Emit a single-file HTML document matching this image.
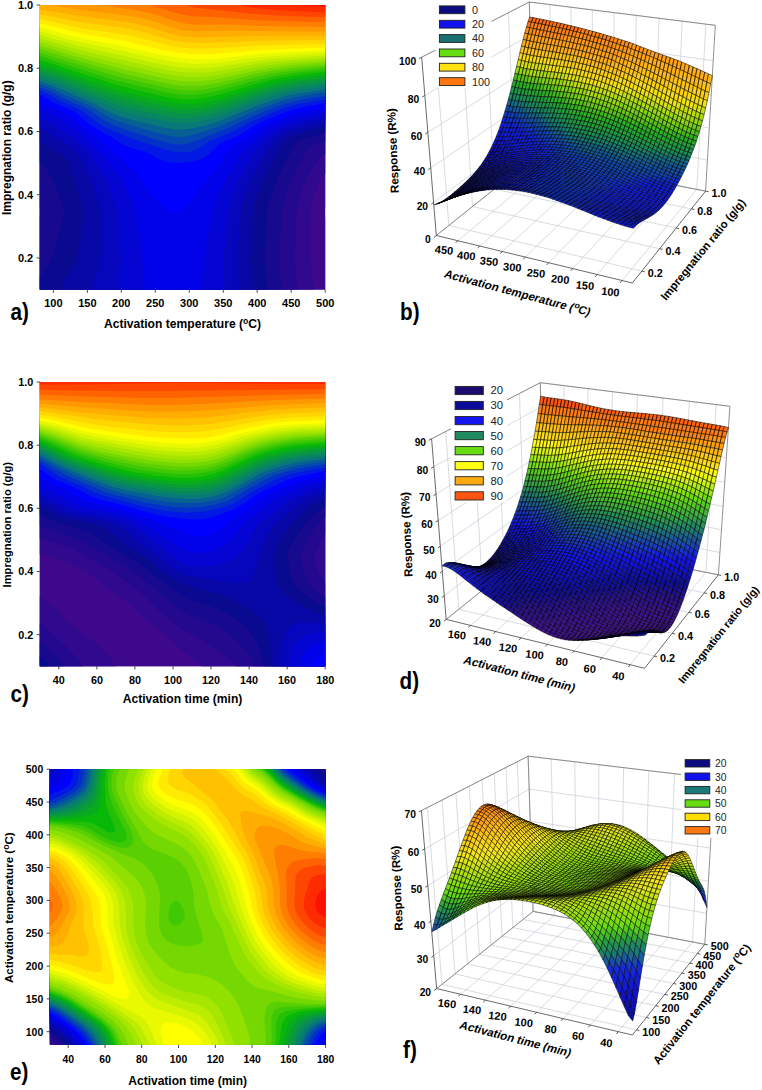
<!DOCTYPE html>
<html><head><meta charset="utf-8"><title>Figure</title>
<style>html,body{margin:0;padding:0;background:#fff}body{width:762px;height:1090px;overflow:hidden;font-family:"Liberation Sans",sans-serif}svg{display:block}</style>
</head><body>
<svg width="762" height="1090" viewBox="0 0 762 1090">
<rect width="762" height="1090" fill="#fff"/>
<g>
<rect x="39.8" y="5" width="285.4" height="284.6" fill="#4b088c"/>
<path fill="#3e088d" d="M39.8 289.6l285.4 0l0-70.6l-0.4-8.3l0.4-3.5l0-202.2l-285.4 0z"/>
<path fill="#31098e" d="M39.8 289.6l273.9 0l-3.1-31.1l0.3-50.2l2.3-9.6l5.3-14.3l3.7-7.2l3-3.3l0-168.9l-285.4 0z"/>
<path fill="#24098e" d="M39.8 289.6l257.8 0l-2.6-23.9l-0.3-7.2l2.1-45.4l0.7-7.2l4.9-16.7l4.6-12l4.2-7.2l5-7.2l4.2-5l2.4-2.3l2.4-1.6l0-148.9l-285.4 0z"/>
<path fill="#170a8f" d="M39.8 289.6l242.3 0l-2.7-23.9l-0.2-7.2l2.9-47.8l0.8-4.8l1.3-4.8l5.3-16.7l2.8-7.2l6.5-13l6.6-10.9l3.8-4.8l2.9-2.4l4.8-2.4l8.3-2.1l0-136.6l-285.4 0l0 202.1l1.1 3.6l-0.1 2.4l-1 3.5z"/>
<path fill="#0a0a90" d="M39.8 289.6l227.4 0l-2.8-28.7l2.4-47.8l0.5-4.8l1.2-4.8l7.4-21.5l2-4.8l11.3-22.9l4.4-8.2l1.7-2.4l2.7-2.4l4.9-2.4l8.1-2.4l14.2-3.2l0-128.3l-285.4 0l0 156.8l2.4 1.4l2 2l5.2 8.8l9.6 21l3.9 10.9l0.9 4.8l-0.4 4.8l-3 14.3l-3.8 14l-3.9 12.3l-2.2 4.8l-4.1 7.2l-4.2 6.3l-2.4 2.5z"/>
<path fill="#0808a6" d="M60.3 289.6l192.7 0l-2.3-28.7l2.4-50.2l0.8-4.8l1.4-4.8l8-21.5l15.3-28.7l4.3-7.2l1.8-2.4l2.1-1.8l4.9-3l7.1-2.7l15.3-4.4l11.1-2.6l0-121.8l-285.4 0l0 136.5l9.6 6.1l10.2 5.7l3.5 2.4l3.1 3.3l1.9 3.8l10 28.7l4.3 14.4l1 4.8l-0.3 7.2l-1.7 14.3l-2.3 14.4l-1.9 9.5l-1.6 4.8l-3.3 7.2l-11 19.1z"/>
<path fill="#0606bc" d="M90.9 289.6l148.2 0l-1.5-28.7l3.1-50.2l0.7-4.8l1.5-4.8l6-16.7l3.1-7.2l13.7-23.9l9.1-12l4.8-4.4l7.2-4.2l9.6-3.7l14.4-4.2l14.4-3.2l0-116.6l-285.4 0l0 122.3l4.8 2.4l12 9l14.4 9.5l4.8 3.9l3.4 3.6l2.9 4.8l9.9 21.5l6.2 19.1l2.4 9.6l0.3 21.5l-0.7 26.3l-1.4 7.2l-1.9 7.2z"/>
<path fill="#0404d3" d="M118.9 289.6l104.9 0l-0.2-31.1l4.9-50.2l2.1-7.2l8.4-21.5l10.6-19.1l2.8-4.8l3.6-4.8l14-14l7.2-5.2l9.6-4.7l9.6-3.3l14.4-4l14.4-2.9l0-111.8l-285.4 0l0 113l7.2 3.1l9.6 5.7l19.2 14l6.2 5.3l8.8 9.6l7.4 11.9l6.8 9.6l2.6 4.8l8.4 23.9l1.5 7.2l3.4 45.4l-0.5 12z"/>
<path fill="#0202e9" d="M145 289.6l56.6 0l2.6-31.1l2.3-14.3l7-35.9l2.6-7.2l10-21.5l15.2-26.3l4.4-4.8l9.9-7.4l9.6-8.1l5-3.6l4.6-2.7l10.6-4.5l13.4-4.5l12-3l14.4-2.7l0-107l-285.4 0l0 104.4l9.6 3.7l9.6 5.1l7.2 5l20.6 15.7l9.2 9.6l13.4 16.1l9.1 10.2l3.4 4.8l10.7 23.9l2.4 7.2l5.6 33.5z"/>
<path fill="#00f" d="M172.6 213.1l3.9-0.1l2.4-1l4.8-3.6l4.8-5l18.6-23.8l12.6-15.1l8.7-13.6l2-2.4l2.8-2.4l15.3-8.4l14.6-10.7l9.5-4.8l14.2-5.7l12-3.9l10.4-2.4l16-2.8l0-102.4l-285.4 0l0 96.4l7.8 4l11.7 4.8l6.9 3.5l4.8 3.4l12 9.9l13.8 9.5l2.9 2.4l9.7 9.9l18.7 16.4l5 4.8l6 7.2l11 15.8l7.2 8.2l9.6 9.2l2.4 1.6z"/>
<path fill="#0218e4" d="M162.3 160.5l7 1.7l4.8 0.5l7.2 0.1l9.6-1l9.6-2.4l4.8-2.2l4.8-3.5l6.7-7.6l3.1-2.4l4.8-2.4l14.2-5.9l4.8-2.6l12.7-8.2l4.8-2.4l18.4-7.9l11.3-4.1l12.7-3.1l21.6-4l0-98.1l-285.4 0l0 89.8l2.4 1.1l9.6 5.9l19.2 8.1l4.8 2.7l11.4 9.6l5.4 3.9l7.2 4.5l10.8 5.9l10.7 7.1l7.2 3.3l13.3 4l6.4 2.4l9.1 5.2z"/>
<path fill="#0330c9" d="M170.5 150.9l6 1.2l7.2 0.4l4.8-0.5l4.8-1.1l4.8-2.1l11.5-7.5l22.1-9l18.9-10.1l27.4-12l8.8-2.9l12-3.1l16.8-3.3l9.6-1.5l0-94.4l-285.4 0l0 85.6l6.6 2.9l12.6 7l16.8 7l5.3 2.7l16.3 12.3l4.8 2.9l7.2 3.7l26.3 10.9l28.8 9.3z"/>
<path fill="#0548ae" d="M171.3 143.7l5.2 0.8l4.8 0.1l4.8-0.6l4.8-1.3l34.2-13.3l25.6-12l16.4-7.2l10.1-3.9l9.6-2.9l12-3l12-2.3l14.4-2.1l0-91l-285.4 0l0 82.5l4 1.2l5.5 2.4l14.1 7.2l21.8 9.5l4.2 2.4l12.8 9.1l9.5 5l12 4.6l31.2 10.3l9.6 2.9z"/>
<path fill="#066093" d="M172.2 136.5l9.1 0.5l4.8-0.6l7.2-1.7l26.4-8.5l42.7-18.4l14.8-5.3l12-3.5l9.6-2.2l12-2.2l14.4-2l0-87.6l-285.4 0l0 79.6l4.8 1.3l7.1 2.8l16.9 8l19.2 8.3l7.2 3.7l12 7.5l9.5 4.4l12 4l31.2 9.1z"/>
<path fill="#087878" d="M175.5 129.4l5.8 0.2l7.2-0.6l7.2-1.2l9.6-2.1l14.4-4.6l40.7-16.6l19.2-6.6l9.6-2.6l9.6-2l26.4-3.9l0-84.4l-285.4 0l0 76.6l9.6 2.9l10.5 4.2l32.4 14.4l19.4 10l7.2 3l9.6 2.8l31.2 7.7l9.6 2z"/>
<path fill="#088562" d="M168.8 122.2l7.7 0.9l9.6 0.2l7.2-0.5l9.6-1.7l9.6-2.5l9.6-3.1l38-14.8l19.5-6.4l9.6-2.4l9.6-1.9l26.4-3.8l0-81.2l-285.4 0l0 73.3l7.2 2.1l14.4 5.3l34.7 15l18 8.1l7.2 2.7l12 3.2z"/>
<path fill="#08924b" d="M171.7 117.4l9.6 0.9l7.2 0l7.2-0.7l9.6-1.8l9.6-2.5l9.6-3.1l31.6-11.9l21.1-6.9l19.2-4.2l28.8-4.1l0-78.1l-285.4 0l0 69.7l4.8 1.4l19.2 6.9l45.6 18.8l11.9 4.5l14.4 3.7z"/>
<path fill="#089e35" d="M172.7 112.6l8.6 0.9l7.2 0l7.2-0.6l9.6-1.6l16.8-4.6l36.9-13.2l15.8-4.8l21.6-4.6l28.8-4l0-75.1l-285.4 0l0 66l4.8 1.3l19.2 6.8l35.9 14.4l19.2 6.8l16.8 4.6l26.4 5.8z"/>
<path fill="#08ab1e" d="M173 107.8l8.3 0.9l7.2 0.1l7.2-0.5l9.6-1.5l14.4-3.7l38.3-13l16.8-4.8l21.6-4.3l28.8-3.8l0-72.2l-285.4 0l0 62.2l24 8l36 13.7l16.7 5.7l19.2 5.1l26.4 6.1z"/>
<path fill="#08b808" d="M173.1 103.1l8.2 0.9l7.2 0.2l7.2-0.4l9.6-1.4l14.4-3.5l38.3-12.4l16.8-4.4l21.6-4.1l28.8-3.6l0-69.4l-285.4 0l0 58.5l25.8 8.5l36.6 13.1l14.3 4.6l12 3.2l31.2 7.5z"/>
<path fill="#23c006" d="M172.7 98.3l8.6 1l7.2 0.3l7.2-0.4l9.6-1.3l16.8-3.9l32.8-10.1l19.2-4.8l22.3-3.9l28.8-3.5l0-66.7l-285.4 0l0 54.8l74.3 24.5l19.2 5l28.8 6.8z"/>
<path fill="#3ec805" d="M171.8 93.5l9.5 1.3l7.2 0.3l7.2-0.3l9.6-1.2l14.4-3l31.7-9.1l21-5l24-4l28.8-3.2l0-64.3l-285.4 0l0 51.2l74.3 23.7l19.2 4.9z"/>
<path fill="#5ad003" d="M170.6 88.7l8.3 1.3l9.6 0.6l7.2-0.2l9.6-1l14.4-2.8l33.6-8.9l19.1-4.1l24-3.7l28.8-2.9l0-62l-285.4 0l0 47.7l74.3 22.8l19.2 4.8z"/>
<path fill="#75d802" d="M169.2 83.9l9.7 1.5l7.2 0.6l9.6 0l9.6-0.8l14.4-2.5l33.6-8.2l16.7-3.4l24-3.4l31.2-3l0-59.7l-285.4 0l0 44.1l33.6 10.4l40.7 11.6l19.2 4.8z"/>
<path fill="#90e000" d="M185.7 81.5l12.4 0.1l12-1.3l14.4-2.6l31.1-7l14.4-2.5l24-3.1l31.2-2.7l0-57.4l-285.4 0l0 40.6l36 10.8l47.9 12.8l43.2 9.8l9.6 1.6z"/>
<path fill="#a6e600" d="M182.2 76.7l13.5 0.6l12-0.8l12-1.8l33.6-6.8l16.7-2.7l24-2.6l31.2-2.4l0-55.2l-285.4 0l0 37.1l36 10.6l47.9 12.1l40.8 9.2z"/>
<path fill="#bcec00" d="M179.9 72l13.4 0.8l14.4-0.6l12-1.5l31.2-5.7l16.7-2.4l24-2.4l33.6-2.3l0-52.9l-285.4 0l0 33.5l28.8 8.5l14.4 3.7l70.9 16.5l15.4 3.1z"/>
<path fill="#d3f300" d="M178.2 67.2l15.1 1.2l14.4-0.4l12-1.3l31.2-5l16.7-2.1l26.4-2.2l31.2-1.8l0-50.6l-285.4 0l0 29.9l26.4 7.7l14.4 3.7l76.7 17.1z"/>
<path fill="#e9f900" d="M176.9 62.4l16.4 1.5l14.4-0.2l13.9-1.3l26.9-3.8l16.7-1.9l28.8-2l31.2-1.6l0-48.1l-285.4 0l0 26.3l4.8 1.1l20.5 6.1l13.1 3.3l35.9 7.3l45.6 10.2z"/>
<path fill="#ff0" d="M176.5 57.6l16.8 1.7l14.4 0l12-0.9l28.8-3.5l14.3-1.3l28.8-1.7l33.6-1.4l0-45.5l-285.4 0l0 22.5l7.2 1.6l21.6 6.2l9.6 2.4l40.7 7.6l36 8.3z"/>
<path fill="#ffea00" d="M179 52.8l14.3 1.4l14.4 0.1l12-0.7l43.1-3.8l62.4-2.4l0-42.4l-285.4 0l0 18.4l9.6 2.1l31.2 8l45.5 7.8l36 8.6z"/>
<path fill="#ffd600" d="M185.9 48l12.2 0.7l12-0.1l52.7-3.3l62.4-1.6l0-38.7l-285.4 0l0 13.8l43.2 9.6l45.5 6.9l12 2.7l26.4 7l9.6 1.9z"/>
<path fill="#ffc100" d="M175.7 40.9l12.8 1.7l14.4 0.5l57.5-2.3l64.8-1.1l0-34.7l-285.4 0l0 9.2l43.2 8.3l38.3 5.1l12 2.1l12 2.9l21.6 6.3z"/>
<path fill="#ffad00" d="M181.7 36.1l9.2 1l9.6 0.2l43.2-1.1l81.5-0.6l0-30.6l-285.4 0l0 4.3l40.8 6.8l38.3 4.8l14.4 2.2l14.4 3.4l22.8 7.2z"/>
<path fill="#ff9800" d="M193 31.3l36.3-0.5l95.9 0.6l0-26.4l-273 0l11.3 2.4l15.4 2.4l40 4.7l16.8 2.5l14.4 3.3l26.4 8.7l7.2 1.4z"/>
<path fill="#ff7d00" d="M297.1 26.5l28.1 0.4l0-21.9l-222.6 0l28.3 4.4l14.4 2.7l12 3.2l21.6 6.9l10 1.9l9.2 0.6l26.4-0.1l35.9 1.3z"/>
<path fill="#ff6200" d="M307.1 21.7l18.1 0.4l0-17.1l-175 0l6.8 2.4l21.9 6.3l7.2 1.6l7.2 1l31.2 1.5l38.3 2.6z"/>
<path fill="#ff4600" d="M313.7 17l11.5 0.3l0-12.3l-141.1 0l9.2 2.3l4.8 0.7l55.2 5.9l23.9 1.6z"/>
<path fill="#ff2b00" d="M318.8 12.2l6.4 0.2l0-7.4l-85.3 0l11.7 2.4l18.4 2.1l19.2 1.3z"/>
<path fill="#ff1000" d="M298.3 5l26.9 2.1l0-2.1z"/>
</g>
<line x1="53.4" y1="289.6" x2="53.4" y2="292.8" stroke="#222" stroke-width="0.8"/>
<text x="53.4" y="307.4" text-anchor="middle" font-size="11" font-family="Liberation Sans" font-weight="bold">100</text>
<line x1="87.4" y1="289.6" x2="87.4" y2="292.8" stroke="#222" stroke-width="0.8"/>
<text x="87.4" y="307.4" text-anchor="middle" font-size="11" font-family="Liberation Sans" font-weight="bold">150</text>
<line x1="121.3" y1="289.6" x2="121.3" y2="292.8" stroke="#222" stroke-width="0.8"/>
<text x="121.3" y="307.4" text-anchor="middle" font-size="11" font-family="Liberation Sans" font-weight="bold">200</text>
<line x1="155.3" y1="289.6" x2="155.3" y2="292.8" stroke="#222" stroke-width="0.8"/>
<text x="155.3" y="307.4" text-anchor="middle" font-size="11" font-family="Liberation Sans" font-weight="bold">250</text>
<line x1="189.3" y1="289.6" x2="189.3" y2="292.8" stroke="#222" stroke-width="0.8"/>
<text x="189.3" y="307.4" text-anchor="middle" font-size="11" font-family="Liberation Sans" font-weight="bold">300</text>
<line x1="223.3" y1="289.6" x2="223.3" y2="292.8" stroke="#222" stroke-width="0.8"/>
<text x="223.3" y="307.4" text-anchor="middle" font-size="11" font-family="Liberation Sans" font-weight="bold">350</text>
<line x1="257.2" y1="289.6" x2="257.2" y2="292.8" stroke="#222" stroke-width="0.8"/>
<text x="257.2" y="307.4" text-anchor="middle" font-size="11" font-family="Liberation Sans" font-weight="bold">400</text>
<line x1="291.2" y1="289.6" x2="291.2" y2="292.8" stroke="#222" stroke-width="0.8"/>
<text x="291.2" y="307.4" text-anchor="middle" font-size="11" font-family="Liberation Sans" font-weight="bold">450</text>
<line x1="325.2" y1="289.6" x2="325.2" y2="292.8" stroke="#222" stroke-width="0.8"/>
<text x="325.2" y="307.4" text-anchor="middle" font-size="11" font-family="Liberation Sans" font-weight="bold">500</text>
<line x1="36.6" y1="258.0" x2="39.8" y2="258.0" stroke="#222" stroke-width="0.8"/>
<text x="33.2" y="261.9" text-anchor="end" font-size="11" font-family="Liberation Sans" font-weight="bold">0.2</text>
<line x1="36.6" y1="194.7" x2="39.8" y2="194.7" stroke="#222" stroke-width="0.8"/>
<text x="33.2" y="198.6" text-anchor="end" font-size="11" font-family="Liberation Sans" font-weight="bold">0.4</text>
<line x1="36.6" y1="131.5" x2="39.8" y2="131.5" stroke="#222" stroke-width="0.8"/>
<text x="33.2" y="135.4" text-anchor="end" font-size="11" font-family="Liberation Sans" font-weight="bold">0.6</text>
<line x1="36.6" y1="68.2" x2="39.8" y2="68.2" stroke="#222" stroke-width="0.8"/>
<text x="33.2" y="72.1" text-anchor="end" font-size="11" font-family="Liberation Sans" font-weight="bold">0.8</text>
<line x1="36.6" y1="5.0" x2="39.8" y2="5.0" stroke="#222" stroke-width="0.8"/>
<text x="33.2" y="8.9" text-anchor="end" font-size="11" font-family="Liberation Sans" font-weight="bold">1.0</text>
<text x="182.5" y="328.0" text-anchor="middle" font-size="12.1" font-family="Liberation Sans" font-weight="bold">Activation temperature (<tspan dy="-4.3" font-size="8.6">o</tspan><tspan dy="4.3">C)</tspan></text>
<text transform="translate(11.3 147.7) rotate(-90)" text-anchor="middle" font-size="12" font-family="Liberation Sans" font-weight="bold">Impregnation ratio (g/g)</text>
<text transform="translate(10.5 319.7) scale(.88 1)" font-size="23.5" font-family="Liberation Sans" font-weight="bold">a)</text>
<g>
<rect x="39.8" y="382" width="285.4" height="284.2" fill="#4b088c"/>
<path fill="#3e088d" d="M39.8 666.2l285.4 0l0-284.2l-285.4 0z"/>
<path fill="#31098e" d="M39.8 666.2l75.9 0l-0.9-2.4l-3.3-4.8l-6.9-8l-6.4-6.3l-5.7-4.8l-14.3-9.5l-7.2-5.6l-4.4-4l-7.6-9.5l-2.4-2.4l-16.8-13zM199.4 663.8l1.6 2.4l124.2 0l0-284.2l-285.4 0l0 171.9l11.8 2.4l7.5 2.4l5.6 2.4l19.6 9.6l8.5 4.7l5.9 4.8l5.9 6l4.2 3.6l14.9 9.4l6.6 4.9l12.6 12.6l22.8 18.5l13.2 12.9l16.8 12.4z"/>
<path fill="#24098e" d="M39.8 666.2l42.8 0l-1-2.4l-1.7-2.4l-10.7-11.9l-24.6-22.7l-4.8-3.6zM235.5 666.2l89.7 0l0-83.7l-2.4-2.7l-3.7-6.7l-3.9-9.6l-1-4.8l0.1-2.4l1.3-4.7l7.2-13.7l2.4-3.2l0-152.7l-285.4 0l0 156.5l26.4 8l9.6 3.6l7.5 3.9l11.7 7.7l15.8 9l3.6 2.4l12.2 9.5l14.2 9.6l4.5 4.3l12 12.8l14.4 12.2l9.6 6.8l20.3 11.6l13.3 8.9l16.8 12.4l2.5 2.6z"/>
<path fill="#170a8f" d="M39.8 666.2l23.7 0l-1-2.4l-1.5-2.4l-6.5-7.1l-8.1-7.2l-4.2-3.1l-2.4-1.2zM252.8 663.8l0.6 2.4l71.8 0l0-68.8l-2.4-1.1l-5.5-4.1l-4.5-4.8l-3.6-4.8l-2.6-4.8l-2.6-7.1l-2.6-9.6l-0.6-4.8l0.1-2.3l1.7-4.8l12.7-21.5l5.1-6.3l2.4-2.2l2.4-1.6l0-135.6l-285.4 0l0 143.6l36 13.4l7.2 3l9.6 5.2l16.8 10.6l18.9 10.5l25.6 19.1l5.3 4.8l10.1 10.2l9.6 7.1l12 6.5l24.4 9.6l4.6 2.4l7 4.7l9.6 8.2l7.2 7.5l4.8 6.6l2.4 4.2z"/>
<path fill="#0a0a90" d="M39.8 666.2l9.2 0l-1.1-2.4l-1.9-2.4l-3.8-3.6l-2.4-1.4zM263.6 666.2l61.6 0l0-59.4l-2.4-0.8l-4.8-2.5l-10.1-6.6l-5.9-4.7l-6.8-7.2l-1.7-2.4l-2-4.8l-2.6-11.9l-1.3-9.6l0.5-4.7l2.1-4.8l4.2-7.2l7.8-11.9l3.9-4.8l7.1-7.2l7.2-6.3l4.8-3.1l0-124.3l-285.4 0l0 132.5l9.6 4.7l32.6 10.9l11 4.7l6.8 4.1l14.4 10.3l24.9 14.3l17.9 14.3l13.7 9.6l8.2 6.3l4.8 3l9.6 4.1l16.8 5.1l7.2 2.7l9.6 4.7l8.3 5.1l6.1 4.6l4.8 4.5l4.5 5.3l3.2 4.7l3.7 7.2l2.7 7.2l2.6 9.5z"/>
<path fill="#0808a6" d="M272 666.2l53.2 0l0-50.9l-4.8-1l-7.2-2.4l-9.6-4.7l-14.4-9.7l-7.2-6.7l-4.3-5.8l-1.7-4.8l-1.4-11.9l-0.3-9.6l0.7-7.1l2.8-7.2l5.2-9.6l6.9-9.5l12.3-11.9l8.4-7.2l7.5-4.8l7.1-2.9l0-116.5l-285.4 0l0 123.9l2.4 1.1l9.6 5.9l7.2 3.1l9.6 2.7l26.4 5.6l3.6 1l5.9 2.4l6.9 4.8l13.7 11.9l20.2 12.7l5.3 4l11.5 9.9l9.6 6.4l9.6 4.9l12 4.8l9.6 2.9l16.8 4.1l8.2 2.8l9.8 4.8l15.5 9.6l4.8 3.7l3.4 3.4l3.2 4.8l2 4.8l2.2 9.5z"/>
<path fill="#0606bc" d="M279.9 666.2l45.3 0l0-42.8l-19.2-1l-7.2 0.4l-4.8 1.3l-2.4 1.4l-2.4 2l-2.4 2.9l-2.4 4.1l-2.8 7.8l-1.1 7.2zM234.3 582.6l7 0.5l4.8-0.5l2.4-0.9l2.1-1.5l1.8-2.4l2-4.7l3.3-12l6.8-19.1l5.5-11.6l3.8-5.1l19.6-16.7l6.2-4.8l3.8-2.4l7.4-3.6l9.6-3.9l4.8-1.4l0-110.5l-285.4 0l0 118l4.8 1.8l14.4 8.1l7.2 2.9l9.6 2.5l28.8 5.2l8 2.4l5.6 2.4l3.8 2.4l16.1 14l16.8 12l14.1 12.2l5.1 3.4l7.2 3.6l7.2 2.4l9.6 2.2z"/>
<path fill="#0404d3" d="M288.4 666.2l36.8 0l0-34.4l-9.6 1.4l-7.3 2l-7.1 3.2l-4.8 3.9l-2.4 2.9l-2.4 4.7l-2.4 9.1zM189.7 565.9l6 0.9l4.8 0.2l4.8-0.2l7.2-0.9l12-3.2l9.6-4.3l4.8-3.3l4.8-5.1l4.8-7.8l7-14.5l1.9-2.4l2.5-2.4l12.9-9.5l11.6-9.6l3.6-2.4l8.4-4.2l12.5-5.3l9.1-3.3l7.2-1.9l0-104.7l-285.4 0l0 112.1l4.8 1.4l4.8 2l15.4 8.7l5.1 2.4l3.5 1.2l7.2 1.8l28.8 4.9l9.5 2.9l8.8 3.5l4.7 2.4l3.7 2.4l27.6 21.5l14.6 11.9l5.4 2.9z"/>
<path fill="#0202e9" d="M298.3 666.2l26.9 0l0-25.1l-4.8 1.3l-5.9 2.3l-4.2 2.4l-3 2.4l-3.7 4.3l-2.4 4l-1.6 3.6zM188.7 551.6l7 1.3l7.2-0.3l9.6-2.2l9.6-3.9l4.8-3l4.8-4l3.9-4.7l6.6-9.5l2.3-2.4l5.8-4.8l10.1-7.2l11.7-9.5l3.6-2.4l8.7-4.2l19.2-7.9l12-3.8l9.6-2l0-99.1l-285.4 0l0 104.5l16.8 6.8l16.8 9.5l7.2 3.1l9.6 2.4l16.8 2.8l9.5 2.1l9.6 3.2l15.9 6.5l9 4.8l27.9 19.1l4.8 2.7z"/>
<path fill="#00f" d="M311.3 666.2l13.9 0l0-13.9l-4.8 2.7l-4.6 4l-2.6 3.2zM188.3 534.8l5 1.2l7.2 0.5l7.2-1l4.8-1.6l7.2-4l17.5-14.2l13.7-8.3l10.4-8.4l3.4-2.4l4.3-2.4l29.8-12.4l9.6-2.8l16.8-3.2l0-93.8l-285.4 0l0 94.8l8.8 5.5l16.8 7.2l12.8 7.4l7.2 3.5l7.2 2.4l23.9 5.4l14.4 4.3l30 10.4l6 2.4l14.4 6.8z"/>
<path fill="#0218e4" d="M179.2 518.1l11.7 1.1l7.2 0.1l7.2-0.7l7.2-1.7l14.4-5l9.6-3.9l7.4-4.2l12.8-9.6l6.1-3.2l24.5-11.1l7.1-2.4l6.8-1.6l24-4.8l0-89.1l-285.4 0l0 86.5l2.4 1.6l6 5l6 3.8l19.5 8.2l14.1 7.7l7.2 3l7.2 2.2l23.9 6.1l28.8 8.2l12 2.3z"/>
<path fill="#0330c9" d="M165.4 511l15.9 1.4l14.4-0.2l14.4-1.8l12-2.7l7.2-2.5l4.8-2.2l4.8-2.8l12.3-8.3l23.6-12l5.6-2.4l7.3-2.4l9.6-2.3l13.5-2.9l14.4-2.3l0-85.6l-285.4 0l0 82l3.3 1.6l8.7 6.2l7.2 4.4l7.2 3.4l18.1 7.5l9.2 4.8l6.3 2.6l9.6 3l35.9 9.4l12 2.7z"/>
<path fill="#0548ae" d="M164.8 506.2l14.1 1.4l12 0.1l14.4-1.2l12-2.2l7.2-2.3l4.8-2l13.5-8.1l12.8-7.1l14.1-7.3l5.8-2.4l8.9-2.8l14.4-3.5l14.4-2.7l12-1.6l0-82.5l-285.4 0l0 78.6l2.4 1l16.8 10l7.2 3.7l38.4 16.6l9.5 2.9l31.2 7.6z"/>
<path fill="#066093" d="M163.1 501.4l13.4 1.5l14.4 0.4l12-0.8l12-2l7.2-2.3l4.8-2l33.9-18.7l11.6-5l12-3.7l13.4-3.2l14-2.4l13.4-1.6l0-79.6l-285.4 0l0 75.5l21.6 11.5l9.6 4.7l38.4 15.8l14.3 3.9l26.4 5.7z"/>
<path fill="#087878" d="M186.1 499l9.6-0.1l7.2-0.5l12-2.2l4.8-1.5l7.2-3l12-6.1l18.5-10.5l5.4-2.5l9.6-3.6l11-3.4l10.6-2.5l13.4-2.3l17.8-2.1l0-76.7l-285.4 0l0 72.6l2.4 1l16.8 9.1l14.4 6.6l21.6 9l19.1 6.9l12 3.1l31.2 5.8l14.4 2z"/>
<path fill="#088562" d="M172.4 494.2l11.3 0.9l12 0l9.6-0.9l7.2-1.4l7.2-2.2l7.2-2.9l9.6-4.8l18-10.1l8.3-3.8l9.6-3.5l9.6-2.9l12-2.6l14.4-2.2l16.8-1.8l0-74l-285.4 0l0 69.8l4.2 1.8l15 8.2l9.6 4.4l26.4 10.7l16.7 6.1l9.6 2.7l12 2.5l26.4 4.4z"/>
<path fill="#08924b" d="M161.9 489.5l14.6 1.7l12 0.5l12-0.5l9.6-1.6l7.2-2l7.2-2.7l9.6-4.7l19.2-10.4l9.5-4.2l9.6-3.5l9.6-2.6l12-2.4l14.4-2.1l16.8-1.7l0-71.3l-285.4 0l0 67.2l4.8 2.1l14.4 7.7l9.6 4.4l28.8 11.2l12 4.3l9.5 2.8l12 2.7z"/>
<path fill="#089e35" d="M168.6 487.1l12.7 1l9.6 0.2l9.6-0.7l9.6-1.6l7.2-2.1l7.2-2.8l28.8-14.8l7.1-3.1l9.6-3.5l12-3.2l12-2.3l14.4-1.9l16.8-1.6l0-68.7l-285.4 0l0 64.8l4.8 1.9l16.8 8.8l9.6 4.3l40.7 14.6l9.6 2.7l12 2.6l19.2 3.2z"/>
<path fill="#08ab1e" d="M178.5 484.7l10 0.2l7.2-0.3l7.2-0.8l7.2-1.5l12-3.9l31.2-15.5l9.5-3.9l7.2-2.3l12-3l13-2.4l13.4-1.7l16.8-1.5l0-66.1l-285.4 0l0 62.4l4.8 1.8l19.2 9.7l9.6 4.2l12 4.3l28.7 9.5l14.3 3.6l14.5 2.8l19.2 2.8z"/>
<path fill="#08b808" d="M162.4 479.9l14.1 1.3l12 0.3l9.6-0.7l9.6-1.6l7.2-1.9l7.2-2.6l31.2-15.1l7.1-2.8l7.2-2.3l12-3.1l13.3-2.5l15.5-1.9l16.8-1.3l0-63.7l-285.4 0l0 60.1l5.4 2l21 10.1l9.6 4.1l31.2 10.2l11.9 3.5l12 2.8l15 2.7z"/>
<path fill="#23c006" d="M172.8 477.5l8.5 0.4l9.6-0.1l9.6-0.9l7.2-1.3l7.2-1.9l7.2-2.6l28.8-13.6l9.5-3.7l8.7-2.5l12.9-3.1l12-2.1l14.4-1.6l16.8-1.2l0-61.3l-285.4 0l0 57.8l5.4 1.9l23.4 10.9l9.6 3.9l12 3.9l21.5 6.3l14.2 3.7l12.2 2.4l19.2 3.1z"/>
<path fill="#3ec805" d="M160.7 472.8l13.4 1.2l12 0.3l9.6-0.5l9.6-1.3l7.2-1.7l7.2-2.3l7.2-3l24-11l8.9-3.2l8.1-2.4l11.7-2.8l12-2.1l14.4-1.6l19.2-1.4l0-59l-285.4 0l0 55.6l7.2 2.5l28.8 12.7l14.4 4.8l23.9 6.4l14.4 3.5l14.4 2.7z"/>
<path fill="#5ad003" d="M175.2 470.4l8.5 0.2l9.6-0.3l7.2-0.7l7.2-1.2l12-3.4l28.8-12.5l9.5-3.4l9.6-2.8l12-2.7l12-2l14.4-1.5l19.2-1.3l0-56.8l-285.4 0l0 53.5l9.6 3.3l28.8 12l19.2 5.8l23.9 5.8l16.8 3.4l19.2 2.9z"/>
<path fill="#75d802" d="M161.8 465.6l12.3 1l12 0.3l9.6-0.4l9.6-1.2l7.2-1.6l7.2-2.2l28.8-11.9l9.5-3.2l12-3.3l12-2.4l12-1.7l14.4-1.4l16.8-0.9l0-54.7l-285.4 0l0 51.5l10.9 3.4l27.5 11l14.4 4.4l40.7 9.1l14.4 2.4z"/>
<path fill="#90e000" d="M182.6 463.2l15.5-0.6l7.2-0.9l7.2-1.5l9.6-3l28.8-11.3l11.9-3.6l12-2.7l9.6-1.7l12-1.5l28.8-1.8l0-52.6l-285.4 0l0 49.4l10.6 3.1l30.2 11.3l19.2 5.2l28.7 5.9l19.2 3.3l19.2 2.2z"/>
<path fill="#a6e600" d="M163.8 458.4l10.3 0.8l12 0.3l9.6-0.3l9.6-1.1l12-2.8l33.6-12.2l9.5-2.8l9.6-2.2l12-2.2l12-1.6l14.4-1.1l16.8-0.8l0-50.4l-285.4 0l0 47.3l12 3.4l26.4 9.5l14.4 4l43.1 8.5l14.4 2.2z"/>
<path fill="#bcec00" d="M153.7 453.6l13.2 1.3l14.4 0.8l12-0.1l9.6-0.9l7.2-1.2l7.2-1.8l33.6-11.4l19.1-4.8l12-2l12-1.5l14.4-1.1l16.8-0.6l0-48.3l-285.4 0l0 45.2l12 3.2l28.8 9.5l12 3.2l38.3 7.2z"/>
<path fill="#d3f300" d="M168.5 451.3l20 0.6l9.6-0.4l7.2-0.9l7.2-1.3l7.2-1.9l31.2-10.1l19.1-4.3l12-2l12-1.4l31.2-1.5l0-46.1l-285.4 0l0 43.1l12 2.9l28.8 8.9l14.4 3.5l45.5 7.8l14.4 1.8z"/>
<path fill="#e9f900" d="M157.5 446.5l14.2 1.1l12 0.4l9.6-0.2l9.6-0.7l14.4-2.7l28.8-8.8l9.5-2.4l14.4-2.9l12-1.9l12-1.3l31.2-1.3l0-43.8l-285.4 0l0 40.9l12 2.6l26.4 7.7l15.8 3.7l41.7 6.8z"/>
<path fill="#ff0" d="M150.3 441.7l16.6 1.4l14.4 0.7l12-0.1l9.6-0.7l12-1.9l28.8-8.3l16.7-3.8l12-2.2l21.6-2.4l31.2-1.2l0-41.2l-285.4 0l0 38.5l14.4 2.8l23.2 6.5l15.2 3.3l23.5 3.8z"/>
<path fill="#ffea00" d="M151.7 436.9l15.2 1.2l14.4 0.5l12 0.1l9.6-0.6l9.6-1.4l33.6-8.4l23.9-4.7l24-2.5l31.2-1l0-38.1l-285.4 0l0 35.8l16.8 3l26.4 6.5l9.6 1.8l38.8 5.4z"/>
<path fill="#ffd600" d="M179.7 432.2l16-0.2l14.4-1.4l12-2.1l33.5-6.9l21.6-3.1l21.6-1.6l26.4-0.7l0-34.2l-285.4 0l0 32.5l14.4 2.3l31.2 6.2l12 1.9l50.3 5.6l16.8 1.2z"/>
<path fill="#ffc100" d="M159.8 425l23.9 0.4l19.2-0.9l14.4-1.6l33.6-5.6l21.5-2.8l24-1.8l28.8-0.8l0-29.9l-285.4 0l0 29.1l55.2 7.9l45.5 4.6z"/>
<path fill="#ffad00" d="M147.3 417.8l24.4 0.8l26.4-0.7l16.8-1.4l36-4.5l21.5-2.2l21.6-1.4l31.2-0.8l0-25.6l-285.4 0l0 25.4l48 5.5z"/>
<path fill="#ff9800" d="M133.7 410.7l28.4 1.1l28.8-0.5l21.6-1.2l62.3-5.2l21.6-1l28.8-0.8l0-21.1l-285.4 0l0 21.7l43.2 3.6z"/>
<path fill="#ff7d00" d="M118.4 403.5l31.7 1.4l28.8-0.1l28.8-1.1l67.1-3.7l50.4-1.4l0-16.6l-285.4 0l0 17.4l38.4 2.3z"/>
<path fill="#ff6200" d="M83.4 396.3l59.5 1.6l21.6 0.1l40.8-0.9l67.1-2.2l52.8-1l0-11.9l-285.4 0l0 12.7z"/>
<path fill="#ff4600" d="M39.8 389.2l0 0.5l31.2 0.7l76.7 0.6l177.5-1.8l0-7.2l-285.4 0z"/>
<path fill="#ff2b00" d="M46.5 384.4l38.9 0.1l98.3-1.8l100.7 1.4l26.4 0l14.4-0.1l0-2l-285.4 0l0 2.3z"/>
</g>
<line x1="58.8" y1="666.2" x2="58.8" y2="669.4" stroke="#222" stroke-width="0.8"/>
<text x="58.8" y="684.0" text-anchor="middle" font-size="10.8" font-family="Liberation Sans" font-weight="bold">40</text>
<line x1="96.9" y1="666.2" x2="96.9" y2="669.4" stroke="#222" stroke-width="0.8"/>
<text x="96.9" y="684.0" text-anchor="middle" font-size="10.8" font-family="Liberation Sans" font-weight="bold">60</text>
<line x1="134.9" y1="666.2" x2="134.9" y2="669.4" stroke="#222" stroke-width="0.8"/>
<text x="134.9" y="684.0" text-anchor="middle" font-size="10.8" font-family="Liberation Sans" font-weight="bold">80</text>
<line x1="173.0" y1="666.2" x2="173.0" y2="669.4" stroke="#222" stroke-width="0.8"/>
<text x="173.0" y="684.0" text-anchor="middle" font-size="10.8" font-family="Liberation Sans" font-weight="bold">100</text>
<line x1="211.0" y1="666.2" x2="211.0" y2="669.4" stroke="#222" stroke-width="0.8"/>
<text x="211.0" y="684.0" text-anchor="middle" font-size="10.8" font-family="Liberation Sans" font-weight="bold">120</text>
<line x1="249.1" y1="666.2" x2="249.1" y2="669.4" stroke="#222" stroke-width="0.8"/>
<text x="249.1" y="684.0" text-anchor="middle" font-size="10.8" font-family="Liberation Sans" font-weight="bold">140</text>
<line x1="287.1" y1="666.2" x2="287.1" y2="669.4" stroke="#222" stroke-width="0.8"/>
<text x="287.1" y="684.0" text-anchor="middle" font-size="10.8" font-family="Liberation Sans" font-weight="bold">160</text>
<line x1="325.2" y1="666.2" x2="325.2" y2="669.4" stroke="#222" stroke-width="0.8"/>
<text x="325.2" y="684.0" text-anchor="middle" font-size="10.8" font-family="Liberation Sans" font-weight="bold">180</text>
<line x1="36.6" y1="634.6" x2="39.8" y2="634.6" stroke="#222" stroke-width="0.8"/>
<text x="33.2" y="638.5" text-anchor="end" font-size="10.8" font-family="Liberation Sans" font-weight="bold">0.2</text>
<line x1="36.6" y1="571.5" x2="39.8" y2="571.5" stroke="#222" stroke-width="0.8"/>
<text x="33.2" y="575.4" text-anchor="end" font-size="10.8" font-family="Liberation Sans" font-weight="bold">0.4</text>
<line x1="36.6" y1="508.3" x2="39.8" y2="508.3" stroke="#222" stroke-width="0.8"/>
<text x="33.2" y="512.2" text-anchor="end" font-size="10.8" font-family="Liberation Sans" font-weight="bold">0.6</text>
<line x1="36.6" y1="445.2" x2="39.8" y2="445.2" stroke="#222" stroke-width="0.8"/>
<text x="33.2" y="449.1" text-anchor="end" font-size="10.8" font-family="Liberation Sans" font-weight="bold">0.8</text>
<line x1="36.6" y1="382.0" x2="39.8" y2="382.0" stroke="#222" stroke-width="0.8"/>
<text x="33.2" y="385.9" text-anchor="end" font-size="10.8" font-family="Liberation Sans" font-weight="bold">1.0</text>
<text x="182.5" y="703.0" text-anchor="middle" font-size="12.1" font-family="Liberation Sans" font-weight="bold">Activation time (min)</text>
<text transform="translate(11.0 524.7) rotate(-90)" text-anchor="middle" font-size="11.2" font-family="Liberation Sans" font-weight="bold">Impregnation ratio (g/g)</text>
<text transform="translate(10.5 701.5) scale(.88 1)" font-size="23.5" font-family="Liberation Sans" font-weight="bold">c)</text>
<g>
<rect x="49.8" y="769.2" width="275.8" height="275.6" fill="#4b088c"/>
<path fill="#3e088d" d="M49.8 1044.8l275.8 0l0-275.6l-275.8 0z"/>
<path fill="#31098e" d="M50.1 1044.8l275.5 0l0-275.6l-275.8 0l0 275.4z"/>
<path fill="#24098e" d="M53.4 1042.5l2.6 2.3l269.6 0l0-275.6l-275.8 0l0 270.6z"/>
<path fill="#170a8f" d="M58.8 1042.5l2.3 2.3l264.5 0l0-275.6l-275.8 0l0 266.4l4.6 3.2z"/>
<path fill="#0a0a90" d="M63.7 1042.5l2 2.3l259.9 0l0-270l-3.4-3.3l-2.5-2.3l-269.9 0l0 262.5l7 4.6z"/>
<path fill="#0808a6" d="M68.1 1042.5l1.9 2.3l255.6 0l0-264l-4.6-3.6l-7.9-8l-263.3 0l0 258.8l4.8 2.9l6.3 4.6z"/>
<path fill="#0606bc" d="M72.2 1042.5l1.7 2.3l251.7 0l0-260.1l-3.1-1.6l-3.1-2.3l-11.7-11.6l-257.9 0l0 255.1l7 4.4l6 4.5l5.2 4.7z"/>
<path fill="#0404d3" d="M76 1042.5l1.7 2.3l247.9 0l0-257.3l-4.5-2.1l-3.4-2.3l-15.6-13.9l-246.3 0l-1.5 2.3l-2.2 2.3l-2.3 1.7l0 245.4l7 4.3l7.6 5.7l6.3 5.5z"/>
<path fill="#0202e9" d="M79.6 1042.5l1.5 2.3l244.5 0l0-255.1l-4.9-2l-7.2-4.6l-16.7-13.9l-235.7 0l-2 4.6l-2.3 3.2l-2.4 1.9l-4.6 2.3l0 236.5l9.3 5.9l9.2 7l7 6.6z"/>
<path fill="#00f" d="M84.4 1044.8l235.8 0l2.5-4.6l2.9-3.4l0-245.2l-4.6-1.6l-8.1-4.6l-20.9-16.2l-225.6 0l-1.4 6.9l-0.8 2.4l-1.4 2.3l-3.7 2.9l-9.3 3.5l0 227.6l4.6 2.6l6.2 4.2l12 9.3l7 7z"/>
<path fill="#0218e4" d="M86.1 1042.5l1.3 2.3l228.1 0l2.2-4.6l3-4.7l2.6-2.6l2.3-1.5l0-237.9l-4.6-1.6l-8.1-4.2l-6.8-4.6l-10.6-8.3l-8.1-5.6l-214.2 0l-1.1 9.3l-1.4 4l-2.1 2.9l-4.9 3.3l-13.9 6.1l0 217.4l9.3 5.5l14.5 10.9l7.4 6.9z"/>
<path fill="#0330c9" d="M89.1 1042.5l1.2 2.3l221.1 0l3.3-6.9l3.3-4.7l3-2.8l2.3-1.6l2.3-0.9l0-232.7l-7.6-2.8l-8.5-4.7l-6.9-4.6l-18.5-13.9l-204.4 0l-1.9 11.6l-2.3 4.6l-2.1 2.3l-2.8 2.3l-3.9 2.4l-12.3 6.2l-4.6 1.7l0 209.6l5 2.5l6.6 4.2l15.9 12l7.1 6.9z"/>
<path fill="#0548ae" d="M93.1 1044.8l214.6 0l3.2-6.9l3-4.7l2-2.3l2.6-2.3l2.5-1.6l4.6-1.7l0-228.4l-9.3-3.6l-10-5.6l-20.1-14.3l-4.6-4.2l-197.3 0l-1.3 9.3l-1.1 4.6l-2 3.7l-2.3 2.5l-3.7 3.1l-5.6 3.3l-11.6 5.9l-6.9 2.5l0 203.7l5 2.3l7.5 4.6l18.6 13.9l3.7 3.5l3 3.4l3.1 4.7z"/>
<path fill="#066093" d="M95.8 1044.8l208.4 0l1.9-4.6l2.5-4.7l3.1-4.3l2.3-2.5l4.6-3.3l3.3-1.4l3.7-1.1l0-224.4l-9.9-3.8l-12.5-7l-19.3-13.9l-4.5-4.6l-191.6 0l-2.2 13.9l-1 3.1l-2.6 3.8l-5.5 4.7l-8.1 4.6l-11.6 5.5l-7 1.8l0 199.2l4.7 1.9l8 4.7l13 9.2l8.9 7l6.2 6.9l3 4.7z"/>
<path fill="#087878" d="M97.5 1042.5l1.1 2.3l202.3 0l1.7-4.6l2.3-4.7l5.1-6.9l2.5-2.3l3.8-2.5l4.7-2l4.6-1.1l0-220.6l-4.6-1.5l-7-3.1l-13.7-7.8l-16.4-11.8l-2.4-2.1l-4.1-4.6l-186.6 0l-1.6 11l-1.2 5.2l-2.1 4.6l-3.7 4.2l-6.9 5l-11.6 5.7l-6.9 2.7l-7 1.3l0 194.9l7 3l5.7 3.3l10.2 6.9l12.4 9.3l6.8 6.9l3.2 4.7z"/>
<path fill="#088562" d="M100.3 1042.5l1 2.3l196.3 0l2.6-6.9l2.2-4.5l2.3-3.4l3.3-3.7l2.9-2.3l4-2.4l6.1-2.1l4.6-0.9l0-216.9l-6.7-2.4l-4.9-2.2l-8.8-4.7l-7.4-4.6l-13.9-9.8l-4.6-4.2l-3.9-4.6l-181.8 0l-1.8 11.6l-1.7 6.9l-2.2 4.7l-3.3 4l-7 5.1l-9.5 4.8l-9 3.2l-9.3 1.6l0 190.7l7 2.9l6.9 3.8l9.2 6.2l14 10.3l4.1 3.6l4 4.6l3 4.7z"/>
<path fill="#08924b" d="M103.1 1042.5l1 2.3l190 0l2.4-6.9l2.1-4.7l2.8-4.6l4.3-4.6l3.7-2.6l4.6-2.2l4.6-1.4l7-1.3l0-213.2l-7-2.6l-6.9-3.2l-9.3-5.1l-7.4-4.7l-8.8-6l-4.6-3.7l-4.4-4.2l-3.8-4.6l-177.2 0l-2.2 13.9l-1.7 6.9l-2.2 4.7l-3.2 4l-7 5.3l-4.6 2.6l-4.6 2l-9.3 2.9l-4.6 0.9l-7 0.7l0 186.8l7.9 3.2l8.3 4.6l23.1 16.3l5.2 4.6l3.9 4.6l2.8 4.7z"/>
<path fill="#089e35" d="M106.9 1044.8l183.6 0l3-9.3l2-4.6l2.9-4.6l4-4.2l4.2-2.8l5.1-2.1l6.9-1.7l7-1.1l0-209.6l-7-2.5l-6.9-3.3l-12-6.6l-7.4-4.7l-6.8-4.6l-5.7-4.6l-4.6-4.7l-3.8-4.6l-172.8 0l-1.9 13.9l-2 9.3l-1.9 4.6l-3.6 4.8l-7 5.3l-4.6 2.4l-4.6 1.8l-6.5 1.9l-5.1 1l-11.6 1l0 182.8l7.3 2.8l8.9 4.7l7.1 4.6l19.5 13.9l5 4.6l3.7 4.6l2.6 4.7z"/>
<path fill="#08ab1e" d="M109.8 1044.8l176.6 0l3.5-11.6l1.9-4.6l2.7-4.6l3.3-3.4l5.8-3.6l5.8-2l6.9-1.4l9.3-1.2l0-206.2l-7-2.4l-9.3-4.5l-12.2-6.9l-10.9-7l-8.5-6.9l-8.3-9.3l-168.4 0l-3.4 25.5l-2.6 6.9l-3.5 4.7l-2.8 2.3l-4 2.3l-9.4 3.5l-11.6 2.2l-13.9 0.6l0 178.9l11.5 4.7l8.2 4.6l20.5 13.9l6.1 4.7l4.9 4.6l3.4 4.6z"/>
<path fill="#08b808" d="M111.5 1042.5l1 2.3l169.9 0l3.2-13.9l1.5-4.6l2.6-4.7l2.1-2.3l3.2-2.3l2.8-1.4l6.9-2.3l7-1.4l13.9-1.4l0-203l-9.3-3.4l-5.2-2.5l-12.4-6.9l-11.4-7l-3.5-2.3l-5.5-4.6l-4.7-4.7l-6.1-6.9l-164 0l-2.7 30.7l-2.3 8.6l-2.3 3.5l-2.4 1.7l-4.6 1.7l-13.9 2.8l-11.6 0.9l-13.9 0l0 175.2l10.6 4.2l8.7 4.6l27.5 18.5l5.3 4.7l3.9 4.6l2.7 4.6z"/>
<path fill="#23c006" d="M113.9 1042.5l1 2.3l163.8 0l1-4.6l1.9-14.8l2.3-5.7l2.3-2.7l4.6-2.9l5.1-1.7l4.2-1l8.6-1.3l16.9-1.2l0-200.1l-7.1-2.5l-9.1-4.4l-24.3-14.2l-3.5-2.5l-5-4.4l-11.1-11.6l-159.1 0l-0.8 4.6l-0.7 13.9l1.2 16.2l1 4.7l1.6 4.6l6.1 13.9l0.5 2.3l-0.6 2.7l-2.3 0.7l-4.7-0.8l-12-7.2l-4.2-1.8l-4.6-1.1l-37.1-1.1l0 172l9.1 3.4l9.3 4.6l25 16.2l6.3 4.6l5.2 4.7l3.7 4.6l2.6 4.6z"/>
<path fill="#3ec805" d="M116.1 1042.5l1 2.3l158 0l0.8-4.6l0.1-11.6l0.7-7l1.4-4.6l1.4-2.3l2.1-1.7l4.6-2l9.3-1.7l11.6-1.1l18.5-0.9l0-197.5l-7-2.4l-6.9-3.1l-16.2-9.1l-11.6-7l-7-5.7l-13.4-13.3l-153.6 0l-1.3 4.6l-0.6 9.3l0.1 4.6l1 7l2.1 6.9l5.2 11.6l9.5 18.5l0.9 4.7l-0.4 2.3l-1.6 2.3l-3.2 1.3l-2.3 0.1l-4.6-0.9l-7-2.2l-4.6-2.1l-13.9-8.8l-7-2.5l-11.5-1.7l-20.9-1.7l0 168.9l11.6 4.4l9.3 4.8l28.6 18.7l5.5 4.7l4.3 4.6l3.3 5.1z"/>
<path fill="#5ad003" d="M118.5 1042.5l0.9 2.3l151.7 0l0.8-6.9l-0.6-13.9l0.1-4.7l0.9-5l0.7-1.9l1.6-2.4l3.8-2.3l5.5-0.9l41.7-1l0-194.9l-4.6-1.5l-9.3-4l-25.5-14.5l-9.3-6.9l-11.6-11.4l-3.9-3.4l-147 0l-2 4.6l-0.8 4.7l-0.2 6.9l0.6 4.6l2.2 7l3.5 6.9l4 9.3l7.8 13.9l2.1 4.6l1.2 4.7l0.3 4.6l-0.5 2.3l-1.7 2.7l-2.3 1.4l-2.3 0.6l-4.7-0.2l-4.6-1l-6.9-2.4l-7-2.9l-16.2-9.4l-7-3l-7.6-2l-6.3-1.1l-9.2-1.4l-7-0.4l0 165.8l9.3 3.3l9.2 4.4l7 4l25.5 16.7l6.6 5.6l4.2 4.6l4.1 6.9zM172.6 924.7l-2.3-2.2l-1.2-2.8l-0.7-4.6l0.5-4.6l1.4-4.3l2.3-3.8l2.4-1.8l2.3 0.1l2.3 2.1l2.3 3.6l1.9 4.1l1.1 4.6l-0.3 2.3l-1 2.3l-1.6 2.4l-2.4 2.1l-2.3 1.1l-2.3 0.2z"/>
<path fill="#75d802" d="M121.4 1042.5l1.1 2.3l142.5 0l0.6-2.3l0.3-4.6l-1.4-16.3l0.2-6.9l1.6-7l1.4-2.3l2.3-2l2.3-1.2l4.6-0.7l18.6 1.7l20.8 0.9l9.3-0.2l0-191.6l-7-2.4l-9.2-4.3l-25.5-14.6l-7-5.5l-11.6-10.9l-6.5-5.4l-138.4 0l-2.4 4.6l-1.5 4.7l-0.5 6.9l1 5.6l2.3 6l7 14.9l10.5 17.5l5.7 11l2.3 3.1l4.7 4l4.6 2.2l16.2 6.2l7 3.8l4.6 4l2.3 2.8l3 4.6l1.7 3.8l2.4 7.8l1.5 6.9l0.7 4.7l0.4 9.2l0.7 4.7l4.3 16.2l3.2 9.2l0.7 4.7l-0.5 2.3l-1.9 2.6l-4.6 2l-6.9 0.8l-9.3-0.2l-7-1.8l-4.6-2.6l-2.3-1.8l-2.3-2.6l-2.1-3.4l-1.7-4.6l-0.9-6.9l1.5-23.2l-0.5-7l-1-4.3l-2.9-7.2l-4-6.9l-4.7-5.8l-4.6-4.4l-6.9-4.3l-18.6-7.2l-11.6-5.2l-23.7-12.6l-5.3-2.3l-7.3-2.3l-10.4-2.3l-8.9-0.8l0 161.9l11.6 4.3l9.3 4.5l23.1 14.3l9.3 6.4l7.3 6.3l4.1 4.6l3 4.6z"/>
<path fill="#90e000" d="M128.5 1044.8l121.5 0l-0.2-4.6l-0.8-4.7l-4.9-16.2l-5.5-13.9l-3.7-6.9l-5.3-7l-7.6-6.9l-7.6-4.9l-7-3l-9.3-2.1l-13.9-1.7l-4.6-1.4l-4.6-2l-4.7-2.6l-4.6-3.5l-4.7-4.4l-7.8-9.2l-4.4-6.9l-1.8-4.6l-1.1-4.7l-0.7-9.2l1-18.6l-0.6-6.9l-1-4.6l-1.6-4.7l-2.4-4.6l-3.3-4.6l-4.1-4.7l-15.9-13.9l-6-4.6l-7.2-4.6l-24.2-13.1l-6.6-3.1l-11.9-4.4l-7-1.6l-4.6-0.6l0 155.5l11.6 4.1l11.6 5.4l23.2 13.9l9.2 6.2l8.3 6.7l6.5 7l2.8 4.6zM318.6 1000.8l7 0l0-186.3l-11.6-4.3l-4.6-2.3l-27.8-15.9l-4.7-3.5l-11.6-10.6l-10.6-8.7l-125.2 0l-3.9 9.3l-1.1 6.9l0.5 4.6l1.3 4.7l4.9 11.6l4.4 6.9l4.6 5.9l6.9 7.8l4.7 4.3l6.9 4.6l16.3 7.2l6.9 4l6.5 5.6l5.1 6.7l4.6 9l8.7 21.3l3 13.9l2.2 7l2.1 4.6l5.5 9.3l2.3 4.6l7.4 23.2l2.6 6.9l3.7 7l3.2 4.6l10.3 11.8l4.7 3.5l4.6 2.1l6.9 2l9.3 1.9l11.6 3.6l7 1.7z"/>
<path fill="#a6e600" d="M135.3 1042.5l1.2 2.3l97.9 0l-2.7-9.3l-10.2-23.1l-4.6-7l-4.9-4.9l-4.6-3.3l-4.6-2.1l-7-1.7l-11.6-1.8l-6.9-2.2l-7-2.8l-6.9-3.8l-4-2.8l-3-2.8l-3.4-4.2l-12.8-21.7l-3.8-8.4l-1.8-7l-1-6.9l-0.6-23.2l-0.9-6.9l-1.4-4.6l-2.1-4.7l-2.9-4.6l-3.8-4.6l-17.8-18.6l-5.8-4.6l-9.1-6l-11.6-6.8l-13.9-6.4l-6.9-2.4l-7-1.3l0 147.4l15.4 5.2l10 4.6l24 13.9l10.4 7l9 6.9l7.2 7l4.8 6.9zM316 996.2l5 0.7l4.6 0.1l0-179.8l-11-4l-5.1-2.3l-16.3-9.7l-12.5-6.5l-6.1-4.6l-11.6-10.4l-7.9-5.9l-4.6-4.6l-112.2 0l-3.9 9.3l-1.3 6.9l0.6 7l1.4 4.6l2 4.6l1.4 2.3l4 5.1l9.3 8.6l9.2 6.5l18.6 9l6.9 4.2l7 6.4l6.9 8.7l4.7 8.1l9.3 22.2l2.5 6.9l3.7 13.9l1.6 4.7l8.4 15.7l6.2 14.4l6.6 13.9l4.1 6.9l5.1 7l5.8 6.7l4.6 4.2l4.7 3.1l6.9 3.7l9.3 4l9.3 3.4z"/>
<path fill="#bcec00" d="M141.9 1042.5l1.3 2.3l82.4 0l-1.2-4.6l-1.9-4.7l-9.2-18.5l-3.1-4.6l-2.8-2.9l-2.5-1.8l-4.5-2.1l-18.5-5.1l-16.2-6l-7-3.6l-4.6-3.6l-2.6-2.7l-4.4-5.5l-4.6-7.8l-9.3-19.1l-2.7-7l-2.6-9.3l-1.7-9.2l-0.4-18.5l-0.8-7l-2.1-6.9l-3.7-7l-5.4-6.9l-15-16.2l-5.2-4.7l-6.1-4.6l-9.9-6.4l-9.3-4.8l-9.2-4l-4.7-1.4l-4.6-0.8l0 141.4l13.9 4.4l11.6 5l20.9 11.5l13.9 8.8l14.7 10.7l7.3 7l3.6 4.6zM321.7 993.8l3.9 0.2l0-174.6l-9.3-3.3l-6.9-3.1l-7-3.8l-9.2-5.8l-14-7.2l-5.1-3.8l-11.1-9.9l-9.2-6.8l-2.4-2l-3.9-4.5l-104.4 0l-3.5 9.3l-1.3 6.9l0.7 7l1.2 3.5l1.7 3.4l2.9 4l2.8 3l6.5 5.5l4.6 3.4l9.3 5.4l14.5 6.5l7.2 4.6l7.3 7l8.1 10.1l3.8 6.1l3.3 6.9l9.5 23.2l6.8 20.8l12.6 27.8l9.5 18.6l8.4 11.5l6.2 7l5.4 4.6l6.3 4.2l7 3.6l6.9 3l7 2.3l16.2 4.1z"/>
<path fill="#d3f300" d="M148.8 1042.5l1.3 2.3l68.4 0l-1.3-4.6l-2.1-4.7l-7.7-12.3l-3.1-3.9l-3.9-3.3l-6.9-3.3l-27.1-9.6l-7.7-3.2l-6.3-3.7l-5.3-5.4l-6-8.5l-4-7l-8.2-18.5l-3.5-9.3l-3.4-11.6l-2-9.2l-0.4-4.6l-0.1-13.9l-0.9-7l-2.1-6.9l-3.8-7l-3.6-4.6l-14.7-16.2l-7.3-7l-5.8-4.6l-8.3-5.4l-7.5-3.9l-8.7-3.5l-7-1.6l0 135.5l16.2 5.1l13.9 6.2l23.2 12.7l22.7 14.7l9.2 6.9l4.6 4.7l3.1 4.6zM313.8 989.2l7.2 1.5l4.6 0.3l0-169.2l-11.6-4.5l-6.9-3.3l-16.3-9.7l-9.2-4.4l-4.7-2.8l-4.6-3.5l-11.6-10.3l-10-7.2l-2.3-2.3l-3.6-4.6l-97.3 0l-3.6 9.3l-1.2 6.9l0.4 4.6l0.7 2.4l2.3 4.6l1.7 2.3l4 3.9l10 7.7l8.5 4.7l16 6.9l4.9 3.1l6.9 6.3l11 13.7l3.1 4.7l3.8 6.9l11.1 25.5l7.7 23.1l8.4 20.9l9.1 18.5l6.2 9.3l6.8 8.6l5 5.3l5.3 4.6l6 4.1l4.9 2.9l6.7 3z"/>
<path fill="#e9f900" d="M155.9 1042.5l1 2.3l54.7 0l-1.9-5.3l-2.4-4l-5.6-6.9l-3.6-3.5l-4.8-3.5l-4.5-2.3l-9.2-3.7l-20.9-6l-4.6-1.8l-4.6-2.6l-4.7-4.3l-4.6-6.5l-7.9-14.4l-5.1-11.6l-5.3-13.9l-6.3-20.9l-1.5-6.9l-0.5-4.6l0-13.9l-1-7l-2.2-6.9l-2.4-4.7l-3.5-4.6l-16.3-18.5l-9.9-9.3l-6.3-4.6l-8.3-4.5l-6.9-2.8l-7-1.7l0 129.2l18.5 5.8l11.6 5.1l23.2 11.8l13.9 8.4l13.9 7.1l9.3 5.5l4.6 3.8l2.8 3.7l2.4 4.6zM318.3 986.9l7.3 0.8l0-163.2l-18.5-8.1l-7-3.9l-9.3-5.8l-9.2-4.4l-5.4-3l-6-4.6l-10.3-9.3l-10.8-7.4l-3.8-4.2l-3.3-4.6l-90 0l-3 6.9l-1.8 7l0 4.6l0.6 2.3l1.7 3.5l2.3 3.1l2.8 2.7l6.4 5l4.7 3l6.9 3.5l13.9 5.3l7.2 4.1l4.4 3.7l3.1 3.2l10.9 13.9l4.7 6.9l4 7l10 20.8l3.7 9.3l7 23.2l4.9 13.9l8.7 18.5l6.1 9.2l7.3 9.3l6.1 6.5l5.8 5.1l6.5 4.6l3.9 2.4l5.2 2.3l13.9 4.6z"/>
<path fill="#ff0" d="M163.3 1042.5l1 2.3l38.7 0l-2.1-4.6l-2.8-3.6l-4.6-4.5l-4.7-3.5l-4.6-2.6l-4.6-1.9l-4.6-1.2l-4.7-0.6l-4.6 0.6l-2.3 1.2l-1.6 2.2l-0.8 2.3l0 4.6l0.9 4.7zM119.5 998.5l4.5 0.5l2.4-0.5l2.1-2.3l0.3-2.4l-0.2-2.3l-1.3-4.6l-4.5-11.6l-5.7-16.2l-8-27.8l-1.1-4.6l-0.5-4.6l-0.3-16.3l-1.5-6.9l-1.8-4.6l-2.8-4.7l-15.1-18.5l-6.1-6.9l-4.7-4.7l-5.7-4.6l-5.8-3.3l-6.9-3l-7-1.8l0 122.2l16.2 4.9l7 2.5l30.1 14l11.6 6.1zM314.7 982.3l6.3 1.4l4.6 0.4l0-156.3l-23.2-11.2l-13.2-8l-14.6-7.3l-5.7-4.3l-10.5-9.5l-9.3-5.8l-2.3-1.9l-3.3-3.7l-4.9-6.9l-81.5 0l-3.3 6.9l-2 7l-0.1 2.3l0.4 2.3l2.6 4.7l5 4.6l8.3 5.4l7 3.4l16.2 5.7l6.9 4.5l4.7 4.3l6.9 8.3l9 12.4l5.9 9.3l7.9 13.9l5.3 11.5l4.4 13.9l5.3 20.9l4 11.6l6.9 14.6l5.5 8.5l11.4 13.9l6.3 6.1l6.8 5.5l7.6 4.6z"/>
<path fill="#ffea00" d="M107.1 984.6l3.5 0l1.8-0.7l1.3-1.6l0.6-2.3l-0.1-4.7l-1.4-6.9l-5.9-23.2l-5.5-18.5l-0.7-7l-0.3-11.5l-0.7-4.7l-1.5-4.6l-3.6-7l-9.8-13.8l-7-9.3l-6.2-7l-5.3-4.6l-3.7-2.3l-5.8-2.7l-7-2l0 114.4l18.5 5.3l29.9 12.4l4.9 1.5zM322.6 980l3 0.2l0-148.5l-7-3.9l-18.5-9.4l-12.7-7.5l-10.5-5l-4.6-2.7l-5.4-3.9l-10.8-9.5l-10.9-6.7l-3-3.1l-6.4-8.5l-2.5-2.3l-70.3 0l-4.1 9.3l-0.9 4.6l0.7 3.4l2.3 3.4l4.7 3.8l4.6 2.7l7 3.1l11.6 3.5l4.6 1.9l4.6 2.8l4.7 3.7l5.9 6.4l8 10.3l6.9 10.1l12.2 19l4 7.8l3.6 8.4l5.4 18.5l3.9 18.6l3.1 9.2l5.2 11.6l2.7 4.6l4 5.9l6.9 8.7l5.7 6.3l5.9 5.4l7.8 6.2l6.1 3.6l7.3 3.3l8.9 3.3z"/>
<path fill="#ffd600" d="M321.8 975.3l3.8 0.4l0-139.7l-27.8-15.1l-11.6-6.8l-13.9-6.8l-5.5-3.4l-13-10.2l-9.3-5.3l-2.3-1.6l-3.4-3.7l-5.9-7.7l-2.3-2.1l-5.7-4.1l-53.9 0l-2.2 4.6l-1 4.7l0.1 2.3l0.8 2.3l1.6 2.3l3 2.3l4 2l9.2 3l4.7 2.1l6.9 4l7.1 5.1l4.5 4.9l11.6 15l20.1 31.1l2.4 4.6l2.7 7l7 20.8l1.7 7l2.1 13.9l2 6.9l4.9 11.6l5.8 9.6l7 8.9l6.2 7l5.3 4.9l8.3 6.6l5.6 3.8l6.1 3.2l7.8 3.2zM87.7 970.7l6.1 1.4l4.7 0l2.4-1.4l0.9-2.3l0.3-2.3l-0.7-9.3l-1.5-9.3l-1.4-5.6l-3.6-10.6l-1.6-6.9l-1.1-16.2l-1.6-7l-2.9-6.9l-6.7-11.6l-6.2-9.3l-7.2-9.2l-3.9-3.7l-4.6-3.1l-4.7-2.2l-4.6-1.3l0 105.7l18.5 4.1z"/>
<path fill="#ffc100" d="M316 968.4l5 1.5l4.6 0.7l0-130.2l-16.2-8.2l-25.5-14.8l-20.9-10l-12.3-8.1l-8.5-4.9l-5.6-4.4l-10.2-11.5l-11.1-9.3l-31.8 0l-1 2.3l-0.2 2.3l0.8 2.3l1.1 1.5l9.3 6.8l16.2 13.4l3.7 3.8l12.8 16.2l4.5 7l8.7 16.2l7.1 11.6l3.1 6.9l4.6 13.9l5.4 13.9l1.1 4.6l2.1 16.3l1.9 6.9l4 9.3l4.1 6.9l9 11.6l4.4 4.9l4.6 4.3l7 5.6l6.9 4.9l6.1 3.5zM81.5 956.8l3.1-0.3l2.3-1.5l1.5-2.8l0.5-4.7l-0.6-4.6l-4-11.6l-0.9-4.6l0.5-16.2l-0.7-7l-1.2-4.6l-2.9-7l-3.6-6.9l-4.2-6.9l-6.4-9.3l-3.5-4l-3.7-3l-4.2-2.3l-3.7-1.2l0 95.3l7 1l13.9 0.2z"/>
<path fill="#ffad00" d="M320 963.7l5.6 1.2l0-120.2l-18.5-7.4l-12.4-7.9l-8.1-4.6l-12-5.8l-9.3-3.3l-13.9-3.9l-4.6-0.9l-2.3-0.1l-2.3 0.6l-1.4 1.8l-0.3 2.3l1.2 9.3l1.6 6.9l2.5 7l5.9 11.6l3.2 6.9l4.7 13.9l5.8 13.9l1.5 6.9l1.6 16.3l1.9 6.9l3 7l3.5 6l4.7 6.5l6.9 8.1l4.7 4.4l6.9 5.6l7 4.7l6.9 4zM49.8 945.2l0 1.3l4.6-0.3l3.5-1l4.1-2.3l2.4-2.3l1.6-2.3l2.1-4.7l1.9-6.9l4.5-9.3l1.4-4.6l0.6-4.6l-0.3-4.7l-1.9-6.9l-3.1-7l-3.8-6.9l-5.9-9.3l-3.8-4.6l-3.3-2.8l-4.6-2.3z"/>
<path fill="#ff9800" d="M318.5 956.8l7.1 1.8l0-109.6l-16.2-4.2l-4.7-1.6l-4.3-2.2l-11.9-7.4l-8.5-4.2l-5.4-2.1l-4.6-1.2l-4.7-0.4l-4.6 0.6l-1.9 0.8l-2.7 2.3l-1.1 2.3l-0.5 2.3l0.4 4.7l14.1 34.7l2.3 7l2 9.2l0.4 13.9l0.6 4.7l1.2 4.6l1.7 4.6l2.4 4.7l4.5 6.9l4.4 5.6l5.6 6l6 5.1l7 5l6.9 4.1zM49.8 935.9l0 1.5l2.3-0.9l2.3-1.5l2.4-2.3l2.3-3.3l9.2-16.5l1.3-4.7l0.1-2.4l-0.7-4.6l-1.5-4.6l-5.8-11.6l-6.2-9.3l-3.4-3.4l-2.3-1.6z"/>
<path fill="#ff7d00" d="M318.1 949.8l7.5 2.2l0-98.3l-7-1.4l-11.5-0.9l-4.7-0.8l-18.5-5.4l-4.7-0.1l-1.9 0.5l-2.7 2.8l-0.5 1.9l0 4.6l3.8 18.5l1.6 11.6l0.4 4.6l0.3 16.2l0.9 4.7l1.6 4.6l2.2 4.6l3.6 5.7l4.7 5.9l4.4 4.6l9.5 7.7l6.2 3.9zM49.8 924.4l0 1.9l2.3-1.8l2.3-2.4l3.5-4.7l3.5-6.9l0.8-4.7l-0.6-4.6l-2.5-6.3l-4.7-7.4l-4.6-5.7z"/>
<path fill="#ff6200" d="M318.7 942.9l6.9 2.1l0-85.9l-4.6-0.9l-7 0l-13.9 1.5l-4.6 1l-2.9 1.1l-3.1 2.4l-1.6 2.3l-1.5 4.6l-0.3 4.6l0.6 13.9l-0.1 11.6l0.3 4.6l1 4.7l1.7 4.6l2.6 4.6l3.2 4.7l4.1 4.6l4.8 4.6l5.1 4l4.6 3zM49.8 912.8l0 0.3l0.3-0.3l2-3.1l0.8-3.9l-0.8-3.6l-2.3-3.9z"/>
<path fill="#ff4600" d="M320.9 935.9l4.7 1.4l0-71.5l-7-0.7l-6.9 0.9l-7 2.1l-4.6 2.5l-2.9 2.8l-1.1 2.3l-0.6 3.3l-1.2 24.5l0.6 4.7l1.6 4.6l2.5 4.6l3.4 4.7l4.7 4.7l4.6 4l4.6 3z"/>
<path fill="#ff2b00" d="M320.3 926.7l5.3 1.8l0-54.1l-2.3-0.3l-4.7 0.4l-3.4 1.2l-3.4 2.4l-1.9 2.3l-1.1 2.3l-1.7 6.9l-2.4 7l-1.2 6.9l0.5 4.7l0.7 2.3l2.4 4.6l2.3 3l3.9 4l3 2.3z"/>
<path fill="#ff1000" d="M320.9 915.1l4.7 2l0-28.7l-2.3 0.6l-2.3 1.6l-1.2 1.3l-2.8 4.7l-1.6 4.6l-0.2 4.6l0.5 2.4l1 2.3l1.6 2.3z"/>
</g>
<line x1="68.2" y1="1044.8" x2="68.2" y2="1048.0" stroke="#222" stroke-width="0.8"/>
<text x="68.2" y="1062.6" text-anchor="middle" font-size="10.4" font-family="Liberation Sans" font-weight="bold">40</text>
<line x1="105.0" y1="1044.8" x2="105.0" y2="1048.0" stroke="#222" stroke-width="0.8"/>
<text x="105.0" y="1062.6" text-anchor="middle" font-size="10.4" font-family="Liberation Sans" font-weight="bold">60</text>
<line x1="141.7" y1="1044.8" x2="141.7" y2="1048.0" stroke="#222" stroke-width="0.8"/>
<text x="141.7" y="1062.6" text-anchor="middle" font-size="10.4" font-family="Liberation Sans" font-weight="bold">80</text>
<line x1="178.5" y1="1044.8" x2="178.5" y2="1048.0" stroke="#222" stroke-width="0.8"/>
<text x="178.5" y="1062.6" text-anchor="middle" font-size="10.4" font-family="Liberation Sans" font-weight="bold">100</text>
<line x1="215.3" y1="1044.8" x2="215.3" y2="1048.0" stroke="#222" stroke-width="0.8"/>
<text x="215.3" y="1062.6" text-anchor="middle" font-size="10.4" font-family="Liberation Sans" font-weight="bold">120</text>
<line x1="252.1" y1="1044.8" x2="252.1" y2="1048.0" stroke="#222" stroke-width="0.8"/>
<text x="252.1" y="1062.6" text-anchor="middle" font-size="10.4" font-family="Liberation Sans" font-weight="bold">140</text>
<line x1="288.8" y1="1044.8" x2="288.8" y2="1048.0" stroke="#222" stroke-width="0.8"/>
<text x="288.8" y="1062.6" text-anchor="middle" font-size="10.4" font-family="Liberation Sans" font-weight="bold">160</text>
<line x1="325.6" y1="1044.8" x2="325.6" y2="1048.0" stroke="#222" stroke-width="0.8"/>
<text x="325.6" y="1062.6" text-anchor="middle" font-size="10.4" font-family="Liberation Sans" font-weight="bold">180</text>
<line x1="46.6" y1="1031.7" x2="49.8" y2="1031.7" stroke="#222" stroke-width="0.8"/>
<text x="43.2" y="1035.6" text-anchor="end" font-size="10.4" font-family="Liberation Sans" font-weight="bold">100</text>
<line x1="46.6" y1="998.9" x2="49.8" y2="998.9" stroke="#222" stroke-width="0.8"/>
<text x="43.2" y="1002.8" text-anchor="end" font-size="10.4" font-family="Liberation Sans" font-weight="bold">150</text>
<line x1="46.6" y1="966.1" x2="49.8" y2="966.1" stroke="#222" stroke-width="0.8"/>
<text x="43.2" y="970.0" text-anchor="end" font-size="10.4" font-family="Liberation Sans" font-weight="bold">200</text>
<line x1="46.6" y1="933.2" x2="49.8" y2="933.2" stroke="#222" stroke-width="0.8"/>
<text x="43.2" y="937.1" text-anchor="end" font-size="10.4" font-family="Liberation Sans" font-weight="bold">250</text>
<line x1="46.6" y1="900.4" x2="49.8" y2="900.4" stroke="#222" stroke-width="0.8"/>
<text x="43.2" y="904.3" text-anchor="end" font-size="10.4" font-family="Liberation Sans" font-weight="bold">300</text>
<line x1="46.6" y1="867.6" x2="49.8" y2="867.6" stroke="#222" stroke-width="0.8"/>
<text x="43.2" y="871.5" text-anchor="end" font-size="10.4" font-family="Liberation Sans" font-weight="bold">350</text>
<line x1="46.6" y1="834.8" x2="49.8" y2="834.8" stroke="#222" stroke-width="0.8"/>
<text x="43.2" y="838.7" text-anchor="end" font-size="10.4" font-family="Liberation Sans" font-weight="bold">400</text>
<line x1="46.6" y1="802.0" x2="49.8" y2="802.0" stroke="#222" stroke-width="0.8"/>
<text x="43.2" y="805.9" text-anchor="end" font-size="10.4" font-family="Liberation Sans" font-weight="bold">450</text>
<line x1="46.6" y1="769.2" x2="49.8" y2="769.2" stroke="#222" stroke-width="0.8"/>
<text x="43.2" y="773.1" text-anchor="end" font-size="10.4" font-family="Liberation Sans" font-weight="bold">500</text>
<text x="187.7" y="1085.0" text-anchor="middle" font-size="12" font-family="Liberation Sans" font-weight="bold">Activation time (min)</text>
<text transform="translate(13.0 907.7) rotate(-90)" text-anchor="middle" font-size="11.6" font-family="Liberation Sans" font-weight="bold">Activation temperature (<tspan dy="-4.3" font-size="8.6">o</tspan><tspan dy="4.3">C)</tspan></text>
<text transform="translate(10.0 1080.0) scale(.88 1)" font-size="23.5" font-family="Liberation Sans" font-weight="bold">e)</text>
<path d="M457.9 240.8L553.0 161.2" stroke="#c9ccd6" stroke-width="0.7" fill="none"/>
<path d="M553.0 161.2L549.9 4.6" stroke="#c9ccd6" stroke-width="0.7" fill="none"/>
<path d="M479.9 246.1L572.4 165.0" stroke="#c9ccd6" stroke-width="0.7" fill="none"/>
<path d="M572.4 165.0L570.9 7.2" stroke="#c9ccd6" stroke-width="0.7" fill="none"/>
<path d="M502.3 251.5L592.2 168.9" stroke="#c9ccd6" stroke-width="0.7" fill="none"/>
<path d="M592.2 168.9L592.3 9.9" stroke="#c9ccd6" stroke-width="0.7" fill="none"/>
<path d="M525.3 257.1L612.4 172.9" stroke="#c9ccd6" stroke-width="0.7" fill="none"/>
<path d="M612.4 172.9L614.1 12.6" stroke="#c9ccd6" stroke-width="0.7" fill="none"/>
<path d="M548.7 262.8L632.9 176.9" stroke="#c9ccd6" stroke-width="0.7" fill="none"/>
<path d="M632.9 176.9L636.3 15.4" stroke="#c9ccd6" stroke-width="0.7" fill="none"/>
<path d="M572.6 268.6L653.9 181.0" stroke="#c9ccd6" stroke-width="0.7" fill="none"/>
<path d="M653.9 181.0L659.0 18.2" stroke="#c9ccd6" stroke-width="0.7" fill="none"/>
<path d="M597.1 274.5L675.1 185.1" stroke="#c9ccd6" stroke-width="0.7" fill="none"/>
<path d="M675.1 185.1L682.2 21.1" stroke="#c9ccd6" stroke-width="0.7" fill="none"/>
<path d="M622.1 280.6L696.8 189.4" stroke="#c9ccd6" stroke-width="0.7" fill="none"/>
<path d="M696.8 189.4L705.8 24.1" stroke="#c9ccd6" stroke-width="0.7" fill="none"/>
<path d="M448.8 225.5L641.8 271.1" stroke="#c9ccd6" stroke-width="0.7" fill="none"/>
<path d="M448.8 225.5L435.6 50.1" stroke="#c9ccd6" stroke-width="0.7" fill="none"/>
<path d="M472.5 206.6L659.7 248.7" stroke="#c9ccd6" stroke-width="0.7" fill="none"/>
<path d="M472.5 206.6L461.9 36.6" stroke="#c9ccd6" stroke-width="0.7" fill="none"/>
<path d="M494.4 189.1L676.2 228.0" stroke="#c9ccd6" stroke-width="0.7" fill="none"/>
<path d="M494.4 189.1L486.1 24.2" stroke="#c9ccd6" stroke-width="0.7" fill="none"/>
<path d="M514.8 172.7L691.5 208.9" stroke="#c9ccd6" stroke-width="0.7" fill="none"/>
<path d="M514.8 172.7L508.5 12.7" stroke="#c9ccd6" stroke-width="0.7" fill="none"/>
<path d="M533.8 157.5L705.6 191.1" stroke="#c9ccd6" stroke-width="0.7" fill="none"/>
<path d="M533.8 157.5L529.3 2.0" stroke="#c9ccd6" stroke-width="0.7" fill="none"/>
<path d="M436.3 235.5L533.8 157.5" stroke="#c9ccd6" stroke-width="0.7" fill="none"/>
<path d="M533.8 157.5L705.6 191.1" stroke="#c9ccd6" stroke-width="0.7" fill="none"/>
<path d="M433.6 202.4L533.0 128.2" stroke="#c9ccd6" stroke-width="0.7" fill="none"/>
<path d="M533.0 128.2L707.4 160.1" stroke="#c9ccd6" stroke-width="0.7" fill="none"/>
<path d="M430.8 168.0L532.1 98.1" stroke="#c9ccd6" stroke-width="0.7" fill="none"/>
<path d="M532.1 98.1L709.3 128.0" stroke="#c9ccd6" stroke-width="0.7" fill="none"/>
<path d="M427.8 132.4L531.2 67.1" stroke="#c9ccd6" stroke-width="0.7" fill="none"/>
<path d="M531.2 67.1L711.3 94.9" stroke="#c9ccd6" stroke-width="0.7" fill="none"/>
<path d="M424.8 95.5L530.2 35.0" stroke="#c9ccd6" stroke-width="0.7" fill="none"/>
<path d="M530.2 35.0L713.3 60.7" stroke="#c9ccd6" stroke-width="0.7" fill="none"/>
<path d="M421.7 57.2L529.3 2.0" stroke="#c9ccd6" stroke-width="0.7" fill="none"/>
<path d="M529.3 2.0L715.3 25.3" stroke="#c9ccd6" stroke-width="0.7" fill="none"/>
<path d="M436.3 235.5L533.8 157.5" stroke="#777" stroke-width="0.8" fill="none"/>
<path d="M533.8 157.5L705.6 191.1" stroke="#777" stroke-width="0.8" fill="none"/>
<path d="M421.7 57.2L529.3 2.0" stroke="#777" stroke-width="0.8" fill="none"/>
<path d="M529.3 2.0L715.3 25.3" stroke="#777" stroke-width="0.8" fill="none"/>
<path d="M529.3 2.0L533.8 157.5" stroke="#777" stroke-width="0.8" fill="none"/>
<path d="M715.3 25.3L705.6 191.1" stroke="#777" stroke-width="0.8" fill="none"/>
<rect x="435.5" y="0.0" width="56.0" height="88.0" fill="#fff"/>
<rect x="439.4" y="5.9" width="25.5" height="7.8" fill="#0c0c80" stroke="#222" stroke-width="0.9"/>
<text x="472.0" y="13.7" font-size="10.8" font-family="Liberation Sans" fill="#222">0</text>
<rect x="439.4" y="20.3" width="25.5" height="7.8" fill="#1212ee" stroke="#222" stroke-width="0.9"/>
<text x="472.0" y="28.1" font-size="10.8" font-family="Liberation Sans" fill="#222">20</text>
<rect x="439.4" y="34.6" width="25.5" height="7.8" fill="#1a7070" stroke="#222" stroke-width="0.9"/>
<text x="472.0" y="42.4" font-size="10.8" font-family="Liberation Sans" fill="#222">40</text>
<rect x="439.4" y="49.0" width="25.5" height="7.8" fill="#66dd11" stroke="#222" stroke-width="0.9"/>
<text x="472.0" y="56.8" font-size="10.8" font-family="Liberation Sans" fill="#222">60</text>
<rect x="439.4" y="63.3" width="25.5" height="7.8" fill="#ffe010" stroke="#222" stroke-width="0.9"/>
<text x="472.0" y="71.1" font-size="10.8" font-family="Liberation Sans" fill="#222">80</text>
<rect x="439.4" y="77.7" width="25.5" height="7.8" fill="#ff7711" stroke="#222" stroke-width="0.9"/>
<text x="472.0" y="85.5" font-size="10.8" font-family="Liberation Sans" fill="#222">100</text>
<g transform="scale(.1)" stroke="#000" stroke-width="5" stroke-linejoin="round">
<path fill="#ff6a10" d="M5280 215l34 7l17-46l-34-6zM5314 222l35 7l16-47l-34-6zM5349 229l34 6l17-46l-35-7zM5383 235l35 7l16-46l-34-7zM5418 242l34 7l17-46l-35-7zM5452 249l35 7l17-46l-35-7zM5487 256l35 8l16-46l-34-8z"/>
<path fill="#ff7211" d="M5522 264l35 7l16-45l-35-8zM5557 271l35 7l16-45l-35-7zM5592 278l35 8l16-45l-35-8zM5627 286l35 8l17-44l-36-9zM5662 294l35 8l17-44l-35-8zM5697 302l36 9l16-44l-35-9zM5733 311l35 8l17-43l-36-9zM5768 319l36 9l16-43l-35-9z"/>
<path fill="#ff8013" d="M5804 328l36 9l16-43l-36-9zM5840 337l36 10l16-43l-36-10zM5876 347l35 10l17-44l-36-9zM5911 357l36 10l17-44l-36-10zM5947 367l37 10l16-44l-36-10zM5984 377l36 11l16-44l-36-11zM6020 388l36 11l16-45l-36-10zM6056 399l37 12l16-46l-37-11zM6093 411l36 12l16-47l-36-11z"/>
<path fill="#ff8d14" d="M6129 423l37 12l16-47l-37-12zM6166 435l36 13l16-49l-36-11zM6202 448l37 13l16-50l-37-12zM6239 461l37 13l16-51l-37-12zM6276 474l37 14l16-53l-37-12z"/>
<path fill="#ff9815" d="M6313 488l37 14l16-52l-37-15zM6350 502l37 15l16-52l-37-15zM6387 517l37 14l16-52l-37-14zM6424 531l38 16l15-53l-37-15zM6462 547l37 15l16-54l-38-14z"/>
<path fill="#ffa216" d="M6499 562l37 16l16-56l-37-14zM6536 578l38 16l16-58l-38-14zM6574 594l37 16l16-61l-37-13zM6611 610l38 17l16-64l-38-14zM6649 627l38 17l16-68l-38-13zM6687 644l38 17l16-71l-38-14zM6725 661l38 17l16-74l-38-14zM6763 678l38 18l16-77l-38-15zM6801 696l38 17l16-77l-38-17z"/>
<path fill="#ffad18" d="M6839 713l38 18l16-79l-38-16zM6877 731l38 18l17-80l-39-17zM6915 749l38 18l17-81l-38-17zM6953 767l38 18l17-82l-38-17zM6991 785l39 19l17-83l-39-18zM7030 804l38 18l17-83l-38-18z"/>
<path fill="#feb817" d="M7068 822l39 16l17-82l-39-17z"/>
<path fill="#ff7211" d="M5264 271l34 7l16-56l-34-7z"/>
<path fill="#ff8013" d="M5298 278l34 7l17-56l-35-7zM5332 285l35 7l16-57l-34-6zM5367 292l34 7l17-57l-35-7zM5401 299l35 7l16-57l-34-7zM5436 306l34 7l17-57l-35-7zM5470 313l35 7l17-56l-35-8zM5505 320l35 7l17-56l-35-7zM5540 327l35 7l17-56l-35-7zM5575 334l35 7l17-55l-35-8zM5610 341l36 7l16-54l-35-8zM5646 348l35 8l16-54l-35-8zM5681 356l35 8l17-53l-36-9zM5716 364l36 8l16-53l-35-8z"/>
<path fill="#ff8d14" d="M5752 372l36 9l16-53l-36-9zM5788 381l35 9l17-53l-36-9zM5823 390l36 9l17-52l-36-10zM5859 399l36 10l16-52l-35-10zM5895 409l36 10l16-52l-36-10zM5931 419l36 11l17-53l-37-10zM5967 430l37 11l16-53l-36-11zM6004 441l36 12l16-54l-36-11zM6040 453l36 12l17-54l-37-12zM6076 465l37 12l16-54l-36-12zM6113 477l37 13l16-55l-37-12z"/>
<path fill="#ff9815" d="M6150 490l36 14l16-56l-36-13zM6186 504l37 14l16-57l-37-13zM6223 518l37 15l16-59l-37-13zM6260 533l37 15l16-60l-37-14z"/>
<path fill="#ffa216" d="M6297 548l37 15l16-61l-37-14zM6334 563l37 16l16-62l-37-15zM6371 579l37 17l16-65l-37-14zM6408 596l37 17l17-66l-38-16zM6445 613l38 17l16-68l-37-15z"/>
<path fill="#ffad18" d="M6483 630l37 17l16-69l-37-16zM6520 647l38 18l16-71l-38-16zM6558 665l37 19l16-74l-37-16zM6595 684l38 18l16-75l-38-17zM6633 702l37 19l17-77l-38-17zM6670 721l38 19l17-79l-38-17zM6708 740l38 19l17-81l-38-17zM6746 759l38 19l17-82l-38-18z"/>
<path fill="#feb817" d="M6784 778l38 19l17-84l-38-17zM6822 797l38 19l17-85l-38-18zM6860 816l38 19l17-86l-38-18zM6898 835l38 19l17-87l-38-18zM6936 854l38 19l17-88l-38-18zM6974 873l39 19l17-88l-39-19z"/>
<path fill="#fcc415" d="M7013 892l38 18l17-88l-38-18zM7051 910l39 16l17-88l-39-16z"/>
<path fill="#ff8d14" d="M5247 331l34 8l17-61l-34-7zM5281 339l35 7l16-61l-34-7zM5316 346l34 7l17-61l-35-7zM5350 353l35 7l16-61l-34-7zM5385 360l34 7l17-61l-35-7zM5419 367l35 6l16-60l-34-7zM5454 373l35 7l16-60l-35-7zM5489 380l35 6l16-59l-35-7zM5524 386l35 7l16-59l-35-7zM5559 393l35 7l16-59l-35-7zM5594 400l35 6l17-58l-36-7z"/>
<path fill="#ff9815" d="M5629 406l35 7l17-57l-35-8zM5664 413l36 8l16-57l-35-8zM5700 421l35 8l17-57l-36-8zM5735 429l36 8l17-56l-36-9zM5771 437l36 8l16-55l-35-9zM5807 445l36 10l16-56l-36-9zM5843 455l36 9l16-55l-36-10zM5879 464l36 10l16-55l-36-10zM5915 474l36 11l16-55l-36-11zM5951 485l36 11l17-55l-37-11zM5987 496l37 12l16-55l-36-12zM6024 508l36 11l16-54l-36-12zM6060 519l37 11l16-53l-37-12zM6097 530l36 14l17-54l-37-13zM6133 544l37 15l16-55l-36-14z"/>
<path fill="#ffa216" d="M6170 559l37 17l16-58l-37-14zM6207 576l37 16l16-59l-37-15zM6244 592l37 16l16-60l-37-15z"/>
<path fill="#ffad18" d="M6281 608l37 16l16-61l-37-15zM6318 624l37 17l16-62l-37-16zM6355 641l37 18l16-63l-37-17zM6392 659l37 18l16-64l-37-17z"/>
<path fill="#feb817" d="M6429 677l37 19l17-66l-38-17zM6466 696l38 19l16-68l-37-17zM6504 715l37 19l17-69l-38-18zM6541 734l38 20l16-70l-37-19zM6579 754l37 20l17-72l-38-18zM6616 774l38 20l16-73l-37-19zM6654 794l38 20l16-74l-38-19zM6692 814l37 20l17-75l-38-19z"/>
<path fill="#fcc415" d="M6729 834l38 21l17-77l-38-19zM6767 855l38 20l17-78l-38-19zM6805 875l38 20l17-79l-38-19zM6843 895l38 20l17-80l-38-19zM6881 915l38 19l17-80l-38-19z"/>
<path fill="#fbd013" d="M6919 934l39 20l16-81l-38-19zM6958 954l38 18l17-80l-39-19zM6996 972l38 19l17-81l-38-18zM7034 991l39 15l17-80l-39-16z"/>
<path fill="#ffa216" d="M5231 395l34 8l16-64l-34-8zM5265 403l34 7l17-64l-35-7zM5299 410l35 8l16-65l-34-7zM5334 418l34 6l17-64l-35-7zM5368 424l35 7l16-64l-34-7zM5403 431l34 6l17-64l-35-6zM5437 437l35 6l17-63l-35-7zM5472 443l35 6l17-63l-35-6zM5507 449l35 6l17-62l-35-7zM5542 455l35 6l17-61l-35-7zM5577 461l36 6l16-61l-35-6zM5613 467l35 7l16-61l-35-7zM5648 474l35 7l17-60l-36-8zM5683 481l36 7l16-59l-35-8zM5719 488l36 8l16-59l-36-8zM5755 496l35 8l17-59l-36-8zM5790 504l36 8l17-57l-36-10zM5826 512l36 10l17-58l-36-9zM5862 522l36 10l17-58l-36-10zM5898 532l37 10l16-57l-36-11zM5935 542l36 11l16-57l-36-11zM5971 553l36 11l17-56l-37-12zM6007 564l37 10l16-55l-36-11zM6044 574l36 11l17-55l-37-11zM6080 585l37 14l16-55l-36-14zM6117 599l37 17l16-57l-37-15z"/>
<path fill="#ffad18" d="M6154 616l37 18l16-58l-37-17zM6191 634l36 17l17-59l-37-16zM6227 651l37 16l17-59l-37-16z"/>
<path fill="#feb817" d="M6264 667l37 17l17-60l-37-16zM6301 684l38 18l16-61l-37-17zM6339 702l37 19l16-62l-37-18zM6376 721l37 19l16-63l-37-18z"/>
<path fill="#fcc415" d="M6413 740l37 19l16-63l-37-19zM6450 759l38 20l16-64l-38-19zM6488 779l37 21l16-66l-37-19zM6525 800l38 20l16-66l-38-20zM6563 820l37 21l16-67l-37-20zM6600 841l38 21l16-68l-38-20zM6638 862l37 21l17-69l-38-20z"/>
<path fill="#fbd013" d="M6675 883l38 22l16-71l-37-20zM6713 905l38 21l16-71l-38-21zM6751 926l38 21l16-72l-38-20zM6789 947l38 21l16-73l-38-20zM6827 968l38 20l16-73l-38-20z"/>
<path fill="#f9db11" d="M6865 988l38 20l16-74l-38-19zM6903 1008l38 19l17-73l-39-20zM6941 1027l39 19l16-74l-38-18z"/>
<path fill="#f2e310" d="M6980 1046l38 18l16-73l-38-19zM7018 1064l39 15l16-73l-39-15z"/>
<path fill="#ffad18" d="M5214 461l35 8l16-66l-34-8zM5249 469l34 8l16-67l-34-7zM5283 477l34 7l17-66l-35-8zM5317 484l35 6l16-66l-34-6zM5352 490l34 7l17-66l-35-7zM5386 497l35 5l16-65l-34-6zM5421 502l35 6l16-65l-35-6zM5456 508l35 5l16-64l-35-6zM5491 513l35 6l16-64l-35-6zM5526 519l35 5l16-63l-35-6zM5561 524l35 6l17-63l-36-6zM5596 530l35 6l17-62l-35-7zM5631 536l36 6l16-61l-35-7zM5667 542l35 7l17-61l-36-7zM5702 549l36 7l17-60l-36-8zM5738 556l36 8l16-60l-35-8zM5774 564l36 8l16-60l-36-8zM5810 572l36 9l16-59l-36-10zM5846 581l36 9l16-58l-36-10zM5882 590l36 10l17-58l-37-10zM5918 600l37 11l16-58l-36-11zM5955 611l36 12l16-59l-36-11zM5991 623l36 11l17-60l-37-10zM6027 634l37 12l16-61l-36-11zM6064 646l37 15l16-62l-37-14zM6101 661l36 16l17-61l-37-17z"/>
<path fill="#feb817" d="M6137 677l37 16l17-59l-37-18zM6174 693l37 16l16-58l-36-17zM6211 709l37 17l16-59l-37-16z"/>
<path fill="#fcc415" d="M6248 726l37 18l16-60l-37-17zM6285 744l37 18l17-60l-38-18zM6322 762l38 19l16-60l-37-19z"/>
<path fill="#fbd013" d="M6360 781l37 20l16-61l-37-19zM6397 801l37 20l16-62l-37-19zM6434 821l37 20l17-62l-38-20zM6471 841l38 21l16-62l-37-21zM6509 862l37 22l17-64l-38-20zM6546 884l38 21l16-64l-37-21zM6584 905l37 22l17-65l-38-21z"/>
<path fill="#f9db11" d="M6621 927l38 22l16-66l-37-21zM6659 949l38 22l16-66l-38-22zM6697 971l38 21l16-66l-38-21zM6735 992l38 22l16-67l-38-21zM6773 1014l38 21l16-67l-38-21z"/>
<path fill="#f2e310" d="M6811 1035l38 21l16-68l-38-20zM6849 1056l38 20l16-68l-38-20zM6887 1076l38 19l16-68l-38-19z"/>
<path fill="#dbe110" d="M6925 1095l38 19l17-68l-39-19zM6963 1114l39 17l16-67l-38-18z"/>
<path fill="#c3de10" d="M7002 1131l39 15l16-67l-39-15z"/>
<path fill="#fcc415" d="M5198 528l34 8l17-67l-35-8zM5232 536l35 8l16-67l-34-8zM5267 544l34 7l16-67l-34-7zM5301 551l34 7l17-68l-35-6zM5335 558l35 6l16-67l-34-7zM5370 564l35 5l16-67l-35-5zM5405 569l34 5l17-66l-35-6zM5439 574l35 5l17-66l-35-5zM5474 579l35 5l17-65l-35-6zM5509 584l35 5l17-65l-35-5zM5544 589l36 5l16-64l-35-6zM5580 594l35 5l16-63l-35-6zM5615 599l35 6l17-63l-36-6zM5650 605l36 6l16-62l-35-7zM5686 611l36 6l16-61l-36-7zM5722 617l35 7l17-60l-36-8zM5757 624l36 8l17-60l-36-8zM5793 632l36 8l17-59l-36-9zM5829 640l37 9l16-59l-36-9z"/>
<path fill="#feb817" d="M5866 649l36 10l16-59l-36-10zM5902 659l36 11l17-59l-37-11zM5938 670l37 11l16-58l-36-12zM5975 681l36 12l16-59l-36-11zM6011 693l37 13l16-60l-37-12zM6048 706l36 14l17-59l-37-15z"/>
<path fill="#fcc415" d="M6084 720l37 15l16-58l-36-16zM6121 735l37 15l16-57l-37-16zM6158 750l37 17l16-58l-37-16zM6195 767l37 17l16-58l-37-17z"/>
<path fill="#fbd013" d="M6232 784l37 18l16-58l-37-18zM6269 802l37 18l16-58l-37-18zM6306 820l37 20l17-59l-38-19z"/>
<path fill="#f9db11" d="M6343 840l38 19l16-58l-37-20zM6381 859l37 21l16-59l-37-20zM6418 880l37 21l16-60l-37-20zM6455 901l38 21l16-60l-38-21zM6493 922l37 22l16-60l-37-22z"/>
<path fill="#f2e310" d="M6530 944l38 22l16-61l-38-21zM6568 966l37 22l16-61l-37-22zM6605 988l38 22l16-61l-38-22zM6643 1010l38 23l16-62l-38-22zM6681 1033l38 22l16-63l-38-21zM6719 1055l38 21l16-62l-38-22z"/>
<path fill="#dbe110" d="M6757 1076l38 22l16-63l-38-21zM6795 1098l38 20l16-62l-38-21z"/>
<path fill="#c3de10" d="M6833 1118l38 20l16-62l-38-20zM6871 1138l38 20l16-63l-38-19zM6909 1158l39 18l15-62l-38-19z"/>
<path fill="#acdb10" d="M6948 1176l38 17l16-62l-39-17zM6986 1193l39 15l16-62l-39-15z"/>
<path fill="#f9db11" d="M5182 597l34 8l16-69l-34-8zM5216 605l34 8l17-69l-35-8zM5250 613l35 7l16-69l-34-7zM5285 620l34 6l16-68l-34-7zM5319 626l35 5l16-67l-35-6zM5354 631l34 5l17-67l-35-5zM5388 636l35 5l16-67l-34-5zM5423 641l35 4l16-66l-35-5zM5458 645l35 5l16-66l-35-5zM5493 650l35 4l16-65l-35-5zM5528 654l35 4l17-64l-36-5zM5563 658l35 5l17-64l-35-5z"/>
<path fill="#fbd013" d="M5598 663l36 5l16-63l-35-6zM5634 668l35 5l17-62l-36-6zM5669 673l36 6l17-62l-36-6zM5705 679l36 7l16-62l-35-7zM5741 686l36 7l16-61l-36-8zM5777 693l36 7l16-60l-36-8zM5813 700l36 9l17-60l-37-9zM5849 709l36 9l17-59l-36-10zM5885 718l37 10l16-58l-36-11zM5922 728l36 11l17-58l-37-11zM5958 739l37 12l16-58l-36-12zM5995 751l36 13l17-58l-37-13zM6031 764l37 13l16-57l-36-14zM6068 777l37 15l16-57l-37-15zM6105 792l37 15l16-57l-37-15zM6142 807l37 16l16-56l-37-17z"/>
<path fill="#f9db11" d="M6179 823l37 17l16-56l-37-17zM6216 840l37 18l16-56l-37-18zM6253 858l37 19l16-57l-37-18zM6290 877l37 19l16-56l-37-20z"/>
<path fill="#f2e310" d="M6327 896l38 20l16-57l-38-19zM6365 916l37 21l16-57l-37-21zM6402 937l37 21l16-57l-37-21zM6439 958l38 22l16-58l-38-21z"/>
<path fill="#dbe110" d="M6477 980l37 21l16-57l-37-22zM6514 1001l38 23l16-58l-38-22zM6552 1024l37 22l16-58l-37-22zM6589 1046l38 22l16-58l-38-22zM6627 1068l38 23l16-58l-38-23z"/>
<path fill="#c3de10" d="M6665 1091l38 22l16-58l-38-22zM6703 1113l38 22l16-59l-38-21zM6741 1135l38 21l16-58l-38-22z"/>
<path fill="#acdb10" d="M6779 1156l38 21l16-59l-38-20zM6817 1177l38 20l16-59l-38-20zM6855 1197l38 19l16-58l-38-20z"/>
<path fill="#94d810" d="M6893 1216l39 18l16-58l-39-18zM6932 1234l39 16l15-57l-38-17z"/>
<path fill="#80d213" d="M6971 1250l38 14l16-56l-39-15z"/>
<path fill="#dbe110" d="M5165 665l35 8l16-68l-34-8zM5200 673l34 8l16-68l-34-8zM5234 681l34 7l17-68l-35-7zM5268 688l35 6l16-68l-34-6zM5303 694l34 5l17-68l-35-5zM5337 699l35 4l16-67l-34-5zM5372 703l35 4l16-66l-35-5zM5407 707l34 4l17-66l-35-4zM5441 711l35 4l17-65l-35-5z"/>
<path fill="#f2e310" d="M5476 715l35 4l17-65l-35-4zM5511 719l36 3l16-64l-35-4zM5547 722l35 5l16-64l-35-5zM5582 727l35 4l17-63l-36-5zM5617 731l36 5l16-63l-35-5zM5653 736l36 5l16-62l-36-6zM5689 741l35 6l17-61l-36-7z"/>
<path fill="#f9db11" d="M5724 747l36 6l17-60l-36-7zM5760 753l36 7l17-60l-36-7zM5796 760l37 8l16-59l-36-9zM5833 768l36 9l16-59l-36-9zM5869 777l36 9l17-58l-37-10zM5905 786l37 11l16-58l-36-11zM5942 797l36 11l17-57l-37-12zM5978 808l37 13l16-57l-36-13zM6015 821l37 13l16-57l-37-13zM6052 834l36 14l17-56l-37-15zM6088 848l37 15l17-56l-37-15z"/>
<path fill="#f2e310" d="M6125 863l37 16l17-56l-37-16zM6162 879l37 17l17-56l-37-17zM6199 896l38 18l16-56l-37-18zM6237 914l37 18l16-55l-37-19z"/>
<path fill="#dbe110" d="M6274 932l37 19l16-55l-37-19zM6311 951l37 20l17-55l-38-20zM6348 971l38 21l16-55l-37-21zM6386 992l37 21l16-55l-37-21z"/>
<path fill="#c3de10" d="M6423 1013l38 21l16-54l-38-22zM6461 1034l37 22l16-55l-37-21zM6498 1056l38 22l16-54l-38-23z"/>
<path fill="#acdb10" d="M6536 1078l38 23l15-55l-37-22zM6574 1101l37 22l16-55l-38-22zM6611 1123l38 22l16-54l-38-23zM6649 1145l38 22l16-54l-38-22z"/>
<path fill="#94d810" d="M6687 1167l38 22l16-54l-38-22zM6725 1189l38 21l16-54l-38-21zM6763 1210l38 21l16-54l-38-21zM6801 1231l38 20l16-54l-38-20z"/>
<path fill="#80d213" d="M6839 1251l39 19l15-54l-38-19zM6878 1270l38 17l16-53l-39-18z"/>
<path fill="#6bca16" d="M6916 1287l39 16l16-53l-39-16zM6955 1303l39 14l15-53l-38-14z"/>
<path fill="#94d810" d="M5149 733l34 8l17-68l-35-8zM5183 741l35 8l16-68l-34-8zM5218 749l34 6l16-67l-34-7zM5252 755l34 6l17-67l-35-6z"/>
<path fill="#acdb10" d="M5286 761l35 4l16-66l-34-5zM5321 765l34 5l17-67l-35-4zM5355 770l35 3l17-66l-35-4zM5390 773l35 3l16-65l-34-4zM5425 776l35 4l16-65l-35-4zM5460 780l35 3l16-64l-35-4z"/>
<path fill="#c3de10" d="M5495 783l35 3l17-64l-36-3zM5530 786l35 3l17-62l-35-5zM5565 789l36 4l16-62l-35-4zM5601 793l35 4l17-61l-36-5z"/>
<path fill="#dbe110" d="M5636 797l36 5l17-61l-36-5zM5672 802l36 5l16-60l-35-6zM5708 807l36 6l16-60l-36-6zM5744 813l36 6l16-59l-36-7zM5780 819l36 8l17-59l-37-8z"/>
<path fill="#f2e310" d="M5816 827l36 8l17-58l-36-9zM5852 835l37 9l16-58l-36-9zM5889 844l36 10l17-57l-37-11zM5925 854l37 11l16-57l-36-11zM5962 865l36 11l17-55l-37-13zM5998 876l37 13l17-55l-37-13z"/>
<path fill="#dbe110" d="M6035 889l37 14l16-55l-36-14zM6072 903l37 15l16-55l-37-15zM6109 918l37 15l16-54l-37-16zM6146 933l37 17l16-54l-37-17zM6183 950l37 17l17-53l-38-18z"/>
<path fill="#c3de10" d="M6220 967l38 18l16-53l-37-18zM6258 985l37 19l16-53l-37-19zM6295 1004l37 20l16-53l-37-20z"/>
<path fill="#acdb10" d="M6332 1024l38 20l16-52l-38-21zM6370 1044l37 21l16-52l-37-21zM6407 1065l38 22l16-53l-38-21zM6445 1087l37 21l16-52l-37-22z"/>
<path fill="#94d810" d="M6482 1108l38 22l16-52l-38-22zM6520 1130l38 22l16-51l-38-23zM6558 1152l38 23l15-52l-37-22zM6596 1175l37 22l16-52l-38-22z"/>
<path fill="#80d213" d="M6633 1197l38 22l16-52l-38-22zM6671 1219l38 21l16-51l-38-22zM6709 1240l38 21l16-51l-38-21z"/>
<path fill="#6bca16" d="M6747 1261l39 21l15-51l-38-21zM6786 1282l38 19l15-50l-38-20zM6824 1301l39 19l15-50l-39-19z"/>
<path fill="#57c219" d="M6863 1320l38 17l15-50l-38-17zM6901 1337l39 16l15-50l-39-16z"/>
<path fill="#43ba1c" d="M6940 1353l39 13l15-49l-39-14zM5133 801l34 8l16-68l-34-8z"/>
<path fill="#57c219" d="M5167 809l34 7l17-67l-35-8zM5201 816l34 6l17-67l-34-6zM5235 822l35 5l16-66l-34-6z"/>
<path fill="#6bca16" d="M5270 827l34 4l17-66l-35-4zM5304 831l35 4l16-65l-34-5zM5339 835l35 3l16-65l-35-3zM5374 838l34 3l17-65l-35-3z"/>
<path fill="#80d213" d="M5408 841l35 2l17-63l-35-4zM5443 843l35 3l17-63l-35-3zM5478 846l35 2l17-62l-35-3z"/>
<path fill="#94d810" d="M5513 848l36 3l16-62l-35-3zM5549 851l35 3l17-61l-36-4zM5584 854l36 4l16-61l-35-4z"/>
<path fill="#acdb10" d="M5620 858l35 4l17-60l-36-5zM5655 862l36 4l17-59l-36-5zM5691 866l36 5l17-58l-36-6z"/>
<path fill="#c3de10" d="M5727 871l36 6l17-58l-36-6zM5763 877l36 7l17-57l-36-8zM5799 884l37 8l16-57l-36-8zM5836 892l36 8l17-56l-37-9zM5872 900l37 9l16-55l-36-10zM5909 909l36 11l17-55l-37-11zM5945 920l37 11l16-55l-36-11zM5982 931l37 12l16-54l-37-13zM6019 943l37 14l16-54l-37-14zM6056 957l37 14l16-53l-37-15zM6093 971l37 15l16-53l-37-15z"/>
<path fill="#acdb10" d="M6130 986l37 16l16-52l-37-17zM6167 1002l37 17l16-52l-37-17zM6204 1019l37 18l17-52l-38-18z"/>
<path fill="#94d810" d="M6241 1037l38 19l16-52l-37-19zM6279 1056l37 19l16-51l-37-20zM6316 1075l38 20l16-51l-38-20zM6354 1095l37 20l16-50l-37-21zM6391 1115l38 22l16-50l-38-22z"/>
<path fill="#80d213" d="M6429 1137l37 21l16-50l-37-21zM6466 1158l38 22l16-50l-38-22zM6504 1180l38 22l16-50l-38-22zM6542 1202l38 22l16-49l-38-23z"/>
<path fill="#6bca16" d="M6580 1224l38 22l15-49l-37-22zM6618 1246l38 21l15-48l-38-22zM6656 1267l38 22l15-49l-38-21z"/>
<path fill="#57c219" d="M6694 1289l38 20l15-48l-38-21zM6732 1309l38 20l16-47l-39-21zM6770 1329l39 19l15-47l-38-19z"/>
<path fill="#43ba1c" d="M6809 1348l38 19l16-47l-39-19zM6847 1367l39 16l15-46l-38-17z"/>
<path fill="#2fb31f" d="M6886 1383l39 16l15-46l-39-16zM6925 1399l39 13l15-46l-39-13z"/>
<path fill="#24a72f" d="M5116 867l34 7l17-65l-34-8zM5150 874l35 7l16-65l-34-7z"/>
<path fill="#27ac26" d="M5185 881l34 6l16-65l-34-6zM5219 887l34 4l17-64l-35-5z"/>
<path fill="#2fb31f" d="M5253 891l35 4l16-64l-34-4zM5288 895l34 3l17-63l-35-4zM5322 898l35 3l17-63l-35-3z"/>
<path fill="#43ba1c" d="M5357 901l35 2l16-62l-34-3zM5392 903l35 2l16-62l-35-2z"/>
<path fill="#57c219" d="M5427 905l35 2l16-61l-35-3zM5462 907l35 2l16-61l-35-2zM5497 909l35 2l17-60l-36-3z"/>
<path fill="#6bca16" d="M5532 911l35 3l17-60l-35-3zM5567 914l36 3l17-59l-36-4z"/>
<path fill="#80d213" d="M5603 917l36 3l16-58l-35-4zM5639 920l35 4l17-58l-36-4zM5674 924l36 5l17-58l-36-5z"/>
<path fill="#94d810" d="M5710 929l36 5l17-57l-36-6zM5746 934l37 6l16-56l-36-7zM5783 940l36 7l17-55l-37-8zM5819 947l36 8l17-55l-36-8z"/>
<path fill="#acdb10" d="M5855 955l37 9l17-55l-37-9zM5892 964l37 9l16-53l-36-11zM5929 973l36 11l17-53l-37-11zM5965 984l37 12l17-53l-37-12z"/>
<path fill="#94d810" d="M6002 996l37 13l17-52l-37-14zM6039 1009l37 13l17-51l-37-14zM6076 1022l37 15l17-51l-37-15zM6113 1037l37 16l17-51l-37-16zM6150 1053l38 16l16-50l-37-17z"/>
<path fill="#80d213" d="M6188 1069l37 18l16-50l-37-18zM6225 1087l37 18l17-49l-38-19zM6262 1105l38 19l16-49l-37-19zM6300 1124l37 19l17-48l-38-20z"/>
<path fill="#6bca16" d="M6337 1143l38 21l16-49l-37-20zM6375 1164l38 20l16-47l-38-22zM6413 1184l37 21l16-47l-37-21zM6450 1205l38 22l16-47l-38-22z"/>
<path fill="#57c219" d="M6488 1227l38 21l16-46l-38-22zM6526 1248l38 22l16-46l-38-22zM6564 1270l38 22l16-46l-38-22z"/>
<path fill="#43ba1c" d="M6602 1292l38 21l16-46l-38-21zM6640 1313l38 21l16-45l-38-22zM6678 1334l39 20l15-45l-38-20z"/>
<path fill="#2fb31f" d="M6717 1354l38 20l15-45l-38-20zM6755 1374l38 19l16-45l-39-19z"/>
<path fill="#27ac26" d="M6793 1393l39 18l15-44l-38-19zM6832 1411l39 16l15-44l-39-16zM6871 1427l39 15l15-43l-39-16z"/>
<path fill="#24a72f" d="M6910 1442l39 13l15-43l-39-13z"/>
<path fill="#1e9649" d="M5100 931l34 7l16-64l-34-7zM5134 938l34 7l17-64l-35-7z"/>
<path fill="#209c40" d="M5168 945l34 5l17-63l-34-6zM5202 950l35 4l16-63l-34-4zM5237 954l34 3l17-62l-35-4z"/>
<path fill="#22a137" d="M5271 957l35 3l16-62l-34-3zM5306 960l34 2l17-61l-35-3z"/>
<path fill="#24a72f" d="M5340 962l35 2l17-61l-35-2zM5375 964l35 1l17-60l-35-2z"/>
<path fill="#27ac26" d="M5410 965l35 2l17-60l-35-2z"/>
<path fill="#2fb31f" d="M5445 967l35 1l17-59l-35-2zM5480 968l35 2l17-59l-35-2z"/>
<path fill="#43ba1c" d="M5515 970l36 2l16-58l-35-3zM5551 972l35 2l17-57l-36-3z"/>
<path fill="#57c219" d="M5586 974l36 3l17-57l-36-3zM5622 977l36 3l16-56l-35-4z"/>
<path fill="#6bca16" d="M5658 980l36 4l16-55l-36-5zM5694 984l36 5l16-55l-36-5zM5730 989l36 5l17-54l-37-6z"/>
<path fill="#80d213" d="M5766 994l36 7l17-54l-36-7zM5802 1001l37 7l16-53l-36-8zM5839 1008l36 8l17-52l-37-9zM5875 1016l37 9l17-52l-37-9zM5912 1025l37 11l16-52l-36-11zM5949 1036l37 11l16-51l-37-12zM5986 1047l37 12l16-50l-37-13zM6023 1059l37 13l16-50l-37-13zM6060 1072l37 14l16-49l-37-15zM6097 1086l37 16l16-49l-37-16z"/>
<path fill="#6bca16" d="M6134 1102l37 16l17-49l-38-16zM6171 1118l38 17l16-48l-37-18zM6209 1135l37 17l16-47l-37-18zM6246 1152l38 19l16-47l-38-19z"/>
<path fill="#57c219" d="M6284 1171l37 19l16-47l-37-19zM6321 1190l38 20l16-46l-38-21zM6359 1210l38 20l16-46l-38-20zM6397 1230l38 21l15-46l-37-21z"/>
<path fill="#43ba1c" d="M6435 1251l37 21l16-45l-38-22zM6472 1272l38 21l16-45l-38-21zM6510 1293l38 21l16-44l-38-22z"/>
<path fill="#2fb31f" d="M6548 1314l38 21l16-43l-38-22zM6586 1335l39 21l15-43l-38-21z"/>
<path fill="#27ac26" d="M6625 1356l38 21l15-43l-38-21zM6663 1377l38 20l16-43l-39-20zM6701 1397l39 19l15-42l-38-20z"/>
<path fill="#24a72f" d="M6740 1416l38 19l15-42l-38-19zM6778 1435l39 17l15-41l-39-18z"/>
<path fill="#22a137" d="M6817 1452l39 17l15-42l-39-16zM6856 1469l39 14l15-41l-39-15z"/>
<path fill="#209c40" d="M6895 1483l39 13l15-41l-39-13z"/>
<path fill="#178465" d="M5083 994l34 7l17-63l-34-7zM5117 1001l34 5l17-61l-34-7z"/>
<path fill="#198b5b" d="M5151 1006l35 5l16-61l-34-5zM5186 1011l34 4l17-61l-35-4z"/>
<path fill="#1c9152" d="M5220 1015l34 2l17-60l-34-3zM5254 1017l35 2l17-59l-35-3z"/>
<path fill="#1e9649" d="M5289 1019l34 2l17-59l-34-2zM5323 1021l35 1l17-58l-35-2z"/>
<path fill="#209c40" d="M5358 1022l35 1l17-58l-35-1zM5393 1023l35 1l17-57l-35-2z"/>
<path fill="#22a137" d="M5428 1024l35 1l17-57l-35-1z"/>
<path fill="#24a72f" d="M5463 1025l35 1l17-56l-35-2zM5498 1026l36 1l17-55l-36-2z"/>
<path fill="#27ac26" d="M5534 1027l35 2l17-55l-35-2z"/>
<path fill="#2fb31f" d="M5569 1029l36 2l17-54l-36-3zM5605 1031l36 3l17-54l-36-3z"/>
<path fill="#43ba1c" d="M5641 1034l36 4l17-54l-36-4zM5677 1038l36 4l17-53l-36-5z"/>
<path fill="#57c219" d="M5713 1042l36 5l17-53l-36-5zM5749 1047l36 6l17-52l-36-7zM5785 1053l37 6l17-51l-37-7zM5822 1059l37 8l16-51l-36-8z"/>
<path fill="#6bca16" d="M5859 1067l36 9l17-51l-37-9zM5895 1076l37 9l17-49l-37-11zM5932 1085l37 11l17-49l-37-11zM5969 1096l37 12l17-49l-37-12zM6006 1108l37 12l17-48l-37-13z"/>
<path fill="#57c219" d="M6043 1120l37 14l17-48l-37-14zM6080 1134l38 15l16-47l-37-16zM6118 1149l37 15l16-46l-37-16zM6155 1164l37 17l17-46l-38-17z"/>
<path fill="#43ba1c" d="M6192 1181l38 17l16-46l-37-17zM6230 1198l38 18l16-45l-38-19zM6268 1216l37 19l16-45l-37-19zM6305 1235l38 19l16-44l-38-20z"/>
<path fill="#2fb31f" d="M6343 1254l38 20l16-44l-38-20zM6381 1274l38 20l16-43l-38-21zM6419 1294l38 20l15-42l-37-21z"/>
<path fill="#27ac26" d="M6457 1314l38 21l15-42l-38-21zM6495 1335l38 21l15-42l-38-21zM6533 1356l38 21l15-42l-38-21z"/>
<path fill="#24a72f" d="M6571 1377l38 21l16-42l-39-21zM6609 1398l38 20l16-41l-38-21z"/>
<path fill="#22a137" d="M6647 1418l39 19l15-40l-38-20zM6686 1437l38 20l16-41l-39-19z"/>
<path fill="#209c40" d="M6724 1457l39 18l15-40l-38-19zM6763 1475l39 17l15-40l-39-17z"/>
<path fill="#1e9649" d="M6802 1492l39 16l15-39l-39-17zM6841 1508l39 14l15-39l-39-14zM6880 1522l39 12l15-38l-39-13z"/>
<path fill="#13678b" d="M5066 1054l34 7l17-60l-34-7zM5100 1061l34 5l17-60l-34-5z"/>
<path fill="#15717e" d="M5134 1066l35 4l17-59l-35-5zM5169 1070l34 3l17-58l-34-4z"/>
<path fill="#167a71" d="M5203 1073l34 2l17-58l-34-2zM5237 1075l35 1l17-57l-35-2z"/>
<path fill="#178465" d="M5272 1076l35 1l16-56l-34-2z"/>
<path fill="#198b5b" d="M5307 1077l34 1l17-56l-35-1zM5341 1078l35 1l17-56l-35-1z"/>
<path fill="#1c9152" d="M5376 1079l35 0l17-55l-35-1z"/>
<path fill="#1e9649" d="M5411 1079l35 0l17-54l-35-1zM5446 1079l36 1l16-54l-35-1z"/>
<path fill="#209c40" d="M5482 1080l35 1l17-54l-36-1z"/>
<path fill="#22a137" d="M5517 1081l35 1l17-53l-35-2zM5552 1082l36 2l17-53l-36-2z"/>
<path fill="#24a72f" d="M5588 1084l36 2l17-52l-36-3z"/>
<path fill="#27ac26" d="M5624 1086l36 3l17-51l-36-4zM5660 1089l36 4l17-51l-36-4z"/>
<path fill="#2fb31f" d="M5696 1093l36 4l17-50l-36-5zM5732 1097l37 5l16-49l-36-6z"/>
<path fill="#43ba1c" d="M5769 1102l36 7l17-50l-37-6zM5805 1109l37 7l17-49l-37-8zM5842 1116l36 8l17-48l-36-9zM5878 1124l37 9l17-48l-37-9zM5915 1133l37 10l17-47l-37-11zM5952 1143l37 11l17-46l-37-12zM5989 1154l38 13l16-47l-37-12zM6027 1167l37 13l16-46l-37-14zM6064 1180l37 14l17-45l-38-15z"/>
<path fill="#2fb31f" d="M6101 1194l38 15l16-45l-37-15zM6139 1209l37 16l16-44l-37-17zM6176 1225l38 16l16-43l-38-17zM6214 1241l37 18l17-43l-38-18z"/>
<path fill="#27ac26" d="M6251 1259l38 18l16-42l-37-19zM6289 1277l38 19l16-42l-38-19zM6327 1296l38 19l16-41l-38-20zM6365 1315l38 20l16-41l-38-20z"/>
<path fill="#24a72f" d="M6403 1335l38 20l16-41l-38-20zM6441 1355l38 21l16-41l-38-21zM6479 1376l38 20l16-40l-38-21z"/>
<path fill="#22a137" d="M6517 1396l38 20l16-39l-38-21zM6555 1416l38 21l16-39l-38-21z"/>
<path fill="#209c40" d="M6593 1437l39 20l15-39l-38-20zM6632 1457l38 19l16-39l-39-19z"/>
<path fill="#1e9649" d="M6670 1476l39 19l15-38l-38-20zM6709 1495l39 17l15-37l-39-18z"/>
<path fill="#1c9152" d="M6748 1512l39 17l15-37l-39-17zM6787 1529l39 16l15-37l-39-16z"/>
<path fill="#198b5b" d="M6826 1545l39 14l15-37l-39-14zM6865 1559l39 12l15-37l-39-12z"/>
<path fill="#104aaf" d="M5049 1112l34 6l17-57l-34-7z"/>
<path fill="#1053a4" d="M5083 1118l34 5l17-57l-34-5zM5117 1123l35 3l17-56l-35-4z"/>
<path fill="#125d97" d="M5152 1126l34 2l17-55l-34-3zM5186 1128l34 2l17-55l-34-2z"/>
<path fill="#13678b" d="M5220 1130l35 1l17-55l-35-1z"/>
<path fill="#15717e" d="M5255 1131l35 0l17-54l-35-1zM5290 1131l34 1l17-54l-34-1z"/>
<path fill="#167a71" d="M5324 1132l35-1l17-52l-35-1z"/>
<path fill="#178465" d="M5359 1131l35 0l17-52l-35 0zM5394 1131l35 0l17-52l-35 0z"/>
<path fill="#198b5b" d="M5429 1131l36 0l17-51l-36-1z"/>
<path fill="#1c9152" d="M5465 1131l35 1l17-51l-35-1z"/>
<path fill="#1e9649" d="M5500 1132l35 0l17-50l-35-1zM5535 1132l36 2l17-50l-36-2z"/>
<path fill="#209c40" d="M5571 1134l36 1l17-49l-36-2z"/>
<path fill="#22a137" d="M5607 1135l36 3l17-49l-36-3zM5643 1138l36 3l17-48l-36-4z"/>
<path fill="#24a72f" d="M5679 1141l36 4l17-48l-36-4z"/>
<path fill="#27ac26" d="M5715 1145l37 5l17-48l-37-5zM5752 1150l36 6l17-47l-36-7zM5788 1156l37 7l17-47l-37-7z"/>
<path fill="#2fb31f" d="M5825 1163l37 7l16-46l-36-8zM5862 1170l37 9l16-46l-37-9zM5899 1179l37 9l16-45l-37-10zM5936 1188l37 11l16-45l-37-11zM5973 1199l37 12l17-44l-38-13z"/>
<path fill="#27ac26" d="M6010 1211l37 12l17-43l-37-13zM6047 1223l38 14l16-43l-37-14zM6085 1237l37 15l17-43l-38-15zM6122 1252l38 15l16-42l-37-16z"/>
<path fill="#24a72f" d="M6160 1267l37 16l17-42l-38-16zM6197 1283l38 17l16-41l-37-18zM6235 1300l38 18l16-41l-38-18zM6273 1318l38 18l16-40l-38-19z"/>
<path fill="#22a137" d="M6311 1336l38 19l16-40l-38-19zM6349 1355l38 20l16-40l-38-20zM6387 1375l38 19l16-39l-38-20zM6425 1394l38 20l16-38l-38-21z"/>
<path fill="#209c40" d="M6463 1414l38 20l16-38l-38-20zM6501 1434l39 20l15-38l-38-20z"/>
<path fill="#1e9649" d="M6540 1454l38 20l15-37l-38-21zM6578 1474l38 19l16-36l-39-20z"/>
<path fill="#1c9152" d="M6616 1493l39 20l15-37l-38-19zM6655 1513l39 18l15-36l-39-19z"/>
<path fill="#198b5b" d="M6694 1531l39 18l15-37l-39-17z"/>
<path fill="#178465" d="M6733 1549l39 16l15-36l-39-17zM6772 1565l39 16l15-36l-39-16z"/>
<path fill="#167a71" d="M6811 1581l39 14l15-36l-39-14zM6850 1595l40 12l14-36l-39-12z"/>
<path fill="#1038c4" d="M5032 1168l34 5l17-55l-34-6zM5066 1173l34 4l17-54l-34-5z"/>
<path fill="#1041b9" d="M5100 1177l35 3l17-54l-35-3zM5135 1180l34 2l17-54l-34-2z"/>
<path fill="#104aaf" d="M5169 1182l34 1l17-53l-34-2z"/>
<path fill="#1053a4" d="M5203 1183l35 0l17-52l-35-1zM5238 1183l34 0l18-52l-35 0z"/>
<path fill="#125d97" d="M5272 1183l35-1l17-50l-34-1z"/>
<path fill="#13678b" d="M5307 1182l35 0l17-51l-35 1zM5342 1182l35-1l17-50l-35 0z"/>
<path fill="#15717e" d="M5377 1181l35 0l17-50l-35 0z"/>
<path fill="#167a71" d="M5412 1181l35-1l18-49l-36 0z"/>
<path fill="#178465" d="M5447 1180l36 0l17-48l-35-1z"/>
<path fill="#198b5b" d="M5483 1180l35 0l17-48l-35 0zM5518 1180l36 1l17-47l-36-2z"/>
<path fill="#1c9152" d="M5554 1181l36 2l17-48l-36-1z"/>
<path fill="#1e9649" d="M5590 1183l36 2l17-47l-36-3z"/>
<path fill="#209c40" d="M5626 1185l36 3l17-47l-36-3zM5662 1188l36 3l17-46l-36-4z"/>
<path fill="#22a137" d="M5698 1191l37 5l17-46l-37-5zM5735 1196l36 5l17-45l-36-6z"/>
<path fill="#24a72f" d="M5771 1201l37 6l17-44l-37-7zM5808 1207l37 7l17-44l-37-7zM5845 1214l37 9l17-44l-37-9zM5882 1223l37 9l17-44l-37-9zM5919 1232l37 10l17-43l-37-11zM5956 1242l37 11l17-42l-37-12zM5993 1253l38 12l16-42l-37-12zM6031 1265l37 13l17-41l-38-14z"/>
<path fill="#22a137" d="M6068 1278l38 14l16-40l-37-15zM6106 1292l37 15l17-40l-38-15zM6143 1307l38 16l16-40l-37-16zM6181 1323l38 17l16-40l-38-17zM6219 1340l38 17l16-39l-38-18z"/>
<path fill="#209c40" d="M6257 1357l38 18l16-39l-38-18zM6295 1375l38 18l16-38l-38-19zM6333 1393l38 19l16-37l-38-20z"/>
<path fill="#1e9649" d="M6371 1412l38 19l16-37l-38-19zM6409 1431l38 20l16-37l-38-20zM6447 1451l39 20l15-37l-38-20z"/>
<path fill="#1c9152" d="M6486 1471l38 19l16-36l-39-20zM6524 1490l38 20l16-36l-38-20z"/>
<path fill="#198b5b" d="M6562 1510l39 19l15-36l-38-19zM6601 1529l39 19l15-35l-39-20z"/>
<path fill="#178465" d="M6640 1548l39 18l15-35l-39-18z"/>
<path fill="#167a71" d="M6679 1566l38 17l16-34l-39-18zM6717 1583l40 17l15-35l-39-16z"/>
<path fill="#15717e" d="M6757 1600l39 15l15-34l-39-16zM6796 1615l39 14l15-34l-39-14z"/>
<path fill="#13678b" d="M6835 1629l40 12l15-34l-40-12z"/>
<path fill="#1027d8" d="M5015 1221l34 5l17-53l-34-5zM5049 1226l34 3l17-52l-34-4z"/>
<path fill="#1030ce" d="M5083 1229l34 2l18-51l-35-3zM5117 1231l35 1l17-50l-34-2z"/>
<path fill="#1038c4" d="M5152 1232l34 0l17-49l-34-1zM5186 1232l34 0l18-49l-35 0z"/>
<path fill="#1041b9" d="M5220 1232l35-1l17-48l-34 0z"/>
<path fill="#104aaf" d="M5255 1231l35-1l17-48l-35 1z"/>
<path fill="#1053a4" d="M5290 1230l35-1l17-47l-35 0zM5325 1229l35-1l17-47l-35 1z"/>
<path fill="#125d97" d="M5360 1228l35-1l17-46l-35 0z"/>
<path fill="#13678b" d="M5395 1227l35 0l17-47l-35 1z"/>
<path fill="#15717e" d="M5430 1227l36-1l17-46l-36 0z"/>
<path fill="#167a71" d="M5466 1226l35 0l17-46l-35 0z"/>
<path fill="#178465" d="M5501 1226l36 0l17-45l-36-1zM5537 1226l36 1l17-44l-36-2z"/>
<path fill="#198b5b" d="M5573 1227l36 2l17-44l-36-2z"/>
<path fill="#1c9152" d="M5609 1229l36 2l17-43l-36-3zM5645 1231l36 4l17-44l-36-3z"/>
<path fill="#1e9649" d="M5681 1235l37 4l17-43l-37-5z"/>
<path fill="#209c40" d="M5718 1239l36 5l17-43l-36-5zM5754 1244l37 5l17-42l-37-6zM5791 1249l37 7l17-42l-37-7z"/>
<path fill="#22a137" d="M5828 1256l37 8l17-41l-37-9zM5865 1264l37 9l17-41l-37-9zM5902 1273l37 10l17-41l-37-10zM5939 1283l37 10l17-40l-37-11z"/>
<path fill="#209c40" d="M5976 1293l38 12l17-40l-38-12zM6014 1305l37 13l17-40l-37-13zM6051 1318l38 13l17-39l-38-14zM6089 1331l38 15l16-39l-37-15zM6127 1346l38 15l16-38l-38-16z"/>
<path fill="#1e9649" d="M6165 1361l37 16l17-37l-38-17zM6202 1377l38 17l17-37l-38-17zM6240 1394l38 18l17-37l-38-18zM6278 1412l39 18l16-37l-38-18z"/>
<path fill="#1c9152" d="M6317 1430l38 18l16-36l-38-19zM6355 1448l38 19l16-36l-38-19zM6393 1467l38 19l16-35l-38-20z"/>
<path fill="#198b5b" d="M6431 1486l39 19l16-34l-39-20zM6470 1505l38 20l16-35l-38-19z"/>
<path fill="#178465" d="M6508 1525l39 19l15-34l-38-20z"/>
<path fill="#167a71" d="M6547 1544l39 19l15-34l-39-19zM6586 1563l38 18l16-33l-39-19z"/>
<path fill="#15717e" d="M6624 1581l39 18l16-33l-39-18zM6663 1599l39 17l15-33l-38-17zM6702 1616l39 17l16-33l-40-17z"/>
<path fill="#13678b" d="M6741 1633l40 15l15-33l-39-15zM6781 1648l39 14l15-33l-39-14z"/>
<path fill="#125d97" d="M6820 1662l40 12l15-33l-40-12z"/>
<path fill="#101de2" d="M4998 1272l34 3l17-49l-34-5z"/>
<path fill="#101ee1" d="M5032 1275l34 3l17-49l-34-3z"/>
<path fill="#1020e0" d="M5066 1278l34 1l17-48l-34-2zM5100 1279l34 0l18-47l-35-1z"/>
<path fill="#1027d8" d="M5134 1279l35 0l17-47l-34 0zM5169 1279l34-1l17-46l-34 0z"/>
<path fill="#1030ce" d="M5203 1278l35-1l17-46l-35 1z"/>
<path fill="#1038c4" d="M5238 1277l34-1l18-46l-35 1z"/>
<path fill="#1041b9" d="M5272 1276l35-2l18-45l-35 1zM5307 1274l35-1l18-45l-35 1z"/>
<path fill="#104aaf" d="M5342 1273l35-2l18-44l-35 1z"/>
<path fill="#1053a4" d="M5377 1271l36-1l17-43l-35 0z"/>
<path fill="#125d97" d="M5413 1270l35-1l18-43l-36 1z"/>
<path fill="#13678b" d="M5448 1269l36 0l17-43l-35 0z"/>
<path fill="#15717e" d="M5484 1269l36 0l17-43l-36 0z"/>
<path fill="#167a71" d="M5520 1269l35 1l18-43l-36-1zM5555 1270l37 1l17-42l-36-2z"/>
<path fill="#178465" d="M5592 1271l36 2l17-42l-36-2z"/>
<path fill="#198b5b" d="M5628 1273l36 3l17-41l-36-4zM5664 1276l37 3l17-40l-37-4z"/>
<path fill="#1c9152" d="M5701 1279l36 5l17-40l-36-5zM5737 1284l37 6l17-41l-37-5z"/>
<path fill="#1e9649" d="M5774 1290l37 6l17-40l-37-7zM5811 1296l37 7l17-39l-37-8zM5848 1303l37 9l17-39l-37-9zM5885 1312l37 9l17-38l-37-10zM5922 1321l38 11l16-39l-37-10zM5960 1332l37 11l17-38l-38-12zM5997 1343l38 12l16-37l-37-13zM6035 1355l37 14l17-38l-38-13z"/>
<path fill="#1c9152" d="M6072 1369l38 14l17-37l-38-15zM6110 1383l38 15l17-37l-38-15zM6148 1398l38 15l16-36l-37-16zM6186 1413l38 17l16-36l-38-17zM6224 1430l38 17l16-35l-38-18z"/>
<path fill="#198b5b" d="M6262 1447l38 17l17-34l-39-18zM6300 1464l39 18l16-34l-38-18zM6339 1482l38 19l16-34l-38-19z"/>
<path fill="#178465" d="M6377 1501l38 19l16-34l-38-19zM6415 1520l39 19l16-34l-39-19z"/>
<path fill="#167a71" d="M6454 1539l39 19l15-33l-38-20z"/>
<path fill="#15717e" d="M6493 1558l38 18l16-32l-39-19zM6531 1576l39 19l16-32l-39-19zM6570 1595l39 18l15-32l-38-18z"/>
<path fill="#13678b" d="M6609 1613l39 18l15-32l-39-18zM6648 1631l39 17l15-32l-39-17z"/>
<path fill="#125d97" d="M6687 1648l39 16l15-31l-39-17zM6726 1664l40 15l15-31l-40-15zM6766 1679l39 14l15-31l-39-14zM6805 1693l40 12l15-31l-40-12z"/>
<path fill="#101be2" d="M4980 1320l34 2l18-47l-34-3zM5014 1322l34 2l18-46l-34-3z"/>
<path fill="#101de2" d="M5048 1324l34 1l18-46l-34-1zM5082 1325l35-1l17-45l-34 0z"/>
<path fill="#101ee1" d="M5117 1324l34-1l18-44l-35 0zM5151 1323l34-1l18-44l-34 1z"/>
<path fill="#1020e0" d="M5185 1322l35-2l18-43l-35 1z"/>
<path fill="#1027d8" d="M5220 1320l35-2l17-42l-34 1z"/>
<path fill="#1030ce" d="M5255 1318l35-2l17-42l-35 2z"/>
<path fill="#1038c4" d="M5290 1316l35-1l17-42l-35 1zM5325 1315l35-2l17-42l-35 2z"/>
<path fill="#1041b9" d="M5360 1313l35-2l18-41l-36 1z"/>
<path fill="#104aaf" d="M5395 1311l36-1l17-41l-35 1z"/>
<path fill="#1053a4" d="M5431 1310l35-1l18-40l-36 0z"/>
<path fill="#125d97" d="M5466 1309l36 0l18-40l-36 0z"/>
<path fill="#13678b" d="M5502 1309l36 0l17-39l-35-1z"/>
<path fill="#15717e" d="M5538 1309l36 1l18-39l-37-1zM5574 1310l36 2l18-39l-36-2z"/>
<path fill="#167a71" d="M5610 1312l37 3l17-39l-36-3z"/>
<path fill="#178465" d="M5647 1315l36 3l18-39l-37-3zM5683 1318l37 4l17-38l-36-5z"/>
<path fill="#198b5b" d="M5720 1322l37 6l17-38l-37-6zM5757 1328l37 6l17-38l-37-6zM5794 1334l37 7l17-38l-37-7z"/>
<path fill="#1c9152" d="M5831 1341l37 8l17-37l-37-9zM5868 1349l37 9l17-37l-37-9zM5905 1358l38 10l17-36l-38-11z"/>
<path fill="#198b5b" d="M5943 1368l37 11l17-36l-37-11zM5980 1379l38 12l17-36l-38-12zM6018 1391l38 13l16-35l-37-14zM6056 1404l38 14l16-35l-38-14zM6094 1418l38 14l16-34l-38-15zM6132 1432l38 16l16-35l-38-15z"/>
<path fill="#178465" d="M6170 1448l38 16l16-34l-38-17zM6208 1464l38 16l16-33l-38-17zM6246 1480l38 18l16-34l-38-17zM6284 1498l39 17l16-33l-39-18z"/>
<path fill="#167a71" d="M6323 1515l38 19l16-33l-38-19zM6361 1534l39 18l15-32l-38-19z"/>
<path fill="#15717e" d="M6400 1552l38 19l16-32l-39-19zM6438 1571l39 18l16-31l-39-19z"/>
<path fill="#13678b" d="M6477 1589l39 19l15-32l-38-18zM6516 1608l39 18l15-31l-39-19z"/>
<path fill="#125d97" d="M6555 1626l39 18l15-31l-39-18zM6594 1644l39 18l15-31l-39-18zM6633 1662l39 17l15-31l-39-17z"/>
<path fill="#1053a4" d="M6672 1679l39 16l15-31l-39-16zM6711 1695l40 15l15-31l-40-15zM6751 1710l39 14l15-31l-39-14zM6790 1724l40 12l15-31l-40-12z"/>
<path fill="#1019e4" d="M4962 1365l34 2l18-45l-34-2zM4996 1367l34 1l18-44l-34-2z"/>
<path fill="#101ae3" d="M5030 1368l34-1l18-42l-34-1z"/>
<path fill="#101be2" d="M5064 1367l35-1l18-42l-35 1zM5099 1366l34-1l18-42l-34 1z"/>
<path fill="#101de2" d="M5133 1365l35-2l17-41l-34 1z"/>
<path fill="#101ee1" d="M5168 1363l34-2l18-41l-35 2zM5202 1361l35-3l18-40l-35 2z"/>
<path fill="#1020e0" d="M5237 1358l35-2l18-40l-35 2z"/>
<path fill="#1027d8" d="M5272 1356l35-2l18-39l-35 1z"/>
<path fill="#1030ce" d="M5307 1354l35-3l18-38l-35 2z"/>
<path fill="#1038c4" d="M5342 1351l35-1l18-39l-35 2z"/>
<path fill="#1041b9" d="M5377 1350l36-2l18-38l-36 1zM5413 1348l36-1l17-38l-35 1z"/>
<path fill="#104aaf" d="M5449 1347l36-1l17-37l-36 0z"/>
<path fill="#1053a4" d="M5485 1346l35 0l18-37l-36 0z"/>
<path fill="#125d97" d="M5520 1346l37 1l17-37l-36-1z"/>
<path fill="#13678b" d="M5557 1347l36 2l17-37l-36-2zM5593 1349l36 2l18-36l-37-3z"/>
<path fill="#15717e" d="M5629 1351l37 3l17-36l-36-3z"/>
<path fill="#167a71" d="M5666 1354l37 4l17-36l-37-4zM5703 1358l37 5l17-35l-37-6z"/>
<path fill="#178465" d="M5740 1363l37 6l17-35l-37-6zM5777 1369l37 7l17-35l-37-7zM5814 1376l37 8l17-35l-37-8zM5851 1384l37 9l17-35l-37-9zM5888 1393l38 9l17-34l-38-10zM5926 1402l37 11l17-34l-37-11zM5963 1413l38 12l17-34l-38-12zM6001 1425l38 12l17-33l-38-13zM6039 1437l38 14l17-33l-38-14z"/>
<path fill="#167a71" d="M6077 1451l38 14l17-33l-38-14zM6115 1465l38 15l17-32l-38-16zM6153 1480l38 16l17-32l-38-16zM6191 1496l39 16l16-32l-38-16zM6230 1512l38 17l16-31l-38-18z"/>
<path fill="#15717e" d="M6268 1529l38 18l17-32l-39-17zM6306 1547l39 18l16-31l-38-19zM6345 1565l39 18l16-31l-39-18z"/>
<path fill="#13678b" d="M6384 1583l38 18l16-30l-38-19zM6422 1601l39 19l16-31l-39-18z"/>
<path fill="#125d97" d="M6461 1620l39 18l16-30l-39-19zM6500 1638l39 18l16-30l-39-18z"/>
<path fill="#1053a4" d="M6539 1656l39 18l16-30l-39-18zM6578 1674l39 18l16-30l-39-18zM6617 1692l40 16l15-29l-39-17zM6657 1708l39 17l15-30l-39-16zM6696 1725l40 15l15-30l-40-15z"/>
<path fill="#104aaf" d="M6736 1740l39 14l15-30l-39-14zM6775 1754l40 12l15-30l-40-12z"/>
<path fill="#0f16d7" d="M4944 1408l34 1l18-42l-34-2z"/>
<path fill="#1017df" d="M4978 1409l34 0l18-41l-34-1zM5012 1409l34-1l18-41l-34 1z"/>
<path fill="#1019e4" d="M5046 1408l35-2l18-40l-35 1z"/>
<path fill="#101ae3" d="M5081 1406l34-2l18-39l-34 1zM5115 1404l35-3l18-38l-35 2z"/>
<path fill="#101be2" d="M5150 1401l34-2l18-38l-34 2z"/>
<path fill="#101de2" d="M5184 1399l35-3l18-38l-35 3z"/>
<path fill="#101ee1" d="M5219 1396l35-3l18-37l-35 2zM5254 1393l35-3l18-36l-35 2z"/>
<path fill="#1020e0" d="M5289 1390l35-2l18-37l-35 3z"/>
<path fill="#1027d8" d="M5324 1388l36-3l17-35l-35 1z"/>
<path fill="#1030ce" d="M5360 1385l35-1l18-36l-36 2z"/>
<path fill="#1038c4" d="M5395 1384l36-2l18-35l-36 1z"/>
<path fill="#1041b9" d="M5431 1382l36-1l18-35l-36 1z"/>
<path fill="#104aaf" d="M5467 1381l36 0l17-35l-35 0zM5503 1381l36 1l18-35l-37-1z"/>
<path fill="#1053a4" d="M5539 1382l36 1l18-34l-36-2z"/>
<path fill="#125d97" d="M5575 1383l37 2l17-34l-36-2zM5612 1385l36 3l18-34l-37-3z"/>
<path fill="#13678b" d="M5648 1388l37 4l18-34l-37-4z"/>
<path fill="#15717e" d="M5685 1392l37 5l18-34l-37-5zM5722 1397l37 6l18-34l-37-6zM5759 1403l37 6l18-33l-37-7z"/>
<path fill="#167a71" d="M5796 1409l38 8l17-33l-37-8zM5834 1417l37 8l17-32l-37-9zM5871 1425l38 10l17-33l-38-9zM5909 1435l37 11l17-33l-37-11zM5946 1446l38 11l17-32l-38-12z"/>
<path fill="#15717e" d="M5984 1457l38 12l17-32l-38-12zM6022 1469l38 14l17-32l-38-14zM6060 1483l38 14l17-32l-38-14zM6098 1497l39 14l16-31l-38-15zM6137 1511l38 16l16-31l-38-16zM6175 1527l38 16l17-31l-39-16zM6213 1543l39 17l16-31l-38-17z"/>
<path fill="#13678b" d="M6252 1560l38 17l16-30l-38-18zM6290 1577l39 18l16-30l-39-18zM6329 1595l39 17l16-29l-39-18z"/>
<path fill="#125d97" d="M6368 1612l38 19l16-30l-38-18zM6406 1631l39 18l16-29l-39-19zM6445 1649l39 18l16-29l-39-18z"/>
<path fill="#1053a4" d="M6484 1667l39 18l16-29l-39-18zM6523 1685l40 18l15-29l-39-18zM6563 1703l39 17l15-28l-39-18z"/>
<path fill="#104aaf" d="M6602 1720l39 17l16-29l-40-16zM6641 1737l40 16l15-28l-39-17z"/>
<path fill="#1041b9" d="M6681 1753l39 16l16-29l-40-15zM6720 1769l40 14l15-29l-39-14z"/>
<path fill="#1038c4" d="M6760 1783l40 12l15-29l-40-12z"/>
<path fill="#0e15cf" d="M4926 1448l34 0l18-39l-34-1zM4960 1448l34-1l18-38l-34 0z"/>
<path fill="#0f16d7" d="M4994 1447l34-2l18-37l-34 1zM5028 1445l35-2l18-37l-35 2z"/>
<path fill="#1017df" d="M5063 1443l34-3l18-36l-34 2z"/>
<path fill="#1019e4" d="M5097 1440l34-3l19-36l-35 3z"/>
<path fill="#101ae3" d="M5131 1437l35-3l18-35l-34 2zM5166 1434l35-3l18-35l-35 3z"/>
<path fill="#101be2" d="M5201 1431l35-4l18-34l-35 3z"/>
<path fill="#101de2" d="M5236 1427l35-3l18-34l-35 3z"/>
<path fill="#101ee1" d="M5271 1424l35-3l18-33l-35 2z"/>
<path fill="#1020e0" d="M5306 1421l36-2l18-34l-36 3z"/>
<path fill="#1027d8" d="M5342 1419l35-2l18-33l-35 1z"/>
<path fill="#1030ce" d="M5377 1417l36-2l18-33l-36 2zM5413 1415l36-1l18-33l-36 1z"/>
<path fill="#1038c4" d="M5449 1414l36 0l18-33l-36 0z"/>
<path fill="#1041b9" d="M5485 1414l36 0l18-32l-36-1z"/>
<path fill="#104aaf" d="M5521 1414l37 1l17-32l-36-1zM5558 1415l36 2l18-32l-37-2z"/>
<path fill="#1053a4" d="M5594 1417l37 3l17-32l-36-3z"/>
<path fill="#125d97" d="M5631 1420l37 4l17-32l-37-4zM5668 1424l37 4l17-31l-37-5z"/>
<path fill="#13678b" d="M5705 1428l37 6l17-31l-37-6zM5742 1434l37 6l17-31l-37-6zM5779 1440l38 8l17-31l-38-8zM5817 1448l37 8l17-31l-37-8zM5854 1456l38 10l17-31l-38-10zM5892 1466l37 10l17-30l-37-11zM5929 1476l38 11l17-30l-38-11zM5967 1487l38 12l17-30l-38-12zM6005 1499l38 13l17-29l-38-14zM6043 1512l39 14l16-29l-38-14zM6082 1526l38 15l17-30l-39-14zM6120 1541l38 15l17-29l-38-16zM6158 1556l39 16l16-29l-38-16zM6197 1572l38 17l17-29l-39-17z"/>
<path fill="#125d97" d="M6235 1589l39 17l16-29l-38-17zM6274 1606l39 17l16-28l-39-18zM6313 1623l38 18l17-29l-39-17z"/>
<path fill="#1053a4" d="M6351 1641l39 18l16-28l-38-19zM6390 1659l39 18l16-28l-39-18zM6429 1677l39 18l16-28l-39-18z"/>
<path fill="#104aaf" d="M6468 1695l40 18l15-28l-39-18zM6508 1713l39 18l16-28l-40-18zM6547 1731l39 17l16-28l-39-17zM6586 1748l40 17l15-28l-39-17z"/>
<path fill="#1041b9" d="M6626 1765l39 16l16-28l-40-16z"/>
<path fill="#1038c4" d="M6665 1781l40 15l15-27l-39-16z"/>
<path fill="#1030ce" d="M6705 1796l40 15l15-28l-40-14zM6745 1811l40 12l15-28l-40-12z"/>
<path fill="#0e13c8" d="M4908 1486l34-1l18-37l-34 0zM4942 1485l34-2l18-36l-34 1zM4976 1483l34-2l18-36l-34 2z"/>
<path fill="#0e15cf" d="M5010 1481l34-3l19-35l-35 2zM5044 1478l35-4l18-34l-34 3z"/>
<path fill="#0f16d7" d="M5079 1474l34-3l18-34l-34 3z"/>
<path fill="#1017df" d="M5113 1471l35-4l18-33l-35 3z"/>
<path fill="#1019e4" d="M5148 1467l35-4l18-32l-35 3z"/>
<path fill="#101ae3" d="M5183 1463l35-4l18-32l-35 4z"/>
<path fill="#101be2" d="M5218 1459l35-3l18-32l-35 3z"/>
<path fill="#101de2" d="M5253 1456l35-3l18-32l-35 3z"/>
<path fill="#101ee1" d="M5288 1453l36-3l18-31l-36 2z"/>
<path fill="#1020e0" d="M5324 1450l35-2l18-31l-35 2z"/>
<path fill="#1027d8" d="M5359 1448l36-2l18-31l-36 2zM5395 1446l36-1l18-31l-36 1z"/>
<path fill="#1030ce" d="M5431 1445l36-1l18-30l-36 0z"/>
<path fill="#1038c4" d="M5467 1444l36 0l18-30l-36 0z"/>
<path fill="#1041b9" d="M5503 1444l37 1l18-30l-37-1zM5540 1445l36 2l18-30l-36-2z"/>
<path fill="#104aaf" d="M5576 1447l37 3l18-30l-37-3zM5613 1450l37 3l18-29l-37-4z"/>
<path fill="#1053a4" d="M5650 1453l37 5l18-30l-37-4zM5687 1458l37 5l18-29l-37-6z"/>
<path fill="#125d97" d="M5724 1463l38 7l17-30l-37-6zM5762 1470l37 7l18-29l-38-8zM5799 1477l38 8l17-29l-37-8z"/>
<path fill="#13678b" d="M5837 1485l37 10l18-29l-38-10zM5874 1495l38 10l17-29l-37-10zM5912 1505l38 11l17-29l-38-11z"/>
<path fill="#125d97" d="M5950 1516l38 12l17-29l-38-12zM5988 1528l38 13l17-29l-38-13zM6026 1541l39 14l17-29l-39-14zM6065 1555l38 14l17-28l-38-15zM6103 1569l39 15l16-28l-38-15zM6142 1584l38 16l17-28l-39-16zM6180 1600l39 16l16-27l-38-17z"/>
<path fill="#1053a4" d="M6219 1616l39 17l16-27l-39-17zM6258 1633l38 18l17-28l-39-17zM6296 1651l39 17l16-27l-38-18zM6335 1668l39 18l16-27l-39-18z"/>
<path fill="#104aaf" d="M6374 1686l39 18l16-27l-39-18zM6413 1704l40 18l15-27l-39-18zM6453 1722l39 18l16-27l-40-18zM6492 1740l39 18l16-27l-39-18z"/>
<path fill="#1041b9" d="M6531 1758l40 17l15-27l-39-17z"/>
<path fill="#1038c4" d="M6571 1775l39 17l16-27l-40-17zM6610 1792l40 16l15-27l-39-16z"/>
<path fill="#1030ce" d="M6650 1808l40 16l15-28l-40-15z"/>
<path fill="#1027d8" d="M6690 1824l40 14l15-27l-40-15z"/>
<path fill="#1020e0" d="M6730 1838l40 13l15-28l-40-12z"/>
<path fill="#0d12c0" d="M4889 1521l34-1l19-35l-34 1zM4923 1520l34-3l19-34l-34 2zM4957 1517l34-3l19-33l-34 2z"/>
<path fill="#0e13c8" d="M4991 1514l35-4l18-32l-34 3zM5026 1510l34-4l19-32l-35 4z"/>
<path fill="#0e15cf" d="M5060 1506l35-4l18-31l-34 3z"/>
<path fill="#0f16d7" d="M5095 1502l34-5l19-30l-35 4z"/>
<path fill="#1017df" d="M5129 1497l35-4l19-30l-35 4z"/>
<path fill="#1019e4" d="M5164 1493l35-4l19-30l-35 4z"/>
<path fill="#101ae3" d="M5199 1489l35-4l19-29l-35 3z"/>
<path fill="#101be2" d="M5234 1485l36-3l18-29l-35 3z"/>
<path fill="#101de2" d="M5270 1482l35-3l19-29l-36 3z"/>
<path fill="#101ee1" d="M5305 1479l36-3l18-28l-35 2z"/>
<path fill="#1020e0" d="M5341 1476l36-2l18-28l-36 2zM5377 1474l36-1l18-28l-36 1z"/>
<path fill="#1027d8" d="M5413 1473l36-1l18-28l-36 1z"/>
<path fill="#1030ce" d="M5449 1472l36 0l18-28l-36 0zM5485 1472l37 1l18-28l-37-1z"/>
<path fill="#1038c4" d="M5522 1473l36 2l18-28l-36-2z"/>
<path fill="#1041b9" d="M5558 1475l37 3l18-28l-37-3zM5595 1478l37 3l18-28l-37-3z"/>
<path fill="#104aaf" d="M5632 1481l37 5l18-28l-37-5zM5669 1486l38 5l17-28l-37-5z"/>
<path fill="#1053a4" d="M5707 1491l37 6l18-27l-38-7zM5744 1497l38 8l17-28l-37-7z"/>
<path fill="#125d97" d="M5782 1505l37 8l18-28l-38-8zM5819 1513l38 9l17-27l-37-10zM5857 1522l38 10l17-27l-38-10zM5895 1532l38 11l17-27l-38-11zM5933 1543l38 12l17-27l-38-12z"/>
<path fill="#1053a4" d="M5971 1555l39 13l16-27l-38-13zM6010 1568l38 13l17-26l-39-14zM6048 1581l38 15l17-27l-38-14zM6086 1596l39 15l17-27l-39-15zM6125 1611l39 16l16-27l-38-16zM6164 1627l38 16l17-27l-39-16zM6202 1643l39 17l17-27l-39-17z"/>
<path fill="#104aaf" d="M6241 1660l39 17l16-26l-38-18zM6280 1677l39 17l16-26l-39-17zM6319 1694l39 18l16-26l-39-18zM6358 1712l39 18l16-26l-39-18zM6397 1730l40 18l16-26l-40-18z"/>
<path fill="#1041b9" d="M6437 1748l39 18l16-26l-39-18z"/>
<path fill="#1038c4" d="M6476 1766l40 18l15-26l-39-18zM6516 1784l39 17l16-26l-40-17z"/>
<path fill="#1030ce" d="M6555 1801l40 17l15-26l-39-17z"/>
<path fill="#1027d8" d="M6595 1818l40 16l15-26l-40-16zM6635 1834l40 16l15-26l-40-16z"/>
<path fill="#1020e0" d="M6675 1850l40 14l15-26l-40-14zM6715 1864l40 13l15-26l-40-13z"/>
<path fill="#0c11b8" d="M4870 1555l34-2l19-33l-34 1zM4904 1553l34-4l19-32l-34 3zM4938 1549l35-4l18-31l-34 3z"/>
<path fill="#0d12c0" d="M4973 1545l34-5l19-30l-35 4zM5007 1540l34-5l19-29l-34 4z"/>
<path fill="#0e13c8" d="M5041 1535l35-4l19-29l-35 4z"/>
<path fill="#0e15cf" d="M5076 1531l35-5l18-29l-34 5z"/>
<path fill="#0f16d7" d="M5111 1526l34-5l19-28l-35 4z"/>
<path fill="#1017df" d="M5145 1521l36-4l18-28l-35 4z"/>
<path fill="#1019e4" d="M5181 1517l35-4l18-28l-35 4z"/>
<path fill="#101ae3" d="M5216 1513l35-4l19-27l-36 3z"/>
<path fill="#101be2" d="M5251 1509l36-3l18-27l-35 3z"/>
<path fill="#101de2" d="M5287 1506l35-3l19-27l-36 3z"/>
<path fill="#101ee1" d="M5322 1503l36-2l19-27l-36 2z"/>
<path fill="#1020e0" d="M5358 1501l36-2l19-26l-36 1zM5394 1499l37-1l18-26l-36 1z"/>
<path fill="#1027d8" d="M5431 1498l36 0l18-26l-36 0z"/>
<path fill="#1030ce" d="M5467 1498l37 1l18-26l-37-1zM5504 1499l36 2l18-26l-36-2z"/>
<path fill="#1038c4" d="M5540 1501l37 3l18-26l-37-3zM5577 1504l37 3l18-26l-37-3z"/>
<path fill="#1041b9" d="M5614 1507l38 4l17-25l-37-5z"/>
<path fill="#104aaf" d="M5652 1511l37 6l18-26l-38-5zM5689 1517l37 6l18-26l-37-6zM5726 1523l38 7l18-25l-38-8z"/>
<path fill="#1053a4" d="M5764 1530l38 9l17-26l-37-8zM5802 1539l38 9l17-26l-38-9zM5840 1548l38 10l17-26l-38-10zM5878 1558l38 11l17-26l-38-11zM5916 1569l38 12l17-26l-38-12zM5954 1581l38 12l18-25l-39-13z"/>
<path fill="#104aaf" d="M5992 1593l39 14l17-26l-38-13zM6031 1607l38 14l17-25l-38-15zM6069 1621l39 15l17-25l-39-15zM6108 1636l39 16l17-25l-39-16zM6147 1652l39 16l16-25l-38-16zM6186 1668l39 17l16-25l-39-17zM6225 1685l39 17l16-25l-39-17zM6264 1702l39 17l16-25l-39-17zM6303 1719l39 18l16-25l-39-18z"/>
<path fill="#1041b9" d="M6342 1737l39 18l16-25l-39-18zM6381 1755l40 18l16-25l-40-18z"/>
<path fill="#1038c4" d="M6421 1773l39 18l16-25l-39-18z"/>
<path fill="#1030ce" d="M6460 1791l40 18l16-25l-40-18z"/>
<path fill="#1027d8" d="M6500 1809l40 17l15-25l-39-17zM6540 1826l39 17l16-25l-40-17z"/>
<path fill="#1020e0" d="M6579 1843l40 16l16-25l-40-16zM6619 1859l40 16l16-25l-40-16z"/>
<path fill="#101ee1" d="M6659 1875l41 15l15-26l-40-14zM6700 1890l40 13l15-26l-40-13z"/>
<path fill="#0c0fa9" d="M4851 1586l34-2l19-31l-34 2zM4885 1584l34-5l19-30l-34 4z"/>
<path fill="#0c11b8" d="M4919 1579l35-5l19-29l-35 4zM4954 1574l34-5l19-29l-34 5z"/>
<path fill="#0d12c0" d="M4988 1569l34-6l19-28l-34 5z"/>
<path fill="#0e13c8" d="M5022 1563l35-5l19-27l-35 4zM5057 1558l35-5l19-27l-35 5z"/>
<path fill="#0e15cf" d="M5092 1553l35-6l18-26l-34 5z"/>
<path fill="#0f16d7" d="M5127 1547l35-4l19-26l-36 4z"/>
<path fill="#1017df" d="M5162 1543l35-5l19-25l-35 4z"/>
<path fill="#1019e4" d="M5197 1538l35-4l19-25l-35 4z"/>
<path fill="#101ae3" d="M5232 1534l36-3l19-25l-36 3z"/>
<path fill="#101be2" d="M5268 1531l36-3l18-25l-35 3z"/>
<path fill="#101de2" d="M5304 1528l36-3l18-24l-36 2z"/>
<path fill="#101ee1" d="M5340 1525l36-1l18-25l-36 2z"/>
<path fill="#1020e0" d="M5376 1524l36-1l19-25l-37 1zM5412 1523l37 0l18-25l-36 0z"/>
<path fill="#1027d8" d="M5449 1523l36 1l19-25l-37-1z"/>
<path fill="#1030ce" d="M5485 1524l37 1l18-24l-36-2zM5522 1525l37 3l18-24l-37-3z"/>
<path fill="#1038c4" d="M5559 1528l37 3l18-24l-37-3zM5596 1531l38 5l18-25l-38-4z"/>
<path fill="#1041b9" d="M5634 1536l37 5l18-24l-37-6zM5671 1541l38 6l17-24l-37-6z"/>
<path fill="#104aaf" d="M5709 1547l37 8l18-25l-38-7zM5746 1555l38 8l18-24l-38-9zM5784 1563l38 9l18-24l-38-9zM5822 1572l38 10l18-24l-38-10zM5860 1582l38 11l18-24l-38-11zM5898 1593l39 12l17-24l-38-12zM5937 1605l38 13l17-25l-38-12zM5975 1618l39 13l17-24l-39-14zM6014 1631l38 15l17-25l-38-14zM6052 1646l39 15l17-25l-39-15zM6091 1661l39 15l17-24l-39-16zM6130 1676l39 16l17-24l-39-16zM6169 1692l39 17l17-24l-39-17zM6208 1709l39 17l17-24l-39-17z"/>
<path fill="#1041b9" d="M6247 1726l39 18l17-25l-39-17zM6286 1744l40 17l16-24l-39-18zM6326 1761l39 18l16-24l-39-18z"/>
<path fill="#1038c4" d="M6365 1779l40 18l16-24l-40-18z"/>
<path fill="#1030ce" d="M6405 1797l39 18l16-24l-39-18z"/>
<path fill="#1027d8" d="M6444 1815l40 18l16-24l-40-18z"/>
<path fill="#1020e0" d="M6484 1833l40 17l16-24l-40-17zM6524 1850l40 17l15-24l-39-17z"/>
<path fill="#101ee1" d="M6564 1867l40 17l15-25l-40-16zM6604 1884l40 16l15-25l-40-16z"/>
<path fill="#101de2" d="M6644 1900l40 15l16-25l-41-15zM6684 1915l41 13l15-25l-40-13z"/>
<path fill="#0c0fa9" d="M4832 1616l34-4l19-28l-34 2zM4866 1612l34-5l19-28l-34 5z"/>
<path fill="#0c11b8" d="M4900 1607l34-6l20-27l-35 5zM4934 1601l35-6l19-26l-34 5z"/>
<path fill="#0d12c0" d="M4969 1595l34-6l19-26l-34 6zM5003 1589l35-6l19-25l-35 5z"/>
<path fill="#0e13c8" d="M5038 1583l35-6l19-24l-35 5z"/>
<path fill="#0e15cf" d="M5073 1577l35-5l19-25l-35 6z"/>
<path fill="#0f16d7" d="M5108 1572l35-5l19-24l-35 4z"/>
<path fill="#1017df" d="M5143 1567l35-5l19-24l-35 5z"/>
<path fill="#1019e4" d="M5178 1562l36-4l18-24l-35 4z"/>
<path fill="#101ae3" d="M5214 1558l35-4l19-23l-36 3z"/>
<path fill="#101be2" d="M5249 1554l36-3l19-23l-36 3z"/>
<path fill="#101de2" d="M5285 1551l36-3l19-23l-36 3z"/>
<path fill="#101ee1" d="M5321 1548l36-1l19-23l-36 1zM5357 1547l37-1l18-23l-36 1z"/>
<path fill="#1020e0" d="M5394 1546l36 0l19-23l-37 0z"/>
<path fill="#1027d8" d="M5430 1546l37 0l18-22l-36-1zM5467 1546l37 2l18-23l-37-1z"/>
<path fill="#1030ce" d="M5504 1548l37 2l18-22l-37-3zM5541 1550l37 4l18-23l-37-3z"/>
<path fill="#1038c4" d="M5578 1554l37 4l19-22l-38-5zM5615 1558l38 6l18-23l-37-5z"/>
<path fill="#1041b9" d="M5653 1564l38 6l18-23l-38-6zM5691 1570l37 7l18-22l-37-8zM5728 1577l38 9l18-23l-38-8zM5766 1586l38 9l18-23l-38-9zM5804 1595l39 10l17-23l-38-10zM5843 1605l38 11l17-23l-38-11zM5881 1616l38 12l18-23l-39-12zM5919 1628l39 13l17-23l-38-13zM5958 1641l39 13l17-23l-39-13zM5997 1654l38 15l17-23l-38-15zM6035 1669l39 15l17-23l-39-15zM6074 1684l39 15l17-23l-39-15zM6113 1699l39 16l17-23l-39-16zM6152 1715l39 17l17-23l-39-17zM6191 1732l40 17l16-23l-39-17zM6231 1749l39 18l16-23l-39-18zM6270 1767l39 18l17-24l-40-17z"/>
<path fill="#1038c4" d="M6309 1785l40 18l16-24l-39-18z"/>
<path fill="#1030ce" d="M6349 1803l40 17l16-23l-40-18z"/>
<path fill="#1027d8" d="M6389 1820l39 18l16-23l-39-18z"/>
<path fill="#1020e0" d="M6428 1838l40 18l16-23l-40-18z"/>
<path fill="#101ee1" d="M6468 1856l40 18l16-24l-40-17zM6508 1874l40 17l16-24l-40-17z"/>
<path fill="#101de2" d="M6548 1891l40 16l16-23l-40-17zM6588 1907l41 16l15-23l-40-16z"/>
<path fill="#101be2" d="M6629 1923l40 15l15-23l-40-15zM6669 1938l41 14l15-24l-41-13z"/>
<path fill="#0b0d91" d="M4813 1644l34-4l19-28l-34 4z"/>
<path fill="#0c0fa9" d="M4847 1640l34-7l19-26l-34 5zM4881 1633l34-6l19-26l-34 6z"/>
<path fill="#0c11b8" d="M4915 1627l34-7l20-25l-35 6zM4949 1620l35-7l19-24l-34 6z"/>
<path fill="#0d12c0" d="M4984 1613l35-6l19-24l-35 6z"/>
<path fill="#0e13c8" d="M5019 1607l34-6l20-24l-35 6z"/>
<path fill="#0e15cf" d="M5053 1601l35-6l20-23l-35 5zM5088 1595l36-6l19-22l-35 5z"/>
<path fill="#0f16d7" d="M5124 1589l35-5l19-22l-35 5z"/>
<path fill="#1017df" d="M5159 1584l35-4l20-22l-36 4z"/>
<path fill="#1019e4" d="M5194 1580l36-4l19-22l-35 4z"/>
<path fill="#101ae3" d="M5230 1576l36-4l19-21l-36 3z"/>
<path fill="#101be2" d="M5266 1572l36-2l19-22l-36 3z"/>
<path fill="#101de2" d="M5302 1570l37-2l18-21l-36 1z"/>
<path fill="#101ee1" d="M5339 1568l36-1l19-21l-37 1z"/>
<path fill="#1020e0" d="M5375 1567l37 0l18-21l-36 0zM5412 1567l36 0l19-21l-37 0z"/>
<path fill="#1027d8" d="M5448 1567l37 2l19-21l-37-2z"/>
<path fill="#1030ce" d="M5485 1569l37 3l19-22l-37-2zM5522 1572l38 3l18-21l-37-4zM5560 1575l37 4l18-21l-37-4z"/>
<path fill="#1038c4" d="M5597 1579l38 6l18-21l-38-6zM5635 1585l38 6l18-21l-38-6zM5673 1591l37 8l18-22l-37-7z"/>
<path fill="#1041b9" d="M5710 1599l39 8l17-21l-38-9zM5749 1607l38 9l17-21l-38-9zM5787 1616l38 11l18-22l-39-10zM5825 1627l38 11l18-22l-38-11zM5863 1638l39 12l17-22l-38-12zM5902 1650l39 13l17-22l-39-13zM5941 1663l38 13l18-22l-39-13zM5979 1676l39 15l17-22l-38-15zM6018 1691l39 15l17-22l-39-15zM6057 1706l39 15l17-22l-39-15zM6096 1721l39 17l17-23l-39-16zM6135 1738l40 16l16-22l-39-17zM6175 1754l39 18l17-23l-40-17zM6214 1772l39 17l17-22l-39-18z"/>
<path fill="#1038c4" d="M6253 1789l40 18l16-22l-39-18z"/>
<path fill="#1030ce" d="M6293 1807l40 18l16-22l-40-18z"/>
<path fill="#1027d8" d="M6333 1825l39 18l17-23l-40-17z"/>
<path fill="#1020e0" d="M6372 1843l40 18l16-23l-39-18z"/>
<path fill="#101ee1" d="M6412 1861l40 18l16-23l-40-18zM6452 1879l40 17l16-22l-40-18z"/>
<path fill="#101de2" d="M6492 1896l40 17l16-22l-40-17zM6532 1913l41 17l15-23l-40-16z"/>
<path fill="#101be2" d="M6573 1930l40 16l16-23l-41-16zM6613 1946l41 15l15-23l-40-15zM6654 1961l40 14l16-23l-41-14z"/>
<path fill="#0b0d91" d="M4793 1670l34-5l20-25l-34 4zM4827 1665l34-7l20-25l-34 7z"/>
<path fill="#0c0fa9" d="M4861 1658l34-7l20-24l-34 6zM4895 1651l35-7l19-24l-34 7z"/>
<path fill="#0c11b8" d="M4930 1644l34-8l20-23l-35 7z"/>
<path fill="#0d12c0" d="M4964 1636l35-7l20-22l-35 6z"/>
<path fill="#0e13c8" d="M4999 1629l35-6l19-22l-34 6zM5034 1623l35-7l19-21l-35 6z"/>
<path fill="#0e15cf" d="M5069 1616l35-5l20-22l-36 6z"/>
<path fill="#0f16d7" d="M5104 1611l36-6l19-21l-35 5z"/>
<path fill="#1017df" d="M5140 1605l35-5l19-20l-35 4z"/>
<path fill="#1019e4" d="M5175 1600l36-4l19-20l-36 4z"/>
<path fill="#101ae3" d="M5211 1596l36-3l19-21l-36 4z"/>
<path fill="#101be2" d="M5247 1593l36-3l19-20l-36 2z"/>
<path fill="#101de2" d="M5283 1590l37-2l19-20l-37 2z"/>
<path fill="#101ee1" d="M5320 1588l36-1l19-20l-36 1zM5356 1587l37 0l19-20l-37 0z"/>
<path fill="#1020e0" d="M5393 1587l37 0l18-20l-36 0z"/>
<path fill="#1027d8" d="M5430 1587l37 2l18-20l-37-2zM5467 1589l37 2l18-19l-37-3z"/>
<path fill="#1030ce" d="M5504 1591l37 4l19-20l-38-3zM5541 1595l38 4l18-20l-37-4zM5579 1599l38 6l18-20l-38-6z"/>
<path fill="#1038c4" d="M5617 1605l37 6l19-20l-38-6zM5654 1611l38 8l18-20l-37-8zM5692 1619l39 8l18-20l-39-8zM5731 1627l38 10l18-21l-38-9z"/>
<path fill="#1041b9" d="M5769 1637l38 10l18-20l-38-11zM5807 1647l39 11l17-20l-38-11zM5846 1658l38 12l18-20l-39-12zM5884 1670l39 13l18-20l-39-13zM5923 1683l39 14l17-21l-38-13zM5962 1697l39 14l17-20l-39-15zM6001 1711l39 16l17-21l-39-15zM6040 1727l39 15l17-21l-39-15zM6079 1742l39 17l17-21l-39-17zM6118 1759l40 17l17-22l-40-16zM6158 1776l39 17l17-21l-39-18z"/>
<path fill="#1038c4" d="M6197 1793l40 18l16-22l-39-17z"/>
<path fill="#1030ce" d="M6237 1811l39 17l17-21l-40-18zM6276 1828l40 18l17-21l-40-18z"/>
<path fill="#1027d8" d="M6316 1846l40 18l16-21l-39-18z"/>
<path fill="#1020e0" d="M6356 1864l40 18l16-21l-40-18z"/>
<path fill="#101ee1" d="M6396 1882l40 18l16-21l-40-18z"/>
<path fill="#101de2" d="M6436 1900l40 18l16-22l-40-17zM6476 1918l40 17l16-22l-40-17z"/>
<path fill="#101be2" d="M6516 1935l41 17l16-22l-41-17zM6557 1952l40 16l16-22l-40-16z"/>
<path fill="#101ae3" d="M6597 1968l41 15l16-22l-41-15zM6638 1983l41 14l15-22l-40-14z"/>
<path fill="#0b0c79" d="M4773 1695l35-5l19-25l-34 5z"/>
<path fill="#0b0d91" d="M4808 1690l34-8l19-24l-34 7z"/>
<path fill="#0c0fa9" d="M4842 1682l34-8l19-23l-34 7zM4876 1674l34-8l20-22l-35 7z"/>
<path fill="#0c11b8" d="M4910 1666l35-8l19-22l-34 8zM4945 1658l34-7l20-22l-35 7z"/>
<path fill="#0d12c0" d="M4979 1651l35-7l20-21l-35 6z"/>
<path fill="#0e13c8" d="M5014 1644l35-7l20-21l-35 7z"/>
<path fill="#0e15cf" d="M5049 1637l36-6l19-20l-35 5z"/>
<path fill="#0f16d7" d="M5085 1631l35-6l20-20l-36 6zM5120 1625l36-5l19-20l-35 5z"/>
<path fill="#1017df" d="M5156 1620l36-5l19-19l-36 4z"/>
<path fill="#1019e4" d="M5192 1615l36-3l19-19l-36 3z"/>
<path fill="#101ae3" d="M5228 1612l36-3l19-19l-36 3z"/>
<path fill="#101be2" d="M5264 1609l36-2l20-19l-37 2z"/>
<path fill="#101de2" d="M5300 1607l37-1l19-19l-36 1z"/>
<path fill="#101ee1" d="M5337 1606l37-1l19-18l-37 0z"/>
<path fill="#1020e0" d="M5374 1605l37 1l19-19l-37 0zM5411 1606l37 2l19-19l-37-2z"/>
<path fill="#1027d8" d="M5448 1608l37 2l19-19l-37-2zM5485 1610l38 4l18-19l-37-4z"/>
<path fill="#1030ce" d="M5523 1614l37 4l19-19l-38-4zM5560 1618l38 6l19-19l-38-6z"/>
<path fill="#1038c4" d="M5598 1624l38 6l18-19l-37-6zM5636 1630l38 8l18-19l-38-8zM5674 1638l38 8l19-19l-39-8zM5712 1646l39 10l18-19l-38-10zM5751 1656l38 10l18-19l-38-10z"/>
<path fill="#1041b9" d="M5789 1666l39 12l18-20l-39-11zM5828 1678l39 12l17-20l-38-12zM5867 1690l38 13l18-20l-39-13zM5905 1703l39 14l18-20l-39-14zM5944 1717l39 14l18-20l-39-14zM5983 1731l40 16l17-20l-39-16zM6023 1747l39 16l17-21l-39-15zM6062 1763l39 16l17-20l-39-17z"/>
<path fill="#1038c4" d="M6101 1779l40 17l17-20l-40-17zM6141 1796l39 17l17-20l-39-17z"/>
<path fill="#1030ce" d="M6180 1813l40 18l17-20l-40-18zM6220 1831l40 18l16-21l-39-17z"/>
<path fill="#1027d8" d="M6260 1849l40 18l16-21l-40-18z"/>
<path fill="#1020e0" d="M6300 1867l40 18l16-21l-40-18z"/>
<path fill="#101ee1" d="M6340 1885l40 18l16-21l-40-18zM6380 1903l40 18l16-21l-40-18z"/>
<path fill="#101de2" d="M6420 1921l40 18l16-21l-40-18zM6460 1939l41 17l15-21l-40-17z"/>
<path fill="#101be2" d="M6501 1956l40 17l16-21l-41-17zM6541 1973l41 16l15-21l-40-16z"/>
<path fill="#101ae3" d="M6582 1989l41 15l15-21l-41-15zM6623 2004l41 13l15-20l-41-14z"/>
<path fill="#0b0c79" d="M4754 1719l34-6l20-23l-35 5z"/>
<path fill="#0b0d91" d="M4788 1713l34-9l20-22l-34 8zM4822 1704l34-8l20-22l-34 8z"/>
<path fill="#0c0fa9" d="M4856 1696l34-9l20-21l-34 8z"/>
<path fill="#0c11b8" d="M4890 1687l35-8l20-21l-35 8zM4925 1679l35-8l19-20l-34 7z"/>
<path fill="#0d12c0" d="M4960 1671l35-8l19-19l-35 7z"/>
<path fill="#0e13c8" d="M4995 1663l35-7l19-19l-35 7zM5030 1656l35-6l20-19l-36 6z"/>
<path fill="#0e15cf" d="M5065 1650l36-6l19-19l-35 6z"/>
<path fill="#0f16d7" d="M5101 1644l35-6l20-18l-36 5z"/>
<path fill="#1017df" d="M5136 1638l36-4l20-19l-36 5z"/>
<path fill="#1019e4" d="M5172 1634l36-4l20-18l-36 3z"/>
<path fill="#101ae3" d="M5208 1630l37-3l19-18l-36 3z"/>
<path fill="#101be2" d="M5245 1627l36-2l19-18l-36 2z"/>
<path fill="#101de2" d="M5281 1625l37-1l19-18l-37 1z"/>
<path fill="#101ee1" d="M5318 1624l37-1l19-18l-37 1z"/>
<path fill="#1020e0" d="M5355 1623l37 1l19-18l-37-1zM5392 1624l37 1l19-17l-37-2z"/>
<path fill="#1027d8" d="M5429 1625l37 3l19-18l-37-2zM5466 1628l38 4l19-18l-38-4z"/>
<path fill="#1030ce" d="M5504 1632l38 4l18-18l-37-4zM5542 1636l38 6l18-18l-38-6zM5580 1642l38 6l18-18l-38-6z"/>
<path fill="#1038c4" d="M5618 1648l38 8l18-18l-38-8zM5656 1656l38 9l18-19l-38-8zM5694 1665l39 9l18-18l-39-10zM5733 1674l38 11l18-19l-38-10zM5771 1685l39 11l18-18l-39-12z"/>
<path fill="#1041b9" d="M5810 1696l39 13l18-19l-39-12zM5849 1709l39 13l17-19l-38-13zM5888 1722l39 14l17-19l-39-14zM5927 1736l39 15l17-20l-39-14zM5966 1751l39 15l18-19l-40-16z"/>
<path fill="#1038c4" d="M6005 1766l40 16l17-19l-39-16zM6045 1782l39 17l17-20l-39-16zM6084 1799l40 17l17-20l-40-17z"/>
<path fill="#1030ce" d="M6124 1816l39 17l17-20l-39-17zM6163 1833l40 18l17-20l-40-18z"/>
<path fill="#1027d8" d="M6203 1851l40 18l17-20l-40-18z"/>
<path fill="#1020e0" d="M6243 1869l40 18l17-20l-40-18zM6283 1887l40 18l17-20l-40-18z"/>
<path fill="#101ee1" d="M6323 1905l40 18l17-20l-40-18z"/>
<path fill="#101de2" d="M6363 1923l41 18l16-20l-40-18zM6404 1941l40 18l16-20l-40-18z"/>
<path fill="#101be2" d="M6444 1959l41 17l16-20l-41-17zM6485 1976l40 16l16-19l-40-17z"/>
<path fill="#101ae3" d="M6525 1992l41 16l16-19l-41-16zM6566 2008l41 16l16-20l-41-15zM6607 2024l41 13l16-20l-41-13z"/>
<path fill="#0b0c79" d="M4733 1742l34-7l21-22l-34 6zM4767 1735l34-9l21-22l-34 9z"/>
<path fill="#0b0d91" d="M4801 1726l35-9l20-21l-34 8z"/>
<path fill="#0c0fa9" d="M4836 1717l34-10l20-20l-34 9zM4870 1707l35-8l20-20l-35 8z"/>
<path fill="#0c11b8" d="M4905 1699l35-9l20-19l-35 8z"/>
<path fill="#0d12c0" d="M4940 1690l35-8l20-19l-35 8zM4975 1682l35-7l20-19l-35 7z"/>
<path fill="#0e13c8" d="M5010 1675l35-7l20-18l-35 6z"/>
<path fill="#0e15cf" d="M5045 1668l36-6l20-18l-36 6z"/>
<path fill="#0f16d7" d="M5081 1662l36-6l19-18l-35 6z"/>
<path fill="#1017df" d="M5117 1656l36-5l19-17l-36 4z"/>
<path fill="#1019e4" d="M5153 1651l36-4l19-17l-36 4zM5189 1647l36-3l20-17l-37 3z"/>
<path fill="#101ae3" d="M5225 1644l37-2l19-17l-36 2z"/>
<path fill="#101be2" d="M5262 1642l36-1l20-17l-37 1z"/>
<path fill="#101ee1" d="M5298 1641l37-1l20-17l-37 1zM5335 1640l38 1l19-17l-37-1z"/>
<path fill="#1020e0" d="M5373 1641l37 1l19-17l-37-1z"/>
<path fill="#1027d8" d="M5410 1642l37 3l19-17l-37-3zM5447 1645l38 4l19-17l-38-4z"/>
<path fill="#1030ce" d="M5485 1649l38 4l19-17l-38-4zM5523 1653l38 6l19-17l-38-6zM5561 1659l38 7l19-18l-38-6zM5599 1666l38 7l19-17l-38-8z"/>
<path fill="#1038c4" d="M5637 1673l39 9l18-17l-38-9zM5676 1682l38 10l19-18l-39-9zM5714 1692l39 11l18-18l-38-11zM5753 1703l39 11l18-18l-39-11zM5792 1714l39 13l18-18l-39-13zM5831 1727l39 13l18-18l-39-13zM5870 1740l39 14l18-18l-39-14zM5909 1754l39 15l18-18l-39-15zM5948 1769l40 15l17-18l-39-15zM5988 1784l39 16l18-18l-40-16zM6027 1800l40 17l17-18l-39-17zM6067 1817l40 17l17-18l-40-17z"/>
<path fill="#1030ce" d="M6107 1834l39 18l17-19l-39-17z"/>
<path fill="#1027d8" d="M6146 1852l40 18l17-19l-40-18zM6186 1870l40 18l17-19l-40-18z"/>
<path fill="#1020e0" d="M6226 1888l40 18l17-19l-40-18z"/>
<path fill="#101ee1" d="M6266 1906l41 18l16-19l-40-18zM6307 1924l40 18l16-19l-40-18z"/>
<path fill="#101de2" d="M6347 1942l40 18l17-19l-41-18zM6387 1960l41 18l16-19l-40-18z"/>
<path fill="#101be2" d="M6428 1978l41 17l16-19l-41-17zM6469 1995l40 16l16-19l-40-16z"/>
<path fill="#101ae3" d="M6509 2011l41 16l16-19l-41-16zM6550 2027l41 15l16-18l-41-16z"/>
<path fill="#1019e4" d="M6591 2042l42 14l15-19l-41-13z"/>
<path fill="#0b0c79" d="M4713 1764l34-8l20-21l-34 7zM4747 1756l34-9l20-21l-34 9z"/>
<path fill="#0b0d91" d="M4781 1747l34-10l21-20l-35 9zM4815 1737l35-10l20-20l-34 10z"/>
<path fill="#0c0fa9" d="M4850 1727l35-9l20-19l-35 8z"/>
<path fill="#0c11b8" d="M4885 1718l34-9l21-19l-35 9zM4919 1709l35-8l21-19l-35 8z"/>
<path fill="#0d12c0" d="M4954 1701l36-8l20-18l-35 7z"/>
<path fill="#0e13c8" d="M4990 1693l35-7l20-18l-35 7z"/>
<path fill="#0e15cf" d="M5025 1686l36-7l20-17l-36 6zM5061 1679l36-6l20-17l-36 6z"/>
<path fill="#0f16d7" d="M5097 1673l36-5l20-17l-36 5z"/>
<path fill="#1017df" d="M5133 1668l36-4l20-17l-36 4z"/>
<path fill="#1019e4" d="M5169 1664l36-3l20-17l-36 3z"/>
<path fill="#101ae3" d="M5205 1661l37-2l20-17l-37 2z"/>
<path fill="#101be2" d="M5242 1659l37-2l19-16l-36 1z"/>
<path fill="#101de2" d="M5279 1657l37 0l19-17l-37 1z"/>
<path fill="#101ee1" d="M5316 1657l37 0l20-16l-38-1z"/>
<path fill="#1020e0" d="M5353 1657l38 2l19-17l-37-1zM5391 1659l37 2l19-16l-37-3z"/>
<path fill="#1027d8" d="M5428 1661l38 4l19-16l-38-4zM5466 1665l38 5l19-17l-38-4z"/>
<path fill="#1030ce" d="M5504 1670l38 5l19-16l-38-6zM5542 1675l38 7l19-16l-38-7zM5580 1682l39 8l18-17l-38-7z"/>
<path fill="#1038c4" d="M5619 1690l38 9l19-17l-39-9zM5657 1699l39 10l18-17l-38-10zM5696 1709l39 10l18-16l-39-11zM5735 1719l39 12l18-17l-39-11zM5774 1731l39 13l18-17l-39-13zM5813 1744l39 13l18-17l-39-13zM5852 1757l39 14l18-17l-39-14zM5891 1771l40 15l17-17l-39-15zM5931 1786l39 16l18-18l-40-15zM5970 1802l40 16l17-18l-39-16zM6010 1818l39 17l18-18l-40-17z"/>
<path fill="#1030ce" d="M6049 1835l40 17l18-18l-40-17zM6089 1852l40 18l17-18l-39-18z"/>
<path fill="#1027d8" d="M6129 1870l40 18l17-18l-40-18z"/>
<path fill="#1020e0" d="M6169 1888l40 18l17-18l-40-18zM6209 1906l41 18l16-18l-40-18z"/>
<path fill="#101ee1" d="M6250 1924l40 18l17-18l-41-18z"/>
<path fill="#101de2" d="M6290 1942l40 18l17-18l-40-18zM6330 1960l41 18l16-18l-40-18z"/>
<path fill="#101be2" d="M6371 1978l41 18l16-18l-41-18zM6412 1996l40 17l17-18l-41-17z"/>
<path fill="#101ae3" d="M6452 2013l41 16l16-18l-40-16zM6493 2029l41 16l16-18l-41-16z"/>
<path fill="#1019e4" d="M6534 2045l42 15l15-18l-41-15zM6576 2060l41 13l16-17l-42-14z"/>
<path fill="#0a0a63" d="M4692 1785l35-8l20-21l-34 8z"/>
<path fill="#0b0c79" d="M4727 1777l34-10l20-20l-34 9z"/>
<path fill="#0b0d91" d="M4761 1767l34-11l20-19l-34 10zM4795 1756l34-10l21-19l-35 10z"/>
<path fill="#0c0fa9" d="M4829 1746l35-9l21-19l-35 9z"/>
<path fill="#0c11b8" d="M4864 1737l35-9l20-19l-34 9zM4899 1728l35-9l20-18l-35 8z"/>
<path fill="#0d12c0" d="M4934 1719l35-8l21-18l-36 8z"/>
<path fill="#0e13c8" d="M4969 1711l36-8l20-17l-35 7zM5005 1703l36-7l20-17l-36 7z"/>
<path fill="#0e15cf" d="M5041 1696l36-6l20-17l-36 6z"/>
<path fill="#0f16d7" d="M5077 1690l36-5l20-17l-36 5z"/>
<path fill="#1017df" d="M5113 1685l36-4l20-17l-36 4z"/>
<path fill="#1019e4" d="M5149 1681l37-4l19-16l-36 3z"/>
<path fill="#101ae3" d="M5186 1677l36-2l20-16l-37 2z"/>
<path fill="#101be2" d="M5222 1675l37-2l20-16l-37 2z"/>
<path fill="#101de2" d="M5259 1673l37-1l20-15l-37 0z"/>
<path fill="#101ee1" d="M5296 1672l38 1l19-16l-37 0z"/>
<path fill="#1020e0" d="M5334 1673l37 1l20-15l-38-2zM5371 1674l38 3l19-16l-37-2z"/>
<path fill="#1027d8" d="M5409 1677l38 4l19-16l-38-4zM5447 1681l38 4l19-15l-38-5z"/>
<path fill="#1030ce" d="M5485 1685l38 6l19-16l-38-5zM5523 1691l38 7l19-16l-38-7zM5561 1698l39 8l19-16l-39-8z"/>
<path fill="#1038c4" d="M5600 1706l38 9l19-16l-38-9zM5638 1715l39 10l19-16l-39-10zM5677 1725l39 11l19-17l-39-10zM5716 1736l39 11l19-16l-39-12zM5755 1747l39 13l19-16l-39-13zM5794 1760l40 14l18-17l-39-13zM5834 1774l39 14l18-17l-39-14zM5873 1788l40 15l18-17l-40-15zM5913 1803l39 16l18-17l-39-16zM5952 1819l40 16l18-17l-40-16zM5992 1835l40 17l17-17l-39-17z"/>
<path fill="#1030ce" d="M6032 1852l40 18l17-18l-40-17z"/>
<path fill="#1027d8" d="M6072 1870l40 17l17-17l-40-18zM6112 1887l40 18l17-17l-40-18z"/>
<path fill="#1020e0" d="M6152 1905l40 18l17-17l-40-18zM6192 1923l41 19l17-18l-41-18z"/>
<path fill="#101ee1" d="M6233 1942l40 18l17-18l-40-18z"/>
<path fill="#101de2" d="M6273 1960l41 18l16-18l-40-18zM6314 1978l40 18l17-18l-41-18z"/>
<path fill="#101be2" d="M6354 1996l41 17l17-17l-41-18zM6395 2013l41 17l16-17l-40-17z"/>
<path fill="#101ae3" d="M6436 2030l41 16l16-17l-41-16zM6477 2046l41 16l16-17l-41-16z"/>
<path fill="#1019e4" d="M6518 2062l42 14l16-16l-42-15zM6560 2076l41 13l16-16l-41-13z"/>
<path fill="#0a0a63" d="M4672 1806l34-9l21-20l-35 8z"/>
<path fill="#0b0c79" d="M4706 1797l34-11l21-19l-34 10zM4740 1786l34-10l21-20l-34 11z"/>
<path fill="#0b0d91" d="M4774 1776l35-11l20-19l-34 10z"/>
<path fill="#0c0fa9" d="M4809 1765l35-10l20-18l-35 9zM4844 1755l35-10l20-17l-35 9z"/>
<path fill="#0c11b8" d="M4879 1745l35-9l20-17l-35 9z"/>
<path fill="#0d12c0" d="M4914 1736l35-8l20-17l-35 8z"/>
<path fill="#0e13c8" d="M4949 1728l36-8l20-17l-36 8zM4985 1720l35-7l21-17l-36 7z"/>
<path fill="#0e15cf" d="M5020 1713l36-6l21-17l-36 6z"/>
<path fill="#0f16d7" d="M5056 1707l37-6l20-16l-36 5z"/>
<path fill="#1017df" d="M5093 1701l36-4l20-16l-36 4z"/>
<path fill="#1019e4" d="M5129 1697l37-4l20-16l-37 4z"/>
<path fill="#101ae3" d="M5166 1693l36-3l20-15l-36 2z"/>
<path fill="#101be2" d="M5202 1690l37-1l20-16l-37 2z"/>
<path fill="#101de2" d="M5239 1689l38-1l19-16l-37 1z"/>
<path fill="#101ee1" d="M5277 1688l37 0l20-15l-38-1zM5314 1688l38 2l19-16l-37-1z"/>
<path fill="#1020e0" d="M5352 1690l37 2l20-15l-38-3z"/>
<path fill="#1027d8" d="M5389 1692l38 4l20-15l-38-4zM5427 1696l38 5l20-16l-38-4zM5465 1701l39 6l19-16l-38-6z"/>
<path fill="#1030ce" d="M5504 1707l38 6l19-15l-38-7zM5542 1713l39 8l19-15l-39-8zM5581 1721l39 9l18-15l-38-9z"/>
<path fill="#1038c4" d="M5620 1730l38 10l19-15l-39-10zM5658 1740l39 11l19-15l-39-11zM5697 1751l40 12l18-16l-39-11zM5737 1763l39 13l18-16l-39-13zM5776 1776l39 14l19-16l-40-14zM5815 1790l40 14l18-16l-39-14zM5855 1804l40 15l18-16l-40-15zM5895 1819l39 16l18-16l-39-16zM5934 1835l40 17l18-17l-40-16z"/>
<path fill="#1030ce" d="M5974 1852l40 17l18-17l-40-17zM6014 1869l40 17l18-16l-40-18z"/>
<path fill="#1027d8" d="M6054 1886l40 18l18-17l-40-17zM6094 1904l41 18l17-17l-40-18z"/>
<path fill="#1020e0" d="M6135 1922l40 18l17-17l-40-18z"/>
<path fill="#101ee1" d="M6175 1940l41 18l17-16l-41-19zM6216 1958l40 18l17-16l-40-18z"/>
<path fill="#101de2" d="M6256 1976l41 18l17-16l-41-18z"/>
<path fill="#101be2" d="M6297 1994l41 18l16-16l-40-18zM6338 2012l41 17l16-16l-41-17z"/>
<path fill="#101ae3" d="M6379 2029l41 17l16-16l-41-17zM6420 2046l41 16l16-16l-41-16z"/>
<path fill="#1019e4" d="M6461 2062l41 15l16-15l-41-16zM6502 2077l42 15l16-16l-42-14z"/>
<path fill="#1017df" d="M6544 2092l42 12l15-15l-41-13z"/>
<path fill="#0a0a63" d="M4651 1826l34-9l21-20l-34 9z"/>
<path fill="#0b0c79" d="M4685 1817l34-11l21-20l-34 11zM4719 1806l35-11l20-19l-34 10z"/>
<path fill="#0b0d91" d="M4754 1795l34-11l21-19l-35 11z"/>
<path fill="#0c0fa9" d="M4788 1784l35-11l21-18l-35 10zM4823 1773l35-10l21-18l-35 10z"/>
<path fill="#0c11b8" d="M4858 1763l35-9l21-18l-35 9z"/>
<path fill="#0d12c0" d="M4893 1754l35-9l21-17l-35 8zM4928 1745l36-8l21-17l-36 8z"/>
<path fill="#0e13c8" d="M4964 1737l36-8l20-16l-35 7z"/>
<path fill="#0e15cf" d="M5000 1729l36-6l20-16l-36 6z"/>
<path fill="#0f16d7" d="M5036 1723l36-6l21-16l-37 6zM5072 1717l37-5l20-15l-36 4z"/>
<path fill="#1017df" d="M5109 1712l36-3l21-16l-37 4z"/>
<path fill="#1019e4" d="M5145 1709l37-3l20-16l-36 3z"/>
<path fill="#101ae3" d="M5182 1706l37-2l20-15l-37 1z"/>
<path fill="#101be2" d="M5219 1704l38-1l20-15l-38 1z"/>
<path fill="#101de2" d="M5257 1703l37 0l20-15l-37 0z"/>
<path fill="#101ee1" d="M5294 1703l38 2l20-15l-38-2z"/>
<path fill="#1020e0" d="M5332 1705l38 2l19-15l-37-2zM5370 1707l38 4l19-15l-38-4z"/>
<path fill="#1027d8" d="M5408 1711l38 5l19-15l-38-5zM5446 1716l38 5l20-14l-39-6z"/>
<path fill="#1030ce" d="M5484 1721l39 7l19-15l-38-6zM5523 1728l39 8l19-15l-39-8zM5562 1736l39 9l19-15l-39-9z"/>
<path fill="#1038c4" d="M5601 1745l39 10l18-15l-38-10zM5640 1755l39 12l18-16l-39-11zM5679 1767l39 12l19-16l-40-12zM5718 1779l39 12l19-15l-39-13zM5757 1791l40 14l18-15l-39-14zM5797 1805l40 15l18-16l-40-14zM5837 1820l39 15l19-16l-40-15zM5876 1835l40 16l18-16l-39-16zM5916 1851l40 16l18-15l-40-17z"/>
<path fill="#1030ce" d="M5956 1867l40 18l18-16l-40-17zM5996 1885l41 17l17-16l-40-17z"/>
<path fill="#1027d8" d="M6037 1902l40 18l17-16l-40-18z"/>
<path fill="#1020e0" d="M6077 1920l40 18l18-16l-41-18zM6117 1938l41 18l17-16l-40-18z"/>
<path fill="#101ee1" d="M6158 1956l41 18l17-16l-41-18z"/>
<path fill="#101de2" d="M6199 1974l40 18l17-16l-40-18zM6239 1992l41 18l17-16l-41-18z"/>
<path fill="#101be2" d="M6280 2010l41 18l17-16l-41-18zM6321 2028l41 17l17-16l-41-17z"/>
<path fill="#101ae3" d="M6362 2045l41 16l17-15l-41-17zM6403 2061l42 16l16-15l-41-16z"/>
<path fill="#1019e4" d="M6445 2077l41 15l16-15l-41-15zM6486 2092l42 14l16-14l-42-15z"/>
<path fill="#1017df" d="M6528 2106l42 12l16-14l-42-12z"/>
<path fill="#0a0a63" d="M4630 1846l34-9l21-20l-34 9z"/>
<path fill="#0b0c79" d="M4664 1837l34-12l21-19l-34 11zM4698 1825l35-12l21-18l-35 11z"/>
<path fill="#0b0d91" d="M4733 1813l34-11l21-18l-34 11z"/>
<path fill="#0c0fa9" d="M4767 1802l35-11l21-18l-35 11zM4802 1791l35-10l21-18l-35 10z"/>
<path fill="#0c11b8" d="M4837 1781l35-10l21-17l-35 9z"/>
<path fill="#0d12c0" d="M4872 1771l36-9l20-17l-35 9zM4908 1762l35-8l21-17l-36 8z"/>
<path fill="#0e13c8" d="M4943 1754l36-8l21-17l-36 8z"/>
<path fill="#0e15cf" d="M4979 1746l36-7l21-16l-36 6z"/>
<path fill="#0f16d7" d="M5015 1739l37-6l20-16l-36 6zM5052 1733l36-5l21-16l-37 5z"/>
<path fill="#1017df" d="M5088 1728l37-4l20-15l-36 3z"/>
<path fill="#1019e4" d="M5125 1724l37-3l20-15l-37 3z"/>
<path fill="#101ae3" d="M5162 1721l37-2l20-15l-37 2z"/>
<path fill="#101be2" d="M5199 1719l38-1l20-15l-38 1z"/>
<path fill="#101de2" d="M5237 1718l37 0l20-15l-37 0z"/>
<path fill="#101ee1" d="M5274 1718l38 2l20-15l-38-2z"/>
<path fill="#1020e0" d="M5312 1720l38 2l20-15l-38-2zM5350 1722l38 4l20-15l-38-4z"/>
<path fill="#1027d8" d="M5388 1726l38 4l20-14l-38-5zM5426 1730l39 6l19-15l-38-5z"/>
<path fill="#1030ce" d="M5465 1736l39 7l19-15l-39-7zM5504 1743l38 8l20-15l-39-8zM5542 1751l39 9l20-15l-39-9zM5581 1760l40 10l19-15l-39-10z"/>
<path fill="#1038c4" d="M5621 1770l39 11l19-14l-39-12zM5660 1781l39 12l19-14l-39-12zM5699 1793l40 13l18-15l-39-12zM5739 1806l39 14l19-15l-40-14zM5778 1820l40 15l19-15l-40-15zM5818 1835l40 15l18-15l-39-15zM5858 1850l40 16l18-15l-40-16z"/>
<path fill="#1030ce" d="M5898 1866l40 17l18-16l-40-16zM5938 1883l40 17l18-15l-40-18z"/>
<path fill="#1027d8" d="M5978 1900l41 17l18-15l-41-17zM6019 1917l40 18l18-15l-40-18z"/>
<path fill="#1020e0" d="M6059 1935l41 18l17-15l-40-18zM6100 1953l40 18l18-15l-41-18z"/>
<path fill="#101ee1" d="M6140 1971l41 18l18-15l-41-18z"/>
<path fill="#101de2" d="M6181 1989l41 18l17-15l-40-18zM6222 2007l41 18l17-15l-41-18z"/>
<path fill="#101be2" d="M6263 2025l41 18l17-15l-41-18zM6304 2043l41 16l17-14l-41-17z"/>
<path fill="#101ae3" d="M6345 2059l42 17l16-15l-41-16zM6387 2076l41 15l17-14l-42-16z"/>
<path fill="#1019e4" d="M6428 2091l42 15l16-14l-41-15zM6470 2106l42 13l16-13l-42-14z"/>
<path fill="#1017df" d="M6512 2119l42 12l16-13l-42-12z"/>
<path fill="#0a0a63" d="M4609 1865l34-9l21-19l-34 9z"/>
<path fill="#0b0c79" d="M4643 1856l34-12l21-19l-34 12zM4677 1844l35-12l21-19l-35 12z"/>
<path fill="#0b0d91" d="M4712 1832l34-12l21-18l-34 11zM4746 1820l35-11l21-18l-35 11z"/>
<path fill="#0c0fa9" d="M4781 1809l35-11l21-17l-35 10z"/>
<path fill="#0c11b8" d="M4816 1798l35-10l21-17l-35 10z"/>
<path fill="#0d12c0" d="M4851 1788l36-9l21-17l-36 9zM4887 1779l36-9l20-16l-35 8z"/>
<path fill="#0e13c8" d="M4923 1770l36-8l20-16l-36 8z"/>
<path fill="#0e15cf" d="M4959 1762l36-7l20-16l-36 7z"/>
<path fill="#0f16d7" d="M4995 1755l36-6l21-16l-37 6zM5031 1749l37-5l20-16l-36 5z"/>
<path fill="#1017df" d="M5068 1744l37-4l20-16l-37 4z"/>
<path fill="#1019e4" d="M5105 1740l37-4l20-15l-37 3z"/>
<path fill="#101ae3" d="M5142 1736l37-2l20-15l-37 2z"/>
<path fill="#101be2" d="M5179 1734l37-1l21-15l-38 1z"/>
<path fill="#101de2" d="M5216 1733l38 0l20-15l-37 0z"/>
<path fill="#101ee1" d="M5254 1733l38 1l20-14l-38-2z"/>
<path fill="#1020e0" d="M5292 1734l38 3l20-15l-38-2zM5330 1737l38 3l20-14l-38-4z"/>
<path fill="#1027d8" d="M5368 1740l39 5l19-15l-38-4zM5407 1745l38 6l20-15l-39-6z"/>
<path fill="#1030ce" d="M5445 1751l39 7l20-15l-39-7zM5484 1758l39 8l19-15l-38-8zM5523 1766l39 9l19-15l-39-9zM5562 1775l39 10l20-15l-40-10z"/>
<path fill="#1038c4" d="M5601 1785l40 11l19-15l-39-11zM5641 1796l39 12l19-15l-39-12zM5680 1808l40 13l19-15l-40-13zM5720 1821l40 14l18-15l-39-14zM5760 1835l40 14l18-14l-40-15zM5800 1849l40 16l18-15l-40-15zM5840 1865l40 16l18-15l-40-16z"/>
<path fill="#1030ce" d="M5880 1881l40 16l18-14l-40-17zM5920 1897l40 18l18-15l-40-17z"/>
<path fill="#1027d8" d="M5960 1915l41 17l18-15l-41-17zM6001 1932l40 18l18-15l-40-18z"/>
<path fill="#1020e0" d="M6041 1950l41 18l18-15l-41-18zM6082 1968l41 18l17-15l-40-18z"/>
<path fill="#101ee1" d="M6123 1986l41 18l17-15l-41-18z"/>
<path fill="#101de2" d="M6164 2004l41 18l17-15l-41-18zM6205 2022l41 17l17-14l-41-18z"/>
<path fill="#101be2" d="M6246 2039l41 18l17-14l-41-18zM6287 2057l42 16l16-14l-41-16z"/>
<path fill="#101ae3" d="M6329 2073l41 16l17-13l-42-17zM6370 2089l42 15l16-13l-41-15z"/>
<path fill="#1019e4" d="M6412 2104l42 14l16-12l-42-15zM6454 2118l42 13l16-12l-42-13z"/>
<path fill="#1017df" d="M6496 2131l42 12l16-12l-42-12z"/>
<path fill="#0a0a63" d="M4587 1884l35-9l21-19l-34 9z"/>
<path fill="#0b0c79" d="M4622 1875l34-13l21-18l-34 12zM4656 1862l34-12l22-18l-35 12z"/>
<path fill="#0b0d91" d="M4690 1850l35-12l21-18l-34 12zM4725 1838l35-11l21-18l-35 11z"/>
<path fill="#0c0fa9" d="M4760 1827l35-11l21-18l-35 11z"/>
<path fill="#0c11b8" d="M4795 1816l35-10l21-18l-35 10z"/>
<path fill="#0d12c0" d="M4830 1806l36-10l21-17l-36 9zM4866 1796l36-9l21-17l-36 9z"/>
<path fill="#0e13c8" d="M4902 1787l36-8l21-17l-36 8z"/>
<path fill="#0e15cf" d="M4938 1779l36-8l21-16l-36 7zM4974 1771l36-6l21-16l-36 6z"/>
<path fill="#0f16d7" d="M5010 1765l37-5l21-16l-37 5z"/>
<path fill="#1017df" d="M5047 1760l37-5l21-15l-37 4z"/>
<path fill="#1019e4" d="M5084 1755l37-3l21-16l-37 4z"/>
<path fill="#101ae3" d="M5121 1752l37-3l21-15l-37 2z"/>
<path fill="#101be2" d="M5158 1749l38-1l20-15l-37 1z"/>
<path fill="#101de2" d="M5196 1748l38 0l20-15l-38 0z"/>
<path fill="#101ee1" d="M5234 1748l38 1l20-15l-38-1z"/>
<path fill="#1020e0" d="M5272 1749l38 2l20-14l-38-3zM5310 1751l38 4l20-15l-38-3z"/>
<path fill="#1027d8" d="M5348 1755l39 4l20-14l-39-5zM5387 1759l38 6l20-14l-38-6zM5425 1765l39 7l20-14l-39-7z"/>
<path fill="#1030ce" d="M5464 1772l39 8l20-14l-39-8zM5503 1780l40 9l19-14l-39-9zM5543 1789l39 10l19-14l-39-10zM5582 1799l40 11l19-14l-40-11z"/>
<path fill="#1038c4" d="M5622 1810l39 12l19-14l-39-12zM5661 1822l40 13l19-14l-40-13zM5701 1835l40 14l19-14l-40-14zM5741 1849l40 15l19-15l-40-14zM5781 1864l40 15l19-14l-40-16zM5821 1879l40 16l19-14l-40-16z"/>
<path fill="#1030ce" d="M5861 1895l41 17l18-15l-40-16zM5902 1912l40 17l18-14l-40-18z"/>
<path fill="#1027d8" d="M5942 1929l41 17l18-14l-41-17zM5983 1946l41 18l17-14l-40-18z"/>
<path fill="#1020e0" d="M6024 1964l40 18l18-14l-41-18zM6064 1982l41 18l18-14l-41-18z"/>
<path fill="#101ee1" d="M6105 2000l41 18l18-14l-41-18z"/>
<path fill="#101de2" d="M6146 2018l42 18l17-14l-41-18zM6188 2036l41 17l17-14l-41-17z"/>
<path fill="#101be2" d="M6229 2053l41 17l17-13l-41-18zM6270 2070l42 16l17-13l-42-16z"/>
<path fill="#101ae3" d="M6312 2086l41 16l17-13l-41-16zM6353 2102l42 15l17-13l-42-15z"/>
<path fill="#1019e4" d="M6395 2117l42 13l17-12l-42-14zM6437 2130l42 13l17-12l-42-13z"/>
<path fill="#1017df" d="M6479 2143l43 10l16-10l-42-12z"/>
<path fill="#0a0a63" d="M4566 1903l34-10l22-18l-35 9z"/>
<path fill="#0b0c79" d="M4600 1893l34-12l22-19l-34 13zM4634 1881l35-13l21-18l-34 12z"/>
<path fill="#0b0d91" d="M4669 1868l35-12l21-18l-35 12zM4704 1856l35-11l21-18l-35 11z"/>
<path fill="#0c0fa9" d="M4739 1845l35-12l21-17l-35 11z"/>
<path fill="#0c11b8" d="M4774 1833l35-10l21-17l-35 10zM4809 1823l36-10l21-17l-36 10z"/>
<path fill="#0d12c0" d="M4845 1813l36-9l21-17l-36 9z"/>
<path fill="#0e13c8" d="M4881 1804l36-9l21-16l-36 8z"/>
<path fill="#0e15cf" d="M4917 1795l36-7l21-17l-36 8zM4953 1788l36-7l21-16l-36 6z"/>
<path fill="#0f16d7" d="M4989 1781l37-6l21-15l-37 5z"/>
<path fill="#1017df" d="M5026 1775l37-4l21-16l-37 5z"/>
<path fill="#1019e4" d="M5063 1771l37-4l21-15l-37 3z"/>
<path fill="#101ae3" d="M5100 1767l38-2l20-16l-37 3z"/>
<path fill="#101be2" d="M5138 1765l37-2l21-15l-38 1z"/>
<path fill="#101de2" d="M5175 1763l38 0l21-15l-38 0z"/>
<path fill="#101ee1" d="M5213 1763l38 1l21-15l-38-1z"/>
<path fill="#1020e0" d="M5251 1764l39 2l20-15l-38-2zM5290 1766l38 3l20-14l-38-4z"/>
<path fill="#1027d8" d="M5328 1769l39 5l20-15l-39-4zM5367 1774l39 5l19-14l-38-6zM5406 1779l39 7l19-14l-39-7z"/>
<path fill="#1030ce" d="M5445 1786l39 8l19-14l-39-8zM5484 1794l39 9l20-14l-40-9zM5523 1803l39 10l20-14l-39-10zM5562 1813l40 11l20-14l-40-11z"/>
<path fill="#1038c4" d="M5602 1824l40 12l19-14l-39-12zM5642 1836l40 13l19-14l-40-13zM5682 1849l40 14l19-14l-40-14zM5722 1863l40 15l19-14l-40-15zM5762 1878l40 15l19-14l-40-15zM5802 1893l41 16l18-14l-40-16z"/>
<path fill="#1030ce" d="M5843 1909l40 17l19-14l-41-17zM5883 1926l41 17l18-14l-40-17z"/>
<path fill="#1027d8" d="M5924 1943l41 17l18-14l-41-17zM5965 1960l40 18l19-14l-41-18z"/>
<path fill="#1020e0" d="M6005 1978l41 17l18-13l-40-18zM6046 1995l42 18l17-13l-41-18z"/>
<path fill="#101ee1" d="M6088 2013l41 18l17-13l-41-18z"/>
<path fill="#101de2" d="M6129 2031l41 18l18-13l-42-18zM6170 2049l41 17l18-13l-41-17z"/>
<path fill="#101be2" d="M6211 2066l42 17l17-13l-41-17zM6253 2083l42 16l17-13l-42-16z"/>
<path fill="#101ae3" d="M6295 2099l41 15l17-12l-41-16zM6336 2114l42 14l17-11l-42-15z"/>
<path fill="#1019e4" d="M6378 2128l43 13l16-11l-42-13zM6421 2141l42 12l16-10l-42-13z"/>
<path fill="#1017df" d="M6463 2153l42 10l17-10l-43-10z"/>
<path fill="#0a0a63" d="M4544 1921l34-9l22-19l-34 10z"/>
<path fill="#0b0c79" d="M4578 1912l35-13l21-18l-34 12zM4613 1899l34-13l22-18l-35 13z"/>
<path fill="#0b0d91" d="M4647 1886l35-12l22-18l-35 12zM4682 1874l35-12l22-17l-35 11z"/>
<path fill="#0c0fa9" d="M4717 1862l35-11l22-18l-35 12z"/>
<path fill="#0c11b8" d="M4752 1851l36-11l21-17l-35 10zM4788 1840l35-10l22-17l-36 10z"/>
<path fill="#0d12c0" d="M4823 1830l36-10l22-16l-36 9z"/>
<path fill="#0e13c8" d="M4859 1820l36-8l22-17l-36 9z"/>
<path fill="#0e15cf" d="M4895 1812l37-8l21-16l-36 7zM4932 1804l36-7l21-16l-36 7z"/>
<path fill="#0f16d7" d="M4968 1797l37-6l21-16l-37 6z"/>
<path fill="#1017df" d="M5005 1791l37-5l21-15l-37 4z"/>
<path fill="#1019e4" d="M5042 1786l38-3l20-16l-37 4z"/>
<path fill="#101ae3" d="M5080 1783l37-3l21-15l-38 2z"/>
<path fill="#101be2" d="M5117 1780l38-2l20-15l-37 2z"/>
<path fill="#101de2" d="M5155 1778l38 0l20-15l-38 0z"/>
<path fill="#101ee1" d="M5193 1778l38 1l20-15l-38-1z"/>
<path fill="#1020e0" d="M5231 1779l38 2l21-15l-39-2zM5269 1781l39 3l20-15l-38-3z"/>
<path fill="#1027d8" d="M5308 1784l39 4l20-14l-39-5zM5347 1788l38 6l21-15l-39-5zM5385 1794l40 6l20-14l-39-7z"/>
<path fill="#1030ce" d="M5425 1800l39 8l20-14l-39-8zM5464 1808l39 9l20-14l-39-9zM5503 1817l40 10l19-14l-39-10zM5543 1827l40 11l19-14l-40-11zM5583 1838l39 12l20-14l-40-12z"/>
<path fill="#1038c4" d="M5622 1850l41 13l19-14l-40-13zM5663 1863l40 14l19-14l-40-14zM5703 1877l40 14l19-13l-40-15zM5743 1891l40 16l19-14l-40-15z"/>
<path fill="#1030ce" d="M5783 1907l41 16l19-14l-41-16zM5824 1923l41 16l18-13l-40-17zM5865 1939l40 17l19-13l-41-17z"/>
<path fill="#1027d8" d="M5905 1956l41 17l19-13l-41-17zM5946 1973l41 18l18-13l-40-18z"/>
<path fill="#1020e0" d="M5987 1991l41 18l18-14l-41-17zM6028 2009l42 17l18-13l-42-18z"/>
<path fill="#101ee1" d="M6070 2026l41 18l18-13l-41-18zM6111 2044l41 17l18-12l-41-18z"/>
<path fill="#101de2" d="M6152 2061l42 17l17-12l-41-17zM6194 2078l42 17l17-12l-42-17z"/>
<path fill="#101be2" d="M6236 2095l42 15l17-11l-42-16zM6278 2110l41 15l17-11l-41-15z"/>
<path fill="#101ae3" d="M6319 2125l43 14l16-11l-42-14zM6362 2139l42 13l17-11l-43-13z"/>
<path fill="#1019e4" d="M6404 2152l42 11l17-10l-42-12zM6446 2163l43 10l16-10l-42-10z"/>
<path fill="#0a0a63" d="M4522 1940l35-10l21-18l-34 9z"/>
<path fill="#0b0c79" d="M4557 1930l34-13l22-18l-35 13zM4591 1917l35-13l21-18l-34 13z"/>
<path fill="#0b0d91" d="M4626 1904l34-12l22-18l-35 12zM4660 1892l35-12l22-18l-35 12z"/>
<path fill="#0c0fa9" d="M4695 1880l36-12l21-17l-35 11z"/>
<path fill="#0c11b8" d="M4731 1868l35-11l22-17l-36 11zM4766 1857l36-11l21-16l-35 10z"/>
<path fill="#0d12c0" d="M4802 1846l36-9l21-17l-36 10z"/>
<path fill="#0e13c8" d="M4838 1837l36-9l21-16l-36 8z"/>
<path fill="#0e15cf" d="M4874 1828l36-8l22-16l-37 8zM4910 1820l37-7l21-16l-36 7z"/>
<path fill="#0f16d7" d="M4947 1813l37-6l21-16l-37 6z"/>
<path fill="#1017df" d="M4984 1807l37-5l21-16l-37 5z"/>
<path fill="#1019e4" d="M5021 1802l38-4l21-15l-38 3z"/>
<path fill="#101ae3" d="M5059 1798l37-3l21-15l-37 3z"/>
<path fill="#101be2" d="M5096 1795l38-2l21-15l-38 2z"/>
<path fill="#101de2" d="M5134 1793l38 0l21-15l-38 0z"/>
<path fill="#101ee1" d="M5172 1793l38 0l21-14l-38-1zM5210 1793l39 2l20-14l-38-2z"/>
<path fill="#1020e0" d="M5249 1795l38 3l21-14l-39-3zM5287 1798l39 4l21-14l-39-4z"/>
<path fill="#1027d8" d="M5326 1802l39 6l20-14l-38-6zM5365 1808l39 6l21-14l-40-6z"/>
<path fill="#1030ce" d="M5404 1814l40 8l20-14l-39-8zM5444 1822l39 9l20-14l-39-9zM5483 1831l40 10l20-14l-40-10zM5523 1841l40 11l20-14l-40-11zM5563 1852l40 12l19-14l-39-12z"/>
<path fill="#1038c4" d="M5603 1864l40 12l20-13l-41-13zM5643 1876l40 14l20-13l-40-14zM5683 1890l41 15l19-14l-40-14zM5724 1905l40 15l19-13l-40-16z"/>
<path fill="#1030ce" d="M5764 1920l41 16l19-13l-41-16zM5805 1936l41 16l19-13l-41-16zM5846 1952l41 17l18-13l-40-17z"/>
<path fill="#1027d8" d="M5887 1969l41 17l18-13l-41-17zM5928 1986l41 18l18-13l-41-18z"/>
<path fill="#1020e0" d="M5969 2004l41 17l18-12l-41-18zM6010 2021l42 18l18-13l-42-17z"/>
<path fill="#101ee1" d="M6052 2039l41 17l18-12l-41-18zM6093 2056l42 17l17-12l-41-17z"/>
<path fill="#101de2" d="M6135 2073l41 17l18-12l-42-17zM6176 2090l42 16l18-11l-42-17z"/>
<path fill="#101be2" d="M6218 2106l42 16l18-12l-42-15zM6260 2122l42 14l17-11l-41-15z"/>
<path fill="#101ae3" d="M6302 2136l43 14l17-11l-43-14zM6345 2150l42 12l17-10l-42-13z"/>
<path fill="#1019e4" d="M6387 2162l43 11l16-10l-42-11zM6430 2173l43 9l16-9l-43-10z"/>
<path fill="#0a0a63" d="M4500 1957l34-10l23-17l-35 10z"/>
<path fill="#0b0c79" d="M4534 1947l35-13l22-17l-34 13zM4569 1934l35-13l22-17l-35 13z"/>
<path fill="#0b0d91" d="M4604 1921l34-12l22-17l-34 12zM4638 1909l36-13l21-16l-35 12z"/>
<path fill="#0c0fa9" d="M4674 1896l35-11l22-17l-36 12z"/>
<path fill="#0c11b8" d="M4709 1885l35-12l22-16l-35 11zM4744 1873l36-10l22-17l-36 11z"/>
<path fill="#0d12c0" d="M4780 1863l36-10l22-16l-36 9z"/>
<path fill="#0e13c8" d="M4816 1853l36-9l22-16l-36 9z"/>
<path fill="#0e15cf" d="M4852 1844l37-8l21-16l-36 8zM4889 1836l37-7l21-16l-37 7z"/>
<path fill="#0f16d7" d="M4926 1829l37-7l21-15l-37 6z"/>
<path fill="#1017df" d="M4963 1822l37-5l21-15l-37 5z"/>
<path fill="#1019e4" d="M5000 1817l37-4l22-15l-38 4z"/>
<path fill="#101ae3" d="M5037 1813l38-3l21-15l-37 3z"/>
<path fill="#101be2" d="M5075 1810l38-2l21-15l-38 2z"/>
<path fill="#101de2" d="M5113 1808l38-1l21-14l-38 0z"/>
<path fill="#101ee1" d="M5151 1807l38 1l21-15l-38 0zM5189 1808l39 2l21-15l-39-2z"/>
<path fill="#1020e0" d="M5228 1810l39 2l20-14l-38-3zM5267 1812l39 5l20-15l-39-4z"/>
<path fill="#1027d8" d="M5306 1817l39 5l20-14l-39-6zM5345 1822l39 6l20-14l-39-6z"/>
<path fill="#1030ce" d="M5384 1828l40 8l20-14l-40-8zM5424 1836l39 8l20-13l-39-9zM5463 1844l40 10l20-13l-40-10zM5503 1854l40 11l20-13l-40-11zM5543 1865l40 12l20-13l-40-12zM5583 1877l40 13l20-14l-40-12z"/>
<path fill="#1038c4" d="M5623 1890l41 13l19-13l-40-14zM5664 1903l40 15l20-13l-41-15z"/>
<path fill="#1030ce" d="M5704 1918l41 15l19-13l-40-15zM5745 1933l41 16l19-13l-41-16zM5786 1949l41 16l19-13l-41-16zM5827 1965l41 17l19-13l-41-17z"/>
<path fill="#1027d8" d="M5868 1982l41 17l19-13l-41-17zM5909 1999l41 17l19-12l-41-18z"/>
<path fill="#1020e0" d="M5950 2016l42 17l18-12l-41-17zM5992 2033l41 18l19-12l-42-18z"/>
<path fill="#101ee1" d="M6033 2051l42 17l18-12l-41-17zM6075 2068l42 17l18-12l-42-17z"/>
<path fill="#101de2" d="M6117 2085l42 16l17-11l-41-17zM6159 2101l42 16l17-11l-42-16z"/>
<path fill="#101be2" d="M6201 2117l42 15l17-10l-42-16zM6243 2132l42 15l17-11l-42-14z"/>
<path fill="#101ae3" d="M6285 2147l43 13l17-10l-43-14zM6328 2160l42 12l17-10l-42-12zM6370 2172l43 10l17-9l-43-11z"/>
<path fill="#1019e4" d="M6413 2182l43 9l17-9l-43-9z"/>
<path fill="#0a0a63" d="M4478 1974l34-10l22-17l-34 10z"/>
<path fill="#0b0c79" d="M4512 1964l35-13l22-17l-35 13zM4547 1951l34-13l23-17l-35 13z"/>
<path fill="#0b0d91" d="M4581 1938l35-13l22-16l-34 12zM4616 1925l35-12l23-17l-36 13z"/>
<path fill="#0c0fa9" d="M4651 1913l36-12l22-16l-35 11z"/>
<path fill="#0c11b8" d="M4687 1901l35-11l22-17l-35 12zM4722 1890l36-11l22-16l-36 10z"/>
<path fill="#0d12c0" d="M4758 1879l36-10l22-16l-36 10z"/>
<path fill="#0e13c8" d="M4794 1869l37-9l21-16l-36 9z"/>
<path fill="#0e15cf" d="M4831 1860l36-9l22-15l-37 8zM4867 1851l37-7l22-15l-37 7z"/>
<path fill="#0f16d7" d="M4904 1844l37-6l22-16l-37 7z"/>
<path fill="#1017df" d="M4941 1838l37-6l22-15l-37 5z"/>
<path fill="#1019e4" d="M4978 1832l38-4l21-15l-37 4z"/>
<path fill="#101ae3" d="M5016 1828l38-3l21-15l-38 3z"/>
<path fill="#101be2" d="M5054 1825l38-2l21-15l-38 2z"/>
<path fill="#101de2" d="M5092 1823l38-1l21-15l-38 1z"/>
<path fill="#101ee1" d="M5130 1822l38 0l21-14l-38-1zM5168 1822l39 2l21-14l-39-2z"/>
<path fill="#1020e0" d="M5207 1824l39 3l21-15l-39-2zM5246 1827l39 4l21-14l-39-5z"/>
<path fill="#1027d8" d="M5285 1831l39 5l21-14l-39-5zM5324 1836l40 6l20-14l-39-6z"/>
<path fill="#1030ce" d="M5364 1842l39 7l21-13l-40-8zM5403 1849l40 9l20-14l-39-8zM5443 1858l40 10l20-14l-40-10zM5483 1868l40 10l20-13l-40-11zM5523 1878l40 12l20-13l-40-12zM5563 1890l41 13l19-13l-40-13zM5604 1903l40 13l20-13l-41-13zM5644 1916l41 15l19-13l-40-15zM5685 1931l41 15l19-13l-41-15zM5726 1946l41 15l19-12l-41-16zM5767 1961l41 17l19-13l-41-16z"/>
<path fill="#1027d8" d="M5808 1978l41 16l19-12l-41-17zM5849 1994l41 17l19-12l-41-17zM5890 2011l42 17l18-12l-41-17z"/>
<path fill="#1020e0" d="M5932 2028l41 17l19-12l-42-17zM5973 2045l42 18l18-12l-41-18z"/>
<path fill="#101ee1" d="M6015 2063l42 17l18-12l-42-17zM6057 2080l42 16l18-11l-42-17z"/>
<path fill="#101de2" d="M6099 2096l42 17l18-12l-42-16zM6141 2113l42 15l18-11l-42-16z"/>
<path fill="#101be2" d="M6183 2128l42 15l18-11l-42-15zM6225 2143l43 14l17-10l-42-15zM6268 2157l42 13l18-10l-43-13z"/>
<path fill="#101ae3" d="M6310 2170l43 11l17-9l-42-12zM6353 2181l43 10l17-9l-43-10z"/>
<path fill="#1019e4" d="M6396 2191l43 9l17-9l-43-9z"/>
<path fill="#0a0a63" d="M4455 1991l35-11l22-16l-34 10z"/>
<path fill="#0b0c79" d="M4490 1980l34-13l23-16l-35 13zM4524 1967l35-13l22-16l-34 13z"/>
<path fill="#0b0d91" d="M4559 1954l35-13l22-16l-35 13zM4594 1941l35-13l22-15l-35 12z"/>
<path fill="#0c0fa9" d="M4629 1928l36-12l22-15l-36 12z"/>
<path fill="#0c11b8" d="M4665 1916l35-11l22-15l-35 11zM4700 1905l36-11l22-15l-36 11z"/>
<path fill="#0d12c0" d="M4736 1894l36-10l22-15l-36 10z"/>
<path fill="#0e13c8" d="M4772 1884l37-9l22-15l-37 9zM4809 1875l36-9l22-15l-36 9z"/>
<path fill="#0e15cf" d="M4845 1866l37-7l22-15l-37 7z"/>
<path fill="#0f16d7" d="M4882 1859l37-7l22-14l-37 6z"/>
<path fill="#1017df" d="M4919 1852l38-5l21-15l-37 6z"/>
<path fill="#1019e4" d="M4957 1847l37-5l22-14l-38 4z"/>
<path fill="#101ae3" d="M4994 1842l38-3l22-14l-38 3z"/>
<path fill="#101be2" d="M5032 1839l38-2l22-14l-38 2z"/>
<path fill="#101de2" d="M5070 1837l39-1l21-14l-38 1zM5109 1836l38 0l21-14l-38 0z"/>
<path fill="#101ee1" d="M5147 1836l39 2l21-14l-39-2z"/>
<path fill="#1020e0" d="M5186 1838l39 2l21-13l-39-3zM5225 1840l39 4l21-13l-39-4z"/>
<path fill="#1027d8" d="M5264 1844l39 5l21-13l-39-5zM5303 1849l40 6l21-13l-40-6zM5343 1855l40 8l20-14l-39-7z"/>
<path fill="#1030ce" d="M5383 1863l40 8l20-13l-40-9zM5423 1871l40 10l20-13l-40-10zM5463 1881l40 11l20-14l-40-10zM5503 1892l40 11l20-13l-40-12zM5543 1903l41 13l20-13l-41-13zM5584 1916l40 13l20-13l-40-13zM5624 1929l41 14l20-12l-41-15zM5665 1943l41 15l20-12l-41-15zM5706 1958l41 16l20-13l-41-15zM5747 1974l42 16l19-12l-41-17z"/>
<path fill="#1027d8" d="M5789 1990l41 16l19-12l-41-16zM5830 2006l41 17l19-12l-41-17zM5871 2023l42 17l19-12l-42-17z"/>
<path fill="#1020e0" d="M5913 2040l42 17l18-12l-41-17zM5955 2057l41 17l19-11l-42-18z"/>
<path fill="#101ee1" d="M5996 2074l42 17l19-11l-42-17zM6038 2091l42 17l19-12l-42-16z"/>
<path fill="#101de2" d="M6080 2108l43 16l18-11l-42-17zM6123 2124l42 15l18-11l-42-15zM6165 2139l42 15l18-11l-42-15z"/>
<path fill="#101be2" d="M6207 2154l43 14l18-11l-43-14zM6250 2168l43 12l17-10l-42-13z"/>
<path fill="#101ae3" d="M6293 2180l43 11l17-10l-43-11zM6336 2191l43 10l17-10l-43-10zM6379 2201l43 9l17-10l-43-9z"/>
<path fill="#0a0a63" d="M4432 2006l35-11l23-15l-35 11z"/>
<path fill="#0b0c79" d="M4467 1995l35-13l22-15l-34 13zM4502 1982l34-14l23-14l-35 13z"/>
<path fill="#0b0d91" d="M4536 1968l35-13l23-14l-35 13zM4571 1955l36-12l22-15l-35 13z"/>
<path fill="#0c0fa9" d="M4607 1943l35-12l23-15l-36 12z"/>
<path fill="#0c11b8" d="M4642 1931l36-12l22-14l-35 11zM4678 1919l36-11l22-14l-36 11z"/>
<path fill="#0d12c0" d="M4714 1908l36-10l22-14l-36 10z"/>
<path fill="#0e13c8" d="M4750 1898l37-9l22-14l-37 9z"/>
<path fill="#0e15cf" d="M4787 1889l36-9l22-14l-36 9zM4823 1880l37-7l22-14l-37 7z"/>
<path fill="#0f16d7" d="M4860 1873l38-7l21-14l-37 7z"/>
<path fill="#1017df" d="M4898 1866l37-5l22-14l-38 5z"/>
<path fill="#1019e4" d="M4935 1861l38-5l21-14l-37 5z"/>
<path fill="#101ae3" d="M4973 1856l38-3l21-14l-38 3z"/>
<path fill="#101be2" d="M5011 1853l38-2l21-14l-38 2z"/>
<path fill="#101de2" d="M5049 1851l38-1l22-14l-39 1zM5087 1850l39 0l21-14l-38 0z"/>
<path fill="#101ee1" d="M5126 1850l39 1l21-13l-39-2z"/>
<path fill="#1020e0" d="M5165 1851l39 3l21-14l-39-2zM5204 1854l39 4l21-14l-39-4z"/>
<path fill="#1027d8" d="M5243 1858l39 5l21-14l-39-5zM5282 1863l40 6l21-14l-40-6zM5322 1869l40 7l21-13l-40-8z"/>
<path fill="#1030ce" d="M5362 1876l40 8l21-13l-40-8zM5402 1884l40 10l21-13l-40-10zM5442 1894l41 10l20-12l-40-11zM5483 1904l40 12l20-13l-40-11zM5523 1916l41 12l20-12l-41-13zM5564 1928l41 14l19-13l-40-13zM5605 1942l40 14l20-13l-41-14zM5645 1956l42 15l19-13l-41-15zM5687 1971l41 15l19-12l-41-16zM5728 1986l41 16l20-12l-42-16z"/>
<path fill="#1027d8" d="M5769 2002l42 16l19-12l-41-16zM5811 2018l41 17l19-12l-41-17zM5852 2035l42 17l19-12l-42-17z"/>
<path fill="#1020e0" d="M5894 2052l42 17l19-12l-42-17zM5936 2069l42 17l18-12l-41-17z"/>
<path fill="#101ee1" d="M5978 2086l42 17l18-12l-42-17zM6020 2103l42 16l18-11l-42-17zM6062 2119l42 16l19-11l-43-16z"/>
<path fill="#101de2" d="M6104 2135l43 15l18-11l-42-15zM6147 2150l43 15l17-11l-42-15z"/>
<path fill="#101be2" d="M6190 2165l42 13l18-10l-43-14zM6232 2178l43 13l18-11l-43-12zM6275 2191l43 11l18-11l-43-11z"/>
<path fill="#101ae3" d="M6318 2202l44 10l17-11l-43-10zM6362 2212l43 8l17-10l-43-9z"/>
<path fill="#0a0a63" d="M4409 2019l35-10l23-14l-35 11z"/>
<path fill="#0b0c79" d="M4444 2009l35-14l23-13l-35 13zM4479 1995l34-13l23-14l-34 14z"/>
<path fill="#0b0d91" d="M4513 1982l36-14l22-13l-35 13zM4549 1968l35-12l23-13l-36 12z"/>
<path fill="#0c0fa9" d="M4584 1956l35-13l23-12l-35 12z"/>
<path fill="#0c11b8" d="M4619 1943l36-11l23-13l-36 12zM4655 1932l36-11l23-13l-36 11z"/>
<path fill="#0d12c0" d="M4691 1921l37-10l22-13l-36 10z"/>
<path fill="#0e13c8" d="M4728 1911l36-10l23-12l-37 9z"/>
<path fill="#0e15cf" d="M4764 1901l37-8l22-13l-36 9zM4801 1893l37-8l22-12l-37 7z"/>
<path fill="#0f16d7" d="M4838 1885l37-6l23-13l-38 7z"/>
<path fill="#1017df" d="M4875 1879l38-6l22-12l-37 5z"/>
<path fill="#1019e4" d="M4913 1873l38-4l22-13l-38 5z"/>
<path fill="#101ae3" d="M4951 1869l38-4l22-12l-38 3z"/>
<path fill="#101be2" d="M4989 1865l38-2l22-12l-38 2z"/>
<path fill="#101de2" d="M5027 1863l39-1l21-12l-38 1zM5066 1862l38 0l22-12l-39 0z"/>
<path fill="#101ee1" d="M5104 1862l39 2l22-13l-39-1z"/>
<path fill="#1020e0" d="M5143 1864l39 2l22-12l-39-3zM5182 1866l40 4l21-12l-39-4z"/>
<path fill="#1027d8" d="M5222 1870l39 5l21-12l-39-5zM5261 1875l40 6l21-12l-40-6zM5301 1881l40 8l21-13l-40-7z"/>
<path fill="#1030ce" d="M5341 1889l40 8l21-13l-40-8zM5381 1897l41 9l20-12l-40-10zM5422 1906l40 11l21-13l-41-10zM5462 1917l41 11l20-12l-40-12zM5503 1928l40 13l21-13l-41-12zM5543 1941l41 13l21-12l-41-14zM5584 1954l41 14l20-12l-40-14zM5625 1968l42 15l20-12l-42-15zM5667 1983l41 15l20-12l-41-15zM5708 1998l42 16l19-12l-41-16z"/>
<path fill="#1027d8" d="M5750 2014l41 16l20-12l-42-16zM5791 2030l42 17l19-12l-41-17zM5833 2047l42 17l19-12l-42-17z"/>
<path fill="#1020e0" d="M5875 2064l42 16l19-11l-42-17zM5917 2080l42 17l19-11l-42-17zM5959 2097l42 17l19-11l-42-17z"/>
<path fill="#101ee1" d="M6001 2114l43 16l18-11l-42-16zM6044 2130l42 16l18-11l-42-16z"/>
<path fill="#101de2" d="M6086 2146l43 16l18-12l-43-15zM6129 2162l42 14l19-11l-43-15zM6171 2176l43 14l18-12l-42-13z"/>
<path fill="#101be2" d="M6214 2190l43 13l18-12l-43-13zM6257 2203l44 11l17-12l-43-11zM6301 2214l43 10l18-12l-44-10z"/>
<path fill="#101ae3" d="M6344 2224l44 8l17-12l-43-8z"/>
<path fill="#0a0a63" d="M4386 2031l35-11l23-11l-35 10z"/>
<path fill="#0b0c79" d="M4421 2020l34-14l24-11l-35 14zM4455 2006l35-13l23-11l-34 13z"/>
<path fill="#0b0d91" d="M4490 1993l35-14l24-11l-36 14zM4525 1979l36-13l23-10l-35 12z"/>
<path fill="#0c0fa9" d="M4561 1966l35-12l23-11l-35 13z"/>
<path fill="#0c11b8" d="M4596 1954l36-12l23-10l-36 11zM4632 1942l36-11l23-10l-36 11z"/>
<path fill="#0d12c0" d="M4668 1931l37-10l23-10l-37 10z"/>
<path fill="#0e13c8" d="M4705 1921l36-9l23-11l-36 10z"/>
<path fill="#0e15cf" d="M4741 1912l37-8l23-11l-37 8zM4778 1904l38-8l22-11l-37 8z"/>
<path fill="#0f16d7" d="M4816 1896l37-6l22-11l-37 6z"/>
<path fill="#1017df" d="M4853 1890l38-6l22-11l-38 6z"/>
<path fill="#1019e4" d="M4891 1884l37-4l23-11l-38 4z"/>
<path fill="#101ae3" d="M4928 1880l39-3l22-12l-38 4z"/>
<path fill="#101be2" d="M4967 1877l38-2l22-12l-38 2z"/>
<path fill="#101de2" d="M5005 1875l39-1l22-12l-39 1zM5044 1874l38 0l22-12l-38 0z"/>
<path fill="#101ee1" d="M5082 1874l40 2l21-12l-39-2z"/>
<path fill="#1020e0" d="M5122 1876l39 2l21-12l-39-2zM5161 1878l39 4l22-12l-40-4z"/>
<path fill="#1027d8" d="M5200 1882l40 5l21-12l-39-5zM5240 1887l40 6l21-12l-40-6zM5280 1893l40 8l21-12l-40-8z"/>
<path fill="#1030ce" d="M5320 1901l40 8l21-12l-40-8zM5360 1909l41 9l21-12l-41-9zM5401 1918l40 11l21-12l-40-11zM5441 1929l41 11l21-12l-41-11zM5482 1940l41 13l20-12l-40-13zM5523 1953l41 13l20-12l-41-13zM5564 1966l41 14l20-12l-41-14zM5605 1980l42 15l20-12l-42-15zM5647 1995l41 15l20-12l-41-15zM5688 2010l42 16l20-12l-42-16zM5730 2026l42 16l19-12l-41-16z"/>
<path fill="#1027d8" d="M5772 2042l42 16l19-11l-42-17zM5814 2058l42 17l19-11l-42-17z"/>
<path fill="#1020e0" d="M5856 2075l42 17l19-12l-42-16zM5898 2092l42 17l19-12l-42-17zM5940 2109l42 17l19-12l-42-17z"/>
<path fill="#101ee1" d="M5982 2126l43 16l19-12l-43-16zM6025 2142l43 16l18-12l-42-16zM6068 2158l42 16l19-12l-43-16z"/>
<path fill="#101de2" d="M6110 2174l43 15l18-13l-42-14zM6153 2189l43 13l18-12l-43-14zM6196 2202l44 13l17-12l-43-13z"/>
<path fill="#101be2" d="M6240 2215l43 12l18-13l-44-11zM6283 2227l44 10l17-13l-43-10z"/>
<path fill="#101ae3" d="M6327 2237l43 9l18-14l-44-8z"/>
<path fill="#0a0a63" d="M4362 2041l35-12l24-9l-35 11z"/>
<path fill="#0b0c79" d="M4397 2029l35-14l23-9l-34 14zM4432 2015l35-14l23-8l-35 13z"/>
<path fill="#0b0d91" d="M4467 2001l35-13l23-9l-35 14z"/>
<path fill="#0c0fa9" d="M4502 1988l35-13l24-9l-36 13zM4537 1975l36-13l23-8l-35 12z"/>
<path fill="#0c11b8" d="M4573 1962l36-11l23-9l-36 12z"/>
<path fill="#0d12c0" d="M4609 1951l36-11l23-9l-36 11zM4645 1940l37-10l23-9l-37 10z"/>
<path fill="#0e13c8" d="M4682 1930l36-10l23-8l-36 9z"/>
<path fill="#0e15cf" d="M4718 1920l37-8l23-8l-37 8zM4755 1912l38-7l23-9l-38 8z"/>
<path fill="#0f16d7" d="M4793 1905l37-6l23-9l-37 6z"/>
<path fill="#1017df" d="M4830 1899l38-6l23-9l-38 6z"/>
<path fill="#1019e4" d="M4868 1893l38-4l22-9l-37 4z"/>
<path fill="#101ae3" d="M4906 1889l38-3l23-9l-39 3z"/>
<path fill="#101be2" d="M4944 1886l39-1l22-10l-38 2z"/>
<path fill="#101de2" d="M4983 1885l38-1l23-10l-39 1zM5021 1884l39 0l22-10l-38 0z"/>
<path fill="#101ee1" d="M5060 1884l40 2l22-10l-40-2z"/>
<path fill="#1020e0" d="M5100 1886l39 3l22-11l-39-2zM5139 1889l40 4l21-11l-39-4z"/>
<path fill="#1027d8" d="M5179 1893l39 5l22-11l-40-5zM5218 1898l40 6l22-11l-40-6zM5258 1904l41 8l21-11l-40-8z"/>
<path fill="#1030ce" d="M5299 1912l40 8l21-11l-40-8zM5339 1920l41 10l21-12l-41-9zM5380 1930l40 10l21-11l-40-11zM5420 1940l41 12l21-12l-41-11zM5461 1952l41 12l21-11l-41-13zM5502 1964l42 13l20-11l-41-13zM5544 1977l41 14l20-11l-41-14zM5585 1991l41 15l21-11l-42-15zM5626 2006l42 15l20-11l-41-15zM5668 2021l42 16l20-11l-42-16zM5710 2037l42 16l20-11l-42-16z"/>
<path fill="#1027d8" d="M5752 2053l42 17l20-12l-42-16zM5794 2070l42 17l20-12l-42-17z"/>
<path fill="#1020e0" d="M5836 2087l42 17l20-12l-42-17zM5878 2104l43 17l19-12l-42-17zM5921 2121l42 17l19-12l-42-17zM5963 2138l43 17l19-13l-43-16z"/>
<path fill="#101ee1" d="M6006 2155l43 16l19-13l-43-16zM6049 2171l43 16l18-13l-42-16zM6092 2187l43 15l18-13l-43-15z"/>
<path fill="#101de2" d="M6135 2202l43 14l18-14l-43-13zM6178 2216l43 14l19-15l-44-13zM6221 2230l44 12l18-15l-43-12z"/>
<path fill="#101be2" d="M6265 2242l44 11l18-16l-44-10zM6309 2253l44 10l17-17l-43-9z"/>
<path fill="#0a0a63" d="M4338 2049l35-11l24-9l-35 12z"/>
<path fill="#0b0c79" d="M4373 2038l35-15l24-8l-35 14zM4408 2023l35-14l24-8l-35 14z"/>
<path fill="#0b0d91" d="M4443 2009l35-14l24-7l-35 13z"/>
<path fill="#0c0fa9" d="M4478 1995l35-13l24-7l-35 13zM4513 1982l36-12l24-8l-36 13z"/>
<path fill="#0c11b8" d="M4549 1970l36-12l24-7l-36 11z"/>
<path fill="#0d12c0" d="M4585 1958l37-11l23-7l-36 11zM4622 1947l36-10l24-7l-37 10z"/>
<path fill="#0e13c8" d="M4658 1937l37-9l23-8l-36 10z"/>
<path fill="#0e15cf" d="M4695 1928l37-8l23-8l-37 8z"/>
<path fill="#0f16d7" d="M4732 1920l38-7l23-8l-38 7zM4770 1913l37-6l23-8l-37 6z"/>
<path fill="#1017df" d="M4807 1907l38-5l23-9l-38 6z"/>
<path fill="#1019e4" d="M4845 1902l38-4l23-9l-38 4z"/>
<path fill="#101ae3" d="M4883 1898l39-2l22-10l-38 3z"/>
<path fill="#101be2" d="M4922 1896l38-2l23-9l-39 1z"/>
<path fill="#101de2" d="M4960 1894l39 0l22-10l-38 1zM4999 1894l39 0l22-10l-39 0z"/>
<path fill="#101ee1" d="M5038 1894l39 2l23-10l-40-2z"/>
<path fill="#1020e0" d="M5077 1896l40 4l22-11l-39-3zM5117 1900l40 4l22-11l-40-4z"/>
<path fill="#1027d8" d="M5157 1904l40 5l21-11l-39-5zM5197 1909l40 7l21-12l-40-6zM5237 1916l40 7l22-11l-41-8z"/>
<path fill="#1030ce" d="M5277 1923l41 9l21-12l-40-8zM5318 1932l40 10l22-12l-41-10zM5358 1942l41 10l21-12l-40-10zM5399 1952l41 12l21-12l-41-12zM5440 1964l42 12l20-12l-41-12zM5482 1976l41 14l21-13l-42-13zM5523 1990l41 14l21-13l-41-14zM5564 2004l42 15l20-13l-41-15zM5606 2019l42 15l20-13l-42-15zM5648 2034l42 16l20-13l-42-16zM5690 2050l42 16l20-13l-42-16z"/>
<path fill="#1027d8" d="M5732 2066l42 17l20-13l-42-17zM5774 2083l42 17l20-13l-42-17zM5816 2100l43 17l19-13l-42-17z"/>
<path fill="#1020e0" d="M5859 2117l42 17l20-13l-43-17zM5901 2134l43 18l19-14l-42-17zM5944 2152l43 17l19-14l-43-17z"/>
<path fill="#101ee1" d="M5987 2169l43 16l19-14l-43-16zM6030 2185l43 16l19-14l-43-16zM6073 2201l43 16l19-15l-43-15zM6116 2217l44 15l18-16l-43-14z"/>
<path fill="#101de2" d="M6160 2232l43 14l18-16l-43-14zM6203 2246l44 14l18-18l-44-12zM6247 2260l44 12l18-19l-44-11z"/>
<path fill="#101be2" d="M6291 2272l44 11l18-20l-44-10z"/>
</g>
<path d="M436.3 235.5L632.3 283.0" stroke="#444" stroke-width="0.8" fill="none"/>
<path d="M632.3 283.0L705.6 191.1" stroke="#444" stroke-width="0.8" fill="none"/>
<path d="M436.3 235.5L421.7 57.2" stroke="#444" stroke-width="0.8" fill="none"/>
<path d="M457.9 240.8L455.6 242.7" stroke="#333" stroke-width="0.8" fill="none"/>
<text transform="translate(444.1 250.0) rotate(5.4)" text-anchor="middle" y="3.9" font-size="11.0" font-family="Liberation Sans" font-weight="bold">450</text>
<path d="M479.9 246.1L477.6 248.1" stroke="#333" stroke-width="0.8" fill="none"/>
<text transform="translate(466.3 255.6) rotate(5.4)" text-anchor="middle" y="3.9" font-size="11.0" font-family="Liberation Sans" font-weight="bold">400</text>
<path d="M502.3 251.5L500.1 253.6" stroke="#333" stroke-width="0.8" fill="none"/>
<text transform="translate(489.1 261.3) rotate(5.4)" text-anchor="middle" y="3.9" font-size="11.0" font-family="Liberation Sans" font-weight="bold">350</text>
<path d="M525.3 257.1L523.1 259.2" stroke="#333" stroke-width="0.8" fill="none"/>
<text transform="translate(512.3 267.1) rotate(5.4)" text-anchor="middle" y="3.9" font-size="11.0" font-family="Liberation Sans" font-weight="bold">300</text>
<path d="M548.7 262.8L546.6 264.9" stroke="#333" stroke-width="0.8" fill="none"/>
<text transform="translate(536.0 273.1) rotate(5.4)" text-anchor="middle" y="3.9" font-size="11.0" font-family="Liberation Sans" font-weight="bold">250</text>
<path d="M572.6 268.6L570.6 270.8" stroke="#333" stroke-width="0.8" fill="none"/>
<text transform="translate(560.2 279.2) rotate(5.4)" text-anchor="middle" y="3.9" font-size="11.0" font-family="Liberation Sans" font-weight="bold">200</text>
<path d="M597.1 274.5L595.1 276.8" stroke="#333" stroke-width="0.8" fill="none"/>
<text transform="translate(585.0 285.4) rotate(5.4)" text-anchor="middle" y="3.9" font-size="11.0" font-family="Liberation Sans" font-weight="bold">150</text>
<path d="M622.1 280.6L620.2 282.9" stroke="#333" stroke-width="0.8" fill="none"/>
<text transform="translate(610.4 291.8) rotate(5.4)" text-anchor="middle" y="3.9" font-size="11.0" font-family="Liberation Sans" font-weight="bold">100</text>
<path d="M641.8 271.1L644.7 271.8" stroke="#333" stroke-width="0.8" fill="none"/>
<text x="647.7" y="277.3" font-size="10.8" font-family="Liberation Sans" font-weight="bold">0.2</text>
<path d="M659.7 248.7L662.6 249.3" stroke="#333" stroke-width="0.8" fill="none"/>
<text x="665.6" y="254.8" font-size="10.8" font-family="Liberation Sans" font-weight="bold">0.4</text>
<path d="M676.2 228.0L679.1 228.6" stroke="#333" stroke-width="0.8" fill="none"/>
<text x="682.1" y="234.0" font-size="10.8" font-family="Liberation Sans" font-weight="bold">0.6</text>
<path d="M691.5 208.9L694.4 209.5" stroke="#333" stroke-width="0.8" fill="none"/>
<text x="697.3" y="214.9" font-size="10.8" font-family="Liberation Sans" font-weight="bold">0.8</text>
<path d="M705.6 191.1L708.6 191.7" stroke="#333" stroke-width="0.8" fill="none"/>
<text x="711.5" y="197.1" font-size="10.8" font-family="Liberation Sans" font-weight="bold">1.0</text>
<path d="M436.3 235.5L434.0 237.4" stroke="#333" stroke-width="0.8" fill="none"/>
<text x="430.8" y="242.8" text-anchor="end" font-size="10.3" font-family="Liberation Sans" font-weight="bold">0</text>
<path d="M433.6 202.4L431.2 204.2" stroke="#333" stroke-width="0.8" fill="none"/>
<text x="428.1" y="209.7" text-anchor="end" font-size="10.3" font-family="Liberation Sans" font-weight="bold">20</text>
<path d="M430.8 168.0L428.3 169.7" stroke="#333" stroke-width="0.8" fill="none"/>
<text x="425.3" y="175.3" text-anchor="end" font-size="10.3" font-family="Liberation Sans" font-weight="bold">40</text>
<path d="M427.8 132.4L425.3 134.1" stroke="#333" stroke-width="0.8" fill="none"/>
<text x="422.3" y="139.7" text-anchor="end" font-size="10.3" font-family="Liberation Sans" font-weight="bold">60</text>
<path d="M424.8 95.5L422.2 97.0" stroke="#333" stroke-width="0.8" fill="none"/>
<text x="419.3" y="102.8" text-anchor="end" font-size="10.3" font-family="Liberation Sans" font-weight="bold">80</text>
<path d="M421.7 57.2L419.0 58.6" stroke="#333" stroke-width="0.8" fill="none"/>
<text x="416.2" y="64.5" text-anchor="end" font-size="10.3" font-family="Liberation Sans" font-weight="bold">100</text>
<text transform="translate(516.0 296.5) rotate(14.9) skewX(-9.0)" text-anchor="middle" font-size="11.6" font-family="Liberation Sans" font-weight="bold">Activation temperature (<tspan dy="-4.3" font-size="8.6">o</tspan><tspan dy="4.3">C)</tspan></text>
<text transform="translate(706.0 252.0) rotate(-50.8)" text-anchor="middle" font-size="11.3" font-family="Liberation Sans" font-weight="bold">Impregnation ratio (g/g)</text>
<text transform="translate(397.0 150.5) rotate(-92.5)" text-anchor="middle" font-size="11.6" font-family="Liberation Sans" font-weight="bold">Response (R%)</text>
<text transform="translate(400 320) scale(.88 1)" font-size="23.5" font-family="Liberation Sans" font-weight="bold">b)</text>
<path d="M470.6 625.4L566.0 544.7" stroke="#c9ccd6" stroke-width="0.7" fill="none"/>
<path d="M566.0 544.7L563.8 385.6" stroke="#c9ccd6" stroke-width="0.7" fill="none"/>
<path d="M495.6 631.6L588.1 549.1" stroke="#c9ccd6" stroke-width="0.7" fill="none"/>
<path d="M588.1 549.1L587.8 388.6" stroke="#c9ccd6" stroke-width="0.7" fill="none"/>
<path d="M521.2 637.9L610.7 553.5" stroke="#c9ccd6" stroke-width="0.7" fill="none"/>
<path d="M610.7 553.5L612.3 391.6" stroke="#c9ccd6" stroke-width="0.7" fill="none"/>
<path d="M547.4 644.3L633.8 558.1" stroke="#c9ccd6" stroke-width="0.7" fill="none"/>
<path d="M633.8 558.1L637.4 394.8" stroke="#c9ccd6" stroke-width="0.7" fill="none"/>
<path d="M574.3 651.0L657.3 562.7" stroke="#c9ccd6" stroke-width="0.7" fill="none"/>
<path d="M657.3 562.7L663.1 398.0" stroke="#c9ccd6" stroke-width="0.7" fill="none"/>
<path d="M601.9 657.8L681.3 567.5" stroke="#c9ccd6" stroke-width="0.7" fill="none"/>
<path d="M681.3 567.5L689.4 401.2" stroke="#c9ccd6" stroke-width="0.7" fill="none"/>
<path d="M630.2 664.7L705.9 572.4" stroke="#c9ccd6" stroke-width="0.7" fill="none"/>
<path d="M705.9 572.4L716.2 404.6" stroke="#c9ccd6" stroke-width="0.7" fill="none"/>
<path d="M458.8 609.3L654.2 656.1" stroke="#c9ccd6" stroke-width="0.7" fill="none"/>
<path d="M458.8 609.3L445.7 431.5" stroke="#c9ccd6" stroke-width="0.7" fill="none"/>
<path d="M482.6 590.1L672.2 633.3" stroke="#c9ccd6" stroke-width="0.7" fill="none"/>
<path d="M482.6 590.1L472.3 417.8" stroke="#c9ccd6" stroke-width="0.7" fill="none"/>
<path d="M504.7 572.4L688.8 612.3" stroke="#c9ccd6" stroke-width="0.7" fill="none"/>
<path d="M504.7 572.4L496.7 405.2" stroke="#c9ccd6" stroke-width="0.7" fill="none"/>
<path d="M525.2 555.8L704.2 592.9" stroke="#c9ccd6" stroke-width="0.7" fill="none"/>
<path d="M525.2 555.8L519.4 393.5" stroke="#c9ccd6" stroke-width="0.7" fill="none"/>
<path d="M544.3 540.4L718.4 574.8" stroke="#c9ccd6" stroke-width="0.7" fill="none"/>
<path d="M544.3 540.4L540.3 382.7" stroke="#c9ccd6" stroke-width="0.7" fill="none"/>
<path d="M446.2 619.4L544.3 540.4" stroke="#c9ccd6" stroke-width="0.7" fill="none"/>
<path d="M544.3 540.4L718.4 574.8" stroke="#c9ccd6" stroke-width="0.7" fill="none"/>
<path d="M444.3 595.7L543.8 519.4" stroke="#c9ccd6" stroke-width="0.7" fill="none"/>
<path d="M543.8 519.4L719.9 552.5" stroke="#c9ccd6" stroke-width="0.7" fill="none"/>
<path d="M442.3 571.3L543.3 497.9" stroke="#c9ccd6" stroke-width="0.7" fill="none"/>
<path d="M543.3 497.9L721.5 529.6" stroke="#c9ccd6" stroke-width="0.7" fill="none"/>
<path d="M440.3 546.2L542.7 475.9" stroke="#c9ccd6" stroke-width="0.7" fill="none"/>
<path d="M542.7 475.9L723.1 506.2" stroke="#c9ccd6" stroke-width="0.7" fill="none"/>
<path d="M438.2 520.5L542.1 453.4" stroke="#c9ccd6" stroke-width="0.7" fill="none"/>
<path d="M542.1 453.4L724.7 482.1" stroke="#c9ccd6" stroke-width="0.7" fill="none"/>
<path d="M436.0 494.0L541.5 430.4" stroke="#c9ccd6" stroke-width="0.7" fill="none"/>
<path d="M541.5 430.4L726.4 457.5" stroke="#c9ccd6" stroke-width="0.7" fill="none"/>
<path d="M433.8 466.8L540.9 406.8" stroke="#c9ccd6" stroke-width="0.7" fill="none"/>
<path d="M540.9 406.8L728.2 432.2" stroke="#c9ccd6" stroke-width="0.7" fill="none"/>
<path d="M431.6 438.8L540.3 382.7" stroke="#c9ccd6" stroke-width="0.7" fill="none"/>
<path d="M540.3 382.7L729.9 406.3" stroke="#c9ccd6" stroke-width="0.7" fill="none"/>
<path d="M446.2 619.4L544.3 540.4" stroke="#777" stroke-width="0.8" fill="none"/>
<path d="M544.3 540.4L718.4 574.8" stroke="#777" stroke-width="0.8" fill="none"/>
<path d="M431.6 438.8L540.3 382.7" stroke="#777" stroke-width="0.8" fill="none"/>
<path d="M540.3 382.7L729.9 406.3" stroke="#777" stroke-width="0.8" fill="none"/>
<path d="M540.3 382.7L544.3 540.4" stroke="#777" stroke-width="0.8" fill="none"/>
<path d="M729.9 406.3L718.4 574.8" stroke="#777" stroke-width="0.8" fill="none"/>
<rect x="451.0" y="378.0" width="56.0" height="124.0" fill="#fff"/>
<rect x="455.1" y="386.4" width="28.2" height="8.2" fill="#1c0a6e" stroke="#222" stroke-width="0.9"/>
<text x="490.5" y="394.4" font-size="11.3" font-family="Liberation Sans" fill="#222">20</text>
<rect x="455.1" y="401.4" width="28.2" height="8.2" fill="#0c0c9c" stroke="#222" stroke-width="0.9"/>
<text x="490.5" y="409.4" font-size="11.3" font-family="Liberation Sans" fill="#222">30</text>
<rect x="455.1" y="416.5" width="28.2" height="8.2" fill="#1414f0" stroke="#222" stroke-width="0.9"/>
<text x="490.5" y="424.5" font-size="11.3" font-family="Liberation Sans" fill="#222">40</text>
<rect x="455.1" y="431.5" width="28.2" height="8.2" fill="#1f8a60" stroke="#222" stroke-width="0.9"/>
<text x="490.5" y="439.5" font-size="11.3" font-family="Liberation Sans" fill="#222">50</text>
<rect x="455.1" y="446.6" width="28.2" height="8.2" fill="#66dd11" stroke="#222" stroke-width="0.9"/>
<text x="490.5" y="454.6" font-size="11.3" font-family="Liberation Sans" fill="#222">60</text>
<rect x="455.1" y="461.6" width="28.2" height="8.2" fill="#ffff11" stroke="#222" stroke-width="0.9"/>
<text x="490.5" y="469.6" font-size="11.3" font-family="Liberation Sans" fill="#222">70</text>
<rect x="455.1" y="476.7" width="28.2" height="8.2" fill="#ffaa11" stroke="#222" stroke-width="0.9"/>
<text x="490.5" y="484.7" font-size="11.3" font-family="Liberation Sans" fill="#222">80</text>
<rect x="455.1" y="491.8" width="28.2" height="8.2" fill="#ff5511" stroke="#222" stroke-width="0.9"/>
<text x="490.5" y="499.8" font-size="11.3" font-family="Liberation Sans" fill="#222">90</text>
<g transform="scale(.1)" stroke="#000" stroke-width="5" stroke-linejoin="round">
<path fill="#f51" d="M5393 4043l34 6l15-80l-35-7zM5427 4049l35 4l14-78l-34-6zM5462 4053l35 4l14-78l-35-4zM5497 4057l35 4l14-77l-35-5zM5532 4061l35 4l14-76l-35-5zM5567 4065l35 5l15-76l-36-5zM5602 4070l35 4l15-74l-35-6zM5637 4074l36 5l14-73l-35-6zM5673 4079l35 6l15-71l-36-8zM5708 4085l36 5l15-68l-36-8zM5744 4090l36 6l14-66l-35-8zM5780 4096l35 6l15-63l-36-9z"/>
<path fill="#ff6211" d="M5815 4102l36 6l15-60l-36-9zM5851 4108l37 6l14-57l-36-9zM5888 4114l36 6l15-54l-37-9zM5924 4120l36 6l15-52l-36-8zM5960 4126l37 6l14-50l-36-8zM5997 4132l36 6l15-49l-37-7zM6033 4138l37 5l15-47l-37-7zM6070 4143l37 5l15-47l-37-5zM6107 4148l37 5l14-46l-36-6zM6144 4153l37 5l15-46l-38-5zM6181 4158l37 5l15-47l-37-4zM6218 4163l37 4l15-47l-37-4zM6255 4167l38 5l15-49l-38-3zM6293 4172l37 4l15-50l-37-3zM6330 4176l38 5l15-52l-38-3zM6368 4181l38 4l15-52l-38-4zM6406 4185l38 5l15-54l-38-3zM6444 4190l38 5l15-55l-38-4zM6482 4195l38 5l15-56l-38-4zM6520 4200l39 5l14-57l-38-4zM6559 4205l38 5l15-57l-39-5zM6597 4210l39 6l15-57l-39-6zM6636 4216l38 6l15-58l-38-5zM6674 4222l39 6l15-57l-39-7zM6713 4228l39 6l15-56l-39-7zM6752 4234l39 6l15-55l-39-7zM6791 4240l40 7l14-55l-39-7zM6831 4247l39 6l15-53l-40-8zM6870 4253l39 6l15-52l-39-7zM6909 4259l40 7l15-51l-40-8zM6949 4266l40 6l14-50l-39-7zM6989 4272l40 6l14-49l-40-7zM7029 4278l40 6l14-48l-40-7zM7069 4284l40 7l14-48l-40-7zM7109 4291l40 6l15-47l-41-7zM7149 4297l41 7l14-47l-40-7zM7190 4304l40 7l14-45l-40-9z"/>
<path fill="#ff6e11" d="M7230 4311l41 8l14-44l-41-9z"/>
<path fill="#ff7b11" d="M5379 4136l34 4l14-91l-34-6zM5413 4140l35 4l14-91l-35-4zM5448 4144l34 3l15-90l-35-4zM5482 4147l35 4l15-90l-35-4zM5517 4151l35 3l15-89l-35-4zM5552 4154l35 3l15-87l-35-5zM5587 4157l36 4l14-87l-35-4zM5623 4161l35 3l15-85l-36-5zM5658 4164l35 3l15-82l-35-6zM5693 4167l36 3l15-80l-36-5zM5729 4170l36 3l15-77l-36-6zM5765 4173l36 3l14-74l-35-6zM5801 4176l35 3l15-71l-36-6zM5836 4179l37 3l15-68l-37-6zM5873 4182l36 3l15-65l-36-6zM5909 4185l36 4l15-63l-36-6zM5945 4189l37 3l15-60l-37-6zM5982 4192l36 4l15-58l-36-6zM6018 4196l37 4l15-57l-37-5zM6055 4200l37 4l15-56l-37-5zM6092 4204l37 4l15-55l-37-5zM6129 4208l37 5l15-55l-37-5zM6166 4213l37 5l15-55l-37-5zM6203 4218l37 4l15-55l-37-4zM6240 4222l38 6l15-56l-38-5zM6278 4228l37 5l15-57l-37-4zM6315 4233l38 5l15-57l-38-5zM6353 4238l38 6l15-59l-38-4zM6391 4244l38 5l15-59l-38-5zM6429 4249l38 6l15-60l-38-5zM6467 4255l38 6l15-61l-38-5zM6505 4261l38 5l16-61l-39-5zM6543 4266l39 6l15-62l-38-5zM6582 4272l38 6l16-62l-39-6zM6620 4278l39 6l15-62l-38-6zM6659 4284l39 5l15-61l-39-6zM6698 4289l39 6l15-61l-39-6zM6737 4295l39 6l15-61l-39-6zM6776 4301l39 6l16-60l-40-7zM6815 4307l40 5l15-59l-39-6zM6855 4312l39 6l15-59l-39-6zM6894 4318l40 6l15-58l-40-7zM6934 4324l40 6l15-58l-40-6zM6974 4330l40 6l15-58l-40-6zM7014 4336l40 6l15-58l-40-6zM7054 4342l40 6l15-57l-40-7zM7094 4348l40 6l15-57l-40-6zM7134 4354l41 7l15-57l-41-7zM7175 4361l40 7l15-57l-40-7zM7215 4368l41 6l15-55l-41-8z"/>
<path fill="#ffa011" d="M5365 4226l34 3l14-89l-34-4zM5399 4229l35 3l14-88l-35-4zM5434 4232l34 3l14-88l-34-3zM5468 4235l35 3l14-87l-35-4zM5503 4238l35 2l14-86l-35-3zM5538 4240l35 3l14-86l-35-3zM5573 4243l35 1l15-83l-36-4zM5608 4244l35 2l15-82l-35-3z"/>
<path fill="#ff9411" d="M5643 4246l36 1l14-80l-35-3zM5679 4247l35 1l15-78l-36-3zM5714 4248l36 0l15-75l-36-3zM5750 4248l36 1l15-73l-36-3zM5786 4249l36 0l14-70l-35-3zM5822 4249l36 1l15-68l-37-3zM5858 4250l36 1l15-66l-36-3zM5894 4251l36 1l15-63l-36-4zM5930 4252l37 1l15-61l-37-3z"/>
<path fill="#ff8711" d="M5967 4253l36 2l15-59l-36-4zM6003 4255l37 3l15-58l-37-4zM6040 4258l37 2l15-56l-37-4zM6077 4260l37 4l15-56l-37-4zM6114 4264l37 4l15-55l-37-5zM6151 4268l37 4l15-54l-37-5zM6188 4272l37 5l15-55l-37-4zM6225 4277l38 5l15-54l-38-6zM6263 4282l37 6l15-55l-37-5zM6300 4288l38 5l15-55l-38-5zM6338 4293l38 6l15-55l-38-6zM6376 4299l38 6l15-56l-38-5zM6414 4305l38 7l15-57l-38-6zM6452 4312l38 6l15-57l-38-6zM6490 4318l38 6l15-58l-38-5zM6528 4324l39 6l15-58l-39-6zM6567 4330l38 6l15-58l-38-6zM6605 4336l39 6l15-58l-39-6zM6644 4342l39 5l15-58l-39-5zM6683 4347l39 6l15-58l-39-6zM6722 4353l39 6l15-58l-39-6zM6761 4359l39 5l15-57l-39-6zM6800 4364l40 6l15-58l-40-5zM6840 4370l39 5l15-57l-39-6zM6879 4375l40 6l15-57l-40-6zM6919 4381l40 6l15-57l-40-6zM6959 4387l40 6l15-57l-40-6zM6999 4393l40 7l15-58l-40-6zM7039 4400l40 7l15-59l-40-6z"/>
<path fill="#ff9411" d="M7079 4407l40 7l15-60l-40-6zM7119 4414l41 7l15-60l-41-7zM7160 4421l40 7l15-60l-40-7zM7200 4428l41 7l15-61l-41-6z"/>
<path fill="#ffc111" d="M5351 4312l34 2l14-85l-34-3zM5385 4314l34 2l15-84l-35-3zM5419 4316l35 3l14-84l-34-3zM5454 4319l35 2l14-83l-35-3zM5489 4321l35 3l14-84l-35-2zM5524 4324l34 1l15-82l-35-3z"/>
<path fill="#ffb711" d="M5558 4325l36 1l14-82l-35-1zM5594 4326l35 0l14-80l-35-2zM5629 4326l35-1l15-78l-36-1zM5664 4325l35-1l15-76l-35-1zM5699 4324l36-1l15-75l-36 0zM5735 4323l36-2l15-72l-36-1z"/>
<path fill="#ffac11" d="M5771 4321l36-2l15-70l-36 0zM5807 4319l36-1l15-68l-36-1zM5843 4318l36-2l15-65l-36-1zM5879 4316l36-1l15-63l-36-1zM5915 4315l36 0l16-62l-37-1z"/>
<path fill="#ffa011" d="M5951 4315l37 0l15-60l-36-2zM5988 4315l37 1l15-58l-37-3zM6025 4316l37 1l15-57l-37-2zM6062 4317l37 3l15-56l-37-4zM6099 4320l37 3l15-55l-37-4zM6136 4323l37 3l15-54l-37-4zM6173 4326l37 5l15-54l-37-5zM6210 4331l38 5l15-54l-38-5zM6248 4336l37 5l15-53l-37-6zM6285 4341l38 6l15-54l-38-5zM6323 4347l38 6l15-54l-38-6zM6361 4353l38 6l15-54l-38-6zM6399 4359l38 7l15-54l-38-7zM6437 4366l38 6l15-54l-38-6zM6475 4372l38 6l15-54l-38-6zM6513 4378l39 6l15-54l-39-6zM6552 4384l39 6l14-54l-38-6zM6591 4390l38 6l15-54l-39-6zM6629 4396l39 6l15-55l-39-5zM6668 4402l39 6l15-55l-39-6zM6707 4408l39 5l15-54l-39-6zM6746 4413l40 6l14-55l-39-5zM6786 4419l39 6l15-55l-40-6zM6825 4425l40 6l14-56l-39-5zM6865 4431l39 6l15-56l-40-6zM6904 4437l40 7l15-57l-40-6zM6944 4444l40 7l15-58l-40-6zM6984 4451l40 8l15-59l-40-7zM7024 4459l40 8l15-60l-40-7zM7064 4467l40 8l15-61l-40-7zM7104 4475l41 8l15-62l-41-7zM7145 4483l40 8l15-63l-40-7zM7185 4491l41 8l15-64l-41-7z"/>
<path fill="#ffe111" d="M5336 4394l35 2l14-82l-34-2zM5371 4396l34 2l14-82l-34-2zM5405 4398l35 2l14-81l-35-3zM5440 4400l34 2l15-81l-35-2z"/>
<path fill="#ffd611" d="M5474 4402l35 2l15-80l-35-3zM5509 4404l35 0l14-79l-34-1zM5544 4404l35 0l15-78l-36-1zM5579 4404l35-1l15-77l-35 0zM5614 4403l35-2l15-76l-35 1z"/>
<path fill="#fc1" d="M5649 4401l36-3l14-74l-35 1zM5685 4398l35-3l15-72l-36 1zM5720 4395l36-3l15-71l-36 2zM5756 4392l36-4l15-69l-36 2z"/>
<path fill="#ffc111" d="M5792 4388l36-4l15-66l-36 1zM5828 4384l36-3l15-65l-36 2zM5864 4381l36-3l15-63l-36 1z"/>
<path fill="#ffb711" d="M5900 4378l36-2l15-61l-36 0zM5936 4376l37-1l15-60l-37 0zM5973 4375l37-1l15-58l-37-1zM6010 4374l37 0l15-57l-37-1zM6047 4374l37 1l15-55l-37-3zM6084 4375l37 2l15-54l-37-3z"/>
<path fill="#ffac11" d="M6121 4377l37 3l15-54l-37-3zM6158 4380l37 4l15-53l-37-5zM6195 4384l38 4l15-52l-38-5zM6233 4388l37 5l15-52l-37-5zM6270 4393l38 6l15-52l-38-6zM6308 4399l38 6l15-52l-38-6zM6346 4405l38 6l15-52l-38-6zM6384 4411l38 6l15-51l-38-7zM6422 4417l38 7l15-52l-38-6zM6460 4424l39 6l14-52l-38-6z"/>
<path fill="#ffb711" d="M6499 4430l38 6l15-52l-39-6zM6537 4436l39 7l15-53l-39-6zM6576 4443l38 6l15-53l-38-6zM6614 4449l39 6l15-53l-39-6zM6653 4455l39 6l15-53l-39-6zM6692 4461l39 6l15-54l-39-5zM6731 4467l40 6l15-54l-40-6zM6771 4473l39 6l15-54l-39-6zM6810 4479l40 7l15-55l-40-6zM6850 4486l39 7l15-56l-39-6zM6889 4493l40 7l15-56l-40-7zM6929 4500l40 9l15-58l-40-7zM6969 4509l40 8l15-58l-40-8zM7009 4517l40 10l15-60l-40-8zM7049 4527l40 10l15-62l-40-8zM7089 4537l40 10l16-64l-41-8zM7129 4547l41 10l15-66l-40-8zM7170 4557l40 8l16-66l-41-8z"/>
<path fill="#fdff11" d="M5322 4473l34 1l15-78l-35-2z"/>
<path fill="#fff611" d="M5356 4474l35 1l14-77l-34-2zM5391 4475l34 2l15-77l-35-2zM5425 4477l35 2l14-77l-34-2zM5460 4479l35 1l14-76l-35-2zM5495 4480l34 1l15-77l-35 0zM5529 4481l35-1l15-76l-35 0z"/>
<path fill="#ffeb11" d="M5564 4480l35-3l15-74l-35 1zM5599 4477l36-3l14-73l-35 2zM5635 4474l35-4l15-72l-36 3zM5670 4470l35-4l15-71l-35 3z"/>
<path fill="#ffe111" d="M5705 4466l36-5l15-69l-36 3zM5741 4461l36-6l15-67l-36 4z"/>
<path fill="#ffd611" d="M5777 4455l36-5l15-66l-36 4zM5813 4450l36-5l15-64l-36 3zM5849 4445l36-4l15-63l-36 3z"/>
<path fill="#fc1" d="M5885 4441l36-4l15-61l-36 2zM5921 4437l37-3l15-59l-37 1zM5958 4434l37-2l15-58l-37 1zM5995 4432l36-1l16-57l-37 0z"/>
<path fill="#ffc111" d="M6031 4431l37 0l16-56l-37-1zM6068 4431l38 1l15-55l-37-2zM6106 4432l37 2l15-54l-37-3zM6143 4434l37 3l15-53l-37-4zM6180 4437l38 3l15-52l-38-4zM6218 4440l37 5l15-52l-37-5zM6255 4445l38 5l15-51l-38-6zM6293 4450l38 6l15-51l-38-6zM6331 4456l38 6l15-51l-38-6zM6369 4462l38 6l15-51l-38-6zM6407 4468l38 6l15-50l-38-7zM6445 4474l39 6l15-50l-39-6zM6484 4480l38 7l15-51l-38-6zM6522 4487l39 6l15-50l-39-7zM6561 4493l39 6l14-50l-38-6zM6600 4499l38 7l15-51l-39-6zM6638 4506l39 6l15-51l-39-6zM6677 4512l40 6l14-51l-39-6zM6717 4518l39 7l15-52l-40-6zM6756 4525l39 7l15-53l-39-6zM6795 4532l40 8l15-54l-40-7zM6835 4540l39 8l15-55l-39-7zM6874 4548l40 8l15-56l-40-7zM6914 4556l40 10l15-57l-40-9z"/>
<path fill="#fc1" d="M6954 4566l40 11l15-60l-40-8zM6994 4577l40 11l15-61l-40-10zM7034 4588l40 12l15-63l-40-10zM7074 4600l40 12l15-65l-40-10zM7114 4612l40 11l16-66l-41-10zM7154 4623l41 11l15-69l-40-8z"/>
<path fill="#d3f511" d="M5308 4547l34 1l14-74l-34-1zM5342 4548l34 2l15-75l-35-1zM5376 4550l35 1l14-74l-34-2zM5411 4551l34 2l15-74l-35-2zM5445 4553l35 1l15-74l-35-1z"/>
<path fill="#e8fa11" d="M5480 4554l35-1l14-72l-34-1zM5515 4553l35-1l14-72l-35 1zM5550 4552l35-3l14-72l-35 3zM5585 4549l35-4l15-71l-36 3z"/>
<path fill="#fdff11" d="M5620 4545l35-5l15-70l-35 4zM5655 4540l35-6l15-68l-35 4z"/>
<path fill="#fff611" d="M5690 4534l36-6l15-67l-36 5zM5726 4528l36-7l15-66l-36 6z"/>
<path fill="#ffeb11" d="M5762 4521l36-7l15-64l-36 5zM5798 4514l36-6l15-63l-36 5zM5834 4508l36-6l15-61l-36 4z"/>
<path fill="#ffe111" d="M5870 4502l36-5l15-60l-36 4zM5906 4497l37-4l15-59l-37 3zM5943 4493l37-4l15-57l-37 2z"/>
<path fill="#ffd611" d="M5980 4489l36-2l15-56l-36 1zM6016 4487l37-1l15-55l-37 0zM6053 4486l37 0l16-54l-38-1zM6090 4486l38 1l15-53l-37-2zM6128 4487l37 2l15-52l-37-3z"/>
<path fill="#fc1" d="M6165 4489l38 3l15-52l-38-3zM6203 4492l37 4l15-51l-37-5zM6240 4496l38 4l15-50l-38-5zM6278 4500l38 5l15-49l-38-6zM6316 4505l38 6l15-49l-38-6zM6354 4511l38 6l15-49l-38-6zM6392 4517l38 6l15-49l-38-6zM6430 4523l39 6l15-49l-39-6zM6469 4529l38 7l15-49l-38-7zM6507 4536l39 6l15-49l-39-6zM6546 4542l39 7l15-50l-39-6zM6585 4549l39 6l14-49l-38-7zM6624 4555l39 7l14-50l-39-6z"/>
<path fill="#ffd611" d="M6663 4562l39 7l15-51l-40-6zM6702 4569l39 8l15-52l-39-7zM6741 4577l39 7l15-52l-39-7zM6780 4584l40 9l15-53l-40-8zM6820 4593l40 9l14-54l-39-8zM6860 4602l39 10l15-56l-40-8zM6899 4612l40 12l15-58l-40-10zM6939 4624l40 12l15-59l-40-11zM6979 4636l40 13l15-61l-40-11z"/>
<path fill="#ffe111" d="M7019 4649l40 13l15-62l-40-12zM7059 4662l40 15l15-65l-40-12zM7099 4677l40 14l15-68l-40-11zM7139 4691l40 12l16-69l-41-11z"/>
<path fill="#93e711" d="M5293 4618l35 1l14-71l-34-1z"/>
<path fill="#a8ec11" d="M5328 4619l34 1l14-70l-34-2zM5362 4620l34 2l15-71l-35-1zM5396 4622l35 1l14-70l-34-2zM5431 4623l34 1l15-70l-35-1zM5465 4624l35-1l15-70l-35 1z"/>
<path fill="#bdf011" d="M5500 4623l35-2l15-69l-35 1zM5535 4621l35-4l15-68l-35 3zM5570 4617l35-4l15-68l-35 4z"/>
<path fill="#d3f511" d="M5605 4613l35-6l15-67l-35 5zM5640 4607l36-7l14-66l-35 6z"/>
<path fill="#e8fa11" d="M5676 4600l35-8l15-64l-36 6zM5711 4592l36-7l15-64l-36 7zM5747 4585l36-8l15-63l-36 7z"/>
<path fill="#fdff11" d="M5783 4577l36-8l15-61l-36 6zM5819 4569l36-7l15-60l-36 6z"/>
<path fill="#fff611" d="M5855 4562l36-6l15-59l-36 5zM5891 4556l37-6l15-57l-37 4z"/>
<path fill="#ffeb11" d="M5928 4550l36-4l16-57l-37 4zM5964 4546l37-4l15-55l-36 2zM6001 4542l37-2l15-54l-37 1z"/>
<path fill="#ffe111" d="M6038 4540l37-1l15-53l-37 0zM6075 4539l38 0l15-52l-38-1zM6113 4539l37 1l15-51l-37-2zM6150 4540l38 3l15-51l-38-3zM6188 4543l37 3l15-50l-37-4zM6225 4546l38 4l15-50l-38-4zM6263 4550l38 5l15-50l-38-5zM6301 4555l38 5l15-49l-38-6zM6339 4560l38 6l15-49l-38-6zM6377 4566l39 6l14-49l-38-6zM6416 4572l38 6l15-49l-39-6zM6454 4578l38 6l15-48l-38-7zM6492 4584l39 7l15-49l-39-6zM6531 4591l39 7l15-49l-39-7zM6570 4598l39 7l15-50l-39-6zM6609 4605l39 7l15-50l-39-7zM6648 4612l39 8l15-51l-39-7zM6687 4620l39 8l15-51l-39-8zM6726 4628l40 8l14-52l-39-7zM6766 4636l39 10l15-53l-40-9zM6805 4646l40 11l15-55l-40-9zM6845 4657l39 11l15-56l-39-10z"/>
<path fill="#ffeb11" d="M6884 4668l40 13l15-57l-40-12zM6924 4681l40 14l15-59l-40-12zM6964 4695l39 15l16-61l-40-13zM7003 4710l40 15l16-63l-40-13z"/>
<path fill="#fff611" d="M7043 4725l40 17l16-65l-40-15zM7083 4742l40 16l16-67l-40-14zM7123 4758l40 14l16-69l-40-12z"/>
<path fill="#69de11" d="M5279 4685l34 1l15-67l-35-1zM5313 4686l34 1l15-67l-34-1z"/>
<path fill="#7ee211" d="M5347 4687l35 2l14-67l-34-2zM5382 4689l34 1l15-67l-35-1zM5416 4690l35 0l14-66l-34-1zM5451 4690l34-1l15-66l-35 1zM5485 4689l35-2l15-66l-35 2z"/>
<path fill="#93e711" d="M5520 4687l35-4l15-66l-35 4zM5555 4683l35-6l15-64l-35 4z"/>
<path fill="#a8ec11" d="M5590 4677l35-6l15-64l-35 6zM5625 4671l36-8l15-63l-36 7z"/>
<path fill="#bdf011" d="M5661 4663l35-8l15-63l-35 8zM5696 4655l36-9l15-61l-36 7z"/>
<path fill="#d3f511" d="M5732 4646l36-9l15-60l-36 8zM5768 4637l36-8l15-60l-36 8z"/>
<path fill="#e8fa11" d="M5804 4629l36-8l15-59l-36 7zM5840 4621l36-8l15-57l-36 6z"/>
<path fill="#fdff11" d="M5876 4613l37-6l15-57l-37 6zM5913 4607l36-6l15-55l-36 4zM5949 4601l37-4l15-55l-37 4z"/>
<path fill="#fff611" d="M5986 4597l37-3l15-54l-37 2zM6023 4594l37-2l15-53l-37 1zM6060 4592l38-1l15-52l-38 0zM6098 4591l37 0l15-51l-37-1z"/>
<path fill="#ffeb11" d="M6135 4591l38 2l15-50l-38-3zM6173 4593l37 3l15-50l-37-3zM6210 4596l38 3l15-49l-38-4zM6248 4599l38 4l15-48l-38-5zM6286 4603l38 5l15-48l-38-5zM6324 4608l38 6l15-48l-38-6zM6362 4614l39 6l15-48l-39-6zM6401 4620l38 6l15-48l-38-6zM6439 4626l39 6l14-48l-38-6zM6478 4632l38 7l15-48l-39-7zM6516 4639l39 7l15-48l-39-7zM6555 4646l39 8l15-49l-39-7zM6594 4654l39 7l15-49l-39-7zM6633 4661l39 9l15-50l-39-8zM6672 4670l39 9l15-51l-39-8z"/>
<path fill="#fff611" d="M6711 4679l40 9l15-52l-40-8zM6751 4688l39 11l15-53l-39-10zM6790 4699l40 12l15-54l-40-11zM6830 4711l39 13l15-56l-39-11zM6869 4724l40 14l15-57l-40-13z"/>
<path fill="#fdff11" d="M6909 4738l40 15l15-58l-40-14zM6949 4753l39 17l15-60l-39-15zM6988 4770l40 18l15-63l-40-15z"/>
<path fill="#e8fa11" d="M7028 4788l40 18l15-64l-40-17zM7068 4806l40 19l15-67l-40-16zM7108 4825l40 16l15-69l-40-14z"/>
<path fill="#55c924" d="M5264 4749l34 1l15-64l-34-1zM5298 4750l35 1l14-64l-34-1zM5333 4751l34 1l15-63l-35-2z"/>
<path fill="#5ed41a" d="M5367 4752l34 1l15-63l-34-1zM5401 4753l35 0l15-63l-35 0zM5436 4753l35-1l14-63l-34 1zM5471 4752l34-3l15-62l-35 2z"/>
<path fill="#69de11" d="M5505 4749l35-4l15-62l-35 4zM5540 4745l35-6l15-62l-35 6z"/>
<path fill="#7ee211" d="M5575 4739l35-7l15-61l-35 6zM5610 4732l36-8l15-61l-36 8z"/>
<path fill="#93e711" d="M5646 4724l35-9l15-60l-35 8zM5681 4715l36-10l15-59l-36 9z"/>
<path fill="#a8ec11" d="M5717 4705l36-9l15-59l-36 9zM5753 4696l35-10l16-57l-36 8z"/>
<path fill="#bdf011" d="M5788 4686l37-9l15-56l-36 8zM5825 4677l36-8l15-56l-36 8z"/>
<path fill="#d3f511" d="M5861 4669l36-7l16-55l-37 6zM5897 4662l37-7l15-54l-36 6z"/>
<path fill="#e8fa11" d="M5934 4655l37-5l15-53l-37 4zM5971 4650l37-4l15-52l-37 3zM6008 4646l37-3l15-51l-37 2z"/>
<path fill="#fdff11" d="M6045 4643l37-1l16-51l-38 1zM6082 4642l38 0l15-51l-37 0zM6120 4642l37 1l16-50l-38-2zM6157 4643l38 2l15-49l-37-3zM6195 4645l38 3l15-49l-38-3zM6233 4648l38 4l15-49l-38-4z"/>
<path fill="#fff611" d="M6271 4652l38 4l15-48l-38-5zM6309 4656l38 6l15-48l-38-6zM6347 4662l39 6l15-48l-39-6zM6386 4668l38 6l15-48l-38-6zM6424 4674l39 6l15-48l-39-6zM6463 4680l38 7l15-48l-38-7z"/>
<path fill="#fdff11" d="M6501 4687l39 8l15-49l-39-7zM6540 4695l39 8l15-49l-39-8zM6579 4703l39 8l15-50l-39-7zM6618 4711l39 9l15-50l-39-9zM6657 4720l40 10l14-51l-39-9zM6697 4730l39 10l15-52l-40-9zM6736 4740l39 12l15-53l-39-11zM6775 4752l40 13l15-54l-40-12z"/>
<path fill="#e8fa11" d="M6815 4765l39 14l15-55l-39-13zM6854 4779l40 16l15-57l-40-14zM6894 4795l39 17l16-59l-40-15z"/>
<path fill="#d3f511" d="M6933 4812l40 18l15-60l-39-17zM6973 4830l40 20l15-62l-40-18zM7013 4850l39 21l16-65l-40-18z"/>
<path fill="#bdf011" d="M7052 4871l40 20l16-66l-40-19zM7092 4891l40 19l16-69l-40-16z"/>
<path fill="#42b339" d="M5249 4809l35 1l14-60l-34-1zM5284 4810l34 1l15-60l-35-1zM5318 4811l34 1l15-60l-34-1z"/>
<path fill="#4bbe2f" d="M5352 4812l34 1l15-60l-34-1zM5386 4813l35 0l15-60l-35 0zM5421 4813l35-1l15-60l-35 1zM5456 4812l34-3l15-60l-34 3z"/>
<path fill="#55c924" d="M5490 4809l35-5l15-59l-35 4zM5525 4804l35-6l15-59l-35 6z"/>
<path fill="#5ed41a" d="M5560 4798l35-8l15-58l-35 7zM5595 4790l36-8l15-58l-36 8z"/>
<path fill="#69de11" d="M5631 4782l35-10l15-57l-35 9zM5666 4772l36-10l15-57l-36 10z"/>
<path fill="#7ee211" d="M5702 4762l35-10l16-56l-36 9z"/>
<path fill="#93e711" d="M5737 4752l36-10l15-56l-35 10zM5773 4742l36-10l16-55l-37 9z"/>
<path fill="#a8ec11" d="M5809 4732l37-9l15-54l-36 8zM5846 4723l36-8l15-53l-36 7z"/>
<path fill="#bdf011" d="M5882 4715l37-7l15-53l-37 7zM5919 4708l37-6l15-52l-37 5z"/>
<path fill="#d3f511" d="M5956 4702l37-5l15-51l-37 4zM5993 4697l37-3l15-51l-37 3zM6030 4694l37-2l15-50l-37 1zM6067 4692l38-1l15-49l-38 0z"/>
<path fill="#e8fa11" d="M6105 4691l37 1l15-49l-37-1zM6142 4692l38 2l15-49l-38-2zM6180 4694l38 2l15-48l-38-3zM6218 4696l38 4l15-48l-38-4zM6256 4700l38 4l15-48l-38-4zM6294 4704l38 6l15-48l-38-6zM6332 4710l39 6l15-48l-39-6zM6371 4716l38 6l15-48l-38-6zM6409 4722l39 7l15-49l-39-6zM6448 4729l38 7l15-49l-38-7zM6486 4736l39 8l15-49l-39-8zM6525 4744l39 8l15-49l-39-8zM6564 4752l39 9l15-50l-39-8zM6603 4761l39 9l15-50l-39-9zM6642 4770l40 11l15-51l-40-10zM6682 4781l39 11l15-52l-39-10z"/>
<path fill="#d3f511" d="M6721 4792l39 13l15-53l-39-12zM6760 4805l40 14l15-54l-40-13zM6800 4819l39 15l15-55l-39-14zM6839 4834l40 17l15-56l-40-16z"/>
<path fill="#bdf011" d="M6879 4851l39 19l15-58l-39-17zM6918 4870l40 20l15-60l-40-18z"/>
<path fill="#a8ec11" d="M6958 4890l39 22l16-62l-40-20zM6997 4912l40 22l15-63l-39-21z"/>
<path fill="#93e711" d="M7037 4934l40 23l15-66l-40-20zM7077 4957l39 20l16-67l-40-19z"/>
<path fill="#309e4d" d="M5235 4867l34 0l15-57l-35-1zM5269 4867l34 0l15-56l-34-1z"/>
<path fill="#39a843" d="M5303 4867l34 2l15-57l-34-1zM5337 4869l34 1l15-57l-34-1zM5371 4870l35 0l15-57l-35 0zM5406 4870l35-2l15-56l-35 1z"/>
<path fill="#42b339" d="M5441 4868l34-3l15-56l-34 3zM5475 4865l35-5l15-56l-35 5zM5510 4860l35-6l15-56l-35 6z"/>
<path fill="#4bbe2f" d="M5545 4854l35-8l15-56l-35 8zM5580 4846l35-9l16-55l-36 8z"/>
<path fill="#55c924" d="M5615 4837l36-10l15-55l-35 10z"/>
<path fill="#5ed41a" d="M5651 4827l35-10l16-55l-36 10zM5686 4817l36-11l15-54l-35 10z"/>
<path fill="#69de11" d="M5722 4806l36-11l15-53l-36 10zM5758 4795l36-10l15-53l-36 10z"/>
<path fill="#7ee211" d="M5794 4785l37-10l15-52l-37 9z"/>
<path fill="#93e711" d="M5831 4775l36-8l15-52l-36 8zM5867 4767l37-8l15-51l-37 7z"/>
<path fill="#a8ec11" d="M5904 4759l37-6l15-51l-37 6zM5941 4753l37-6l15-50l-37 5zM5978 4747l37-3l15-50l-37 3z"/>
<path fill="#bdf011" d="M6015 4744l37-3l15-49l-37 2zM6052 4741l38-1l15-49l-38 1zM6090 4740l37 0l15-48l-37-1zM6127 4740l38 2l15-48l-38-2z"/>
<path fill="#d3f511" d="M6165 4742l38 2l15-48l-38-2zM6203 4744l38 4l15-48l-38-4zM6241 4748l38 4l15-48l-38-4zM6279 4752l38 6l15-48l-38-6zM6317 4758l39 6l15-48l-39-6zM6356 4764l38 6l15-48l-38-6zM6394 4770l39 7l15-48l-39-7zM6433 4777l38 8l15-49l-38-7zM6471 4785l39 8l15-49l-39-8zM6510 4793l39 9l15-50l-39-8zM6549 4802l39 9l15-50l-39-9z"/>
<path fill="#bdf011" d="M6588 4811l39 10l15-51l-39-9zM6627 4821l40 11l15-51l-40-11zM6667 4832l39 13l15-53l-39-11zM6706 4845l39 13l15-53l-39-13zM6745 4858l40 15l15-54l-40-14z"/>
<path fill="#a8ec11" d="M6785 4873l39 17l15-56l-39-15zM6824 4890l40 18l15-57l-40-17zM6864 4908l39 20l15-58l-39-19z"/>
<path fill="#93e711" d="M6903 4928l40 22l15-60l-40-20zM6943 4950l39 23l15-61l-39-22z"/>
<path fill="#7ee211" d="M6982 4973l40 24l15-63l-40-22z"/>
<path fill="#69de11" d="M7022 4997l39 24l16-64l-40-23zM7061 5021l40 22l15-66l-39-20z"/>
<path fill="#1f8763" d="M5220 4921l34 0l15-54l-34 0z"/>
<path fill="#269358" d="M5254 4921l34 0l15-54l-34 0zM5288 4921l34 1l15-53l-34-2zM5322 4922l34 1l15-53l-34-1zM5356 4923l35 0l15-53l-35 0z"/>
<path fill="#309e4d" d="M5391 4923l35-1l15-54l-35 2zM5426 4922l34-3l15-54l-34 3zM5460 4919l35-5l15-54l-35 5z"/>
<path fill="#39a843" d="M5495 4914l35-7l15-53l-35 6zM5530 4907l35-8l15-53l-35 8z"/>
<path fill="#42b339" d="M5565 4899l35-9l15-53l-35 9zM5600 4890l36-11l15-52l-36 10z"/>
<path fill="#4bbe2f" d="M5636 4879l35-10l15-52l-35 10z"/>
<path fill="#55c924" d="M5671 4869l36-11l15-52l-36 11zM5707 4858l36-12l15-51l-36 11z"/>
<path fill="#5ed41a" d="M5743 4846l36-10l15-51l-36 10z"/>
<path fill="#69de11" d="M5779 4836l36-10l16-51l-37 10zM5815 4826l37-9l15-50l-36 8z"/>
<path fill="#7ee211" d="M5852 4817l37-8l15-50l-37 8zM5889 4809l36-7l16-49l-37 6z"/>
<path fill="#93e711" d="M5925 4802l37-6l16-49l-37 6zM5962 4796l38-4l15-48l-37 3zM6000 4792l37-2l15-49l-37 3z"/>
<path fill="#a8ec11" d="M6037 4790l37-2l16-48l-38 1zM6074 4788l38 0l15-48l-37 0zM6112 4788l38 2l15-48l-38-2zM6150 4790l38 2l15-48l-38-2zM6188 4792l38 4l15-48l-38-4zM6226 4796l38 4l15-48l-38-4z"/>
<path fill="#bdf011" d="M6264 4800l38 6l15-48l-38-6zM6302 4806l39 6l15-48l-39-6zM6341 4812l38 7l15-49l-38-6zM6379 4819l39 7l15-49l-39-7z"/>
<path fill="#a8ec11" d="M6418 4826l38 8l15-49l-38-8zM6456 4834l39 8l15-49l-39-8zM6495 4842l39 10l15-50l-39-9zM6534 4852l39 10l15-51l-39-9zM6573 4862l39 10l15-51l-39-10zM6612 4872l40 12l15-52l-40-11zM6652 4884l39 13l15-52l-39-13z"/>
<path fill="#93e711" d="M6691 4897l39 15l15-54l-39-13zM6730 4912l40 15l15-54l-40-15zM6770 4927l39 18l15-55l-39-17z"/>
<path fill="#7ee211" d="M6809 4945l40 19l15-56l-40-18zM6849 4964l39 22l15-58l-39-20z"/>
<path fill="#69de11" d="M6888 4986l40 22l15-58l-40-22zM6928 5008l39 25l15-60l-39-23z"/>
<path fill="#5ed41a" d="M6967 5033l39 26l16-62l-40-24z"/>
<path fill="#55c924" d="M7006 5059l40 26l15-64l-39-24zM7046 5085l39 23l16-65l-40-22z"/>
<path fill="#1e7a73" d="M5204 4972l34 0l16-51l-34 0zM5238 4972l34 0l16-51l-34 0zM5272 4972l35 1l15-51l-34-1zM5307 4973l34 1l15-51l-34-1z"/>
<path fill="#1f8763" d="M5341 4974l35 0l15-51l-35 0zM5376 4974l34-2l16-50l-35 1zM5410 4972l35-3l15-50l-34 3z"/>
<path fill="#269358" d="M5445 4969l35-5l15-50l-35 5zM5480 4964l35-7l15-50l-35 7z"/>
<path fill="#309e4d" d="M5515 4957l35-8l15-50l-35 8zM5550 4949l35-9l15-50l-35 9z"/>
<path fill="#39a843" d="M5585 4940l35-11l16-50l-36 11z"/>
<path fill="#42b339" d="M5620 4929l36-11l15-49l-35 10zM5656 4918l36-11l15-49l-36 11z"/>
<path fill="#4bbe2f" d="M5692 4907l36-11l15-50l-36 12zM5728 4896l36-11l15-49l-36 10z"/>
<path fill="#55c924" d="M5764 4885l36-11l15-48l-36 10z"/>
<path fill="#5ed41a" d="M5800 4874l37-9l15-48l-37 9zM5837 4865l36-8l16-48l-37 8z"/>
<path fill="#69de11" d="M5873 4857l37-8l15-47l-36 7zM5910 4849l37-5l15-48l-37 6z"/>
<path fill="#7ee211" d="M5947 4844l37-4l16-48l-38 4zM5984 4840l38-3l15-47l-37 2zM6022 4837l37-1l15-48l-37 2z"/>
<path fill="#93e711" d="M6059 4836l38 0l15-48l-38 0zM6097 4836l38 1l15-47l-38-2zM6135 4837l38 3l15-48l-38-2zM6173 4840l38 3l15-47l-38-4zM6211 4843l38 5l15-48l-38-4zM6249 4848l38 6l15-48l-38-6zM6287 4854l38 6l16-48l-39-6zM6325 4860l39 7l15-48l-38-7zM6364 4867l39 8l15-49l-39-7zM6403 4875l38 8l15-49l-38-8zM6441 4883l39 9l15-50l-39-8zM6480 4892l39 10l15-50l-39-10zM6519 4902l39 11l15-51l-39-10zM6558 4913l39 11l15-52l-39-10z"/>
<path fill="#7ee211" d="M6597 4924l40 12l15-52l-40-12zM6637 4936l39 14l15-53l-39-13zM6676 4950l39 15l15-53l-39-15zM6715 4965l40 17l15-55l-40-15z"/>
<path fill="#69de11" d="M6755 4982l39 18l15-55l-39-18zM6794 5000l40 21l15-57l-40-19z"/>
<path fill="#5ed41a" d="M6834 5021l39 22l15-57l-39-22zM6873 5043l39 24l16-59l-40-22z"/>
<path fill="#55c924" d="M6912 5067l40 26l15-60l-39-25z"/>
<path fill="#4bbe2f" d="M6952 5093l39 27l15-61l-39-26zM6991 5120l39 27l16-62l-40-26z"/>
<path fill="#42b339" d="M7030 5147l40 25l15-64l-39-23z"/>
<path fill="#1b6093" d="M5189 5021l34-1l15-48l-34 0z"/>
<path fill="#1c6d83" d="M5223 5020l34 0l15-48l-34 0zM5257 5020l34 1l16-48l-35-1zM5291 5021l35 1l15-48l-34-1zM5326 5022l34-1l16-47l-35 0zM5360 5021l35-1l15-48l-34 2z"/>
<path fill="#1e7a73" d="M5395 5020l35-3l15-48l-35 3zM5430 5017l35-5l15-48l-35 5z"/>
<path fill="#1f8763" d="M5465 5012l34-7l16-48l-35 7zM5499 5005l36-8l15-48l-35 8z"/>
<path fill="#269358" d="M5535 4997l35-10l15-47l-35 9zM5570 4987l35-10l15-48l-35 11z"/>
<path fill="#309e4d" d="M5605 4977l36-12l15-47l-36 11z"/>
<path fill="#39a843" d="M5641 4965l35-11l16-47l-36 11zM5676 4954l36-12l16-46l-36 11z"/>
<path fill="#42b339" d="M5712 4942l36-11l16-46l-36 11z"/>
<path fill="#4bbe2f" d="M5748 4931l37-10l15-47l-36 11zM5785 4921l36-10l16-46l-37 9z"/>
<path fill="#55c924" d="M5821 4911l37-8l15-46l-36 8zM5858 4903l37-7l15-47l-37 8z"/>
<path fill="#5ed41a" d="M5895 4896l37-6l15-46l-37 5zM5932 4890l37-4l15-46l-37 4z"/>
<path fill="#69de11" d="M5969 4886l37-3l16-46l-38 3zM6006 4883l38-1l15-46l-37 1zM6044 4882l38 0l15-46l-38 0z"/>
<path fill="#7ee211" d="M6082 4882l37 2l16-47l-38-1zM6119 4884l38 3l16-47l-38-3zM6157 4887l38 4l16-48l-38-3zM6195 4891l39 5l15-48l-38-5zM6234 4896l38 6l15-48l-38-6zM6272 4902l38 6l15-48l-38-6zM6310 4908l39 8l15-49l-39-7zM6349 4916l39 8l15-49l-39-8zM6388 4924l38 9l15-50l-38-8zM6426 4933l39 10l15-51l-39-9zM6465 4943l39 10l15-51l-39-10z"/>
<path fill="#69de11" d="M6504 4953l39 11l15-51l-39-11zM6543 4964l39 12l15-52l-39-11zM6582 4976l40 13l15-53l-40-12zM6622 4989l39 14l15-53l-39-14z"/>
<path fill="#5ed41a" d="M6661 5003l39 16l15-54l-39-15zM6700 5019l40 17l15-54l-40-17zM6740 5036l39 20l15-56l-39-18z"/>
<path fill="#55c924" d="M6779 5056l39 21l16-56l-40-21zM6818 5077l40 23l15-57l-39-22z"/>
<path fill="#4bbe2f" d="M6858 5100l39 25l15-58l-39-24z"/>
<path fill="#42b339" d="M6897 5125l40 26l15-58l-40-26zM6937 5151l39 29l15-60l-39-27z"/>
<path fill="#39a843" d="M6976 5180l39 28l15-61l-39-27z"/>
<path fill="#309e4d" d="M7015 5208l40 26l15-62l-40-25z"/>
<path fill="#1a53a3" d="M5174 5068l34-2l15-46l-34 1zM5208 5066l34 0l15-46l-34 0zM5242 5066l34 0l15-45l-34-1z"/>
<path fill="#1b6093" d="M5276 5066l34 1l16-45l-35-1zM5310 5067l35 0l15-46l-34 1zM5345 5067l35-2l15-45l-35 1zM5380 5065l34-3l16-45l-35 3z"/>
<path fill="#1c6d83" d="M5414 5062l35-5l16-45l-35 5zM5449 5057l35-7l15-45l-34 7z"/>
<path fill="#1e7a73" d="M5484 5050l35-8l16-45l-36 8zM5519 5042l35-10l16-45l-35 10z"/>
<path fill="#1f8763" d="M5554 5032l36-10l15-45l-35 10z"/>
<path fill="#269358" d="M5590 5022l35-12l16-45l-36 12zM5625 5010l36-11l15-45l-35 11z"/>
<path fill="#309e4d" d="M5661 4999l36-12l15-45l-36 12z"/>
<path fill="#39a843" d="M5697 4987l36-11l15-45l-36 11zM5733 4976l36-11l16-44l-37 10z"/>
<path fill="#42b339" d="M5769 4965l37-9l15-45l-36 10z"/>
<path fill="#4bbe2f" d="M5806 4956l37-8l15-45l-37 8zM5843 4948l36-8l16-44l-37 7z"/>
<path fill="#55c924" d="M5879 4940l38-5l15-45l-37 6zM5917 4935l37-4l15-45l-37 4zM5954 4931l37-3l15-45l-37 3z"/>
<path fill="#5ed41a" d="M5991 4928l38-1l15-45l-38 1zM6029 4927l37 1l16-46l-38 0zM6066 4928l38 2l15-46l-37-2zM6104 4930l38 3l15-46l-38-3zM6142 4933l38 5l15-47l-38-4z"/>
<path fill="#69de11" d="M6180 4938l38 5l16-47l-39-5zM6218 4943l39 7l15-48l-38-6zM6257 4950l38 7l15-49l-38-6zM6295 4957l39 8l15-49l-39-8z"/>
<path fill="#5ed41a" d="M6334 4965l38 9l16-50l-39-8zM6372 4974l39 9l15-50l-38-9zM6411 4983l39 10l15-50l-39-10zM6450 4993l39 11l15-51l-39-10zM6489 5004l39 12l15-52l-39-11zM6528 5016l39 12l15-52l-39-12zM6567 5028l40 14l15-53l-40-13z"/>
<path fill="#55c924" d="M6607 5042l39 15l15-54l-39-14zM6646 5057l39 16l15-54l-39-16zM6685 5073l40 18l15-55l-40-17z"/>
<path fill="#4bbe2f" d="M6725 5091l39 20l15-55l-39-20zM6764 5111l39 22l15-56l-39-21z"/>
<path fill="#42b339" d="M6803 5133l40 23l15-56l-40-23zM6843 5156l39 26l15-57l-39-25z"/>
<path fill="#39a843" d="M6882 5182l39 28l16-59l-40-26z"/>
<path fill="#309e4d" d="M6921 5210l40 29l15-59l-39-29z"/>
<path fill="#269358" d="M6961 5239l39 29l15-60l-39-28zM7000 5268l40 27l15-61l-40-26z"/>
<path fill="#1946b3" d="M5158 5112l34-2l16-44l-34 2zM5192 5110l34-1l16-43l-34 0zM5226 5109l34 0l16-43l-34 0zM5260 5109l35 0l15-42l-34-1z"/>
<path fill="#1a53a3" d="M5295 5109l34 0l16-42l-35 0zM5329 5109l35-2l16-42l-35 2zM5364 5107l35-3l15-42l-34 3z"/>
<path fill="#1b6093" d="M5399 5104l35-5l15-42l-35 5zM5434 5099l35-6l15-43l-35 7z"/>
<path fill="#1c6d83" d="M5469 5093l35-9l15-42l-35 8zM5504 5084l35-9l15-43l-35 10z"/>
<path fill="#1e7a73" d="M5539 5075l35-11l16-42l-36 10z"/>
<path fill="#1f8763" d="M5574 5064l36-11l15-43l-35 12zM5610 5053l36-12l15-42l-36 11z"/>
<path fill="#269358" d="M5646 5041l36-11l15-43l-36 12z"/>
<path fill="#309e4d" d="M5682 5030l36-11l15-43l-36 11zM5718 5019l36-11l15-43l-36 11z"/>
<path fill="#39a843" d="M5754 5008l36-9l16-43l-37 9zM5790 4999l37-8l16-43l-37 8z"/>
<path fill="#42b339" d="M5827 4991l37-7l15-44l-36 8zM5864 4984l37-6l16-43l-38 5z"/>
<path fill="#4bbe2f" d="M5901 4978l37-3l16-44l-37 4zM5938 4975l38-3l15-44l-37 3z"/>
<path fill="#55c924" d="M5976 4972l37 0l16-45l-38 1zM6013 4972l38 1l15-45l-37-1zM6051 4973l38 2l15-45l-38-2zM6089 4975l38 4l15-46l-38-3zM6127 4979l38 5l15-46l-38-5zM6165 4984l38 6l15-47l-38-5zM6203 4990l38 7l16-47l-39-7zM6241 4997l39 8l15-48l-38-7zM6280 5005l39 9l15-49l-39-8zM6319 5014l38 9l15-49l-38-9zM6357 5023l39 10l15-50l-39-9zM6396 5033l39 11l15-51l-39-10zM6435 5044l39 11l15-51l-39-11zM6474 5055l39 13l15-52l-39-12z"/>
<path fill="#4bbe2f" d="M6513 5068l39 13l15-53l-39-12zM6552 5081l39 14l16-53l-40-14zM6591 5095l40 15l15-53l-39-15zM6631 5110l39 17l15-54l-39-16z"/>
<path fill="#42b339" d="M6670 5127l39 19l16-55l-40-18zM6709 5146l40 20l15-55l-39-20z"/>
<path fill="#39a843" d="M6749 5166l39 23l15-56l-39-22zM6788 5189l40 24l15-57l-40-23z"/>
<path fill="#309e4d" d="M6828 5213l39 26l15-57l-39-26z"/>
<path fill="#269358" d="M6867 5239l39 28l15-57l-39-28z"/>
<path fill="#1f8763" d="M6906 5267l40 30l15-58l-40-29zM6946 5297l39 30l15-59l-39-29z"/>
<path fill="#1e7a73" d="M6985 5327l39 27l16-59l-40-27z"/>
<path fill="#162cd3" d="M5142 5154l34-3l16-41l-34 2z"/>
<path fill="#1739c3" d="M5176 5151l34-2l16-40l-34 1zM5210 5149l35 0l15-40l-34 0zM5245 5149l34 0l16-40l-35 0zM5279 5149l35 0l15-40l-34 0z"/>
<path fill="#1946b3" d="M5314 5149l34-2l16-40l-35 2zM5348 5147l35-3l16-40l-35 3zM5383 5144l35-5l16-40l-35 5z"/>
<path fill="#1a53a3" d="M5418 5139l35-6l16-40l-35 6z"/>
<path fill="#1b6093" d="M5453 5133l35-9l16-40l-35 9zM5488 5124l35-9l16-40l-35 9z"/>
<path fill="#1c6d83" d="M5523 5115l36-11l15-40l-35 11zM5559 5104l35-11l16-40l-36 11z"/>
<path fill="#1e7a73" d="M5594 5093l36-11l16-41l-36 12z"/>
<path fill="#1f8763" d="M5630 5082l36-12l16-40l-36 11zM5666 5070l36-11l16-40l-36 11z"/>
<path fill="#269358" d="M5702 5059l36-10l16-41l-36 11z"/>
<path fill="#309e4d" d="M5738 5049l37-9l15-41l-36 9zM5775 5040l37-8l15-41l-37 8z"/>
<path fill="#39a843" d="M5812 5032l37-7l15-41l-37 7zM5849 5025l37-5l15-42l-37 6z"/>
<path fill="#42b339" d="M5886 5020l37-3l15-42l-37 3zM5923 5017l37-2l16-43l-38 3zM5960 5015l38 0l15-43l-37 0z"/>
<path fill="#4bbe2f" d="M5998 5015l38 2l15-44l-38-1zM6036 5017l38 3l15-45l-38-2zM6074 5020l38 4l15-45l-38-4zM6112 5024l38 6l15-46l-38-5zM6150 5030l38 7l15-47l-38-6zM6188 5037l38 8l15-48l-38-7zM6226 5045l39 8l15-48l-39-8zM6265 5053l38 10l16-49l-39-9zM6303 5063l39 10l15-50l-38-9zM6342 5073l39 10l15-50l-39-10zM6381 5083l39 12l15-51l-39-11z"/>
<path fill="#42b339" d="M6420 5095l39 12l15-52l-39-11zM6459 5107l39 13l15-52l-39-13zM6498 5120l39 13l15-52l-39-13zM6537 5133l39 15l15-53l-39-14z"/>
<path fill="#39a843" d="M6576 5148l40 16l15-54l-40-15zM6616 5164l39 18l15-55l-39-17zM6655 5182l39 19l15-55l-39-19z"/>
<path fill="#309e4d" d="M6694 5201l40 20l15-55l-40-20zM6734 5221l39 23l15-55l-39-23z"/>
<path fill="#269358" d="M6773 5244l39 25l16-56l-40-24z"/>
<path fill="#1f8763" d="M6812 5269l40 27l15-57l-39-26zM6852 5296l39 28l15-57l-39-28z"/>
<path fill="#1e7a73" d="M6891 5324l39 30l16-57l-40-30z"/>
<path fill="#1c6d83" d="M6930 5354l40 31l15-58l-39-30z"/>
<path fill="#1b6093" d="M6970 5385l39 27l15-58l-39-27z"/>
<path fill="#151fe3" d="M5127 5194l34-3l15-40l-34 3z"/>
<path fill="#162cd3" d="M5161 5191l34-3l15-39l-34 2zM5195 5188l34 0l16-39l-35 0zM5229 5188l34-1l16-38l-34 0zM5263 5187l35 0l16-38l-35 0z"/>
<path fill="#1739c3" d="M5298 5187l35-2l15-38l-34 2zM5333 5185l34-3l16-38l-35 3zM5367 5182l35-5l16-38l-35 5z"/>
<path fill="#1946b3" d="M5402 5177l35-6l16-38l-35 6zM5437 5171l35-9l16-38l-35 9z"/>
<path fill="#1a53a3" d="M5472 5162l36-9l15-38l-35 9z"/>
<path fill="#1b6093" d="M5508 5153l35-11l16-38l-36 11zM5543 5142l36-11l15-38l-35 11z"/>
<path fill="#1c6d83" d="M5579 5131l35-11l16-38l-36 11z"/>
<path fill="#1e7a73" d="M5614 5120l36-11l16-39l-36 12zM5650 5109l37-11l15-39l-36 11z"/>
<path fill="#1f8763" d="M5687 5098l36-10l15-39l-36 10z"/>
<path fill="#269358" d="M5723 5088l36-9l16-39l-37 9zM5759 5079l37-7l16-40l-37 8z"/>
<path fill="#309e4d" d="M5796 5072l37-6l16-41l-37 7zM5833 5066l37-5l16-41l-37 5z"/>
<path fill="#39a843" d="M5870 5061l38-3l15-41l-37 3zM5908 5058l37-1l15-42l-37 2zM5945 5057l38 1l15-43l-38 0zM5983 5058l37 2l16-43l-38-2z"/>
<path fill="#42b339" d="M6020 5060l38 4l16-44l-38-3zM6058 5064l38 5l16-45l-38-4zM6096 5069l38 7l16-46l-38-6zM6134 5076l39 7l15-46l-38-7zM6173 5083l38 9l15-47l-38-8zM6211 5092l38 9l16-48l-39-8zM6249 5101l39 10l15-48l-38-10z"/>
<path fill="#39a843" d="M6288 5111l39 11l15-49l-39-10zM6327 5122l39 11l15-50l-39-10zM6366 5133l38 13l16-51l-39-12zM6404 5146l39 12l16-51l-39-12zM6443 5158l40 14l15-52l-39-13z"/>
<path fill="#309e4d" d="M6483 5172l39 14l15-53l-39-13zM6522 5186l39 15l15-53l-39-15zM6561 5201l39 17l16-54l-40-16zM6600 5218l40 18l15-54l-39-18z"/>
<path fill="#269358" d="M6640 5236l39 19l15-54l-39-19zM6679 5255l40 21l15-55l-40-20z"/>
<path fill="#1f8763" d="M6719 5276l39 24l15-56l-39-23z"/>
<path fill="#1e7a73" d="M6758 5300l39 25l15-56l-39-25zM6797 5325l40 27l15-56l-40-27z"/>
<path fill="#1c6d83" d="M6837 5352l39 28l15-56l-39-28z"/>
<path fill="#1b6093" d="M6876 5380l39 30l15-56l-39-30z"/>
<path fill="#1a53a3" d="M6915 5410l40 31l15-56l-40-31zM6955 5441l39 27l15-56l-39-27z"/>
<path fill="#1414ee" d="M5111 5232l34-4l16-37l-34 3z"/>
<path fill="#151fe3" d="M5145 5228l34-3l16-37l-34 3zM5179 5225l34-1l16-36l-34 0zM5213 5224l34 0l16-37l-34 1zM5247 5224l35-1l16-36l-35 0z"/>
<path fill="#162cd3" d="M5282 5223l35-2l16-36l-35 2zM5317 5221l34-3l16-36l-34 3z"/>
<path fill="#1739c3" d="M5351 5218l35-5l16-36l-35 5zM5386 5213l35-7l16-35l-35 6z"/>
<path fill="#1946b3" d="M5421 5206l36-8l15-36l-35 9zM5457 5198l35-9l16-36l-36 9z"/>
<path fill="#1a53a3" d="M5492 5189l35-10l16-37l-35 11zM5527 5179l36-11l16-37l-36 11z"/>
<path fill="#1b6093" d="M5563 5168l36-11l15-37l-35 11z"/>
<path fill="#1c6d83" d="M5599 5157l36-11l15-37l-36 11zM5635 5146l36-11l16-37l-37 11z"/>
<path fill="#1e7a73" d="M5671 5135l36-9l16-38l-36 10z"/>
<path fill="#1f8763" d="M5707 5126l37-9l15-38l-36 9zM5744 5117l37-7l15-38l-37 7z"/>
<path fill="#269358" d="M5781 5110l37-5l15-39l-37 6zM5818 5105l37-4l15-40l-37 5z"/>
<path fill="#309e4d" d="M5855 5101l37-2l16-41l-38 3zM5892 5099l37-1l16-41l-37 1zM5929 5098l38 1l16-41l-38-1zM5967 5099l38 3l15-42l-37-2zM6005 5102l38 5l15-43l-38-4z"/>
<path fill="#39a843" d="M6043 5107l38 6l15-44l-38-5zM6081 5113l38 7l15-44l-38-7zM6119 5120l38 9l16-46l-39-7z"/>
<path fill="#309e4d" d="M6157 5129l39 9l15-46l-38-9zM6196 5138l38 10l15-47l-38-9zM6234 5148l39 11l15-48l-39-10zM6273 5159l38 12l16-49l-39-11zM6311 5171l39 12l16-50l-39-11zM6350 5183l39 13l15-50l-38-13zM6389 5196l39 14l15-52l-39-12z"/>
<path fill="#269358" d="M6428 5210l39 14l16-52l-40-14zM6467 5224l39 15l16-53l-39-14zM6506 5239l40 16l15-54l-39-15z"/>
<path fill="#1f8763" d="M6546 5255l39 17l15-54l-39-17zM6585 5272l39 18l16-54l-40-18zM6624 5290l40 20l15-55l-39-19z"/>
<path fill="#1e7a73" d="M6664 5310l39 21l16-55l-40-21zM6703 5331l40 24l15-55l-39-24z"/>
<path fill="#1c6d83" d="M6743 5355l39 25l15-55l-39-25z"/>
<path fill="#1b6093" d="M6782 5380l40 27l15-55l-40-27zM6822 5407l39 29l15-56l-39-28z"/>
<path fill="#1a53a3" d="M6861 5436l39 29l15-55l-39-30z"/>
<path fill="#1946b3" d="M6900 5465l40 31l15-55l-40-31z"/>
<path fill="#1739c3" d="M6940 5496l39 27l15-55l-39-27z"/>
<path fill="#1313e1" d="M5095 5269l34-5l16-36l-34 4z"/>
<path fill="#1414ee" d="M5129 5264l34-4l16-35l-34 3zM5163 5260l34-2l16-34l-34 1zM5197 5258l34 0l16-34l-34 0z"/>
<path fill="#151fe3" d="M5231 5258l35-1l16-34l-35 1zM5266 5257l35-2l16-34l-35 2zM5301 5255l35-4l15-33l-34 3z"/>
<path fill="#162cd3" d="M5336 5251l34-5l16-33l-35 5zM5370 5246l35-6l16-34l-35 7z"/>
<path fill="#1739c3" d="M5405 5240l36-8l16-34l-36 8zM5441 5232l35-9l16-34l-35 9z"/>
<path fill="#1946b3" d="M5476 5223l35-10l16-34l-35 10z"/>
<path fill="#1a53a3" d="M5511 5213l36-11l16-34l-36 11zM5547 5202l36-11l16-34l-36 11z"/>
<path fill="#1b6093" d="M5583 5191l36-10l16-35l-36 11z"/>
<path fill="#1c6d83" d="M5619 5181l36-10l16-36l-36 11zM5655 5171l37-9l15-36l-36 9z"/>
<path fill="#1e7a73" d="M5692 5162l36-8l16-37l-37 9zM5728 5154l37-7l16-37l-37 7z"/>
<path fill="#1f8763" d="M5765 5147l37-5l16-37l-37 5zM5802 5142l37-3l16-38l-37 4z"/>
<path fill="#269358" d="M5839 5139l37-2l16-38l-37 2zM5876 5137l38 1l15-40l-37 1zM5914 5138l38 2l15-41l-38-1zM5952 5140l37 4l16-42l-38-3zM5989 5144l38 5l16-42l-38-5zM6027 5149l38 7l16-43l-38-6zM6065 5156l39 8l15-44l-38-7zM6104 5164l38 10l15-45l-38-9zM6142 5174l38 10l16-46l-39-9zM6180 5184l39 11l15-47l-38-10zM6219 5195l38 12l16-48l-39-11zM6257 5207l39 13l15-49l-38-12zM6296 5220l39 13l15-50l-39-12z"/>
<path fill="#1f8763" d="M6335 5233l39 13l15-50l-39-13zM6374 5246l39 15l15-51l-39-14zM6413 5261l39 15l15-52l-39-14zM6452 5276l39 15l15-52l-39-15z"/>
<path fill="#1e7a73" d="M6491 5291l40 17l15-53l-40-16zM6531 5308l39 17l15-53l-39-17zM6570 5325l39 19l15-54l-39-18z"/>
<path fill="#1c6d83" d="M6609 5344l40 20l15-54l-40-20zM6649 5364l39 22l15-55l-39-21z"/>
<path fill="#1b6093" d="M6688 5386l40 24l15-55l-40-24z"/>
<path fill="#1a53a3" d="M6728 5410l39 25l15-55l-39-25zM6767 5435l39 27l16-55l-40-27z"/>
<path fill="#1946b3" d="M6806 5462l40 28l15-54l-39-29z"/>
<path fill="#1739c3" d="M6846 5490l39 30l15-55l-39-29z"/>
<path fill="#162cd3" d="M6885 5520l40 30l15-54l-40-31zM6925 5550l39 27l15-54l-39-27z"/>
<path fill="#1212d3" d="M5079 5304l33-6l17-34l-34 5z"/>
<path fill="#1313e1" d="M5112 5298l34-4l17-34l-34 4zM5146 5294l35-3l16-33l-34 2zM5181 5291l34-1l16-32l-34 0z"/>
<path fill="#1414ee" d="M5215 5290l35-1l16-32l-35 1zM5250 5289l35-2l16-32l-35 2zM5285 5287l34-4l17-32l-35 4z"/>
<path fill="#151fe3" d="M5319 5283l35-5l16-32l-34 5zM5354 5278l35-6l16-32l-35 6z"/>
<path fill="#162cd3" d="M5389 5272l36-8l16-32l-36 8zM5425 5264l35-9l16-32l-35 9z"/>
<path fill="#1739c3" d="M5460 5255l35-10l16-32l-35 10z"/>
<path fill="#1946b3" d="M5495 5245l36-10l16-33l-36 11zM5531 5235l36-11l16-33l-36 11z"/>
<path fill="#1a53a3" d="M5567 5224l36-10l16-33l-36 10z"/>
<path fill="#1b6093" d="M5603 5214l36-9l16-34l-36 10zM5639 5205l37-9l16-34l-37 9z"/>
<path fill="#1c6d83" d="M5676 5196l36-7l16-35l-36 8zM5712 5189l37-6l16-36l-37 7z"/>
<path fill="#1e7a73" d="M5749 5183l37-4l16-37l-37 5zM5786 5179l37-3l16-37l-37 3z"/>
<path fill="#1f8763" d="M5823 5176l38-1l15-38l-37 2zM5861 5175l37 1l16-38l-38-1zM5898 5176l38 3l16-39l-38-2zM5936 5179l38 5l15-40l-37-4zM5974 5184l38 6l15-41l-38-5zM6012 5190l38 8l15-42l-38-7zM6050 5198l38 9l16-43l-39-8zM6088 5207l39 11l15-44l-38-10zM6127 5218l38 11l15-45l-38-10zM6165 5229l38 12l16-46l-39-11zM6203 5241l39 13l15-47l-38-12zM6242 5254l39 14l15-48l-39-13z"/>
<path fill="#1e7a73" d="M6281 5268l39 14l15-49l-39-13zM6320 5282l39 14l15-50l-39-13zM6359 5296l39 15l15-50l-39-15zM6398 5311l39 16l15-51l-39-15z"/>
<path fill="#1c6d83" d="M6437 5327l39 16l15-52l-39-15zM6476 5343l39 18l16-53l-40-17z"/>
<path fill="#1b6093" d="M6515 5361l40 18l15-54l-39-17zM6555 5379l39 19l15-54l-39-19zM6594 5398l39 20l16-54l-40-20z"/>
<path fill="#1a53a3" d="M6633 5418l40 22l15-54l-39-22zM6673 5440l39 24l16-54l-40-24z"/>
<path fill="#1946b3" d="M6712 5464l40 25l15-54l-39-25z"/>
<path fill="#1739c3" d="M6752 5489l39 27l15-54l-39-27zM6791 5516l40 28l15-54l-40-28z"/>
<path fill="#162cd3" d="M6831 5544l39 29l15-53l-39-30z"/>
<path fill="#151fe3" d="M6870 5573l40 30l15-53l-40-30z"/>
<path fill="#1414ee" d="M6910 5603l40 26l14-52l-39-27z"/>
<path fill="#1111c6" d="M5062 5338l34-7l16-33l-33 6z"/>
<path fill="#1212d3" d="M5096 5331l34-5l16-32l-34 4zM5130 5326l34-3l17-32l-35 3z"/>
<path fill="#1313e1" d="M5164 5323l35-2l16-31l-34 1zM5199 5321l35-2l16-30l-35 1zM5234 5319l34-2l17-30l-35 2z"/>
<path fill="#1414ee" d="M5268 5317l35-4l16-30l-34 4zM5303 5313l35-5l16-30l-35 5z"/>
<path fill="#151fe3" d="M5338 5308l35-6l16-30l-35 6zM5373 5302l35-8l17-30l-36 8z"/>
<path fill="#162cd3" d="M5408 5294l36-9l16-30l-35 9zM5444 5285l35-9l16-31l-35 10z"/>
<path fill="#1739c3" d="M5479 5276l36-10l16-31l-36 10z"/>
<path fill="#1946b3" d="M5515 5266l36-10l16-32l-36 11zM5551 5256l36-10l16-32l-36 10z"/>
<path fill="#1a53a3" d="M5587 5246l36-9l16-32l-36 9z"/>
<path fill="#1b6093" d="M5623 5237l37-8l16-33l-37 9zM5660 5229l37-7l15-33l-36 7z"/>
<path fill="#1c6d83" d="M5697 5222l36-5l16-34l-37 6zM5733 5217l38-3l15-35l-37 4zM5771 5214l37-2l15-36l-37 3z"/>
<path fill="#1e7a73" d="M5808 5212l37 0l16-37l-38 1zM5845 5212l38 2l15-38l-37-1zM5883 5214l38 4l15-39l-38-3zM5921 5218l37 5l16-39l-38-5zM5958 5223l38 8l16-41l-38-6zM5996 5231l39 8l15-41l-38-8zM6035 5239l38 11l15-43l-38-9zM6073 5250l38 11l16-43l-39-11zM6111 5261l39 12l15-44l-38-11zM6150 5273l38 13l15-45l-38-12zM6188 5286l39 14l15-46l-39-13z"/>
<path fill="#1c6d83" d="M6227 5300l38 15l16-47l-39-14zM6265 5315l39 15l16-48l-39-14zM6304 5330l39 15l16-49l-39-14z"/>
<path fill="#1b6093" d="M6343 5345l39 16l16-50l-39-15zM6382 5361l39 17l16-51l-39-16zM6421 5378l40 17l15-52l-39-16z"/>
<path fill="#1a53a3" d="M6461 5395l39 18l15-52l-39-18zM6500 5413l39 19l16-53l-40-18zM6539 5432l40 19l15-53l-39-19z"/>
<path fill="#1946b3" d="M6579 5451l39 21l15-54l-39-20zM6618 5472l40 22l15-54l-40-22z"/>
<path fill="#1739c3" d="M6658 5494l39 24l15-54l-39-24z"/>
<path fill="#162cd3" d="M6697 5518l40 25l15-54l-40-25zM6737 5543l39 27l15-54l-39-27z"/>
<path fill="#151fe3" d="M6776 5570l40 27l15-53l-40-28z"/>
<path fill="#1414ee" d="M6816 5597l39 29l15-53l-39-29zM6855 5626l40 29l15-52l-40-30z"/>
<path fill="#1313e1" d="M6895 5655l40 25l15-51l-40-26z"/>
<path fill="#1111c6" d="M5046 5370l34-7l16-32l-34 7zM5080 5363l34-7l16-30l-34 5z"/>
<path fill="#1212d3" d="M5114 5356l34-3l16-30l-34 3zM5148 5353l34-3l17-29l-35 2zM5182 5350l35-2l17-29l-35 2z"/>
<path fill="#1313e1" d="M5217 5348l35-3l16-28l-34 2zM5252 5345l35-3l16-29l-35 4z"/>
<path fill="#1414ee" d="M5287 5342l35-5l16-29l-35 5zM5322 5337l35-7l16-28l-35 6z"/>
<path fill="#151fe3" d="M5357 5330l35-7l16-29l-35 8zM5392 5323l36-9l16-29l-36 9z"/>
<path fill="#162cd3" d="M5428 5314l35-9l16-29l-35 9zM5463 5305l36-9l16-30l-36 10z"/>
<path fill="#1739c3" d="M5499 5296l36-10l16-30l-36 10z"/>
<path fill="#1946b3" d="M5535 5286l36-9l16-31l-36 10zM5571 5277l36-9l16-31l-36 9z"/>
<path fill="#1a53a3" d="M5607 5268l37-7l16-32l-37 8zM5644 5261l37-6l16-33l-37 7z"/>
<path fill="#1b6093" d="M5681 5255l37-5l15-33l-36 5zM5718 5250l37-2l16-34l-38 3z"/>
<path fill="#1c6d83" d="M5755 5248l37-1l16-35l-37 2zM5792 5247l37 1l16-36l-37 0zM5829 5248l38 3l16-37l-38-2zM5867 5251l38 4l16-37l-38-4zM5905 5255l38 7l15-39l-37-5zM5943 5262l38 8l15-39l-38-8zM5981 5270l38 10l16-41l-39-8zM6019 5280l38 11l16-41l-38-11zM6057 5291l39 12l15-42l-38-11zM6096 5303l38 14l16-44l-39-12zM6134 5317l39 14l15-45l-38-13z"/>
<path fill="#1b6093" d="M6173 5331l38 15l16-46l-39-14zM6211 5346l39 15l15-46l-38-15zM6250 5361l39 16l15-47l-39-15z"/>
<path fill="#1a53a3" d="M6289 5377l39 17l15-49l-39-15zM6328 5394l39 17l15-50l-39-16zM6367 5411l39 17l15-50l-39-17z"/>
<path fill="#1946b3" d="M6406 5428l39 18l16-51l-40-17zM6445 5446l40 19l15-52l-39-18zM6485 5465l39 19l15-52l-39-19z"/>
<path fill="#1739c3" d="M6524 5484l39 20l16-53l-40-19zM6563 5504l40 21l15-53l-39-21z"/>
<path fill="#162cd3" d="M6603 5525l39 23l16-54l-40-22zM6642 5548l40 23l15-53l-39-24z"/>
<path fill="#151fe3" d="M6682 5571l40 25l15-53l-40-25z"/>
<path fill="#1414ee" d="M6722 5596l39 26l15-52l-39-27zM6761 5622l40 28l15-53l-40-27z"/>
<path fill="#1313e1" d="M6801 5650l39 28l15-52l-39-29z"/>
<path fill="#1212d3" d="M6840 5678l40 28l15-51l-40-29z"/>
<path fill="#1111c6" d="M6880 5706l40 24l15-50l-40-25z"/>
<path fill="#1010b9" d="M5029 5401l34-8l17-30l-34 7zM5063 5393l34-8l17-29l-34 7z"/>
<path fill="#1111c6" d="M5097 5385l34-4l17-28l-34 3zM5131 5381l35-3l16-28l-34 3z"/>
<path fill="#1212d3" d="M5166 5378l35-2l16-28l-35 2zM5201 5376l34-3l17-28l-35 3zM5235 5373l35-4l17-27l-35 3z"/>
<path fill="#1313e1" d="M5270 5369l35-6l17-26l-35 5zM5305 5363l36-6l16-27l-35 7z"/>
<path fill="#1414ee" d="M5341 5357l35-7l16-27l-35 7z"/>
<path fill="#151fe3" d="M5376 5350l35-8l17-28l-36 9zM5411 5342l36-9l16-28l-35 9z"/>
<path fill="#162cd3" d="M5447 5333l36-9l16-28l-36 9zM5483 5324l36-9l16-29l-36 10z"/>
<path fill="#1739c3" d="M5519 5315l36-9l16-29l-36 9z"/>
<path fill="#1946b3" d="M5555 5306l36-8l16-30l-36 9zM5591 5298l37-6l16-31l-37 7z"/>
<path fill="#1a53a3" d="M5628 5292l37-6l16-31l-37 6zM5665 5286l37-3l16-33l-37 5z"/>
<path fill="#1b6093" d="M5702 5283l37-2l16-33l-37 2zM5739 5281l37-1l16-33l-37 1zM5776 5280l38 2l15-34l-37-1zM5814 5282l37 4l16-35l-38-3zM5851 5286l38 6l16-37l-38-4zM5889 5292l38 7l16-37l-38-7zM5927 5299l38 9l16-38l-38-8zM5965 5308l38 11l16-39l-38-10zM6003 5319l39 12l15-40l-38-11zM6042 5331l38 14l16-42l-39-12zM6080 5345l39 14l15-42l-38-14z"/>
<path fill="#1a53a3" d="M6119 5359l38 15l16-43l-39-14zM6157 5374l39 16l15-44l-38-15zM6196 5390l39 17l15-46l-39-15zM6235 5407l39 17l15-47l-39-16z"/>
<path fill="#1946b3" d="M6274 5424l39 18l15-48l-39-17zM6313 5442l39 18l15-49l-39-17z"/>
<path fill="#1739c3" d="M6352 5460l39 18l15-50l-39-17zM6391 5478l39 19l15-51l-39-18zM6430 5497l39 19l16-51l-40-19z"/>
<path fill="#162cd3" d="M6469 5516l40 20l15-52l-39-19zM6509 5536l39 21l15-53l-39-20z"/>
<path fill="#151fe3" d="M6548 5557l40 21l15-53l-40-21zM6588 5578l39 23l15-53l-39-23z"/>
<path fill="#1414ee" d="M6627 5601l40 23l15-53l-40-23zM6667 5624l39 25l16-53l-40-25z"/>
<path fill="#1313e1" d="M6706 5649l40 25l15-52l-39-26z"/>
<path fill="#1212d3" d="M6746 5674l40 27l15-51l-40-28zM6786 5701l39 27l15-50l-39-28z"/>
<path fill="#1111c6" d="M6825 5728l40 27l15-49l-40-28z"/>
<path fill="#1010b9" d="M6865 5755l40 24l15-49l-40-24z"/>
<path fill="#0f0fab" d="M5012 5430l34-9l17-28l-34 8z"/>
<path fill="#1010b9" d="M5046 5421l34-8l17-28l-34 8zM5080 5413l35-5l16-27l-34 4z"/>
<path fill="#1111c6" d="M5115 5408l34-3l17-27l-35 3zM5149 5405l35-3l17-26l-35 2z"/>
<path fill="#1212d3" d="M5184 5402l35-4l16-25l-34 3zM5219 5398l35-4l16-25l-35 4zM5254 5394l35-5l16-26l-35 6z"/>
<path fill="#1313e1" d="M5289 5389l35-6l17-26l-36 6zM5324 5383l35-7l17-26l-35 7z"/>
<path fill="#1414ee" d="M5359 5376l36-8l16-26l-35 8z"/>
<path fill="#151fe3" d="M5395 5368l36-9l16-26l-36 9zM5431 5359l35-8l17-27l-36 9z"/>
<path fill="#162cd3" d="M5466 5351l36-9l17-27l-36 9zM5502 5342l37-8l16-28l-36 9z"/>
<path fill="#1739c3" d="M5539 5334l36-7l16-29l-36 8z"/>
<path fill="#1946b3" d="M5575 5327l37-6l16-29l-37 6zM5612 5321l37-4l16-31l-37 6zM5649 5317l37-3l16-31l-37 3z"/>
<path fill="#1a53a3" d="M5686 5314l37-1l16-32l-37 2zM5723 5313l37 0l16-33l-37 1zM5760 5313l38 3l16-34l-38-2zM5798 5316l38 5l15-35l-37-4z"/>
<path fill="#1b6093" d="M5836 5321l37 6l16-35l-38-6zM5873 5327l38 9l16-37l-38-7zM5911 5336l39 10l15-38l-38-9z"/>
<path fill="#1a53a3" d="M5950 5346l38 11l15-38l-38-11zM5988 5357l38 13l16-39l-39-12zM6026 5370l39 15l15-40l-38-14zM6065 5385l38 15l16-41l-39-14z"/>
<path fill="#1946b3" d="M6103 5400l39 17l15-43l-38-15zM6142 5417l38 17l16-44l-39-16zM6180 5434l39 18l16-45l-39-17z"/>
<path fill="#1739c3" d="M6219 5452l39 18l16-46l-39-17zM6258 5470l39 18l16-46l-39-18zM6297 5488l39 19l16-47l-39-18z"/>
<path fill="#162cd3" d="M6336 5507l39 20l16-49l-39-18zM6375 5527l40 19l15-49l-39-19z"/>
<path fill="#151fe3" d="M6415 5546l39 20l15-50l-39-19zM6454 5566l39 21l16-51l-40-20z"/>
<path fill="#1414ee" d="M6493 5587l40 21l15-51l-39-21zM6533 5608l39 22l16-52l-40-21z"/>
<path fill="#1313e1" d="M6572 5630l40 23l15-52l-39-23zM6612 5653l40 23l15-52l-40-23z"/>
<path fill="#1212d3" d="M6652 5676l39 24l15-51l-39-25zM6691 5700l40 26l15-52l-40-25z"/>
<path fill="#1111c6" d="M6731 5726l40 25l15-50l-40-27z"/>
<path fill="#1010b9" d="M6771 5751l39 26l15-49l-39-27zM6810 5777l40 26l15-48l-40-27z"/>
<path fill="#0f0fab" d="M6850 5803l40 23l15-47l-40-24zM4996 5458l33-9l17-28l-34 9zM5029 5449l34-9l17-27l-34 8z"/>
<path fill="#1010b9" d="M5063 5440l35-6l17-26l-35 5zM5098 5434l34-4l17-25l-34 3z"/>
<path fill="#1111c6" d="M5132 5430l35-4l17-24l-35 3zM5167 5426l35-3l17-25l-35 4z"/>
<path fill="#1212d3" d="M5202 5423l35-5l17-24l-35 4zM5237 5418l35-5l17-24l-35 5zM5272 5413l35-6l17-24l-35 6z"/>
<path fill="#1313e1" d="M5307 5407l36-7l16-24l-35 7z"/>
<path fill="#1414ee" d="M5343 5400l35-8l17-24l-36 8zM5378 5392l36-8l17-25l-36 9z"/>
<path fill="#151fe3" d="M5414 5384l36-8l16-25l-35 8zM5450 5376l36-7l16-27l-36 9z"/>
<path fill="#162cd3" d="M5486 5369l36-7l17-28l-37 8zM5522 5362l37-7l16-28l-36 7z"/>
<path fill="#1739c3" d="M5559 5355l37-5l16-29l-37 6zM5596 5350l36-4l17-29l-37 4z"/>
<path fill="#1946b3" d="M5632 5346l38-2l16-30l-37 3zM5670 5344l37 0l16-31l-37 1zM5707 5344l37 1l16-32l-37 0z"/>
<path fill="#1a53a3" d="M5744 5345l38 4l16-33l-38-3zM5782 5349l38 5l16-33l-38-5zM5820 5354l38 8l15-35l-37-6zM5858 5362l38 9l15-35l-38-9zM5896 5371l38 11l16-36l-39-10zM5934 5382l38 13l16-38l-38-11z"/>
<path fill="#1946b3" d="M5972 5395l38 14l16-39l-38-13zM6010 5409l39 15l16-39l-39-15zM6049 5424l39 17l15-41l-38-15z"/>
<path fill="#1739c3" d="M6088 5441l38 17l16-41l-39-17zM6126 5458l39 18l15-42l-38-17zM6165 5476l39 19l15-43l-39-18z"/>
<path fill="#162cd3" d="M6204 5495l39 19l15-44l-39-18zM6243 5514l39 20l15-46l-39-18z"/>
<path fill="#151fe3" d="M6282 5534l39 21l15-48l-39-19zM6321 5555l39 22l15-50l-39-20z"/>
<path fill="#1414ee" d="M6360 5577l39 21l16-52l-40-19zM6399 5598l40 20l15-52l-39-20zM6439 5618l39 20l15-51l-39-21z"/>
<path fill="#1313e1" d="M6478 5638l40 21l15-51l-40-21zM6518 5659l39 22l15-51l-39-22z"/>
<path fill="#1212d3" d="M6557 5681l40 23l15-51l-40-23z"/>
<path fill="#1111c6" d="M6597 5704l39 23l16-51l-40-23zM6636 5727l40 24l15-51l-39-24z"/>
<path fill="#1010b9" d="M6676 5751l40 25l15-50l-40-26zM6716 5776l40 25l15-50l-40-25z"/>
<path fill="#0f0fab" d="M6756 5801l40 25l14-49l-39-26z"/>
<path fill="#0e0e9e" d="M6796 5826l39 24l15-47l-40-26zM6835 5850l41 22l14-46l-40-23zM4979 5485l33-10l17-26l-33 9z"/>
<path fill="#0f0fab" d="M5012 5475l34-9l17-26l-34 9zM5046 5466l35-7l17-25l-35 6z"/>
<path fill="#1010b9" d="M5081 5459l34-5l17-24l-34 4zM5115 5454l35-4l17-24l-35 4z"/>
<path fill="#1111c6" d="M5150 5450l35-4l17-23l-35 3zM5185 5446l35-5l17-23l-35 5z"/>
<path fill="#1212d3" d="M5220 5441l35-5l17-23l-35 5zM5255 5436l36-6l16-23l-35 6z"/>
<path fill="#1313e1" d="M5291 5430l35-7l17-23l-36 7zM5326 5423l36-7l16-24l-35 8z"/>
<path fill="#1414ee" d="M5362 5416l35-7l17-25l-36 8zM5397 5409l36-8l17-25l-36 8z"/>
<path fill="#151fe3" d="M5433 5401l37-7l16-25l-36 7zM5470 5394l36-6l16-26l-36 7z"/>
<path fill="#162cd3" d="M5506 5388l36-6l17-27l-37 7zM5542 5382l37-4l17-28l-37 5z"/>
<path fill="#1739c3" d="M5579 5378l37-3l16-29l-36 4zM5616 5375l37-1l17-30l-38 2z"/>
<path fill="#1946b3" d="M5653 5374l38 0l16-30l-37 0zM5691 5374l37 3l16-32l-37-1zM5728 5377l38 4l16-32l-38-4zM5766 5381l38 6l16-33l-38-5zM5804 5387l38 8l16-33l-38-8zM5842 5395l38 11l16-35l-38-9zM5880 5406l38 12l16-36l-38-11zM5918 5418l38 13l16-36l-38-13z"/>
<path fill="#1739c3" d="M5956 5431l39 15l15-37l-38-14zM5995 5446l38 16l16-38l-39-15zM6033 5462l39 18l16-39l-39-17z"/>
<path fill="#162cd3" d="M6072 5480l39 18l15-40l-38-17zM6111 5498l38 20l16-42l-39-18zM6149 5518l39 20l16-43l-39-19z"/>
<path fill="#151fe3" d="M6188 5538l39 20l16-44l-39-19zM6227 5558l39 21l16-45l-39-20z"/>
<path fill="#1414ee" d="M6266 5579l39 23l16-47l-39-21zM6305 5602l40 24l15-49l-39-22z"/>
<path fill="#1313e1" d="M6345 5626l39 22l15-50l-39-21zM6384 5648l39 20l16-50l-40-20z"/>
<path fill="#1212d3" d="M6423 5668l40 20l15-50l-39-20zM6463 5688l39 21l16-50l-40-21z"/>
<path fill="#1111c6" d="M6502 5709l40 22l15-50l-39-22zM6542 5731l39 23l16-50l-40-23z"/>
<path fill="#1010b9" d="M6581 5754l40 23l15-50l-39-23zM6621 5777l40 24l15-50l-40-24z"/>
<path fill="#0f0fab" d="M6661 5801l40 23l15-48l-40-25z"/>
<path fill="#0e0e9e" d="M6701 5824l40 25l15-48l-40-25zM6741 5849l40 23l15-46l-40-25z"/>
<path fill="#150f97" d="M6781 5872l40 24l14-46l-39-24zM6821 5896l40 21l15-45l-41-22z"/>
<path fill="#0e0e9e" d="M4961 5510l34-10l17-25l-33 10zM4995 5500l34-10l17-24l-34 9z"/>
<path fill="#0f0fab" d="M5029 5490l35-7l17-24l-35 7zM5064 5483l34-6l17-23l-34 5z"/>
<path fill="#1010b9" d="M5098 5477l35-5l17-22l-35 4zM5133 5472l35-4l17-22l-35 4z"/>
<path fill="#1111c6" d="M5168 5468l35-5l17-22l-35 5zM5203 5463l35-5l17-22l-35 5z"/>
<path fill="#1212d3" d="M5238 5458l36-6l17-22l-36 6zM5274 5452l35-6l17-23l-35 7z"/>
<path fill="#1313e1" d="M5309 5446l36-7l17-23l-36 7zM5345 5439l36-7l16-23l-35 7z"/>
<path fill="#1414ee" d="M5381 5432l36-7l16-24l-36 8zM5417 5425l36-6l17-25l-37 7z"/>
<path fill="#151fe3" d="M5453 5419l36-6l17-25l-36 6zM5489 5413l37-4l16-27l-36 6z"/>
<path fill="#162cd3" d="M5526 5409l37-4l16-27l-37 4zM5563 5405l37-2l16-28l-37 3z"/>
<path fill="#1739c3" d="M5600 5403l37 0l16-29l-37 1zM5637 5403l37 1l17-30l-38 0zM5674 5404l38 3l16-30l-37-3zM5712 5407l38 5l16-31l-38-4zM5750 5412l38 7l16-32l-38-6zM5788 5419l38 9l16-33l-38-8zM5826 5428l38 11l16-33l-38-11zM5864 5439l38 13l16-34l-38-12zM5902 5452l39 15l15-36l-38-13zM5941 5467l38 16l16-37l-39-15z"/>
<path fill="#162cd3" d="M5979 5483l39 17l15-38l-38-16zM6018 5500l38 18l16-38l-39-18zM6056 5518l39 20l16-40l-39-18z"/>
<path fill="#151fe3" d="M6095 5538l39 20l15-40l-38-20zM6134 5558l39 21l15-41l-39-20z"/>
<path fill="#1414ee" d="M6173 5579l39 22l15-43l-39-20zM6212 5601l39 22l15-44l-39-21z"/>
<path fill="#1313e1" d="M6251 5623l39 23l15-44l-39-23zM6290 5646l39 23l16-43l-40-24z"/>
<path fill="#1212d3" d="M6329 5669l40 22l15-43l-39-22z"/>
<path fill="#1111c6" d="M6369 5691l39 22l15-45l-39-20zM6408 5713l39 22l16-47l-40-20z"/>
<path fill="#1010b9" d="M6447 5735l40 22l15-48l-39-21zM6487 5757l40 23l15-49l-40-22z"/>
<path fill="#0f0fab" d="M6527 5780l39 23l15-49l-39-23zM6566 5803l40 23l15-49l-40-23z"/>
<path fill="#0e0e9e" d="M6606 5826l40 23l15-48l-40-24zM6646 5849l40 23l15-48l-40-23z"/>
<path fill="#150f97" d="M6686 5872l40 23l15-46l-40-25zM6726 5895l40 23l15-46l-40-23z"/>
<path fill="#1e0f91" d="M6766 5918l40 22l15-44l-40-24zM6806 5940l40 19l15-42l-40-21z"/>
<path fill="#150f97" d="M4944 5534l34-11l17-23l-34 10z"/>
<path fill="#0e0e9e" d="M4978 5523l34-10l17-23l-34 10zM5012 5513l34-8l18-22l-35 7z"/>
<path fill="#0f0fab" d="M5046 5505l35-6l17-22l-34 6z"/>
<path fill="#1010b9" d="M5081 5499l35-5l17-22l-35 5zM5116 5494l35-5l17-21l-35 4zM5151 5489l35-5l17-21l-35 5z"/>
<path fill="#1111c6" d="M5186 5484l35-5l17-21l-35 5zM5221 5479l36-6l17-21l-36 6z"/>
<path fill="#1212d3" d="M5257 5473l35-6l17-21l-35 6zM5292 5467l36-6l17-22l-36 7z"/>
<path fill="#1313e1" d="M5328 5461l36-7l17-22l-36 7z"/>
<path fill="#1414ee" d="M5364 5454l36-5l17-24l-36 7zM5400 5449l36-6l17-24l-36 6z"/>
<path fill="#151fe3" d="M5436 5443l37-5l16-25l-36 6zM5473 5438l36-4l17-25l-37 4zM5509 5434l37-2l17-27l-37 4z"/>
<path fill="#162cd3" d="M5546 5432l37-1l17-28l-37 2zM5583 5431l38 0l16-28l-37 0zM5621 5431l37 2l16-29l-37-1z"/>
<path fill="#1739c3" d="M5658 5433l38 4l16-30l-38-3zM5696 5437l38 6l16-31l-38-5zM5734 5443l38 8l16-32l-38-7zM5772 5451l38 10l16-33l-38-9zM5810 5461l38 11l16-33l-38-11z"/>
<path fill="#162cd3" d="M5848 5472l38 14l16-34l-38-13zM5886 5486l39 15l16-34l-39-15zM5925 5501l38 17l16-35l-38-16z"/>
<path fill="#151fe3" d="M5963 5518l39 18l16-36l-39-17zM6002 5536l39 20l15-38l-38-18zM6041 5556l38 20l16-38l-39-20z"/>
<path fill="#1414ee" d="M6079 5576l39 21l16-39l-39-20zM6118 5597l39 22l16-40l-39-21z"/>
<path fill="#1313e1" d="M6157 5619l39 23l16-41l-39-22zM6196 5642l39 23l16-42l-39-22z"/>
<path fill="#1212d3" d="M6235 5665l40 23l15-42l-39-23z"/>
<path fill="#1111c6" d="M6275 5688l39 24l15-43l-39-23zM6314 5712l39 23l16-44l-40-22z"/>
<path fill="#1010b9" d="M6353 5735l40 23l15-45l-39-22zM6393 5758l39 23l15-46l-39-22z"/>
<path fill="#0f0fab" d="M6432 5781l40 24l15-48l-40-22zM6472 5805l39 23l16-48l-40-23z"/>
<path fill="#0e0e9e" d="M6511 5828l40 23l15-48l-39-23zM6551 5851l40 22l15-47l-40-23z"/>
<path fill="#150f97" d="M6591 5873l40 23l15-47l-40-23zM6631 5896l40 22l15-46l-40-23z"/>
<path fill="#1e0f91" d="M6671 5918l40 22l15-45l-40-23zM6711 5940l40 22l15-44l-40-23z"/>
<path fill="#27108c" d="M6751 5962l40 20l15-42l-40-22zM6791 5982l41 19l14-42l-40-19z"/>
<path fill="#150f97" d="M4927 5556l34-11l17-22l-34 11zM4961 5545l34-11l17-21l-34 10z"/>
<path fill="#0e0e9e" d="M4995 5534l34-8l17-21l-34 8z"/>
<path fill="#0f0fab" d="M5029 5526l35-6l17-21l-35 6zM5064 5520l34-6l18-20l-35 5z"/>
<path fill="#1010b9" d="M5098 5514l35-5l18-20l-35 5zM5133 5509l36-5l17-20l-35 5z"/>
<path fill="#1111c6" d="M5169 5504l35-6l17-19l-35 5zM5204 5498l35-5l18-20l-36 6z"/>
<path fill="#1212d3" d="M5239 5493l36-6l17-20l-35 6zM5275 5487l36-5l17-21l-36 6z"/>
<path fill="#1313e1" d="M5311 5482l36-6l17-22l-36 7zM5347 5476l36-5l17-22l-36 5z"/>
<path fill="#1414ee" d="M5383 5471l36-5l17-23l-36 6zM5419 5466l37-4l17-24l-37 5z"/>
<path fill="#151fe3" d="M5456 5462l37-3l16-25l-36 4zM5493 5459l37-1l16-26l-37 2zM5530 5458l37-1l16-26l-37 1z"/>
<path fill="#162cd3" d="M5567 5457l37 2l17-28l-38 0zM5604 5459l38 3l16-29l-37-2zM5642 5462l38 4l16-29l-38-4zM5680 5466l37 7l17-30l-38-6zM5717 5473l38 9l17-31l-38-8zM5755 5482l39 10l16-31l-38-10zM5794 5492l38 13l16-33l-38-11zM5832 5505l38 14l16-33l-38-14z"/>
<path fill="#151fe3" d="M5870 5519l39 16l16-34l-39-15zM5909 5535l38 18l16-35l-38-17zM5947 5553l39 19l16-36l-39-18z"/>
<path fill="#1414ee" d="M5986 5572l39 20l16-36l-39-20zM6025 5592l39 21l15-37l-38-20z"/>
<path fill="#1313e1" d="M6064 5613l39 23l15-39l-39-21zM6103 5636l39 23l15-40l-39-22z"/>
<path fill="#1212d3" d="M6142 5659l39 23l15-40l-39-23zM6181 5682l39 24l15-41l-39-23z"/>
<path fill="#1111c6" d="M6220 5706l39 25l16-43l-40-23z"/>
<path fill="#1010b9" d="M6259 5731l39 24l16-43l-39-24zM6298 5755l40 24l15-44l-39-23z"/>
<path fill="#0f0fab" d="M6338 5779l39 24l16-45l-40-23zM6377 5803l40 24l15-46l-39-23z"/>
<path fill="#0e0e9e" d="M6417 5827l39 24l16-46l-40-24zM6456 5851l40 23l15-46l-39-23z"/>
<path fill="#150f97" d="M6496 5874l40 23l15-46l-40-23z"/>
<path fill="#1e0f91" d="M6536 5897l40 22l15-46l-40-22zM6576 5919l40 22l15-45l-40-23z"/>
<path fill="#27108c" d="M6616 5941l40 22l15-45l-40-22zM6656 5963l40 20l15-43l-40-22z"/>
<path fill="#2d118c" d="M6696 5983l40 21l15-42l-40-22zM6736 6004l41 19l14-41l-40-20zM6777 6023l40 17l15-39l-41-19z"/>
<path fill="#1e0f91" d="M4909 5577l34-11l18-21l-34 11z"/>
<path fill="#150f97" d="M4943 5566l34-11l18-21l-34 11z"/>
<path fill="#0e0e9e" d="M4977 5555l34-9l18-20l-34 8zM5011 5546l35-7l18-19l-35 6z"/>
<path fill="#0f0fab" d="M5046 5539l35-6l17-19l-34 6z"/>
<path fill="#1010b9" d="M5081 5533l35-5l17-19l-35 5zM5116 5528l35-6l18-18l-36 5zM5151 5522l36-5l17-19l-35 6z"/>
<path fill="#1111c6" d="M5187 5517l35-5l17-19l-35 5zM5222 5512l36-5l17-20l-36 6z"/>
<path fill="#1212d3" d="M5258 5507l36-5l17-20l-36 5zM5294 5502l36-5l17-21l-36 6z"/>
<path fill="#1313e1" d="M5330 5497l36-4l17-22l-36 5zM5366 5493l37-4l16-23l-36 5z"/>
<path fill="#1414ee" d="M5403 5489l36-3l17-24l-37 4zM5439 5486l37-2l17-25l-37 3z"/>
<path fill="#151fe3" d="M5476 5484l37-1l17-25l-37 1zM5513 5483l37 1l17-27l-37 1zM5550 5484l38 2l16-27l-37-2zM5588 5486l37 4l17-28l-38-3zM5625 5490l38 5l17-29l-38-4zM5663 5495l38 8l16-30l-37-7zM5701 5503l38 9l16-30l-38-9zM5739 5512l38 11l17-31l-39-10zM5777 5523l39 14l16-32l-38-13zM5816 5537l38 15l16-33l-38-14zM5854 5552l39 16l16-33l-39-16z"/>
<path fill="#1414ee" d="M5893 5568l38 19l16-34l-38-18zM5931 5587l39 19l16-34l-39-19z"/>
<path fill="#1313e1" d="M5970 5606l39 22l16-36l-39-20zM6009 5628l39 22l16-37l-39-21z"/>
<path fill="#1212d3" d="M6048 5650l39 23l16-37l-39-23zM6087 5673l39 24l16-38l-39-23z"/>
<path fill="#1111c6" d="M6126 5697l39 25l16-40l-39-23zM6165 5722l39 25l16-41l-39-24z"/>
<path fill="#1010b9" d="M6204 5747l40 25l15-41l-39-25z"/>
<path fill="#0f0fab" d="M6244 5772l39 25l15-42l-39-24zM6283 5797l39 25l16-43l-40-24z"/>
<path fill="#0e0e9e" d="M6322 5822l40 25l15-44l-39-24zM6362 5847l39 24l16-44l-40-24z"/>
<path fill="#150f97" d="M6401 5871l40 24l15-44l-39-24z"/>
<path fill="#1e0f91" d="M6441 5895l40 24l15-45l-40-23zM6481 5919l40 22l15-44l-40-23z"/>
<path fill="#27108c" d="M6521 5941l39 22l16-44l-40-22zM6560 5963l41 22l15-44l-40-22z"/>
<path fill="#2d118c" d="M6601 5985l40 20l15-42l-40-22zM6641 6005l40 20l15-42l-40-20zM6681 6025l40 19l15-40l-40-21z"/>
<path fill="#33118c" d="M6721 6044l41 18l15-39l-41-19zM6762 6062l41 16l14-38l-40-17z"/>
<path fill="#1e0f91" d="M4891 5596l34-11l18-19l-34 11z"/>
<path fill="#150f97" d="M4925 5585l34-11l18-19l-34 11z"/>
<path fill="#0e0e9e" d="M4959 5574l35-10l17-18l-34 9zM4994 5564l34-7l18-18l-35 7z"/>
<path fill="#0f0fab" d="M5028 5557l35-6l18-18l-35 6zM5063 5551l35-6l18-17l-35 5z"/>
<path fill="#1010b9" d="M5098 5545l36-5l17-18l-35 6zM5134 5540l35-5l18-18l-36 5z"/>
<path fill="#1111c6" d="M5169 5535l36-4l17-19l-35 5zM5205 5531l35-5l18-19l-36 5z"/>
<path fill="#1212d3" d="M5240 5526l36-4l18-20l-36 5zM5276 5522l37-4l17-21l-36 5z"/>
<path fill="#1313e1" d="M5313 5518l36-4l17-21l-36 4zM5349 5514l37-2l17-23l-37 4zM5386 5512l36-2l17-24l-36 3z"/>
<path fill="#1414ee" d="M5422 5510l37-1l17-25l-37 2zM5459 5509l37 0l17-26l-37 1zM5496 5509l38 1l16-26l-37-1z"/>
<path fill="#151fe3" d="M5534 5510l37 3l17-27l-38-2zM5571 5513l38 5l16-28l-37-4zM5609 5518l38 6l16-29l-38-5zM5647 5524l38 8l16-29l-38-8zM5685 5532l38 10l16-30l-38-9zM5723 5542l38 12l16-31l-38-11zM5761 5554l38 14l17-31l-39-14z"/>
<path fill="#1414ee" d="M5799 5568l39 16l16-32l-38-15zM5838 5584l39 17l16-33l-39-16zM5877 5601l38 19l16-33l-38-19z"/>
<path fill="#1313e1" d="M5915 5620l39 20l16-34l-39-19zM5954 5640l39 22l16-34l-39-22z"/>
<path fill="#1212d3" d="M5993 5662l39 23l16-35l-39-22zM6032 5685l39 25l16-37l-39-23z"/>
<path fill="#1111c6" d="M6071 5710l39 24l16-37l-39-24z"/>
<path fill="#1010b9" d="M6110 5734l39 26l16-38l-39-25zM6149 5760l40 26l15-39l-39-25z"/>
<path fill="#0f0fab" d="M6189 5786l39 26l16-40l-40-25z"/>
<path fill="#0e0e9e" d="M6228 5812l39 26l16-41l-39-25zM6267 5838l40 26l15-42l-39-25z"/>
<path fill="#150f97" d="M6307 5864l39 25l16-42l-40-25zM6346 5889l40 25l15-43l-39-24z"/>
<path fill="#1e0f91" d="M6386 5914l40 24l15-43l-40-24z"/>
<path fill="#27108c" d="M6426 5938l39 24l16-43l-40-24zM6465 5962l40 22l16-43l-40-22z"/>
<path fill="#2d118c" d="M6505 5984l40 22l15-43l-39-22zM6545 6006l40 20l16-41l-41-22z"/>
<path fill="#33118c" d="M6585 6026l41 20l15-41l-40-20zM6626 6046l40 18l15-39l-40-20zM6666 6064l41 18l14-38l-40-19z"/>
<path fill="#3a128c" d="M6707 6082l40 17l15-37l-41-18zM6747 6099l41 15l15-36l-41-16z"/>
<path fill="#1e0f91" d="M4873 5613l34-11l18-17l-34 11z"/>
<path fill="#150f97" d="M4907 5602l34-11l18-17l-34 11z"/>
<path fill="#0e0e9e" d="M4941 5591l35-9l18-18l-35 10zM4976 5582l34-8l18-17l-34 7z"/>
<path fill="#0f0fab" d="M5010 5574l35-6l18-17l-35 6zM5045 5568l35-6l18-17l-35 6z"/>
<path fill="#1010b9" d="M5080 5562l36-5l18-17l-36 5zM5116 5557l35-4l18-18l-35 5z"/>
<path fill="#1111c6" d="M5151 5553l36-4l18-18l-36 4zM5187 5549l36-4l17-19l-35 5z"/>
<path fill="#1212d3" d="M5223 5545l36-4l17-19l-36 4zM5259 5541l36-3l18-20l-37 4zM5295 5538l37-2l17-22l-36 4z"/>
<path fill="#1313e1" d="M5332 5536l36-2l18-22l-37 2zM5368 5534l37-1l17-23l-36 2zM5405 5533l37 0l17-24l-37 1z"/>
<path fill="#1414ee" d="M5442 5533l37 1l17-25l-37 0zM5479 5534l38 2l17-26l-38-1zM5517 5536l37 4l17-27l-37-3zM5554 5540l38 5l17-27l-38-5zM5592 5545l38 7l17-28l-38-6zM5630 5552l38 9l17-29l-38-8zM5668 5561l38 11l17-30l-38-10zM5706 5572l39 12l16-30l-38-12zM5745 5584l38 15l16-31l-38-14zM5783 5599l39 16l16-31l-39-16z"/>
<path fill="#1313e1" d="M5822 5615l39 18l16-32l-39-17zM5861 5633l38 20l16-33l-38-19z"/>
<path fill="#1212d3" d="M5899 5653l39 21l16-34l-39-20zM5938 5674l39 23l16-35l-39-22z"/>
<path fill="#1111c6" d="M5977 5697l39 23l16-35l-39-23zM6016 5720l39 25l16-35l-39-25z"/>
<path fill="#1010b9" d="M6055 5745l40 26l15-37l-39-24zM6095 5771l39 26l15-37l-39-26z"/>
<path fill="#0f0fab" d="M6134 5797l39 27l16-38l-40-26z"/>
<path fill="#0e0e9e" d="M6173 5824l39 27l16-39l-39-26zM6212 5851l40 27l15-40l-39-26z"/>
<path fill="#150f97" d="M6252 5878l39 26l16-40l-40-26z"/>
<path fill="#1e0f91" d="M6291 5904l40 26l15-41l-39-25zM6331 5930l40 25l15-41l-40-25z"/>
<path fill="#27108c" d="M6371 5955l39 25l16-42l-40-24z"/>
<path fill="#2d118c" d="M6410 5980l40 23l15-41l-39-24zM6450 6003l40 22l15-41l-40-22z"/>
<path fill="#33118c" d="M6490 6025l40 21l15-40l-40-22zM6530 6046l40 20l15-40l-40-20zM6570 6066l41 18l15-38l-41-20z"/>
<path fill="#3a128c" d="M6611 6084l40 17l15-37l-40-18zM6651 6101l41 17l15-36l-41-18zM6692 6118l41 15l14-34l-40-17z"/>
<path fill="#3c128c" d="M6733 6133l41 14l14-33l-41-15z"/>
<path fill="#1e0f91" d="M4855 5629l34-11l18-16l-34 11z"/>
<path fill="#150f97" d="M4889 5618l34-11l18-16l-34 11zM4923 5607l35-10l18-15l-35 9z"/>
<path fill="#0e0e9e" d="M4958 5597l34-7l18-16l-34 8z"/>
<path fill="#0f0fab" d="M4992 5590l35-7l18-15l-35 6zM5027 5583l36-5l17-16l-35 6z"/>
<path fill="#1010b9" d="M5063 5578l35-5l18-16l-36 5zM5098 5573l36-4l17-16l-35 4z"/>
<path fill="#1111c6" d="M5134 5569l35-3l18-17l-36 4zM5169 5566l36-3l18-18l-36 4zM5205 5563l37-3l17-19l-36 4z"/>
<path fill="#1212d3" d="M5242 5560l36-2l17-20l-36 3zM5278 5558l36-2l18-20l-37 2zM5314 5556l37-1l17-21l-36 2z"/>
<path fill="#1313e1" d="M5351 5555l37 0l17-22l-37 1zM5388 5555l37 1l17-23l-37 0zM5425 5556l38 2l16-24l-37-1z"/>
<path fill="#1414ee" d="M5463 5558l37 4l17-26l-38-2zM5500 5562l38 4l16-26l-37-4zM5538 5566l37 7l17-28l-38-5zM5575 5573l38 7l17-28l-38-7zM5613 5580l39 10l16-29l-38-9zM5652 5590l38 11l16-29l-38-11zM5690 5601l38 13l17-30l-39-12z"/>
<path fill="#1313e1" d="M5728 5614l39 15l16-30l-38-15zM5767 5629l39 17l16-31l-39-16zM5806 5646l38 19l17-32l-39-18z"/>
<path fill="#1212d3" d="M5844 5665l39 20l16-32l-38-20zM5883 5685l39 22l16-33l-39-21z"/>
<path fill="#1111c6" d="M5922 5707l39 23l16-33l-39-23zM5961 5730l39 25l16-35l-39-23z"/>
<path fill="#1010b9" d="M6000 5755l40 25l15-35l-39-25z"/>
<path fill="#0f0fab" d="M6040 5780l39 27l16-36l-40-26zM6079 5807l39 27l16-37l-39-26z"/>
<path fill="#0e0e9e" d="M6118 5834l39 27l16-37l-39-27z"/>
<path fill="#150f97" d="M6157 5861l40 28l15-38l-39-27zM6197 5889l39 27l16-38l-40-27z"/>
<path fill="#1e0f91" d="M6236 5916l40 27l15-39l-39-26z"/>
<path fill="#27108c" d="M6276 5943l39 27l16-40l-40-26zM6315 5970l40 25l16-40l-40-25z"/>
<path fill="#2d118c" d="M6355 5995l40 24l15-39l-39-25zM6395 6019l40 24l15-40l-40-23z"/>
<path fill="#33118c" d="M6435 6043l40 21l15-39l-40-22zM6475 6064l40 20l15-38l-40-21z"/>
<path fill="#3a128c" d="M6515 6084l40 19l15-37l-40-20zM6555 6103l41 17l15-36l-41-18z"/>
<path fill="#3c128c" d="M6596 6120l41 16l14-35l-40-17zM6637 6136l40 15l15-33l-41-17zM6677 6151l41 14l15-32l-41-15zM6718 6165l42 13l14-31l-41-14z"/>
<path fill="#1e0f91" d="M4836 5642l34-10l19-14l-34 11z"/>
<path fill="#150f97" d="M4870 5632l35-11l18-14l-34 11zM4905 5621l34-9l19-15l-35 10z"/>
<path fill="#0e0e9e" d="M4939 5612l35-8l18-14l-34 7z"/>
<path fill="#0f0fab" d="M4974 5604l35-6l18-15l-35 7zM5009 5598l35-5l19-15l-36 5z"/>
<path fill="#1010b9" d="M5044 5593l36-4l18-16l-35 5zM5080 5589l36-4l18-16l-36 4zM5116 5585l36-2l17-17l-35 3z"/>
<path fill="#1111c6" d="M5152 5583l36-3l17-17l-36 3zM5188 5580l36-1l18-19l-37 3z"/>
<path fill="#1212d3" d="M5224 5579l36-2l18-19l-36 2zM5260 5577l37 0l17-21l-36 2zM5297 5577l37 0l17-22l-37 1z"/>
<path fill="#1313e1" d="M5334 5577l37 1l17-23l-37 0zM5371 5578l37 2l17-24l-37-1zM5408 5580l37 3l18-25l-38-2zM5445 5583l38 4l17-25l-37-4zM5483 5587l38 6l17-27l-38-4zM5521 5593l38 7l16-27l-37-7zM5559 5600l38 8l16-28l-38-7zM5597 5608l38 11l17-29l-39-10zM5635 5619l38 12l17-30l-38-11zM5673 5631l39 13l16-30l-38-13zM5712 5644l38 16l17-31l-39-15z"/>
<path fill="#1212d3" d="M5750 5660l39 17l17-31l-39-17zM5789 5677l39 19l16-31l-38-19zM5828 5696l39 21l16-32l-39-20z"/>
<path fill="#1111c6" d="M5867 5717l39 23l16-33l-39-22zM5906 5740l39 23l16-33l-39-23z"/>
<path fill="#1010b9" d="M5945 5763l39 26l16-34l-39-25z"/>
<path fill="#0f0fab" d="M5984 5789l40 26l16-35l-40-25zM6024 5815l39 27l16-35l-39-27z"/>
<path fill="#0e0e9e" d="M6063 5842l39 28l16-36l-39-27z"/>
<path fill="#150f97" d="M6102 5870l40 28l15-37l-39-27zM6142 5898l39 28l16-37l-40-28z"/>
<path fill="#1e0f91" d="M6181 5926l40 28l15-38l-39-27z"/>
<path fill="#27108c" d="M6221 5954l39 27l16-38l-40-27z"/>
<path fill="#2d118c" d="M6260 5981l40 27l15-38l-39-27zM6300 6008l40 25l15-38l-40-25z"/>
<path fill="#33118c" d="M6340 6033l40 24l15-38l-40-24zM6380 6057l40 23l15-37l-40-24z"/>
<path fill="#3a128c" d="M6420 6080l40 21l15-37l-40-21zM6460 6101l40 19l15-36l-40-20z"/>
<path fill="#3c128c" d="M6500 6120l41 18l14-35l-40-19zM6541 6138l40 16l15-34l-41-17zM6581 6154l41 14l15-32l-41-16zM6622 6168l41 13l14-30l-40-15z"/>
<path fill="#3f138d" d="M6663 6181l41 13l14-29l-41-14zM6704 6194l41 12l15-28l-42-13z"/>
<path fill="#1e0f91" d="M4818 5654l34-10l18-12l-34 10z"/>
<path fill="#150f97" d="M4852 5644l34-11l19-12l-35 11zM4886 5633l35-9l18-12l-34 9z"/>
<path fill="#0e0e9e" d="M4921 5624l35-7l18-13l-35 8z"/>
<path fill="#0f0fab" d="M4956 5617l35-6l18-13l-35 6zM4991 5611l35-4l18-14l-35 5z"/>
<path fill="#1010b9" d="M5026 5607l36-4l18-14l-36 4zM5062 5603l36-2l18-16l-36 4zM5098 5601l36-2l18-16l-36 2z"/>
<path fill="#1111c6" d="M5134 5599l36-2l18-17l-36 3zM5170 5597l36 0l18-18l-36 1zM5206 5597l37 0l17-20l-36 2z"/>
<path fill="#1212d3" d="M5243 5597l37 0l17-20l-37 0zM5280 5597l36 1l18-21l-37 0zM5316 5598l38 3l17-23l-37-1zM5354 5601l37 3l17-24l-37-2z"/>
<path fill="#1313e1" d="M5391 5604l37 4l17-25l-37-3zM5428 5608l38 5l17-26l-38-4zM5466 5613l38 6l17-26l-38-6zM5504 5619l38 8l17-27l-38-7zM5542 5627l38 9l17-28l-38-8zM5580 5636l38 11l17-28l-38-11zM5618 5647l39 13l16-29l-38-12z"/>
<path fill="#1212d3" d="M5657 5660l38 14l17-30l-39-13zM5695 5674l39 16l16-30l-38-16zM5734 5690l39 18l16-31l-39-17zM5773 5708l39 20l16-32l-39-19z"/>
<path fill="#1111c6" d="M5812 5728l39 21l16-32l-39-21zM5851 5749l39 23l16-32l-39-23z"/>
<path fill="#1010b9" d="M5890 5772l39 24l16-33l-39-23z"/>
<path fill="#0f0fab" d="M5929 5796l39 26l16-33l-39-26zM5968 5822l40 27l16-34l-40-26z"/>
<path fill="#0e0e9e" d="M6008 5849l39 27l16-34l-39-27z"/>
<path fill="#150f97" d="M6047 5876l39 29l16-35l-39-28zM6086 5905l40 28l16-35l-40-28z"/>
<path fill="#1e0f91" d="M6126 5933l39 29l16-36l-39-28z"/>
<path fill="#27108c" d="M6165 5962l40 28l16-36l-40-28z"/>
<path fill="#2d118c" d="M6205 5990l40 27l15-36l-39-27zM6245 6017l39 27l16-36l-40-27z"/>
<path fill="#33118c" d="M6284 6044l40 25l16-36l-40-25z"/>
<path fill="#3a128c" d="M6324 6069l40 24l16-36l-40-24zM6364 6093l40 22l16-35l-40-23z"/>
<path fill="#3c128c" d="M6404 6115l41 21l15-35l-40-21zM6445 6136l40 18l15-34l-40-19zM6485 6154l41 16l15-32l-41-18z"/>
<path fill="#3f138d" d="M6526 6170l40 15l15-31l-40-16zM6566 6185l41 13l15-30l-41-14zM6607 6198l41 11l15-28l-41-13zM6648 6209l42 12l14-27l-41-13zM6690 6221l41 11l14-26l-41-12z"/>
<path fill="#1e0f91" d="M4799 5663l34-9l19-10l-34 10z"/>
<path fill="#150f97" d="M4833 5654l34-10l19-11l-34 11z"/>
<path fill="#0e0e9e" d="M4867 5644l35-9l19-11l-35 9zM4902 5635l35-6l19-12l-35 7z"/>
<path fill="#0f0fab" d="M4937 5629l35-5l19-13l-35 6zM4972 5624l36-4l18-13l-35 4z"/>
<path fill="#1010b9" d="M5008 5620l36-3l18-14l-36 4zM5044 5617l35-2l19-14l-36 2zM5079 5615l37-1l18-15l-36 2z"/>
<path fill="#1111c6" d="M5116 5614l36 0l18-17l-36 2zM5152 5614l36 1l18-18l-36 0zM5188 5615l37 1l18-19l-37 0zM5225 5616l37 1l18-20l-37 0z"/>
<path fill="#1212d3" d="M5262 5617l37 3l17-22l-36-1zM5299 5620l37 3l18-22l-38-3zM5336 5623l38 4l17-23l-37-3zM5374 5627l37 5l17-24l-37-4zM5411 5632l38 6l17-25l-38-5zM5449 5638l38 8l17-27l-38-6zM5487 5646l38 8l17-27l-38-8zM5525 5654l38 10l17-28l-38-9zM5563 5664l38 12l17-29l-38-11zM5601 5676l39 13l17-29l-39-13zM5640 5689l38 15l17-30l-38-14zM5678 5704l39 17l17-31l-39-16z"/>
<path fill="#1111c6" d="M5717 5721l39 18l17-31l-39-18zM5756 5739l39 20l17-31l-39-20z"/>
<path fill="#1010b9" d="M5795 5759l39 22l17-32l-39-21zM5834 5781l39 23l17-32l-39-23z"/>
<path fill="#0f0fab" d="M5873 5804l40 25l16-33l-39-24zM5913 5829l39 26l16-33l-39-26z"/>
<path fill="#0e0e9e" d="M5952 5855l40 27l16-33l-40-27z"/>
<path fill="#150f97" d="M5992 5882l39 28l16-34l-39-27zM6031 5910l39 29l16-34l-39-29z"/>
<path fill="#1e0f91" d="M6070 5939l40 29l16-35l-40-28z"/>
<path fill="#27108c" d="M6110 5968l40 28l15-34l-39-29z"/>
<path fill="#2d118c" d="M6150 5996l39 29l16-35l-40-28zM6189 6025l40 27l16-35l-40-27z"/>
<path fill="#33118c" d="M6229 6052l40 27l15-35l-39-27z"/>
<path fill="#3a128c" d="M6269 6079l40 25l15-35l-40-25zM6309 6104l40 23l15-34l-40-24z"/>
<path fill="#3c128c" d="M6349 6127l40 21l15-33l-40-22zM6389 6148l40 20l16-32l-41-21z"/>
<path fill="#3f138d" d="M6429 6168l41 17l15-31l-40-18zM6470 6185l41 15l15-30l-41-16zM6511 6200l41 13l14-28l-40-15zM6552 6213l41 11l14-26l-41-13zM6593 6224l41 10l14-25l-41-11zM6634 6234l41 10l15-23l-42-12zM6675 6244l42 11l14-23l-41-11z"/>
<path fill="#1e0f91" d="M4779 5671l35-9l19-8l-34 9z"/>
<path fill="#150f97" d="M4814 5662l34-9l19-9l-34 10z"/>
<path fill="#0e0e9e" d="M4848 5653l35-8l19-10l-35 9zM4883 5645l35-6l19-10l-35 6z"/>
<path fill="#0f0fab" d="M4918 5639l36-4l18-11l-35 5zM4954 5635l35-3l19-12l-36 4z"/>
<path fill="#1010b9" d="M4989 5632l36-2l19-13l-36 3zM5025 5630l36 0l18-15l-35 2zM5061 5630l36 0l19-16l-37 1z"/>
<path fill="#1111c6" d="M5097 5630l37 1l18-17l-36 0zM5134 5631l36 1l18-17l-36-1zM5170 5632l37 3l18-19l-37-1zM5207 5635l37 2l18-20l-37-1z"/>
<path fill="#1212d3" d="M5244 5637l37 4l18-21l-37-3zM5281 5641l38 4l17-22l-37-3zM5319 5645l37 6l18-24l-38-4zM5356 5651l38 6l17-25l-37-5zM5394 5657l38 7l17-26l-38-6zM5432 5664l38 8l17-26l-38-8zM5470 5672l38 9l17-27l-38-8zM5508 5681l38 11l17-28l-38-10zM5546 5692l38 13l17-29l-38-12zM5584 5705l39 13l17-29l-39-13z"/>
<path fill="#1111c6" d="M5623 5718l39 16l16-30l-38-15zM5662 5734l39 17l16-30l-39-17zM5701 5751l39 19l16-31l-39-18z"/>
<path fill="#1010b9" d="M5740 5770l39 21l16-32l-39-20zM5779 5791l39 22l16-32l-39-22z"/>
<path fill="#0f0fab" d="M5818 5813l39 24l16-33l-39-23zM5857 5837l39 25l17-33l-40-25z"/>
<path fill="#0e0e9e" d="M5896 5862l40 27l16-34l-39-26z"/>
<path fill="#150f97" d="M5936 5889l39 27l17-34l-40-27zM5975 5916l40 28l16-34l-39-28z"/>
<path fill="#1e0f91" d="M6015 5944l39 29l16-34l-39-29z"/>
<path fill="#27108c" d="M6054 5973l40 29l16-34l-40-29z"/>
<path fill="#2d118c" d="M6094 6002l40 28l16-34l-40-28zM6134 6030l40 29l15-34l-39-29z"/>
<path fill="#33118c" d="M6174 6059l39 27l16-34l-40-27z"/>
<path fill="#3a128c" d="M6213 6086l40 26l16-33l-40-27zM6253 6112l40 24l16-32l-40-25z"/>
<path fill="#3c128c" d="M6293 6136l41 23l15-32l-40-23zM6334 6159l40 20l15-31l-40-21z"/>
<path fill="#3f138d" d="M6374 6179l40 18l15-29l-40-20zM6414 6197l41 16l15-28l-41-17zM6455 6213l41 14l15-27l-41-15zM6496 6227l41 11l15-25l-41-13z"/>
<path fill="#41138d" d="M6537 6238l41 10l15-24l-41-11zM6578 6248l41 8l15-22l-41-10zM6619 6256l42 9l14-21l-41-10zM6661 6265l42 9l14-19l-42-11z"/>
<path fill="#150f97" d="M4760 5676l34-8l20-6l-35 9zM4794 5668l35-9l19-6l-34 9z"/>
<path fill="#0e0e9e" d="M4829 5659l35-6l19-8l-35 8zM4864 5653l35-5l19-9l-35 6z"/>
<path fill="#0f0fab" d="M4899 5648l36-3l19-10l-36 4zM4935 5645l35-2l19-11l-35 3z"/>
<path fill="#1010b9" d="M4970 5643l36 0l19-13l-36 2zM5006 5643l37 0l18-13l-36 0zM5043 5643l36 2l18-15l-36 0z"/>
<path fill="#1111c6" d="M5079 5645l37 2l18-16l-37-1zM5116 5647l36 3l18-18l-36-1zM5152 5650l37 3l18-18l-37-3zM5189 5653l37 5l18-21l-37-2zM5226 5658l38 4l17-21l-37-4zM5264 5662l37 6l18-23l-38-4z"/>
<path fill="#1212d3" d="M5301 5668l38 6l17-23l-37-6zM5339 5674l37 7l18-24l-38-6zM5376 5681l38 8l18-25l-38-7zM5414 5689l38 9l18-26l-38-8zM5452 5698l39 11l17-28l-38-9z"/>
<path fill="#1111c6" d="M5491 5709l38 11l17-28l-38-11zM5529 5720l38 13l17-28l-38-13zM5567 5733l39 15l17-30l-39-13zM5606 5748l39 16l17-30l-39-16zM5645 5764l39 18l17-31l-39-17z"/>
<path fill="#1010b9" d="M5684 5782l39 19l17-31l-39-19zM5723 5801l39 22l17-32l-39-21z"/>
<path fill="#0f0fab" d="M5762 5823l39 22l17-32l-39-22zM5801 5845l40 24l16-32l-39-24z"/>
<path fill="#0e0e9e" d="M5841 5869l39 26l16-33l-39-25z"/>
<path fill="#150f97" d="M5880 5895l40 27l16-33l-40-27zM5920 5922l39 27l16-33l-39-27z"/>
<path fill="#1e0f91" d="M5959 5949l40 29l16-34l-40-28z"/>
<path fill="#27108c" d="M5999 5978l39 28l16-33l-39-29zM6038 6006l40 29l16-33l-40-29z"/>
<path fill="#2d118c" d="M6078 6035l40 29l16-34l-40-28z"/>
<path fill="#33118c" d="M6118 6064l40 27l16-32l-40-29z"/>
<path fill="#3a128c" d="M6158 6091l40 27l15-32l-39-27zM6198 6118l40 25l15-31l-40-26z"/>
<path fill="#3c128c" d="M6238 6143l40 24l15-31l-40-24zM6278 6167l40 21l16-29l-41-23z"/>
<path fill="#3f138d" d="M6318 6188l41 20l15-29l-40-20zM6359 6208l40 16l15-27l-40-18zM6399 6224l41 15l15-26l-41-16z"/>
<path fill="#41138d" d="M6440 6239l41 11l15-23l-41-14zM6481 6250l41 10l15-22l-41-11zM6522 6260l41 8l15-20l-41-10zM6563 6268l42 7l14-19l-41-8zM6605 6275l42 8l14-18l-42-9zM6647 6283l42 8l14-17l-42-9z"/>
<path fill="#150f97" d="M4740 5679l35-7l19-4l-34 8z"/>
<path fill="#0e0e9e" d="M4775 5672l34-8l20-5l-35 9zM4809 5664l36-5l19-6l-35 6z"/>
<path fill="#0f0fab" d="M4845 5659l35-4l19-7l-35 5zM4880 5655l36-1l19-9l-36 3zM4916 5654l36-1l18-10l-35 2z"/>
<path fill="#1010b9" d="M4952 5653l36 1l18-11l-36 0zM4988 5654l36 2l19-13l-37 0zM5024 5656l37 3l18-14l-36-2z"/>
<path fill="#1111c6" d="M5061 5659l36 4l19-16l-37-2zM5097 5663l37 4l18-17l-36-3zM5134 5667l37 5l18-19l-37-3zM5171 5672l37 6l18-20l-37-5zM5208 5678l38 6l18-22l-38-4zM5246 5684l37 6l18-22l-37-6zM5283 5690l38 8l18-24l-38-6zM5321 5698l38 8l17-25l-37-7zM5359 5706l38 9l17-26l-38-8zM5397 5715l38 10l17-27l-38-9zM5435 5725l38 11l18-27l-39-11zM5473 5736l39 13l17-29l-38-11zM5512 5749l38 14l17-30l-38-13zM5550 5763l39 15l17-30l-39-15z"/>
<path fill="#1010b9" d="M5589 5778l39 17l17-31l-39-16zM5628 5795l39 18l17-31l-39-18zM5667 5813l39 20l17-32l-39-19z"/>
<path fill="#0f0fab" d="M5706 5833l39 22l17-32l-39-22zM5745 5855l40 23l16-33l-39-22z"/>
<path fill="#0e0e9e" d="M5785 5878l39 24l17-33l-40-24z"/>
<path fill="#150f97" d="M5824 5902l40 26l16-33l-39-26zM5864 5928l39 27l17-33l-40-27z"/>
<path fill="#1e0f91" d="M5903 5955l40 28l16-34l-39-27z"/>
<path fill="#27108c" d="M5943 5983l40 28l16-33l-40-29zM5983 6011l39 29l16-34l-39-28z"/>
<path fill="#2d118c" d="M6022 6040l40 28l16-33l-40-29z"/>
<path fill="#33118c" d="M6062 6068l40 28l16-32l-40-29z"/>
<path fill="#3a128c" d="M6102 6096l40 27l16-32l-40-27zM6142 6123l40 26l16-31l-40-27z"/>
<path fill="#3c128c" d="M6182 6149l40 24l16-30l-40-25zM6222 6173l40 23l16-29l-40-24z"/>
<path fill="#3f138d" d="M6262 6196l41 20l15-28l-40-21zM6303 6216l40 17l16-25l-41-20z"/>
<path fill="#41138d" d="M6343 6233l41 16l15-25l-40-16zM6384 6249l41 12l15-22l-41-15zM6425 6261l41 10l15-21l-41-11zM6466 6271l41 8l15-19l-41-10zM6507 6279l42 6l14-17l-41-8zM6549 6285l42 6l14-16l-42-7zM6591 6291l42 6l14-14l-42-8zM6633 6297l42 8l14-14l-42-8z"/>
<path fill="#0e0e9e" d="M4720 5680l35-6l20-2l-35 7zM4755 5674l35-7l19-3l-34 8z"/>
<path fill="#0f0fab" d="M4790 5667l35-4l20-4l-36 5zM4825 5663l36-1l19-7l-35 4zM4861 5662l35-1l20-7l-36 1z"/>
<path fill="#1010b9" d="M4896 5661l36 2l20-10l-36 1zM4932 5663l37 2l19-11l-36-1zM4969 5665l36 4l19-13l-36-2zM5005 5669l37 5l19-15l-37-3zM5042 5674l37 5l18-16l-36-4z"/>
<path fill="#1111c6" d="M5079 5679l37 6l18-18l-37-4zM5116 5685l37 6l18-19l-37-5zM5153 5691l37 7l18-20l-37-6zM5190 5698l38 7l18-21l-38-6zM5228 5705l37 8l18-23l-37-6zM5265 5713l38 8l18-23l-38-8zM5303 5721l38 10l18-25l-38-8zM5341 5731l38 10l18-26l-38-9zM5379 5741l39 11l17-27l-38-10zM5418 5752l38 12l17-28l-38-11zM5456 5764l38 13l18-28l-39-13z"/>
<path fill="#1010b9" d="M5494 5777l39 15l17-29l-38-14zM5533 5792l39 16l17-30l-39-15zM5572 5808l39 18l17-31l-39-17z"/>
<path fill="#0f0fab" d="M5611 5826l39 19l17-32l-39-18zM5650 5845l39 20l17-32l-39-20zM5689 5865l40 22l16-32l-39-22z"/>
<path fill="#0e0e9e" d="M5729 5887l39 24l17-33l-40-23z"/>
<path fill="#150f97" d="M5768 5911l40 25l16-34l-39-24zM5808 5936l39 26l17-34l-40-26z"/>
<path fill="#1e0f91" d="M5847 5962l40 27l16-34l-39-27z"/>
<path fill="#27108c" d="M5887 5989l39 27l17-33l-40-28zM5926 6016l40 28l17-33l-40-28z"/>
<path fill="#2d118c" d="M5966 6044l40 28l16-32l-39-29z"/>
<path fill="#33118c" d="M6006 6072l40 28l16-32l-40-28zM6046 6100l40 28l16-32l-40-28z"/>
<path fill="#3a128c" d="M6086 6128l40 26l16-31l-40-27z"/>
<path fill="#3c128c" d="M6126 6154l40 24l16-29l-40-26zM6166 6178l40 23l16-28l-40-24z"/>
<path fill="#3f138d" d="M6206 6201l41 21l15-26l-40-23zM6247 6222l40 19l16-25l-41-20z"/>
<path fill="#41138d" d="M6287 6241l41 16l15-24l-40-17zM6328 6257l41 13l15-21l-41-16zM6369 6270l41 11l15-20l-41-12zM6410 6281l41 8l15-18l-41-10zM6451 6289l42 6l14-16l-41-8zM6493 6295l41 5l15-15l-42-6zM6534 6300l42 4l15-13l-42-6z"/>
<path fill="#3f138d" d="M6576 6304l42 4l15-11l-42-6zM6618 6308l43 7l14-10l-42-8z"/>
<path fill="#0e0e9e" d="M4699 5678l35-5l21 1l-35 6z"/>
<path fill="#0f0fab" d="M4734 5673l36-5l20-1l-35 7zM4770 5668l35-2l20-3l-35 4zM4805 5666l36 0l20-4l-36 1z"/>
<path fill="#1010b9" d="M4841 5666l36 2l19-7l-35 1zM4877 5668l36 3l19-8l-36-2zM4913 5671l37 5l19-11l-37-2zM4950 5676l36 5l19-12l-36-4zM4986 5681l37 7l19-14l-37-5zM5023 5688l37 6l19-15l-37-5z"/>
<path fill="#1111c6" d="M5060 5694l37 8l19-17l-37-6zM5097 5702l38 8l18-19l-37-6zM5135 5710l37 8l18-20l-37-7zM5172 5718l38 8l18-21l-38-7zM5210 5726l37 9l18-22l-37-8zM5247 5735l38 10l18-24l-38-8zM5285 5745l38 10l18-24l-38-10z"/>
<path fill="#1010b9" d="M5323 5755l39 12l17-26l-38-10zM5362 5767l38 12l18-27l-39-11zM5400 5779l38 13l18-28l-38-12zM5438 5792l39 14l17-29l-38-13zM5477 5806l39 16l17-30l-39-15zM5516 5822l39 17l17-31l-39-16z"/>
<path fill="#0f0fab" d="M5555 5839l39 18l17-31l-39-18zM5594 5857l39 20l17-32l-39-19z"/>
<path fill="#0e0e9e" d="M5633 5877l39 21l17-33l-39-20zM5672 5898l40 23l17-34l-40-22z"/>
<path fill="#150f97" d="M5712 5921l39 23l17-33l-39-24zM5751 5944l40 26l17-34l-40-25z"/>
<path fill="#1e0f91" d="M5791 5970l40 26l16-34l-39-26zM5831 5996l39 27l17-34l-40-27z"/>
<path fill="#27108c" d="M5870 6023l40 27l16-34l-39-27z"/>
<path fill="#2d118c" d="M5910 6050l40 28l16-34l-40-28z"/>
<path fill="#33118c" d="M5950 6078l40 27l16-33l-40-28zM5990 6105l40 27l16-32l-40-28z"/>
<path fill="#3a128c" d="M6030 6132l40 26l16-30l-40-28z"/>
<path fill="#3c128c" d="M6070 6158l40 25l16-29l-40-26zM6110 6183l40 24l16-29l-40-24z"/>
<path fill="#3f138d" d="M6150 6207l41 21l15-27l-40-23zM6191 6228l40 19l16-25l-41-21zM6231 6247l41 17l15-23l-40-19z"/>
<path fill="#41138d" d="M6272 6264l41 14l15-21l-41-16zM6313 6278l41 11l15-19l-41-13zM6354 6289l41 9l15-17l-41-11zM6395 6298l41 6l15-15l-41-8zM6436 6304l42 4l15-13l-42-6zM6478 6308l42 3l14-11l-41-5z"/>
<path fill="#3f138d" d="M6520 6311l42 2l14-9l-42-4zM6562 6313l42 3l14-8l-42-4zM6604 6316l43 6l14-7l-43-7z"/>
<path fill="#0f0fab" d="M4679 5675l35-4l20 2l-35 5zM4714 5671l35-3l21 0l-36 5z"/>
<path fill="#1010b9" d="M4749 5668l36 0l20-2l-35 2zM4785 5668l36 2l20-4l-36 0zM4821 5670l36 4l20-6l-36-2zM4857 5674l37 5l19-8l-36-3zM4894 5679l36 7l20-10l-37-5zM4930 5686l37 7l19-12l-36-5zM4967 5693l37 8l19-13l-37-7zM5004 5701l37 9l19-16l-37-6zM5041 5710l38 9l18-17l-37-8zM5079 5719l37 9l19-18l-38-8zM5116 5728l38 10l18-20l-37-8zM5154 5738l38 10l18-22l-38-8zM5192 5748l37 10l18-23l-37-9zM5229 5758l38 11l18-24l-38-10zM5267 5769l39 12l17-26l-38-10zM5306 5781l38 12l18-26l-39-12zM5344 5793l38 13l18-27l-38-12zM5382 5806l39 14l17-28l-38-13zM5421 5820l39 15l17-29l-39-14z"/>
<path fill="#0f0fab" d="M5460 5835l39 17l17-30l-39-16zM5499 5852l39 18l17-31l-39-17zM5538 5870l39 19l17-32l-39-18z"/>
<path fill="#0e0e9e" d="M5577 5889l39 20l17-32l-39-20zM5616 5909l39 22l17-33l-39-21z"/>
<path fill="#150f97" d="M5655 5931l40 23l17-33l-40-23zM5695 5954l39 25l17-35l-39-23z"/>
<path fill="#1e0f91" d="M5734 5979l40 25l17-34l-40-26zM5774 6004l40 26l17-34l-40-26z"/>
<path fill="#27108c" d="M5814 6030l40 27l16-34l-39-27z"/>
<path fill="#2d118c" d="M5854 6057l40 27l16-34l-40-27z"/>
<path fill="#33118c" d="M5894 6084l39 27l17-33l-40-28zM5933 6111l40 26l17-32l-40-27z"/>
<path fill="#3a128c" d="M5973 6137l41 26l16-31l-40-27zM6014 6163l40 25l16-30l-40-26z"/>
<path fill="#3c128c" d="M6054 6188l40 24l16-29l-40-25z"/>
<path fill="#3f138d" d="M6094 6212l40 21l16-26l-40-24zM6134 6233l41 20l16-25l-41-21zM6175 6253l40 17l16-23l-40-19z"/>
<path fill="#41138d" d="M6215 6270l41 14l16-20l-41-17zM6256 6284l41 12l16-18l-41-14zM6297 6296l41 9l16-16l-41-11zM6338 6305l42 7l15-14l-41-9zM6380 6312l41 4l15-12l-41-6zM6421 6316l42 2l15-10l-42-4z"/>
<path fill="#3f138d" d="M6463 6318l42 1l15-8l-42-3zM6505 6319l43 0l14-6l-42-2zM6548 6319l42 2l14-5l-42-3zM6590 6321l43 5l14-4l-43-6z"/>
<path fill="#0f0fab" d="M4658 5671l35-3l21 3l-35 4z"/>
<path fill="#1010b9" d="M4693 5668l36-2l20 2l-35 3zM4729 5666l36 2l20 0l-36 0zM4765 5668l36 4l20-2l-36-2zM4801 5672l36 6l20-4l-36-4z"/>
<path fill="#1111c6" d="M4837 5678l37 8l20-7l-37-5zM4874 5686l37 9l19-9l-36-7zM4911 5695l37 10l19-12l-37-7zM4948 5705l37 10l19-14l-37-8zM4985 5715l38 11l18-16l-37-9z"/>
<path fill="#1010b9" d="M5023 5726l37 10l19-17l-38-9zM5060 5736l38 11l18-19l-37-9zM5098 5747l37 11l19-20l-38-10zM5135 5758l38 11l19-21l-38-10zM5173 5769l38 12l18-23l-37-10zM5211 5781l38 12l18-24l-38-11zM5249 5793l39 13l18-25l-39-12zM5288 5806l38 13l18-26l-38-12zM5326 5819l39 14l17-27l-38-13z"/>
<path fill="#0f0fab" d="M5365 5833l38 15l18-28l-39-14zM5403 5848l39 17l18-30l-39-15zM5442 5865l39 17l18-30l-39-17z"/>
<path fill="#0e0e9e" d="M5481 5882l39 19l18-31l-39-18zM5520 5901l40 20l17-32l-39-19zM5560 5921l39 21l17-33l-39-20z"/>
<path fill="#150f97" d="M5599 5942l39 23l17-34l-39-22zM5638 5965l40 23l17-34l-40-23z"/>
<path fill="#1e0f91" d="M5678 5988l40 25l16-34l-39-25z"/>
<path fill="#27108c" d="M5718 6013l39 26l17-35l-40-25zM5757 6039l40 26l17-35l-40-26z"/>
<path fill="#2d118c" d="M5797 6065l40 26l17-34l-40-27zM5837 6091l40 26l17-33l-40-27z"/>
<path fill="#33118c" d="M5877 6117l40 27l16-33l-39-27z"/>
<path fill="#3a128c" d="M5917 6144l40 25l16-32l-40-26zM5957 6169l40 25l17-31l-41-26z"/>
<path fill="#3c128c" d="M5997 6194l40 23l17-29l-40-25zM6037 6217l41 22l16-27l-40-24z"/>
<path fill="#3f138d" d="M6078 6239l40 19l16-25l-40-21zM6118 6258l41 18l16-23l-41-20z"/>
<path fill="#41138d" d="M6159 6276l41 15l15-21l-40-17zM6200 6291l41 12l15-19l-41-14zM6241 6303l41 9l15-16l-41-12zM6282 6312l41 7l15-14l-41-9zM6323 6319l42 4l15-11l-42-7zM6365 6323l41 2l15-9l-41-4z"/>
<path fill="#3f138d" d="M6406 6325l42 0l15-7l-42-2zM6448 6325l43-1l14-5l-42-1zM6491 6324l42-1l15-4l-43 0z"/>
<path fill="#3c128c" d="M6533 6323l43 1l14-3l-42-2zM6576 6324l43 4l14-2l-43-5z"/>
<path fill="#1010b9" d="M4637 5664l35-2l21 6l-35 3zM4672 5662l36 0l21 4l-36 2z"/>
<path fill="#1111c6" d="M4708 5662l36 4l21 2l-36-2zM4744 5666l37 7l20-1l-36-4zM4781 5673l36 10l20-5l-36-6zM4817 5683l37 10l20-7l-37-8zM4854 5693l37 12l20-10l-37-9zM4891 5705l38 12l19-12l-37-10zM4929 5717l37 12l19-14l-37-10zM4966 5729l38 12l19-15l-38-11z"/>
<path fill="#1010b9" d="M5004 5741l37 13l19-18l-37-10zM5041 5754l38 12l19-19l-38-11zM5079 5766l38 13l18-21l-37-11zM5117 5779l38 12l18-22l-38-11zM5155 5791l38 13l18-23l-38-12zM5193 5804l38 13l18-24l-38-12zM5231 5817l39 14l18-25l-39-13z"/>
<path fill="#0f0fab" d="M5270 5831l38 15l18-27l-38-13zM5308 5846l39 15l18-28l-39-14zM5347 5861l39 16l17-29l-38-15zM5386 5877l39 18l17-30l-39-17z"/>
<path fill="#0e0e9e" d="M5425 5895l39 18l17-31l-39-17zM5464 5913l39 20l17-32l-39-19z"/>
<path fill="#150f97" d="M5503 5933l39 21l18-33l-40-20zM5542 5954l40 22l17-34l-39-21zM5582 5976l39 23l17-34l-39-23z"/>
<path fill="#1e0f91" d="M5621 5999l40 24l17-35l-40-23z"/>
<path fill="#27108c" d="M5661 6023l40 25l17-35l-40-25zM5701 6048l39 26l17-35l-39-26z"/>
<path fill="#2d118c" d="M5740 6074l40 25l17-34l-40-26zM5780 6099l40 26l17-34l-40-26z"/>
<path fill="#33118c" d="M5820 6125l40 26l17-34l-40-26z"/>
<path fill="#3a128c" d="M5860 6151l40 25l17-32l-40-27zM5900 6176l41 25l16-32l-40-25z"/>
<path fill="#3c128c" d="M5941 6201l40 23l16-30l-40-25zM5981 6224l40 21l16-28l-40-23z"/>
<path fill="#3f138d" d="M6021 6245l41 20l16-26l-41-22zM6062 6265l40 17l16-24l-40-19z"/>
<path fill="#41138d" d="M6102 6282l41 15l16-21l-41-18zM6143 6297l41 12l16-18l-41-15zM6184 6309l41 10l16-16l-41-12zM6225 6319l41 7l16-14l-41-9zM6266 6326l42 4l15-11l-41-7zM6308 6330l41 1l16-8l-42-4z"/>
<path fill="#3f138d" d="M6349 6331l42 0l15-6l-41-2zM6391 6331l43-2l14-4l-42 0z"/>
<path fill="#3c128c" d="M6434 6329l42-3l15-2l-43 1zM6476 6326l43-2l14-1l-42 1zM6519 6324l43 0l14 0l-43-1z"/>
<path fill="#3a128c" d="M6562 6324l43 3l14 1l-43-4z"/>
<path fill="#1111c6" d="M4615 5657l36-1l21 6l-35 2zM4651 5656l36 2l21 4l-36 0zM4687 5658l36 7l21 1l-36-4zM4723 5665l37 9l21-1l-37-7zM4760 5674l37 12l20-3l-36-10zM4797 5686l37 13l20-6l-37-10zM4834 5699l38 14l19-8l-37-12zM4872 5713l37 15l20-11l-38-12zM4909 5728l38 14l19-13l-37-12zM4947 5742l38 15l19-16l-38-12z"/>
<path fill="#1010b9" d="M4985 5757l37 14l19-17l-37-13zM5022 5771l38 14l19-19l-38-12zM5060 5785l38 14l19-20l-38-13zM5098 5799l38 14l19-22l-38-12zM5136 5813l39 14l18-23l-38-13z"/>
<path fill="#0f0fab" d="M5175 5827l38 15l18-25l-38-13zM5213 5842l39 15l18-26l-39-14zM5252 5857l38 15l18-26l-38-15zM5290 5872l39 17l18-28l-39-15z"/>
<path fill="#0e0e9e" d="M5329 5889l39 17l18-29l-39-16zM5368 5906l39 19l18-30l-39-18zM5407 5925l39 19l18-31l-39-18z"/>
<path fill="#150f97" d="M5446 5944l40 21l17-32l-39-20zM5486 5965l39 22l17-33l-39-21z"/>
<path fill="#1e0f91" d="M5525 5987l39 23l18-34l-40-22zM5564 6010l40 24l17-35l-39-23z"/>
<path fill="#27108c" d="M5604 6034l40 24l17-35l-40-24zM5644 6058l40 25l17-35l-40-25z"/>
<path fill="#2d118c" d="M5684 6083l39 26l17-35l-39-26z"/>
<path fill="#33118c" d="M5723 6109l40 25l17-35l-40-25zM5763 6134l40 26l17-35l-40-26z"/>
<path fill="#3a128c" d="M5803 6160l41 25l16-34l-40-26zM5844 6185l40 24l16-33l-40-25z"/>
<path fill="#3c128c" d="M5884 6209l40 22l17-30l-41-25zM5924 6231l40 21l17-28l-40-23z"/>
<path fill="#3f138d" d="M5964 6252l41 20l16-27l-40-21zM6005 6272l40 17l17-24l-41-20zM6045 6289l41 15l16-22l-40-17z"/>
<path fill="#41138d" d="M6086 6304l41 12l16-19l-41-15zM6127 6316l41 10l16-17l-41-12zM6168 6326l41 7l16-14l-41-10zM6209 6333l42 4l15-11l-41-7z"/>
<path fill="#3f138d" d="M6251 6337l41 1l16-8l-42-4zM6292 6338l42 0l15-7l-41-1zM6334 6338l42-3l15-4l-42 0z"/>
<path fill="#3c128c" d="M6376 6335l43-4l15-2l-43 2zM6419 6331l42-4l15-1l-42 3z"/>
<path fill="#3a128c" d="M6461 6327l43-4l15 1l-43 2zM6504 6323l43-2l15 3l-43 0zM6547 6321l44 2l14 4l-43-3z"/>
<path fill="#1212d3" d="M4593 5649l36 0l22 7l-36 1zM4629 5649l37 4l21 5l-36-2zM4666 5653l36 9l21 3l-36-7zM4702 5662l37 13l21-1l-37-9zM4739 5675l38 14l20-3l-37-12zM4777 5689l37 17l20-7l-37-13z"/>
<path fill="#1111c6" d="M4814 5706l38 16l20-9l-38-14zM4852 5722l38 17l19-11l-37-15zM4890 5739l37 17l20-14l-38-14zM4927 5756l38 17l20-16l-38-15z"/>
<path fill="#1010b9" d="M4965 5773l38 16l19-18l-37-14zM5003 5789l38 15l19-19l-38-14zM5041 5804l39 16l18-21l-38-14zM5080 5820l38 15l18-22l-38-14z"/>
<path fill="#0f0fab" d="M5118 5835l38 16l19-24l-39-14zM5156 5851l39 15l18-24l-38-15zM5195 5866l38 17l19-26l-39-15zM5233 5883l39 16l18-27l-38-15z"/>
<path fill="#0e0e9e" d="M5272 5899l39 18l18-28l-39-17zM5311 5917l39 19l18-30l-39-17zM5350 5936l39 19l18-30l-39-19z"/>
<path fill="#150f97" d="M5389 5955l40 21l17-32l-39-19zM5429 5976l39 22l18-33l-40-21z"/>
<path fill="#1e0f91" d="M5468 5998l39 23l18-34l-39-22zM5507 6021l40 23l17-34l-39-23z"/>
<path fill="#27108c" d="M5547 6044l40 25l17-35l-40-24zM5587 6069l40 25l17-36l-40-24z"/>
<path fill="#2d118c" d="M5627 6094l39 25l18-36l-40-25z"/>
<path fill="#33118c" d="M5666 6119l40 25l17-35l-39-26zM5706 6144l40 25l17-35l-40-25z"/>
<path fill="#3a128c" d="M5746 6169l40 25l17-34l-40-26zM5786 6194l41 24l17-33l-41-25z"/>
<path fill="#3c128c" d="M5827 6218l40 22l17-31l-40-24zM5867 6240l40 21l17-30l-40-22z"/>
<path fill="#3f138d" d="M5907 6261l41 19l16-28l-40-21zM5948 6280l40 17l17-25l-41-20zM5988 6297l41 15l16-23l-40-17z"/>
<path fill="#41138d" d="M6029 6312l41 12l16-20l-41-15zM6070 6324l41 10l16-18l-41-12zM6111 6334l41 6l16-14l-41-10zM6152 6340l41 4l16-11l-41-7z"/>
<path fill="#3f138d" d="M6193 6344l42 2l16-9l-42-4zM6235 6346l42-1l15-7l-41-1zM6277 6345l42-3l15-4l-42 0z"/>
<path fill="#3c128c" d="M6319 6342l42-5l15-2l-42 3zM6361 6337l43-6l15 0l-43 4z"/>
<path fill="#3a128c" d="M6404 6331l43-5l14 1l-42 4zM6447 6326l43-5l14 2l-43 4z"/>
<path fill="#33118c" d="M6490 6321l43-3l14 3l-43 2zM6533 6318l43 1l15 4l-44-2z"/>
<path fill="#1313e1" d="M4572 5641l36 1l21 7l-36 0zM4608 5642l36 6l22 5l-37-4zM4644 5648l37 12l21 2l-36-9zM4681 5660l37 15l21 0l-37-13z"/>
<path fill="#1212d3" d="M4718 5675l38 18l21-4l-38-14zM4756 5693l38 19l20-6l-37-17zM4794 5712l38 19l20-9l-38-16z"/>
<path fill="#1111c6" d="M4832 5731l38 20l20-12l-38-17zM4870 5751l38 19l19-14l-37-17zM4908 5770l38 18l19-15l-38-17z"/>
<path fill="#1010b9" d="M4946 5788l38 18l19-17l-38-16zM4984 5806l38 18l19-20l-38-15zM5022 5824l39 17l19-21l-39-16z"/>
<path fill="#0f0fab" d="M5061 5841l38 16l19-22l-38-15zM5099 5857l39 17l18-23l-38-16zM5138 5874l38 17l19-25l-39-15zM5176 5891l39 18l18-26l-38-17z"/>
<path fill="#0e0e9e" d="M5215 5909l39 18l18-28l-39-16zM5254 5927l39 19l18-29l-39-18z"/>
<path fill="#150f97" d="M5293 5946l39 20l18-30l-39-19zM5332 5966l39 20l18-31l-39-19zM5371 5986l40 22l18-32l-40-21z"/>
<path fill="#1e0f91" d="M5411 6008l39 23l18-33l-39-22zM5450 6031l40 24l17-34l-39-23z"/>
<path fill="#27108c" d="M5490 6055l40 24l17-35l-40-23zM5530 6079l39 25l18-35l-40-25z"/>
<path fill="#2d118c" d="M5569 6104l40 25l18-35l-40-25z"/>
<path fill="#33118c" d="M5609 6129l40 26l17-36l-39-25zM5649 6155l40 25l17-36l-40-25z"/>
<path fill="#3a128c" d="M5689 6180l40 24l17-35l-40-25zM5729 6204l41 24l16-34l-40-25z"/>
<path fill="#3c128c" d="M5770 6228l40 22l17-32l-41-24zM5810 6250l40 21l17-31l-40-22z"/>
<path fill="#3f138d" d="M5850 6271l40 19l17-29l-40-21zM5890 6290l41 16l17-26l-41-19zM5931 6306l41 15l16-24l-40-17z"/>
<path fill="#41138d" d="M5972 6321l40 12l17-21l-41-15zM6012 6333l41 9l17-18l-41-12zM6053 6342l41 7l17-15l-41-10zM6094 6349l42 3l16-12l-41-6z"/>
<path fill="#3f138d" d="M6136 6352l41 2l16-10l-41-4zM6177 6354l42-2l16-6l-42-2zM6219 6352l42-3l16-4l-42 1z"/>
<path fill="#3c128c" d="M6261 6349l43-5l15-2l-42 3zM6304 6344l42-7l15 0l-42 5z"/>
<path fill="#3a128c" d="M6346 6337l43-7l15 1l-43 6zM6389 6330l43-7l15 3l-43 5z"/>
<path fill="#33118c" d="M6432 6323l43-6l15 4l-43 5z"/>
<path fill="#2d118c" d="M6475 6317l44-4l14 5l-43 3zM6519 6313l43 0l14 6l-43-1z"/>
<path fill="#1313e1" d="M4550 5634l36 2l22 6l-36-1z"/>
<path fill="#1414ee" d="M4586 5636l36 8l22 4l-36-6z"/>
<path fill="#1313e1" d="M4622 5644l38 14l21 2l-37-12zM4660 5658l37 18l21-1l-37-15zM4697 5676l38 21l21-4l-38-18z"/>
<path fill="#1212d3" d="M4735 5697l38 22l21-7l-38-19zM4773 5719l39 22l20-10l-38-19z"/>
<path fill="#1111c6" d="M4812 5741l38 22l20-12l-38-20zM4850 5763l38 21l20-14l-38-19zM4888 5784l39 21l19-17l-38-18z"/>
<path fill="#1010b9" d="M4927 5805l38 19l19-18l-38-18zM4965 5824l38 19l19-19l-38-18z"/>
<path fill="#0f0fab" d="M5003 5843l39 19l19-21l-39-17zM5042 5862l38 18l19-23l-38-16zM5080 5880l39 18l19-24l-39-17z"/>
<path fill="#0e0e9e" d="M5119 5898l39 19l18-26l-38-17zM5158 5917l39 18l18-26l-39-18zM5197 5935l39 20l18-28l-39-18z"/>
<path fill="#150f97" d="M5236 5955l39 20l18-29l-39-19zM5275 5975l39 21l18-30l-39-20zM5314 5996l40 22l17-32l-39-20z"/>
<path fill="#1e0f91" d="M5354 6018l39 23l18-33l-40-22zM5393 6041l40 24l17-34l-39-23z"/>
<path fill="#27108c" d="M5433 6065l39 24l18-34l-40-24z"/>
<path fill="#2d118c" d="M5472 6089l40 25l18-35l-40-24zM5512 6114l40 25l17-35l-39-25z"/>
<path fill="#33118c" d="M5552 6139l40 26l17-36l-40-25zM5592 6165l40 25l17-35l-40-26z"/>
<path fill="#3a128c" d="M5632 6190l40 24l17-34l-40-25zM5672 6214l40 24l17-34l-40-24z"/>
<path fill="#3c128c" d="M5712 6238l40 22l18-32l-41-24zM5752 6260l41 21l17-31l-40-22z"/>
<path fill="#3f138d" d="M5793 6281l40 19l17-29l-40-21zM5833 6300l41 16l16-26l-40-19z"/>
<path fill="#41138d" d="M5874 6316l40 15l17-25l-41-16zM5914 6331l41 11l17-21l-41-15zM5955 6342l41 10l16-19l-40-12zM5996 6352l41 6l16-16l-41-9zM6037 6358l41 3l16-12l-41-7z"/>
<path fill="#3f138d" d="M6078 6361l42 1l16-10l-42-3zM6120 6362l41-1l16-7l-41-2zM6161 6361l42-4l16-5l-42 2z"/>
<path fill="#3c128c" d="M6203 6357l43-5l15-3l-42 3zM6246 6352l42-7l16-1l-43 5z"/>
<path fill="#3a128c" d="M6288 6345l43-8l15 0l-42 7z"/>
<path fill="#33118c" d="M6331 6337l43-9l15 2l-43 7zM6374 6328l43-7l15 2l-43 7z"/>
<path fill="#2d118c" d="M6417 6321l43-7l15 3l-43 6zM6460 6314l44-5l15 4l-44 4z"/>
<path fill="#27108c" d="M6504 6309l44-1l14 5l-43 0z"/>
<path fill="#1414ee" d="M4527 5628l37 3l22 5l-36-2zM4564 5631l37 10l21 3l-36-8zM4601 5641l37 16l22 1l-38-14zM4638 5657l38 21l21-2l-37-18z"/>
<path fill="#1313e1" d="M4676 5678l39 24l20-5l-38-21zM4715 5702l38 24l20-7l-38-22z"/>
<path fill="#1212d3" d="M4753 5726l38 25l21-10l-39-22zM4791 5751l39 24l20-12l-38-22z"/>
<path fill="#1111c6" d="M4830 5775l38 24l20-15l-38-21zM4868 5799l39 22l20-16l-39-21z"/>
<path fill="#1010b9" d="M4907 5821l39 22l19-19l-38-19zM4946 5843l38 20l19-20l-38-19z"/>
<path fill="#0f0fab" d="M4984 5863l39 20l19-21l-39-19zM5023 5883l39 20l18-23l-38-18zM5062 5903l38 20l19-25l-39-18z"/>
<path fill="#0e0e9e" d="M5100 5923l39 19l19-25l-39-19zM5139 5942l39 20l19-27l-39-18z"/>
<path fill="#150f97" d="M5178 5962l39 21l19-28l-39-20zM5217 5983l40 21l18-29l-39-20z"/>
<path fill="#1e0f91" d="M5257 6004l39 23l18-31l-39-21zM5296 6027l40 23l18-32l-40-22z"/>
<path fill="#27108c" d="M5336 6050l39 24l18-33l-39-23zM5375 6074l40 24l18-33l-40-24z"/>
<path fill="#2d118c" d="M5415 6098l40 25l17-34l-39-24zM5455 6123l40 26l17-35l-40-25z"/>
<path fill="#33118c" d="M5495 6149l39 25l18-35l-40-25zM5534 6174l41 25l17-34l-40-26z"/>
<path fill="#3a128c" d="M5575 6199l40 25l17-34l-40-25z"/>
<path fill="#3c128c" d="M5615 6224l40 24l17-34l-40-24zM5655 6248l40 22l17-32l-40-24z"/>
<path fill="#3f138d" d="M5695 6270l40 21l17-31l-40-22zM5735 6291l41 19l17-29l-41-21zM5776 6310l40 17l17-27l-40-19z"/>
<path fill="#41138d" d="M5816 6327l41 14l17-25l-41-16zM5857 6341l40 12l17-22l-40-15zM5897 6353l41 8l17-19l-41-11zM5938 6361l41 7l17-16l-41-10zM5979 6368l41 3l17-13l-41-6z"/>
<path fill="#3f138d" d="M6020 6371l42 1l16-11l-41-3zM6062 6372l41-2l17-8l-42-1zM6103 6370l42-4l16-5l-41 1z"/>
<path fill="#3c128c" d="M6145 6366l42-6l16-3l-42 4zM6187 6360l43-7l16-1l-43 5z"/>
<path fill="#3a128c" d="M6230 6353l42-9l16 1l-42 7z"/>
<path fill="#33118c" d="M6272 6344l43-8l16 1l-43 8zM6315 6336l43-9l16 1l-43 9z"/>
<path fill="#2d118c" d="M6358 6327l44-9l15 3l-43 7z"/>
<path fill="#27108c" d="M6402 6318l43-7l15 3l-43 7zM6445 6311l44-5l15 3l-44 5z"/>
<path fill="#1e0f91" d="M6489 6306l44-3l15 5l-44 1z"/>
<path fill="#151fe3" d="M4505 5625l37 3l22 3l-37-3zM4542 5628l37 12l22 1l-37-10zM4579 5640l38 19l21-2l-37-16z"/>
<path fill="#1414ee" d="M4617 5659l38 23l21-4l-38-21zM4655 5682l39 26l21-6l-39-24z"/>
<path fill="#1313e1" d="M4694 5708l38 27l21-9l-38-24z"/>
<path fill="#1212d3" d="M4732 5735l39 27l20-11l-38-25zM4771 5762l39 27l20-14l-39-24z"/>
<path fill="#1111c6" d="M4810 5789l39 25l19-15l-38-24zM4849 5814l38 25l20-18l-39-22z"/>
<path fill="#1010b9" d="M4887 5839l39 23l20-19l-39-22zM4926 5862l39 22l19-21l-38-20z"/>
<path fill="#0f0fab" d="M4965 5884l39 21l19-22l-39-20zM5004 5905l39 22l19-24l-39-20z"/>
<path fill="#0e0e9e" d="M5043 5927l39 20l18-24l-38-20zM5082 5947l39 21l18-26l-39-19z"/>
<path fill="#150f97" d="M5121 5968l39 22l18-28l-39-20zM5160 5990l39 22l18-29l-39-21z"/>
<path fill="#1e0f91" d="M5199 6012l39 22l19-30l-40-21zM5238 6034l40 24l18-31l-39-23z"/>
<path fill="#27108c" d="M5278 6058l40 24l18-32l-40-23zM5318 6082l39 25l18-33l-39-24z"/>
<path fill="#2d118c" d="M5357 6107l40 25l18-34l-40-24zM5397 6132l40 25l18-34l-40-25z"/>
<path fill="#33118c" d="M5437 6157l40 26l18-34l-40-26zM5477 6183l40 25l17-34l-39-25z"/>
<path fill="#3a128c" d="M5517 6208l40 25l18-34l-41-25z"/>
<path fill="#3c128c" d="M5557 6233l40 24l18-33l-40-25zM5597 6257l40 23l18-32l-40-24z"/>
<path fill="#3f138d" d="M5637 6280l41 21l17-31l-40-22zM5678 6301l40 19l17-29l-40-21zM5718 6320l40 17l18-27l-41-19z"/>
<path fill="#41138d" d="M5758 6337l41 14l17-24l-40-17zM5799 6351l41 11l17-21l-41-14zM5840 6362l40 9l17-18l-40-12zM5880 6371l41 6l17-16l-41-8zM5921 6377l41 4l17-13l-41-7z"/>
<path fill="#3f138d" d="M5962 6381l42 0l16-10l-41-3zM6004 6381l41-2l17-7l-42-1zM6045 6379l42-4l16-5l-41 2z"/>
<path fill="#3c128c" d="M6087 6375l42-6l16-3l-42 4zM6129 6369l42-7l16-2l-42 6z"/>
<path fill="#3a128c" d="M6171 6362l43-9l16 0l-43 7z"/>
<path fill="#33118c" d="M6214 6353l43-9l15 0l-42 9zM6257 6344l43-9l15 1l-43 8z"/>
<path fill="#2d118c" d="M6300 6335l43-9l15 1l-43 9z"/>
<path fill="#27108c" d="M6343 6326l44-8l15 0l-44 9zM6387 6318l43-7l15 0l-43 7z"/>
<path fill="#1e0f91" d="M6430 6311l44-6l15 1l-44 5zM6474 6305l44-3l15 1l-44 3z"/>
<path fill="#151fe3" d="M4483 5625l37 5l22-2l-37-3zM4520 5630l37 12l22-2l-37-12zM4557 5642l39 21l21-4l-38-19zM4596 5663l38 26l21-7l-38-23z"/>
<path fill="#1414ee" d="M4634 5689l39 28l21-9l-39-26z"/>
<path fill="#1313e1" d="M4673 5717l39 29l20-11l-38-27zM4712 5746l39 29l20-13l-39-27z"/>
<path fill="#1212d3" d="M4751 5775l39 28l20-14l-39-27z"/>
<path fill="#1111c6" d="M4790 5803l39 27l20-16l-39-25zM4829 5830l39 26l19-17l-38-25z"/>
<path fill="#1010b9" d="M4868 5856l39 25l19-19l-39-23z"/>
<path fill="#0f0fab" d="M4907 5881l38 24l20-21l-39-22zM4945 5905l39 23l20-23l-39-21z"/>
<path fill="#0e0e9e" d="M4984 5928l40 22l19-23l-39-22zM5024 5950l39 23l19-26l-39-20z"/>
<path fill="#150f97" d="M5063 5973l39 22l19-27l-39-21zM5102 5995l39 23l19-28l-39-22zM5141 6018l40 23l18-29l-39-22z"/>
<path fill="#1e0f91" d="M5181 6041l39 24l18-31l-39-22z"/>
<path fill="#27108c" d="M5220 6065l40 24l18-31l-40-24zM5260 6089l39 25l19-32l-40-24z"/>
<path fill="#2d118c" d="M5299 6114l40 26l18-33l-39-25zM5339 6140l40 25l18-33l-40-25z"/>
<path fill="#33118c" d="M5379 6165l40 26l18-34l-40-25zM5419 6191l40 26l18-34l-40-26z"/>
<path fill="#3a128c" d="M5459 6217l40 25l18-34l-40-25z"/>
<path fill="#3c128c" d="M5499 6242l40 24l18-33l-40-25zM5539 6266l40 22l18-31l-40-24z"/>
<path fill="#3f138d" d="M5579 6288l41 22l17-30l-40-23zM5620 6310l40 19l18-28l-41-21zM5660 6329l40 16l18-25l-40-19z"/>
<path fill="#41138d" d="M5700 6345l41 15l17-23l-40-17zM5741 6360l41 11l17-20l-41-14zM5782 6371l40 9l18-18l-41-11zM5822 6380l41 6l17-15l-40-9zM5863 6386l41 3l17-12l-41-6zM5904 6389l42 1l16-9l-41-4z"/>
<path fill="#3f138d" d="M5946 6390l41-2l17-7l-42 0zM5987 6388l42-4l16-5l-41 2z"/>
<path fill="#3c128c" d="M6029 6384l42-6l16-3l-42 4zM6071 6378l42-8l16-1l-42 6z"/>
<path fill="#3a128c" d="M6113 6370l42-8l16 0l-42 7z"/>
<path fill="#33118c" d="M6155 6362l43-9l16 0l-43 9zM6198 6353l43-9l16 0l-43 9z"/>
<path fill="#2d118c" d="M6241 6344l43-8l16-1l-43 9z"/>
<path fill="#27108c" d="M6284 6336l43-8l16-2l-43 9zM6327 6328l44-7l16-3l-44 8z"/>
<path fill="#1e0f91" d="M6371 6321l44-7l15-3l-43 7zM6415 6314l44-6l15-3l-44 6z"/>
<path fill="#150f97" d="M6459 6308l44-4l15-2l-44 3z"/>
<path fill="#162cd3" d="M4461 5630l37 6l22-6l-37-5zM4498 5636l38 14l21-8l-37-12zM4536 5650l38 22l22-9l-39-21z"/>
<path fill="#151fe3" d="M4574 5672l39 27l21-10l-38-26z"/>
<path fill="#1414ee" d="M4613 5699l39 29l21-11l-39-28zM4652 5728l39 31l21-13l-39-29z"/>
<path fill="#1313e1" d="M4691 5759l39 30l21-14l-39-29z"/>
<path fill="#1212d3" d="M4730 5789l39 30l21-16l-39-28z"/>
<path fill="#1111c6" d="M4769 5819l40 29l20-18l-39-27zM4809 5848l39 27l20-19l-39-26z"/>
<path fill="#1010b9" d="M4848 5875l39 26l20-20l-39-25z"/>
<path fill="#0f0fab" d="M4887 5901l39 26l19-22l-38-24zM4926 5927l39 24l19-23l-39-23z"/>
<path fill="#0e0e9e" d="M4965 5951l39 24l20-25l-40-22zM5004 5975l40 24l19-26l-39-23z"/>
<path fill="#150f97" d="M5044 5999l39 24l19-28l-39-22zM5083 6023l39 24l19-29l-39-23z"/>
<path fill="#1e0f91" d="M5122 6047l40 24l19-30l-40-23zM5162 6071l40 25l18-31l-39-24z"/>
<path fill="#27108c" d="M5202 6096l39 25l19-32l-40-24z"/>
<path fill="#2d118c" d="M5241 6121l40 26l18-33l-39-25zM5281 6147l40 26l18-33l-40-26z"/>
<path fill="#33118c" d="M5321 6173l40 26l18-34l-40-25zM5361 6199l40 25l18-33l-40-26z"/>
<path fill="#3a128c" d="M5401 6224l40 25l18-32l-40-26z"/>
<path fill="#3c128c" d="M5441 6249l40 24l18-31l-40-25zM5481 6273l40 23l18-30l-40-24z"/>
<path fill="#3f138d" d="M5521 6296l41 21l17-29l-40-22zM5562 6317l40 19l18-26l-41-22zM5602 6336l40 17l18-24l-40-19z"/>
<path fill="#41138d" d="M5642 6353l41 14l17-22l-40-16zM5683 6367l40 12l18-19l-41-15zM5723 6379l41 9l18-17l-41-11zM5764 6388l41 5l17-13l-40-9zM5805 6393l41 3l17-10l-41-6z"/>
<path fill="#3f138d" d="M5846 6396l41 1l17-8l-41-3zM5887 6397l41-2l18-5l-42-1zM5928 6395l42-4l17-3l-41 2z"/>
<path fill="#3c128c" d="M5970 6391l42-6l17-1l-42 4zM6012 6385l42-7l17 0l-42 6z"/>
<path fill="#3a128c" d="M6054 6378l42-8l17 0l-42 8z"/>
<path fill="#33118c" d="M6096 6370l43-9l16 1l-42 8zM6139 6361l43-8l16 0l-43 9z"/>
<path fill="#2d118c" d="M6182 6353l43-7l16-2l-43 9z"/>
<path fill="#27108c" d="M6225 6346l43-7l16-3l-43 8zM6268 6339l44-6l15-5l-43 8z"/>
<path fill="#1e0f91" d="M6312 6333l43-5l16-7l-44 7zM6355 6328l44-5l16-9l-44 7z"/>
<path fill="#150f97" d="M6399 6323l45-6l15-9l-44 6zM6444 6317l44-5l15-8l-44 4z"/>
<path fill="#162cd3" d="M4440 5642l37 6l21-12l-37-6zM4477 5648l38 15l21-13l-38-14zM4515 5663l38 23l21-14l-38-22z"/>
<path fill="#151fe3" d="M4553 5686l39 27l21-14l-39-27z"/>
<path fill="#1414ee" d="M4592 5713l39 31l21-16l-39-29zM4631 5744l40 31l20-16l-39-31z"/>
<path fill="#1313e1" d="M4671 5775l39 31l20-17l-39-30z"/>
<path fill="#1212d3" d="M4710 5806l39 31l20-18l-39-30z"/>
<path fill="#1111c6" d="M4749 5837l40 30l20-19l-40-29z"/>
<path fill="#1010b9" d="M4789 5867l39 28l20-20l-39-27zM4828 5895l39 28l20-22l-39-26z"/>
<path fill="#0f0fab" d="M4867 5923l39 26l20-22l-39-26z"/>
<path fill="#0e0e9e" d="M4906 5949l40 26l19-24l-39-24zM4946 5975l39 26l19-26l-39-24z"/>
<path fill="#150f97" d="M4985 6001l40 25l19-27l-40-24zM5025 6026l39 25l19-28l-39-24z"/>
<path fill="#1e0f91" d="M5064 6051l40 25l18-29l-39-24zM5104 6076l39 26l19-31l-40-24z"/>
<path fill="#27108c" d="M5143 6102l40 26l19-32l-40-25z"/>
<path fill="#2d118c" d="M5183 6128l40 26l18-33l-39-25zM5223 6154l40 26l18-33l-40-26z"/>
<path fill="#33118c" d="M5263 6180l40 26l18-33l-40-26zM5303 6206l40 26l18-33l-40-26z"/>
<path fill="#3a128c" d="M5343 6232l40 24l18-32l-40-25z"/>
<path fill="#3c128c" d="M5383 6256l40 24l18-31l-40-25zM5423 6280l40 23l18-30l-40-24z"/>
<path fill="#3f138d" d="M5463 6303l40 21l18-28l-40-23zM5503 6324l41 18l18-25l-41-21zM5544 6342l40 17l18-23l-40-19z"/>
<path fill="#41138d" d="M5584 6359l41 14l17-20l-40-17zM5625 6373l40 11l18-17l-41-14zM5665 6384l41 8l17-13l-40-12zM5706 6392l41 6l17-10l-41-9zM5747 6398l40 3l18-8l-41-5z"/>
<path fill="#3f138d" d="M5787 6401l42 0l17-5l-41-3zM5829 6401l41-2l17-2l-41-1zM5870 6399l41-4l17 0l-41 2z"/>
<path fill="#3c128c" d="M5911 6395l42-6l17 2l-42 4zM5953 6389l42-7l17 3l-42 6z"/>
<path fill="#3a128c" d="M5995 6382l42-7l17 3l-42 7z"/>
<path fill="#33118c" d="M6037 6375l43-8l16 3l-42 8zM6080 6367l42-7l17 1l-43 9z"/>
<path fill="#2d118c" d="M6122 6360l43-6l17-1l-43 8z"/>
<path fill="#27108c" d="M6165 6354l43-5l17-3l-43 7zM6208 6349l44-3l16-7l-43 7z"/>
<path fill="#1e0f91" d="M6252 6346l43-3l17-10l-44 6zM6295 6343l44-2l16-13l-43 5z"/>
<path fill="#150f97" d="M6339 6341l44-3l16-15l-44 5zM6383 6338l45-5l16-16l-45 6z"/>
<path fill="#0e0e9e" d="M6428 6333l44-5l16-16l-44 5z"/>
<path fill="#162cd3" d="M4419 5659l37 7l21-18l-37-6zM4456 5666l38 16l21-19l-38-15zM4494 5682l38 22l21-18l-38-23z"/>
<path fill="#151fe3" d="M4532 5704l39 28l21-19l-39-27z"/>
<path fill="#1414ee" d="M4571 5732l40 30l20-18l-39-31zM4611 5762l39 32l21-19l-40-31z"/>
<path fill="#1313e1" d="M4650 5794l40 31l20-19l-39-31z"/>
<path fill="#1212d3" d="M4690 5825l39 31l20-19l-39-31z"/>
<path fill="#1111c6" d="M4729 5856l39 30l21-19l-40-30z"/>
<path fill="#1010b9" d="M4768 5886l40 29l20-20l-39-28zM4808 5915l39 29l20-21l-39-28z"/>
<path fill="#0f0fab" d="M4847 5944l40 27l19-22l-39-26z"/>
<path fill="#0e0e9e" d="M4887 5971l39 27l20-23l-40-26zM4926 5998l40 27l19-24l-39-26z"/>
<path fill="#150f97" d="M4966 6025l39 27l20-26l-40-25z"/>
<path fill="#1e0f91" d="M5005 6052l40 26l19-27l-39-25zM5045 6078l40 27l19-29l-40-25z"/>
<path fill="#27108c" d="M5085 6105l40 26l18-29l-39-26zM5125 6131l39 27l19-30l-40-26z"/>
<path fill="#2d118c" d="M5164 6158l40 26l19-30l-40-26z"/>
<path fill="#33118c" d="M5204 6184l40 27l19-31l-40-26zM5244 6211l40 25l19-30l-40-26z"/>
<path fill="#3a128c" d="M5284 6236l40 25l19-29l-40-26z"/>
<path fill="#3c128c" d="M5324 6261l41 24l18-29l-40-24zM5365 6285l40 23l18-28l-40-24z"/>
<path fill="#3f138d" d="M5405 6308l40 20l18-25l-40-23zM5445 6328l40 19l18-23l-40-21zM5485 6347l41 16l18-21l-41-18z"/>
<path fill="#41138d" d="M5526 6363l40 14l18-18l-40-17zM5566 6377l41 11l18-15l-41-14zM5607 6388l40 9l18-13l-40-11zM5647 6397l41 5l18-10l-41-8z"/>
<path fill="#3f138d" d="M5688 6402l41 3l18-7l-41-6zM5729 6405l41 0l17-4l-40-3zM5770 6405l41-2l18-2l-42 0z"/>
<path fill="#3c128c" d="M5811 6403l41-4l18 0l-41 2zM5852 6399l42-5l17 1l-41 4z"/>
<path fill="#3a128c" d="M5894 6394l42-7l17 2l-42 6zM5936 6387l42-7l17 2l-42 7z"/>
<path fill="#33118c" d="M5978 6380l42-7l17 2l-42 7zM6020 6373l43-6l17 0l-43 8z"/>
<path fill="#2d118c" d="M6063 6367l43-4l16-3l-42 7z"/>
<path fill="#27108c" d="M6106 6363l43-4l16-5l-43 6zM6149 6359l43-1l16-9l-43 5zM6192 6358l43 0l17-12l-44 3z"/>
<path fill="#1e0f91" d="M6235 6358l44 1l16-16l-43 3zM6279 6359l44 2l16-20l-44 2z"/>
<path fill="#150f97" d="M6323 6361l44 0l16-23l-44 3zM6367 6361l44-4l17-24l-45 5z"/>
<path fill="#0e0e9e" d="M6411 6357l45-6l16-23l-44 5z"/>
</g>
<path d="M446.2 619.4L644.6 668.3" stroke="#444" stroke-width="0.8" fill="none"/>
<path d="M644.6 668.3L718.4 574.8" stroke="#444" stroke-width="0.8" fill="none"/>
<path d="M446.2 619.4L431.6 438.8" stroke="#444" stroke-width="0.8" fill="none"/>
<path d="M470.6 625.4L468.3 627.4" stroke="#333" stroke-width="0.8" fill="none"/>
<text transform="translate(456.9 634.7) rotate(5.5)" text-anchor="middle" y="3.9" font-size="11.0" font-family="Liberation Sans" font-weight="bold">160</text>
<path d="M495.6 631.6L493.4 633.6" stroke="#333" stroke-width="0.8" fill="none"/>
<text transform="translate(482.2 641.2) rotate(5.5)" text-anchor="middle" y="3.9" font-size="11.0" font-family="Liberation Sans" font-weight="bold">140</text>
<path d="M521.2 637.9L519.0 639.9" stroke="#333" stroke-width="0.8" fill="none"/>
<text transform="translate(508.1 647.8) rotate(5.5)" text-anchor="middle" y="3.9" font-size="11.0" font-family="Liberation Sans" font-weight="bold">120</text>
<path d="M547.4 644.3L545.3 646.5" stroke="#333" stroke-width="0.8" fill="none"/>
<text transform="translate(534.6 654.6) rotate(5.5)" text-anchor="middle" y="3.9" font-size="11.0" font-family="Liberation Sans" font-weight="bold">100</text>
<path d="M574.3 651.0L572.3 653.1" stroke="#333" stroke-width="0.8" fill="none"/>
<text transform="translate(561.9 661.5) rotate(5.5)" text-anchor="middle" y="3.9" font-size="11.0" font-family="Liberation Sans" font-weight="bold">80</text>
<path d="M601.9 657.8L599.9 660.0" stroke="#333" stroke-width="0.8" fill="none"/>
<text transform="translate(589.8 668.6) rotate(5.5)" text-anchor="middle" y="3.9" font-size="11.0" font-family="Liberation Sans" font-weight="bold">60</text>
<path d="M630.2 664.7L628.3 667.0" stroke="#333" stroke-width="0.8" fill="none"/>
<text transform="translate(618.5 675.9) rotate(5.5)" text-anchor="middle" y="3.9" font-size="11.0" font-family="Liberation Sans" font-weight="bold">40</text>
<path d="M654.2 656.1L657.1 656.8" stroke="#333" stroke-width="0.8" fill="none"/>
<text x="660.0" y="662.3" font-size="10.8" font-family="Liberation Sans" font-weight="bold">0.2</text>
<path d="M672.2 633.3L675.1 634.0" stroke="#333" stroke-width="0.8" fill="none"/>
<text x="678.1" y="639.5" font-size="10.8" font-family="Liberation Sans" font-weight="bold">0.4</text>
<path d="M688.8 612.3L691.7 612.9" stroke="#333" stroke-width="0.8" fill="none"/>
<text x="694.7" y="618.4" font-size="10.8" font-family="Liberation Sans" font-weight="bold">0.6</text>
<path d="M704.2 592.9L707.1 593.5" stroke="#333" stroke-width="0.8" fill="none"/>
<text x="710.0" y="598.9" font-size="10.8" font-family="Liberation Sans" font-weight="bold">0.8</text>
<path d="M718.4 574.8L721.3 575.4" stroke="#333" stroke-width="0.8" fill="none"/>
<text x="724.3" y="580.8" font-size="10.8" font-family="Liberation Sans" font-weight="bold">1.0</text>
<path d="M446.2 619.4L443.9 621.3" stroke="#333" stroke-width="0.8" fill="none"/>
<text x="440.7" y="626.7" text-anchor="end" font-size="10.3" font-family="Liberation Sans" font-weight="bold">20</text>
<path d="M444.3 595.7L441.9 597.5" stroke="#333" stroke-width="0.8" fill="none"/>
<text x="438.8" y="603.0" text-anchor="end" font-size="10.3" font-family="Liberation Sans" font-weight="bold">30</text>
<path d="M442.3 571.3L439.9 573.0" stroke="#333" stroke-width="0.8" fill="none"/>
<text x="436.8" y="578.6" text-anchor="end" font-size="10.3" font-family="Liberation Sans" font-weight="bold">40</text>
<path d="M440.3 546.2L437.8 547.9" stroke="#333" stroke-width="0.8" fill="none"/>
<text x="434.8" y="553.5" text-anchor="end" font-size="10.3" font-family="Liberation Sans" font-weight="bold">50</text>
<path d="M438.2 520.5L435.7 522.1" stroke="#333" stroke-width="0.8" fill="none"/>
<text x="432.7" y="527.8" text-anchor="end" font-size="10.3" font-family="Liberation Sans" font-weight="bold">60</text>
<path d="M436.0 494.0L433.5 495.6" stroke="#333" stroke-width="0.8" fill="none"/>
<text x="430.5" y="501.3" text-anchor="end" font-size="10.3" font-family="Liberation Sans" font-weight="bold">70</text>
<path d="M433.8 466.8L431.2 468.3" stroke="#333" stroke-width="0.8" fill="none"/>
<text x="428.3" y="474.1" text-anchor="end" font-size="10.3" font-family="Liberation Sans" font-weight="bold">80</text>
<path d="M431.6 438.8L428.9 440.2" stroke="#333" stroke-width="0.8" fill="none"/>
<text x="426.1" y="446.1" text-anchor="end" font-size="10.3" font-family="Liberation Sans" font-weight="bold">90</text>
<text transform="translate(518.0 677.5) rotate(14.5) skewX(-9.0)" text-anchor="middle" font-size="11.6" font-family="Liberation Sans" font-weight="bold">Activation time (min)</text>
<text transform="translate(721.5 637.0) rotate(-51.1)" text-anchor="middle" font-size="10.8" font-family="Liberation Sans" font-weight="bold">Impregnation ratio (g/g)</text>
<text transform="translate(410.7 534.3) rotate(-92.5)" text-anchor="middle" font-size="11.6" font-family="Liberation Sans" font-weight="bold">Response (R%)</text>
<text transform="translate(399.5 689) scale(.88 1)" font-size="23.5" font-family="Liberation Sans" font-weight="bold">d)</text>
<path d="M460.7 994.3L554.5 915.5" stroke="#c9ccd6" stroke-width="0.7" fill="none"/>
<path d="M554.5 915.5L551.2 758.9" stroke="#c9ccd6" stroke-width="0.7" fill="none"/>
<path d="M485.4 1000.2L576.4 919.7" stroke="#c9ccd6" stroke-width="0.7" fill="none"/>
<path d="M576.4 919.7L574.8 761.8" stroke="#c9ccd6" stroke-width="0.7" fill="none"/>
<path d="M510.7 1006.2L598.6 924.0" stroke="#c9ccd6" stroke-width="0.7" fill="none"/>
<path d="M598.6 924.0L598.9 764.6" stroke="#c9ccd6" stroke-width="0.7" fill="none"/>
<path d="M536.6 1012.3L621.4 928.3" stroke="#c9ccd6" stroke-width="0.7" fill="none"/>
<path d="M621.4 928.3L623.6 767.6" stroke="#c9ccd6" stroke-width="0.7" fill="none"/>
<path d="M563.1 1018.6L644.6 932.8" stroke="#c9ccd6" stroke-width="0.7" fill="none"/>
<path d="M644.6 932.8L648.8 770.6" stroke="#c9ccd6" stroke-width="0.7" fill="none"/>
<path d="M590.3 1025.1L668.3 937.3" stroke="#c9ccd6" stroke-width="0.7" fill="none"/>
<path d="M668.3 937.3L674.5 773.7" stroke="#c9ccd6" stroke-width="0.7" fill="none"/>
<path d="M618.2 1031.7L692.5 941.9" stroke="#c9ccd6" stroke-width="0.7" fill="none"/>
<path d="M692.5 941.9L700.9 776.9" stroke="#c9ccd6" stroke-width="0.7" fill="none"/>
<path d="M442.0 984.3L636.5 1029.9" stroke="#c9ccd6" stroke-width="0.7" fill="none"/>
<path d="M442.0 984.3L427.4 807.5" stroke="#c9ccd6" stroke-width="0.7" fill="none"/>
<path d="M455.0 973.9L646.3 1017.5" stroke="#c9ccd6" stroke-width="0.7" fill="none"/>
<path d="M455.0 973.9L442.0 800.1" stroke="#c9ccd6" stroke-width="0.7" fill="none"/>
<path d="M467.5 963.9L655.8 1005.7" stroke="#c9ccd6" stroke-width="0.7" fill="none"/>
<path d="M467.5 963.9L455.9 793.0" stroke="#c9ccd6" stroke-width="0.7" fill="none"/>
<path d="M479.5 954.3L664.8 994.4" stroke="#c9ccd6" stroke-width="0.7" fill="none"/>
<path d="M479.5 954.3L469.2 786.2" stroke="#c9ccd6" stroke-width="0.7" fill="none"/>
<path d="M491.0 945.1L673.5 983.5" stroke="#c9ccd6" stroke-width="0.7" fill="none"/>
<path d="M491.0 945.1L482.0 779.7" stroke="#c9ccd6" stroke-width="0.7" fill="none"/>
<path d="M502.1 936.2L681.8 973.1" stroke="#c9ccd6" stroke-width="0.7" fill="none"/>
<path d="M502.1 936.2L494.2 773.4" stroke="#c9ccd6" stroke-width="0.7" fill="none"/>
<path d="M512.8 927.6L689.8 963.1" stroke="#c9ccd6" stroke-width="0.7" fill="none"/>
<path d="M512.8 927.6L506.0 767.4" stroke="#c9ccd6" stroke-width="0.7" fill="none"/>
<path d="M523.1 919.4L697.4 953.5" stroke="#c9ccd6" stroke-width="0.7" fill="none"/>
<path d="M523.1 919.4L517.3 761.7" stroke="#c9ccd6" stroke-width="0.7" fill="none"/>
<path d="M533.1 911.4L704.8 944.3" stroke="#c9ccd6" stroke-width="0.7" fill="none"/>
<path d="M533.1 911.4L528.1 756.2" stroke="#c9ccd6" stroke-width="0.7" fill="none"/>
<path d="M436.6 988.6L533.1 911.4" stroke="#c9ccd6" stroke-width="0.7" fill="none"/>
<path d="M533.1 911.4L704.8 944.3" stroke="#c9ccd6" stroke-width="0.7" fill="none"/>
<path d="M433.8 955.5L532.1 882.3" stroke="#c9ccd6" stroke-width="0.7" fill="none"/>
<path d="M532.1 882.3L706.6 913.3" stroke="#c9ccd6" stroke-width="0.7" fill="none"/>
<path d="M430.9 921.2L531.2 852.2" stroke="#c9ccd6" stroke-width="0.7" fill="none"/>
<path d="M531.2 852.2L708.4 881.2" stroke="#c9ccd6" stroke-width="0.7" fill="none"/>
<path d="M427.8 885.7L530.2 821.2" stroke="#c9ccd6" stroke-width="0.7" fill="none"/>
<path d="M530.2 821.2L710.3 848.1" stroke="#c9ccd6" stroke-width="0.7" fill="none"/>
<path d="M424.7 848.8L529.2 789.2" stroke="#c9ccd6" stroke-width="0.7" fill="none"/>
<path d="M529.2 789.2L712.3 813.9" stroke="#c9ccd6" stroke-width="0.7" fill="none"/>
<path d="M421.4 810.6L528.1 756.2" stroke="#c9ccd6" stroke-width="0.7" fill="none"/>
<path d="M528.1 756.2L714.3 778.5" stroke="#c9ccd6" stroke-width="0.7" fill="none"/>
<path d="M436.6 988.6L533.1 911.4" stroke="#777" stroke-width="0.8" fill="none"/>
<path d="M533.1 911.4L704.8 944.3" stroke="#777" stroke-width="0.8" fill="none"/>
<path d="M421.4 810.6L528.1 756.2" stroke="#777" stroke-width="0.8" fill="none"/>
<path d="M528.1 756.2L714.3 778.5" stroke="#777" stroke-width="0.8" fill="none"/>
<path d="M528.1 756.2L533.1 911.4" stroke="#777" stroke-width="0.8" fill="none"/>
<path d="M714.3 778.5L704.8 944.3" stroke="#777" stroke-width="0.8" fill="none"/>
<g transform="scale(.1)" stroke="#000" stroke-width="5" stroke-linejoin="round">
<path fill="#0f0fb6" d="M5307 8895l30-53l19 66l-31 27z"/>
<path fill="#1010c4" d="M5337 8842l31-62l19 69l-31 59z"/>
<path fill="#1117cf" d="M5368 8780l31-56l18 60l-30 65z"/>
<path fill="#1320d8" d="M5399 8724l31-48l18 49l-31 59z"/>
<path fill="#142dda" d="M5430 8676l32-43l18 39l-32 53z"/>
<path fill="#174cb3" d="M5462 8633l32-39l18 30l-32 48z"/>
<path fill="#196b8d" d="M5494 8594l33-37l17 22l-32 45z"/>
<path fill="#1e8569" d="M5527 8557l33-35l17 17l-33 40z"/>
<path fill="#279c46" d="M5560 8522l33-33l17 12l-33 38z"/>
<path fill="#32aa38" d="M5593 8489l33-31l17 8l-33 35z"/>
<path fill="#51c921" d="M5626 8458l34-31l16 7l-33 32z"/>
<path fill="#61d815" d="M5660 8427l34-29l16 6l-34 30z"/>
<path fill="#7cde11" d="M5694 8398l34-27l16 5l-34 28z"/>
<path fill="#89df10" d="M5728 8371l34-26l16 5l-34 26z"/>
<path fill="#96df10" d="M5762 8345l35-23l16 5l-35 23z"/>
<path fill="#b0e111" d="M5797 8322l34-22l16 5l-34 22z"/>
<path fill="#bee212" d="M5831 8300l35-18l16 5l-35 18z"/>
<path fill="#cce414" d="M5866 8282l36-16l15 4l-35 17zM5902 8266l35-13l16 4l-36 13z"/>
<path fill="#dae515" d="M5937 8253l36-9l15 3l-35 10z"/>
<path fill="#e8e616" d="M5973 8244l35-6l16 2l-36 7zM6008 8238l36-3l16 1l-36 4zM6044 8235l36 1l15-1l-35 1zM6080 8236l36 4l15-2l-36-3zM6116 8240l36 8l16-4l-37-6zM6152 8248l37 11l15-6l-36-9zM6189 8259l36 13l15-6l-36-13zM6225 8272l36 16l15-6l-36-16z"/>
<path fill="#dae515" d="M6261 8288l37 19l14-7l-36-18zM6298 8307l36 20l15-5l-37-22z"/>
<path fill="#cce414" d="M6334 8327l37 23l14-5l-36-23z"/>
<path fill="#bee212" d="M6371 8350l36 23l14-3l-36-25z"/>
<path fill="#b0e111" d="M6407 8373l37 26l14-2l-37-27zM6444 8399l36 26l14 0l-36-28z"/>
<path fill="#a3e010" d="M6480 8425l37 27l13 2l-36-29z"/>
<path fill="#96df10" d="M6517 8452l36 27l14 5l-37-30z"/>
<path fill="#89df10" d="M6553 8479l37 28l13 6l-36-29z"/>
<path fill="#7cde11" d="M6590 8507l36 29l13 6l-36-29z"/>
<path fill="#6fdd11" d="M6626 8536l37 30l13 6l-37-30z"/>
<path fill="#61d815" d="M6663 8566l37 30l12 5l-36-29z"/>
<path fill="#51c921" d="M6700 8596l36 31l13 3l-37-29z"/>
<path fill="#42b92c" d="M6736 8627l37 33l12 0l-36-30z"/>
<path fill="#32aa38" d="M6773 8660l36 34l13-3l-37-31z"/>
<path fill="#279c46" d="M6809 8694l37 36l12-5l-36-34z"/>
<path fill="#229157" d="M6846 8730l36 39l13-6l-37-38z"/>
<path fill="#1a7a7a" d="M6882 8769l36 42l13-4l-36-44z"/>
<path fill="#196b8d" d="M6918 8811l36 46l12 2l-35-52z"/>
<path fill="#174cb3" d="M6954 8857l36 50l11 16l-35-64z"/>
<path fill="#1426de" d="M6990 8907l35 55l10 39l-34-78z"/>
<path fill="#1320d8" d="M7025 8962l36 52l8 60l-34-73z"/>
<path fill="#1011c9" d="M5287 8810l31-45l19 77l-30 53z"/>
<path fill="#121ad2" d="M5318 8765l30-56l20 71l-31 62z"/>
<path fill="#1323db" d="M5348 8709l32-48l19 63l-31 56z"/>
<path fill="#142dda" d="M5380 8661l32-38l18 53l-31 48z"/>
<path fill="#174cb3" d="M5412 8623l32-34l18 44l-32 43z"/>
<path fill="#196b8d" d="M5444 8589l33-32l17 37l-32 39z"/>
<path fill="#1e8569" d="M5477 8557l32-30l18 30l-33 37z"/>
<path fill="#229157" d="M5509 8527l33-29l18 24l-33 35z"/>
<path fill="#32aa38" d="M5542 8498l34-29l17 20l-33 33z"/>
<path fill="#42b92c" d="M5576 8469l33-28l17 17l-33 31z"/>
<path fill="#61d815" d="M5609 8441l34-28l17 14l-34 31z"/>
<path fill="#6fdd11" d="M5643 8413l34-26l17 11l-34 29z"/>
<path fill="#89df10" d="M5677 8387l34-26l17 10l-34 27z"/>
<path fill="#96df10" d="M5711 8361l35-24l16 8l-34 26z"/>
<path fill="#a3e010" d="M5746 8337l34-22l17 7l-35 23z"/>
<path fill="#b0e111" d="M5780 8315l35-20l16 5l-34 22z"/>
<path fill="#bee212" d="M5815 8295l35-17l16 4l-35 18z"/>
<path fill="#cce414" d="M5850 8278l36-14l16 2l-36 16z"/>
<path fill="#dae515" d="M5886 8264l35-11l16 0l-35 13z"/>
<path fill="#e8e616" d="M5921 8253l36-7l16-2l-36 9zM5957 8246l36-4l15-4l-35 6zM5993 8242l36-1l15-6l-36 3z"/>
<path fill="#f6e818" d="M6029 8241l36 3l15-8l-36-1zM6065 8244l36 6l15-10l-36-4zM6101 8250l36 9l15-11l-36-8z"/>
<path fill="#e8e616" d="M6137 8259l36 12l16-12l-37-11zM6173 8271l37 14l15-13l-36-13zM6210 8285l36 17l15-14l-36-16z"/>
<path fill="#dae515" d="M6246 8302l37 18l15-13l-37-19zM6283 8320l36 20l15-13l-36-20z"/>
<path fill="#cce414" d="M6319 8340l37 21l15-11l-37-23z"/>
<path fill="#bee212" d="M6356 8361l36 23l15-11l-36-23zM6392 8384l37 23l15-8l-37-26z"/>
<path fill="#b0e111" d="M6429 8407l37 25l14-7l-36-26z"/>
<path fill="#a3e010" d="M6466 8432l36 25l15-5l-37-27z"/>
<path fill="#96df10" d="M6502 8457l37 26l14-4l-36-27z"/>
<path fill="#89df10" d="M6539 8483l37 27l14-3l-37-28zM6576 8510l37 28l13-2l-36-29z"/>
<path fill="#7cde11" d="M6613 8538l37 29l13-1l-37-30z"/>
<path fill="#6fdd11" d="M6650 8567l36 30l14-1l-37-30z"/>
<path fill="#61d815" d="M6686 8597l37 32l13-2l-36-31z"/>
<path fill="#51c921" d="M6723 8629l37 33l13-2l-37-33z"/>
<path fill="#32aa38" d="M6760 8662l36 35l13-3l-36-34z"/>
<path fill="#279c46" d="M6796 8697l37 37l13-4l-37-36z"/>
<path fill="#229157" d="M6833 8734l36 38l13-3l-36-39z"/>
<path fill="#1e8569" d="M6869 8772l37 39l12 0l-36-42z"/>
<path fill="#196b8d" d="M6906 8811l36 39l12 7l-36-46z"/>
<path fill="#185ba0" d="M6942 8850l37 39l11 18l-36-50z"/>
<path fill="#163cc6" d="M6979 8889l36 36l10 37l-35-55z"/>
<path fill="#1426de" d="M7015 8925l37 29l9 60l-36-52z"/>
<path fill="#1320d8" d="M5266 8727l32-40l20 78l-31 45z"/>
<path fill="#1426de" d="M5298 8687l31-44l19 66l-30 56z"/>
<path fill="#163cc6" d="M5329 8643l32-36l19 54l-32 48z"/>
<path fill="#185ba0" d="M5361 8607l32-31l19 47l-32 38z"/>
<path fill="#1a7a7a" d="M5393 8576l33-28l18 41l-32 34z"/>
<path fill="#1e8569" d="M5426 8548l33-26l18 35l-33 32z"/>
<path fill="#279c46" d="M5459 8522l33-26l17 31l-32 30z"/>
<path fill="#32aa38" d="M5492 8496l33-25l17 27l-33 29z"/>
<path fill="#42b92c" d="M5525 8471l33-25l18 23l-34 29z"/>
<path fill="#61d815" d="M5558 8446l34-25l17 20l-33 28z"/>
<path fill="#6fdd11" d="M5592 8421l34-25l17 17l-34 28z"/>
<path fill="#7cde11" d="M5626 8396l34-23l17 14l-34 26z"/>
<path fill="#96df10" d="M5660 8373l35-23l16 11l-34 26z"/>
<path fill="#a3e010" d="M5695 8350l34-21l17 8l-35 24z"/>
<path fill="#b0e111" d="M5729 8329l35-19l16 5l-34 22z"/>
<path fill="#bee212" d="M5764 8310l35-17l16 2l-35 20z"/>
<path fill="#cce414" d="M5799 8293l35-14l16-1l-35 17z"/>
<path fill="#dae515" d="M5834 8279l36-11l16-4l-36 14zM5870 8268l35-8l16-7l-35 11z"/>
<path fill="#e8e616" d="M5905 8260l36-5l16-9l-36 7zM5941 8255l36-1l16-12l-36 4z"/>
<path fill="#f6e818" d="M5977 8254l36 1l16-14l-36 1zM6013 8255l36 5l16-16l-36-3zM6049 8260l36 8l16-18l-36-6zM6085 8268l37 10l15-19l-36-9z"/>
<path fill="#e8e616" d="M6122 8278l36 13l15-20l-36-12zM6158 8291l36 14l16-20l-37-14zM6194 8305l37 17l15-20l-36-17z"/>
<path fill="#dae515" d="M6231 8322l37 18l15-20l-37-18zM6268 8340l36 20l15-20l-36-20z"/>
<path fill="#cce414" d="M6304 8360l37 21l15-20l-37-21z"/>
<path fill="#bee212" d="M6341 8381l37 21l14-18l-36-23zM6378 8402l36 23l15-18l-37-23z"/>
<path fill="#b0e111" d="M6414 8425l37 23l15-16l-37-25z"/>
<path fill="#a3e010" d="M6451 8448l37 24l14-15l-36-25z"/>
<path fill="#96df10" d="M6488 8472l37 24l14-13l-37-26zM6525 8496l37 26l14-12l-37-27z"/>
<path fill="#89df10" d="M6562 8522l37 27l14-11l-37-28z"/>
<path fill="#7cde11" d="M6599 8549l37 28l14-10l-37-29z"/>
<path fill="#6fdd11" d="M6636 8577l37 29l13-9l-36-30z"/>
<path fill="#61d815" d="M6673 8606l37 31l13-8l-37-32z"/>
<path fill="#51c921" d="M6710 8637l36 32l14-7l-37-33z"/>
<path fill="#42b92c" d="M6746 8669l37 34l13-6l-36-35z"/>
<path fill="#32aa38" d="M6783 8703l37 34l13-3l-37-37z"/>
<path fill="#229157" d="M6820 8737l37 36l12-1l-36-38z"/>
<path fill="#1e8569" d="M6857 8773l37 35l12 3l-37-39z"/>
<path fill="#1a7a7a" d="M6894 8808l37 34l11 8l-36-39z"/>
<path fill="#196b8d" d="M6931 8842l37 30l11 17l-37-39z"/>
<path fill="#185ba0" d="M6968 8872l37 25l10 28l-36-36z"/>
<path fill="#174cb3" d="M7005 8897l38 16l9 41l-37-29z"/>
<path fill="#142dda" d="M5246 8653l32-31l20 65l-32 40z"/>
<path fill="#174cb3" d="M5278 8622l32-34l19 55l-31 44z"/>
<path fill="#196b8d" d="M5310 8588l32-28l19 47l-32 36z"/>
<path fill="#1e8569" d="M5342 8560l33-26l18 42l-32 31z"/>
<path fill="#229157" d="M5375 8534l32-24l19 38l-33 28z"/>
<path fill="#279c46" d="M5407 8510l33-23l19 35l-33 26z"/>
<path fill="#42b92c" d="M5440 8487l34-22l18 31l-33 26z"/>
<path fill="#51c921" d="M5474 8465l33-22l18 28l-33 25z"/>
<path fill="#61d815" d="M5507 8443l34-22l17 25l-33 25z"/>
<path fill="#6fdd11" d="M5541 8421l34-22l17 22l-34 25z"/>
<path fill="#7cde11" d="M5575 8399l34-21l17 18l-34 25z"/>
<path fill="#96df10" d="M5609 8378l34-20l17 15l-34 23z"/>
<path fill="#a3e010" d="M5643 8358l35-19l17 11l-35 23z"/>
<path fill="#b0e111" d="M5678 8339l34-17l17 7l-34 21z"/>
<path fill="#bee212" d="M5712 8322l35-15l17 3l-35 19z"/>
<path fill="#cce414" d="M5747 8307l35-13l17-1l-35 17zM5782 8294l36-10l16-5l-35 14z"/>
<path fill="#dae515" d="M5818 8284l35-8l17-8l-36 11z"/>
<path fill="#e8e616" d="M5853 8276l36-4l16-12l-35 8zM5889 8272l36-2l16-15l-36 5zM5925 8270l36 1l16-17l-36 1zM5961 8271l36 4l16-20l-36-1zM5997 8275l36 7l16-22l-36-5zM6033 8282l37 9l15-23l-36-8zM6070 8291l36 11l16-24l-37-10zM6106 8302l36 14l16-25l-36-13zM6142 8316l37 15l15-26l-36-14z"/>
<path fill="#dae515" d="M6179 8331l37 17l15-26l-37-17zM6216 8348l36 18l16-26l-37-18z"/>
<path fill="#cce414" d="M6252 8366l37 19l15-25l-36-20zM6289 8385l37 20l15-24l-37-21z"/>
<path fill="#bee212" d="M6326 8405l37 21l15-24l-37-21z"/>
<path fill="#b0e111" d="M6363 8426l36 21l15-22l-36-23zM6399 8447l37 22l15-21l-37-23z"/>
<path fill="#a3e010" d="M6436 8469l37 23l15-20l-37-24z"/>
<path fill="#96df10" d="M6473 8492l37 23l15-19l-37-24z"/>
<path fill="#89df10" d="M6510 8515l37 25l15-18l-37-26zM6547 8540l38 25l14-16l-37-27z"/>
<path fill="#7cde11" d="M6585 8565l37 26l14-14l-37-28z"/>
<path fill="#6fdd11" d="M6622 8591l37 28l14-13l-37-29z"/>
<path fill="#61d815" d="M6659 8619l37 28l14-10l-37-31z"/>
<path fill="#51c921" d="M6696 8647l37 30l13-8l-36-32z"/>
<path fill="#42b92c" d="M6733 8677l37 31l13-5l-37-34z"/>
<path fill="#32aa38" d="M6770 8708l37 32l13-3l-37-34z"/>
<path fill="#279c46" d="M6807 8740l37 31l13 2l-37-36z"/>
<path fill="#229157" d="M6844 8771l37 31l13 6l-37-35z"/>
<path fill="#1e8569" d="M6881 8802l38 29l12 11l-37-34z"/>
<path fill="#1a7a7a" d="M6919 8831l37 24l12 17l-37-30z"/>
<path fill="#196b8d" d="M6956 8855l38 19l11 23l-37-25zM6994 8874l39 11l10 28l-38-16zM5226 8587l32-22l20 57l-32 31z"/>
<path fill="#1a7a7a" d="M5258 8565l32-25l20 48l-32 34z"/>
<path fill="#229157" d="M5290 8540l33-23l19 43l-32 28z"/>
<path fill="#279c46" d="M5323 8517l33-22l19 39l-33 26z"/>
<path fill="#32aa38" d="M5356 8495l33-21l18 36l-32 24z"/>
<path fill="#42b92c" d="M5389 8474l33-20l18 33l-33 23z"/>
<path fill="#51c921" d="M5422 8454l34-20l18 31l-34 22z"/>
<path fill="#6fdd11" d="M5456 8434l33-20l18 29l-33 22z"/>
<path fill="#7cde11" d="M5489 8414l34-19l18 26l-34 22z"/>
<path fill="#89df10" d="M5523 8395l34-18l18 22l-34 22z"/>
<path fill="#96df10" d="M5557 8377l35-18l17 19l-34 21z"/>
<path fill="#a3e010" d="M5592 8359l34-16l17 15l-34 20z"/>
<path fill="#b0e111" d="M5626 8343l35-14l17 10l-35 19z"/>
<path fill="#bee212" d="M5661 8329l35-12l16 5l-34 17zM5696 8317l35-11l16 1l-35 15z"/>
<path fill="#cce414" d="M5731 8306l35-8l16-4l-35 13z"/>
<path fill="#dae515" d="M5766 8298l35-6l17-8l-36 10zM5801 8292l36-4l16-12l-35 8z"/>
<path fill="#e8e616" d="M5837 8288l36-1l16-15l-36 4zM5873 8287l36 2l16-19l-36 2zM5909 8289l36 4l16-22l-36-1zM5945 8293l36 6l16-24l-36-4zM5981 8299l36 9l16-26l-36-7zM6017 8308l37 10l16-27l-37-9zM6054 8318l36 12l16-28l-36-11z"/>
<path fill="#dae515" d="M6090 8330l37 14l15-28l-36-14zM6127 8344l36 16l16-29l-37-15zM6163 8360l37 16l16-28l-37-17z"/>
<path fill="#cce414" d="M6200 8376l37 18l15-28l-36-18zM6237 8394l37 18l15-27l-37-19z"/>
<path fill="#bee212" d="M6274 8412l36 20l16-27l-37-20z"/>
<path fill="#b0e111" d="M6310 8432l37 20l16-26l-37-21zM6347 8452l37 20l15-25l-36-21z"/>
<path fill="#a3e010" d="M6384 8472l37 21l15-24l-37-22zM6421 8493l38 22l14-23l-37-23z"/>
<path fill="#96df10" d="M6459 8515l37 22l14-22l-37-23z"/>
<path fill="#89df10" d="M6496 8537l37 23l14-20l-37-25z"/>
<path fill="#7cde11" d="M6533 8560l37 24l15-19l-38-25zM6570 8584l37 24l15-17l-37-26z"/>
<path fill="#6fdd11" d="M6607 8608l38 25l14-14l-37-28z"/>
<path fill="#61d815" d="M6645 8633l37 26l14-12l-37-28z"/>
<path fill="#51c921" d="M6682 8659l37 27l14-9l-37-30z"/>
<path fill="#42b92c" d="M6719 8686l38 27l13-5l-37-31z"/>
<path fill="#32aa38" d="M6757 8713l37 27l13 0l-37-32z"/>
<path fill="#279c46" d="M6794 8740l38 27l12 4l-37-31zM6832 8767l37 26l12 9l-37-31z"/>
<path fill="#229157" d="M6869 8793l38 24l12 14l-38-29z"/>
<path fill="#1e8569" d="M6907 8817l38 21l11 17l-37-24z"/>
<path fill="#1a7a7a" d="M6945 8838l38 16l11 20l-38-19zM6983 8854l39 9l11 22l-39-11z"/>
<path fill="#229157" d="M5206 8528l32-14l20 51l-32 22z"/>
<path fill="#279c46" d="M5238 8514l33-18l19 44l-32 25z"/>
<path fill="#32aa38" d="M5271 8496l33-18l19 39l-33 23z"/>
<path fill="#42b92c" d="M5304 8478l33-19l19 36l-33 22z"/>
<path fill="#51c921" d="M5337 8459l33-19l19 34l-33 21z"/>
<path fill="#61d815" d="M5370 8440l34-19l18 33l-33 20z"/>
<path fill="#6fdd11" d="M5404 8421l33-18l19 31l-34 20z"/>
<path fill="#7cde11" d="M5437 8403l34-17l18 28l-33 20z"/>
<path fill="#89df10" d="M5471 8386l34-16l18 25l-34 19z"/>
<path fill="#96df10" d="M5505 8370l35-15l17 22l-34 18z"/>
<path fill="#a3e010" d="M5540 8355l34-13l18 17l-35 18z"/>
<path fill="#b0e111" d="M5574 8342l35-12l17 13l-34 16z"/>
<path fill="#bee212" d="M5609 8330l35-9l17 8l-35 14zM5644 8321l35-8l17 4l-35 12z"/>
<path fill="#cce414" d="M5679 8313l35-6l17-1l-35 11zM5714 8307l35-3l17-6l-35 8z"/>
<path fill="#dae515" d="M5749 8304l36-1l16-11l-35 6zM5785 8303l36 0l16-15l-36 4zM5821 8303l36 3l16-19l-36 1zM5857 8306l36 5l16-22l-36-2z"/>
<path fill="#e8e616" d="M5893 8311l36 7l16-25l-36-4zM5929 8318l36 8l16-27l-36-6z"/>
<path fill="#dae515" d="M5965 8326l36 10l16-28l-36-9zM6001 8336l37 12l16-30l-37-10zM6038 8348l36 13l16-31l-36-12zM6074 8361l37 14l16-31l-37-14z"/>
<path fill="#cce414" d="M6111 8375l37 15l15-30l-36-16zM6148 8390l36 16l16-30l-37-16z"/>
<path fill="#bee212" d="M6184 8406l37 18l16-30l-37-18zM6221 8424l37 17l16-29l-37-18z"/>
<path fill="#b0e111" d="M6258 8441l37 19l15-28l-36-20zM6295 8460l37 19l15-27l-37-20z"/>
<path fill="#a3e010" d="M6332 8479l37 20l15-27l-37-20zM6369 8499l37 20l15-26l-37-21z"/>
<path fill="#96df10" d="M6406 8519l38 20l15-24l-38-22z"/>
<path fill="#89df10" d="M6444 8539l37 21l15-23l-37-22zM6481 8560l37 21l15-21l-37-23z"/>
<path fill="#7cde11" d="M6518 8581l38 22l14-19l-37-24zM6556 8603l37 22l14-17l-37-24z"/>
<path fill="#6fdd11" d="M6593 8625l38 23l14-15l-38-25z"/>
<path fill="#61d815" d="M6631 8648l37 23l14-12l-37-26z"/>
<path fill="#51c921" d="M6668 8671l38 23l13-8l-37-27zM6706 8694l37 22l14-3l-38-27z"/>
<path fill="#42b92c" d="M6743 8716l38 23l13 1l-37-27z"/>
<path fill="#32aa38" d="M6781 8739l38 22l13 6l-38-27z"/>
<path fill="#279c46" d="M6819 8761l38 21l12 11l-37-26zM6857 8782l38 20l12 15l-38-24z"/>
<path fill="#229157" d="M6895 8802l38 17l12 19l-38-21zM6933 8819l39 15l11 20l-38-16z"/>
<path fill="#1e8569" d="M6972 8834l39 10l11 19l-39-9z"/>
<path fill="#42b92c" d="M5185 8473l34-7l19 48l-32 14zM5219 8466l33-11l19 41l-33 18z"/>
<path fill="#51c921" d="M5252 8455l33-15l19 38l-33 18z"/>
<path fill="#61d815" d="M5285 8440l33-16l19 35l-33 19z"/>
<path fill="#6fdd11" d="M5318 8424l34-17l18 33l-33 19z"/>
<path fill="#7cde11" d="M5352 8407l33-17l19 31l-34 19z"/>
<path fill="#89df10" d="M5385 8390l34-16l18 29l-33 18z"/>
<path fill="#96df10" d="M5419 8374l34-15l18 27l-34 17z"/>
<path fill="#a3e010" d="M5453 8359l34-13l18 24l-34 16z"/>
<path fill="#b0e111" d="M5487 8346l35-11l18 20l-35 15zM5522 8335l34-9l18 16l-34 13z"/>
<path fill="#bee212" d="M5556 8326l35-7l18 11l-35 12z"/>
<path fill="#cce414" d="M5591 8319l35-5l18 7l-35 9zM5626 8314l36-2l17 1l-35 8zM5662 8312l35-1l17-4l-35 6z"/>
<path fill="#dae515" d="M5697 8311l36 1l16-8l-35 3zM5733 8312l35 3l17-12l-36 1zM5768 8315l36 5l17-17l-36 0zM5804 8320l36 7l17-21l-36-3zM5840 8327l36 8l17-24l-36-5zM5876 8335l37 9l16-26l-36-7zM5913 8344l36 10l16-28l-36-8zM5949 8354l36 12l16-30l-36-10z"/>
<path fill="#cce414" d="M5985 8366l37 12l16-30l-37-12zM6022 8378l36 14l16-31l-36-13zM6058 8392l37 14l16-31l-37-14zM6095 8406l37 15l16-31l-37-15z"/>
<path fill="#bee212" d="M6132 8421l37 16l15-31l-36-16zM6169 8437l37 16l15-29l-37-18z"/>
<path fill="#b0e111" d="M6206 8453l37 17l15-29l-37-17zM6243 8470l37 18l15-28l-37-19z"/>
<path fill="#a3e010" d="M6280 8488l37 18l15-27l-37-19zM6317 8506l37 18l15-25l-37-20z"/>
<path fill="#96df10" d="M6354 8524l37 19l15-24l-37-20zM6391 8543l38 20l15-24l-38-20z"/>
<path fill="#89df10" d="M6429 8563l37 19l15-22l-37-21zM6466 8582l38 20l14-21l-37-21z"/>
<path fill="#7cde11" d="M6504 8602l37 20l15-19l-38-22z"/>
<path fill="#6fdd11" d="M6541 8622l38 19l14-16l-37-22zM6579 8641l37 20l15-13l-38-23z"/>
<path fill="#61d815" d="M6616 8661l38 20l14-10l-37-23zM6654 8681l38 19l14-6l-38-23z"/>
<path fill="#51c921" d="M6692 8700l38 18l13-2l-37-22z"/>
<path fill="#42b92c" d="M6730 8718l38 18l13 3l-38-23zM6768 8736l38 17l13 8l-38-22z"/>
<path fill="#32aa38" d="M6806 8753l39 17l12 12l-38-21zM6845 8770l38 15l12 17l-38-20z"/>
<path fill="#279c46" d="M6883 8785l39 14l11 20l-38-17zM6922 8799l39 14l11 21l-39-15zM6961 8813l39 11l11 20l-39-10z"/>
<path fill="#61d815" d="M5165 8422l34 0l20 44l-34 7z"/>
<path fill="#6fdd11" d="M5199 8422l33-7l20 40l-33 11zM5232 8415l33-11l20 36l-33 15z"/>
<path fill="#7cde11" d="M5265 8404l34-15l19 35l-33 16z"/>
<path fill="#89df10" d="M5299 8389l34-15l19 33l-34 17z"/>
<path fill="#96df10" d="M5333 8374l33-14l19 30l-33 17z"/>
<path fill="#a3e010" d="M5366 8360l34-14l19 28l-34 16z"/>
<path fill="#b0e111" d="M5400 8346l35-12l18 25l-34 15zM5435 8334l34-10l18 22l-34 13z"/>
<path fill="#bee212" d="M5469 8324l35-7l18 18l-35 11zM5504 8317l35-5l17 14l-34 9z"/>
<path fill="#cce414" d="M5539 8312l35-2l17 9l-35 7zM5574 8310l35 0l17 4l-35 5z"/>
<path fill="#dae515" d="M5609 8310l36 2l17 0l-36 2zM5645 8312l35 5l17-6l-35 1zM5680 8317l36 6l17-11l-36-1zM5716 8323l36 7l16-15l-35-3zM5752 8330l36 9l16-19l-36-5zM5788 8339l36 10l16-22l-36-7zM5824 8349l36 11l16-25l-36-8z"/>
<path fill="#cce414" d="M5860 8360l36 11l17-27l-37-9zM5896 8371l37 12l16-29l-36-10zM5933 8383l36 13l16-30l-36-12zM5969 8396l37 13l16-31l-37-12z"/>
<path fill="#bee212" d="M6006 8409l36 14l16-31l-36-14zM6042 8423l37 14l16-31l-37-14zM6079 8437l37 15l16-31l-37-15z"/>
<path fill="#b0e111" d="M6116 8452l37 15l16-30l-37-16zM6153 8467l37 15l16-29l-37-16zM6190 8482l37 16l16-28l-37-17z"/>
<path fill="#a3e010" d="M6227 8498l37 17l16-27l-37-18zM6264 8515l37 17l16-26l-37-18z"/>
<path fill="#96df10" d="M6301 8532l38 17l15-25l-37-18zM6339 8549l37 18l15-24l-37-19z"/>
<path fill="#89df10" d="M6376 8567l38 17l15-21l-38-20zM6414 8584l37 18l15-20l-37-19z"/>
<path fill="#7cde11" d="M6451 8602l38 18l15-18l-38-20zM6489 8620l38 18l14-16l-37-20z"/>
<path fill="#6fdd11" d="M6527 8638l37 18l15-15l-38-19zM6564 8656l38 16l14-11l-37-20z"/>
<path fill="#61d815" d="M6602 8672l38 17l14-8l-38-20zM6640 8689l38 15l14-4l-38-19z"/>
<path fill="#51c921" d="M6678 8704l39 14l13 0l-38-18zM6717 8718l38 14l13 4l-38-18zM6755 8732l39 12l12 9l-38-17z"/>
<path fill="#42b92c" d="M6794 8744l38 12l13 14l-39-17zM6832 8756l39 11l12 18l-38-15zM6871 8767l39 11l12 21l-39-14z"/>
<path fill="#32aa38" d="M6910 8778l39 12l12 23l-39-14zM6949 8790l39 13l12 21l-39-11z"/>
<path fill="#89df10" d="M5145 8375l34 5l20 42l-34 0zM5179 8380l33-3l20 38l-33 7zM5212 8377l34-9l19 36l-33 11z"/>
<path fill="#96df10" d="M5246 8368l34-12l19 33l-34 15z"/>
<path fill="#a3e010" d="M5280 8356l33-13l20 31l-34 15z"/>
<path fill="#b0e111" d="M5313 8343l34-12l19 29l-33 14zM5347 8331l35-11l18 26l-34 14z"/>
<path fill="#bee212" d="M5382 8320l34-9l19 23l-35 12z"/>
<path fill="#cce414" d="M5416 8311l35-6l18 19l-34 10zM5451 8305l35-4l18 16l-35 7z"/>
<path fill="#dae515" d="M5486 8301l35 0l18 11l-35 5zM5521 8301l35 2l18 7l-35 2zM5556 8303l36 5l17 2l-35 0zM5592 8308l35 7l18-3l-36-2zM5627 8315l36 9l17-7l-35-5zM5663 8324l36 11l17-12l-36-6zM5699 8335l36 11l17-16l-36-7zM5735 8346l36 13l17-20l-36-9z"/>
<path fill="#cce414" d="M5771 8359l36 13l17-23l-36-10zM5807 8372l37 13l16-25l-36-11zM5844 8385l36 14l16-28l-36-11zM5880 8399l36 13l17-29l-37-12z"/>
<path fill="#bee212" d="M5916 8412l37 14l16-30l-36-13zM5953 8426l37 14l16-31l-37-13zM5990 8440l36 14l16-31l-36-14z"/>
<path fill="#b0e111" d="M6026 8454l37 13l16-30l-37-14zM6063 8467l37 15l16-30l-37-15zM6100 8482l37 14l16-29l-37-15z"/>
<path fill="#a3e010" d="M6137 8496l37 14l16-28l-37-15zM6174 8510l37 15l16-27l-37-16zM6211 8525l38 15l15-25l-37-17z"/>
<path fill="#96df10" d="M6249 8540l37 16l15-24l-37-17zM6286 8556l37 16l16-23l-38-17z"/>
<path fill="#89df10" d="M6323 8572l38 16l15-21l-37-18zM6361 8588l38 16l15-20l-38-17z"/>
<path fill="#7cde11" d="M6399 8604l37 17l15-19l-37-18zM6436 8621l38 16l15-17l-38-18zM6474 8637l38 15l15-14l-38-18z"/>
<path fill="#6fdd11" d="M6512 8652l38 15l14-11l-37-18zM6550 8667l38 15l14-10l-38-16z"/>
<path fill="#61d815" d="M6588 8682l38 13l14-6l-38-17zM6626 8695l39 11l13-2l-38-15zM6665 8706l38 10l14 2l-39-14zM6703 8716l39 9l13 7l-38-14z"/>
<path fill="#51c921" d="M6742 8725l39 8l13 11l-39-12zM6781 8733l39 7l12 16l-38-12zM6820 8740l39 7l12 20l-39-11zM6859 8747l39 8l12 23l-39-11zM6898 8755l40 11l11 24l-39-12zM6938 8766l39 13l11 24l-39-13z"/>
<path fill="#a3e010" d="M5124 8331l34 8l21 41l-34-5zM5158 8339l34 1l20 37l-33 3zM5192 8340l34-6l20 34l-34 9z"/>
<path fill="#b0e111" d="M5226 8334l34-10l20 32l-34 12z"/>
<path fill="#bee212" d="M5260 8324l34-11l19 30l-33 13zM5294 8313l34-10l19 28l-34 12z"/>
<path fill="#cce414" d="M5328 8303l35-8l19 25l-35 11z"/>
<path fill="#dae515" d="M5363 8295l35-5l18 21l-34 9zM5398 8290l35-3l18 18l-35 6zM5433 8287l35 1l18 13l-35 4z"/>
<path fill="#e8e616" d="M5468 8288l35 4l18 9l-35 0zM5503 8292l36 7l17 4l-35-2zM5539 8299l35 10l18-1l-36-5z"/>
<path fill="#dae515" d="M5574 8309l36 11l17-5l-35-7zM5610 8320l36 14l17-10l-36-9zM5646 8334l36 14l17-13l-36-11zM5682 8348l36 15l17-17l-36-11z"/>
<path fill="#cce414" d="M5718 8363l36 16l17-20l-36-13zM5754 8379l37 16l16-23l-36-13zM5791 8395l36 15l17-25l-37-13z"/>
<path fill="#bee212" d="M5827 8410l36 16l17-27l-36-14zM5863 8426l37 15l16-29l-36-13zM5900 8441l37 14l16-29l-37-14z"/>
<path fill="#b0e111" d="M5937 8455l36 14l17-29l-37-14zM5973 8469l37 14l16-29l-36-14zM6010 8483l37 13l16-29l-37-13z"/>
<path fill="#a3e010" d="M6047 8496l37 14l16-28l-37-15zM6084 8510l37 13l16-27l-37-14zM6121 8523l37 14l16-27l-37-14z"/>
<path fill="#96df10" d="M6158 8537l38 13l15-25l-37-15zM6196 8550l37 14l16-24l-38-15zM6233 8564l38 14l15-22l-37-16z"/>
<path fill="#89df10" d="M6271 8578l37 15l15-21l-37-16zM6308 8593l38 14l15-19l-38-16zM6346 8607l37 15l16-18l-38-16z"/>
<path fill="#7cde11" d="M6383 8622l38 15l15-16l-37-17zM6421 8637l38 14l15-14l-38-16zM6459 8651l38 13l15-12l-38-15z"/>
<path fill="#6fdd11" d="M6497 8664l38 13l15-10l-38-15zM6535 8677l39 11l14-6l-38-15zM6574 8688l38 10l14-3l-38-13zM6612 8698l39 9l14-1l-39-11z"/>
<path fill="#61d815" d="M6651 8707l39 6l13 3l-38-10zM6690 8713l39 5l13 7l-39-9zM6729 8718l39 3l13 12l-39-8zM6768 8721l40 3l12 16l-39-7zM6808 8724l39 3l12 20l-39-7zM6847 8727l40 5l11 23l-39-8zM6887 8732l39 9l12 25l-40-11zM6926 8741l40 12l11 26l-39-13z"/>
<path fill="#bee212" d="M5103 8289l35 11l20 39l-34-8zM5138 8300l34 3l20 37l-34-1zM5172 8303l34-3l20 34l-34 6z"/>
<path fill="#cce414" d="M5206 8300l34-7l20 31l-34 10zM5240 8293l35-8l19 28l-34 11z"/>
<path fill="#dae515" d="M5275 8285l34-7l19 25l-34 10zM5309 8278l35-5l19 22l-35 8z"/>
<path fill="#e8e616" d="M5344 8273l35-2l19 19l-35 5zM5379 8271l35 2l19 14l-35 3zM5414 8273l35 5l19 10l-35-1zM5449 8278l36 9l18 5l-35-4zM5485 8287l36 11l18 1l-36-7zM5521 8298l36 14l17-3l-35-10zM5557 8312l36 16l17-8l-36-11z"/>
<path fill="#dae515" d="M5593 8328l36 17l17-11l-36-14zM5629 8345l36 18l17-15l-36-14zM5665 8363l36 18l17-18l-36-15z"/>
<path fill="#cce414" d="M5701 8381l37 19l16-21l-36-16zM5738 8400l36 18l17-23l-37-16z"/>
<path fill="#bee212" d="M5774 8418l36 17l17-25l-36-15zM5810 8435l37 17l16-26l-36-16z"/>
<path fill="#b0e111" d="M5847 8452l37 16l16-27l-37-15zM5884 8468l36 15l17-28l-37-14zM5920 8483l37 14l16-28l-36-14z"/>
<path fill="#a3e010" d="M5957 8497l37 14l16-28l-37-14zM5994 8511l37 13l16-28l-37-13zM6031 8524l37 12l16-26l-37-14z"/>
<path fill="#96df10" d="M6068 8536l37 13l16-26l-37-13zM6105 8549l38 12l15-24l-37-14zM6143 8561l37 12l16-23l-38-13zM6180 8573l37 13l16-22l-37-14z"/>
<path fill="#89df10" d="M6217 8586l38 13l16-21l-38-14zM6255 8599l38 12l15-18l-37-15zM6293 8611l37 13l16-17l-38-14z"/>
<path fill="#7cde11" d="M6330 8624l38 13l15-15l-37-15zM6368 8637l38 13l15-13l-38-15zM6406 8650l38 12l15-11l-38-14zM6444 8662l39 12l14-10l-38-13z"/>
<path fill="#6fdd11" d="M6483 8674l38 10l14-7l-38-13zM6521 8684l39 9l14-5l-39-11zM6560 8693l38 7l14-2l-38-10zM6598 8700l39 5l14 2l-39-9zM6637 8705l39 3l14 5l-39-6zM6676 8708l40 1l13 9l-39-5zM6716 8709l39 0l13 12l-39-3z"/>
<path fill="#7cde11" d="M6755 8709l40-2l13 17l-40-3zM6795 8707l40-1l12 21l-39-3zM6835 8706l40 2l12 24l-40-5zM6875 8708l40 6l11 27l-39-9zM6915 8714l39 11l12 28l-40-12z"/>
<path fill="#dae515" d="M5083 8250l34 13l21 37l-35-11zM5117 8263l35 5l20 35l-34-3zM5152 8268l34-1l20 33l-34 3z"/>
<path fill="#e8e616" d="M5186 8267l35-5l19 31l-34 7zM5221 8262l34-4l20 27l-35 8z"/>
<path fill="#f6e818" d="M5255 8258l35-4l19 24l-34 7zM5290 8254l35-1l19 20l-35 5zM5325 8253l35 2l19 16l-35 2zM5360 8255l35 6l19 12l-35-2zM5395 8261l36 10l18 7l-35-5zM5431 8271l36 13l18 3l-36-9zM5467 8284l36 15l18-1l-36-11z"/>
<path fill="#e8e616" d="M5503 8299l36 18l18-5l-36-14zM5539 8317l36 20l18-9l-36-16zM5575 8337l36 20l18-12l-36-17z"/>
<path fill="#dae515" d="M5611 8357l37 22l17-16l-36-18z"/>
<path fill="#cce414" d="M5648 8379l36 21l17-19l-36-18zM5684 8400l37 21l17-21l-37-19z"/>
<path fill="#bee212" d="M5721 8421l36 20l17-23l-36-18zM5757 8441l37 19l16-25l-36-17z"/>
<path fill="#b0e111" d="M5794 8460l36 18l17-26l-37-17zM5830 8478l37 16l17-26l-37-16z"/>
<path fill="#a3e010" d="M5867 8494l37 16l16-27l-36-15zM5904 8510l37 14l16-27l-37-14zM5941 8524l37 13l16-26l-37-14zM5978 8537l37 12l16-25l-37-13z"/>
<path fill="#96df10" d="M6015 8549l37 12l16-25l-37-12zM6052 8561l37 11l16-23l-37-13zM6089 8572l38 12l16-23l-38-12zM6127 8584l37 11l16-22l-37-12z"/>
<path fill="#89df10" d="M6164 8595l38 11l15-20l-37-13zM6202 8606l37 11l16-18l-38-13zM6239 8617l38 11l16-17l-38-12zM6277 8628l38 11l15-15l-37-13z"/>
<path fill="#7cde11" d="M6315 8639l38 12l15-14l-38-13zM6353 8651l38 11l15-12l-38-13zM6391 8662l38 10l15-10l-38-12zM6429 8672l39 9l15-7l-39-12zM6468 8681l38 9l15-6l-38-10zM6506 8690l39 6l15-3l-39-9zM6545 8696l39 4l14 0l-38-7zM6584 8700l39 3l14 2l-39-5zM6623 8703l40 0l13 5l-39-3zM6663 8703l39-3l14 9l-40-1zM6702 8700l40-4l13 13l-39 0z"/>
<path fill="#89df10" d="M6742 8696l40-5l13 16l-40 2zM6782 8691l40-5l13 20l-40 1zM6822 8686l41-2l12 24l-40-2zM6863 8684l40 2l12 28l-40-6zM6903 8686l40 9l11 30l-39-11z"/>
<path fill="#f6e818" d="M5062 8214l35 13l20 36l-34-13zM5097 8227l34 7l21 34l-35-5zM5131 8234l35 1l20 32l-34 1zM5166 8235l35-1l20 28l-35 5z"/>
<path fill="#f9e217" d="M5201 8234l34-2l20 26l-34 4zM5235 8232l35 1l20 21l-35 4zM5270 8233l36 3l19 17l-35 1zM5306 8236l35 6l19 13l-35-2zM5341 8242l36 11l18 8l-35-6zM5377 8253l36 13l18 5l-36-10zM5413 8266l36 17l18 1l-36-13z"/>
<path fill="#f6e818" d="M5449 8283l36 20l18-4l-36-15zM5485 8303l36 21l18-7l-36-18z"/>
<path fill="#e8e616" d="M5521 8324l37 23l17-10l-36-20zM5558 8347l36 24l17-14l-36-20z"/>
<path fill="#dae515" d="M5594 8371l36 24l18-16l-37-22z"/>
<path fill="#cce414" d="M5630 8395l37 24l17-19l-36-21zM5667 8419l37 22l17-20l-37-21z"/>
<path fill="#bee212" d="M5704 8441l36 22l17-22l-36-20z"/>
<path fill="#b0e111" d="M5740 8463l37 20l17-23l-37-19zM5777 8483l37 19l16-24l-36-18z"/>
<path fill="#a3e010" d="M5814 8502l36 17l17-25l-37-16zM5850 8519l37 16l17-25l-37-16zM5887 8535l37 14l17-25l-37-14z"/>
<path fill="#96df10" d="M5924 8549l37 12l17-24l-37-13zM5961 8561l37 12l17-24l-37-12zM5998 8573l38 11l16-23l-37-12zM6036 8584l37 10l16-22l-37-11z"/>
<path fill="#89df10" d="M6073 8594l38 10l16-20l-38-12zM6111 8604l37 10l16-19l-37-11zM6148 8614l38 10l16-18l-38-11zM6186 8624l38 9l15-16l-37-11zM6224 8633l38 10l15-15l-38-11zM6262 8643l38 10l15-14l-38-11z"/>
<path fill="#7cde11" d="M6300 8653l38 9l15-11l-38-12zM6338 8662l38 10l15-10l-38-11zM6376 8672l39 8l14-8l-38-10zM6415 8680l38 7l15-6l-39-9zM6453 8687l39 6l14-3l-38-9zM6492 8693l39 5l14-2l-39-6zM6531 8698l39 2l14 0l-39-4zM6570 8700l39-1l14 4l-39-3zM6609 8699l40-3l14 7l-40 0z"/>
<path fill="#89df10" d="M6649 8696l40-5l13 9l-39 3zM6689 8691l40-8l13 13l-40 4z"/>
<path fill="#96df10" d="M6729 8683l40-8l13 16l-40 5zM6769 8675l41-9l12 20l-40 5z"/>
<path fill="#a3e010" d="M6810 8666l41-6l12 24l-41 2zM6851 8660l40-2l12 28l-40-2zM6891 8658l41 6l11 31l-40-9z"/>
<path fill="#fadb15" d="M5041 8180l35 14l21 33l-35-13zM5076 8194l35 8l20 32l-34-7zM5111 8202l35 4l20 29l-35-1zM5146 8206l35 1l20 27l-35 1zM5181 8207l35 3l19 22l-34 2zM5216 8210l35 4l19 19l-35-1zM5251 8214l35 7l20 15l-36-3zM5286 8221l36 11l19 10l-35-6zM5322 8232l36 15l19 6l-36-11zM5358 8247l36 17l19 2l-36-13z"/>
<path fill="#f9e217" d="M5394 8264l36 21l19-2l-36-17zM5430 8285l37 24l18-6l-36-20z"/>
<path fill="#f6e818" d="M5467 8309l36 24l18-9l-36-21z"/>
<path fill="#e8e616" d="M5503 8333l37 26l18-12l-37-23zM5540 8359l36 27l18-15l-36-24z"/>
<path fill="#dae515" d="M5576 8386l37 26l17-17l-36-24z"/>
<path fill="#cce414" d="M5613 8412l37 25l17-18l-37-24z"/>
<path fill="#bee212" d="M5650 8437l36 25l18-21l-37-22zM5686 8462l37 23l17-22l-36-22z"/>
<path fill="#b0e111" d="M5723 8485l37 21l17-23l-37-20z"/>
<path fill="#a3e010" d="M5760 8506l37 19l17-23l-37-19zM5797 8525l37 17l16-23l-36-17z"/>
<path fill="#96df10" d="M5834 8542l37 16l16-23l-37-16zM5871 8558l37 14l16-23l-37-14zM5908 8572l37 12l16-23l-37-12zM5945 8584l37 11l16-22l-37-12z"/>
<path fill="#89df10" d="M5982 8595l37 10l17-21l-38-11zM6019 8605l38 10l16-21l-37-10zM6057 8615l37 8l17-19l-38-10zM6094 8623l38 9l16-18l-37-10zM6132 8632l38 8l16-16l-38-10zM6170 8640l38 8l16-15l-38-9zM6208 8648l38 9l16-14l-38-10zM6246 8657l38 8l16-12l-38-10z"/>
<path fill="#7cde11" d="M6284 8665l38 8l16-11l-38-9zM6322 8673l39 7l15-8l-38-10zM6361 8680l38 7l16-7l-39-8zM6399 8687l39 5l15-5l-38-7zM6438 8692l39 4l15-3l-39-6zM6477 8696l39 2l15 0l-39-5z"/>
<path fill="#89df10" d="M6516 8698l40 0l14 2l-39-2zM6556 8698l39-3l14 4l-39 1zM6595 8695l40-6l14 7l-40 3z"/>
<path fill="#96df10" d="M6635 8689l40-8l14 10l-40 5zM6675 8681l41-10l13 12l-40 8z"/>
<path fill="#a3e010" d="M6716 8671l40-12l13 16l-40 8zM6756 8659l41-12l13 19l-41 9z"/>
<path fill="#b0e111" d="M6797 8647l41-10l13 23l-41 6z"/>
<path fill="#bee212" d="M6838 8637l41-5l12 26l-40 2zM6879 8632l41 2l12 30l-41-6z"/>
<path fill="#fdce13" d="M5020 8150l35 13l21 31l-35-14z"/>
<path fill="#fbd414" d="M5055 8163l35 10l21 29l-35-8zM5090 8173l35 5l21 28l-35-4zM5125 8178l35 5l21 24l-35-1z"/>
<path fill="#fdce13" d="M5160 8183l36 6l20 21l-35-3zM5196 8189l35 9l20 16l-35-4z"/>
<path fill="#fbd414" d="M5231 8198l36 12l19 11l-35-7zM5267 8210l36 15l19 7l-36-11zM5303 8225l36 19l19 3l-36-15z"/>
<path fill="#fadb15" d="M5339 8244l37 21l18-1l-36-17zM5376 8265l36 25l18-5l-36-21z"/>
<path fill="#f9e217" d="M5412 8290l37 26l18-7l-37-24z"/>
<path fill="#f6e818" d="M5449 8316l36 28l18-11l-36-24z"/>
<path fill="#e8e616" d="M5485 8344l37 29l18-14l-37-26z"/>
<path fill="#dae515" d="M5522 8373l37 28l17-15l-36-27zM5559 8401l37 28l17-17l-37-26z"/>
<path fill="#cce414" d="M5596 8429l36 27l18-19l-37-25z"/>
<path fill="#bee212" d="M5632 8456l37 26l17-20l-36-25z"/>
<path fill="#b0e111" d="M5669 8482l37 24l17-21l-37-23zM5706 8506l37 21l17-21l-37-21z"/>
<path fill="#a3e010" d="M5743 8527l37 20l17-22l-37-19zM5780 8547l37 17l17-22l-37-17z"/>
<path fill="#96df10" d="M5817 8564l37 16l17-22l-37-16zM5854 8580l37 13l17-21l-37-14z"/>
<path fill="#89df10" d="M5891 8593l37 12l17-21l-37-12zM5928 8605l38 11l16-21l-37-11zM5966 8616l37 9l16-20l-37-10zM6003 8625l38 8l16-18l-38-10zM6041 8633l37 8l16-18l-37-8zM6078 8641l38 7l16-16l-38-9zM6116 8648l38 7l16-15l-38-8zM6154 8655l38 7l16-14l-38-8zM6192 8662l38 7l16-12l-38-9zM6230 8669l39 7l15-11l-38-8zM6269 8676l38 6l15-9l-38-8zM6307 8682l39 6l15-8l-39-7zM6346 8688l38 4l15-5l-38-7zM6384 8692l39 4l15-4l-39-5zM6423 8696l39 2l15-2l-39-4zM6462 8698l40 0l14 0l-39-2zM6502 8698l39-2l15 2l-40 0zM6541 8696l40-5l14 4l-39 3z"/>
<path fill="#96df10" d="M6581 8691l40-8l14 6l-40 6zM6621 8683l40-11l14 9l-40 8z"/>
<path fill="#a3e010" d="M6661 8672l41-13l14 12l-41 10z"/>
<path fill="#b0e111" d="M6702 8659l41-14l13 14l-40 12z"/>
<path fill="#bee212" d="M6743 8645l41-15l13 17l-41 12zM6784 8630l42-14l12 21l-41 10z"/>
<path fill="#cce414" d="M6826 8616l41-9l12 25l-41 5zM6867 8607l41-2l12 29l-41-2z"/>
<path fill="#fec711" d="M4998 8122l36 13l21 28l-35-13zM5034 8135l35 11l21 27l-35-10zM5069 8146l36 8l20 24l-35-5zM5105 8154l35 8l20 21l-35-5zM5140 8162l36 10l20 17l-36-6zM5176 8172l36 13l19 13l-35-9z"/>
<path fill="#fdce13" d="M5212 8185l36 16l19 9l-36-12zM5248 8201l36 19l19 5l-36-15z"/>
<path fill="#fbd414" d="M5284 8220l36 23l19 1l-36-19zM5320 8243l37 26l19-4l-37-21z"/>
<path fill="#fadb15" d="M5357 8269l37 28l18-7l-36-25z"/>
<path fill="#f9e217" d="M5394 8297l36 29l19-10l-37-26z"/>
<path fill="#f6e818" d="M5430 8326l37 31l18-13l-36-28z"/>
<path fill="#e8e616" d="M5467 8357l37 30l18-14l-37-29z"/>
<path fill="#dae515" d="M5504 8387l37 31l18-17l-37-28z"/>
<path fill="#cce414" d="M5541 8418l37 29l18-18l-37-28zM5578 8447l37 28l17-19l-36-27z"/>
<path fill="#bee212" d="M5615 8475l37 27l17-20l-37-26z"/>
<path fill="#b0e111" d="M5652 8502l37 24l17-20l-37-24z"/>
<path fill="#a3e010" d="M5689 8526l37 22l17-21l-37-21zM5726 8548l37 20l17-21l-37-20z"/>
<path fill="#96df10" d="M5763 8568l37 17l17-21l-37-17zM5800 8585l37 15l17-20l-37-16z"/>
<path fill="#89df10" d="M5837 8600l37 13l17-20l-37-13zM5874 8613l38 12l16-20l-37-12zM5912 8625l37 9l17-18l-38-11zM5949 8634l37 9l17-18l-37-9zM5986 8643l38 8l17-18l-38-8zM6024 8651l38 6l16-16l-37-8zM6062 8657l38 7l16-16l-38-7zM6100 8664l38 6l16-15l-38-7zM6138 8670l38 5l16-13l-38-7zM6176 8675l38 6l16-12l-38-7zM6214 8681l39 5l16-10l-39-7zM6253 8686l38 4l16-8l-38-6zM6291 8690l39 5l16-7l-39-6zM6330 8695l39 3l15-6l-38-4zM6369 8698l39 2l15-4l-39-4zM6408 8700l39 0l15-2l-39-2zM6447 8700l40-2l15 0l-40 0z"/>
<path fill="#96df10" d="M6487 8698l40-4l14 2l-39 2zM6527 8694l40-7l14 4l-40 5z"/>
<path fill="#a3e010" d="M6567 8687l40-10l14 6l-40 8zM6607 8677l40-13l14 8l-40 11z"/>
<path fill="#b0e111" d="M6647 8664l41-15l14 10l-41 13z"/>
<path fill="#bee212" d="M6688 8649l42-17l13 13l-41 14z"/>
<path fill="#cce414" d="M6730 8632l41-18l13 16l-41 15z"/>
<path fill="#dae515" d="M6771 8614l42-17l13 19l-42 14zM6813 8597l41-13l13 23l-41 9z"/>
<path fill="#e8e616" d="M6854 8584l42-6l12 27l-41 2z"/>
<path fill="#ffb610" d="M4977 8098l36 12l21 25l-36-13zM5013 8110l35 12l21 24l-35-11z"/>
<path fill="#ffc010" d="M5048 8122l36 11l21 21l-36-8zM5084 8133l36 11l20 18l-35-8zM5120 8144l36 14l20 14l-36-10zM5156 8158l36 17l20 10l-36-13z"/>
<path fill="#fec711" d="M5192 8175l36 20l20 6l-36-16zM5228 8195l37 24l19 1l-36-19z"/>
<path fill="#fdce13" d="M5265 8219l37 27l18-3l-36-23z"/>
<path fill="#fbd414" d="M5302 8246l36 29l19-6l-37-26z"/>
<path fill="#fadb15" d="M5338 8275l37 31l19-9l-37-28z"/>
<path fill="#f9e217" d="M5375 8306l37 32l18-12l-36-29z"/>
<path fill="#f6e818" d="M5412 8338l37 32l18-13l-37-31z"/>
<path fill="#e8e616" d="M5449 8370l37 33l18-16l-37-30z"/>
<path fill="#dae515" d="M5486 8403l37 32l18-17l-37-31z"/>
<path fill="#cce414" d="M5523 8435l37 30l18-18l-37-29z"/>
<path fill="#bee212" d="M5560 8465l37 29l18-19l-37-28z"/>
<path fill="#b0e111" d="M5597 8494l37 27l18-19l-37-27zM5634 8521l37 24l18-19l-37-24z"/>
<path fill="#a3e010" d="M5671 8545l37 22l18-19l-37-22z"/>
<path fill="#96df10" d="M5708 8567l38 20l17-19l-37-20zM5746 8587l37 17l17-19l-37-17zM5783 8604l37 15l17-19l-37-15z"/>
<path fill="#89df10" d="M5820 8619l37 13l17-19l-37-13zM5857 8632l38 11l17-18l-38-12zM5895 8643l37 9l17-18l-37-9zM5932 8652l38 8l16-17l-37-9zM5970 8660l38 7l16-16l-38-8zM6008 8667l37 6l17-16l-38-6zM6045 8673l39 5l16-14l-38-7zM6084 8678l38 5l16-13l-38-6zM6122 8683l38 5l16-13l-38-5zM6160 8688l38 4l16-11l-38-6zM6198 8692l39 4l16-10l-39-5zM6237 8696l39 3l15-9l-38-4zM6276 8699l39 2l15-6l-39-5zM6315 8701l39 2l15-5l-39-3zM6354 8703l39 0l15-3l-39-2z"/>
<path fill="#96df10" d="M6393 8703l39-1l15-2l-39 0zM6432 8702l40-4l15 0l-40 2zM6472 8698l40-6l15 2l-40 4z"/>
<path fill="#a3e010" d="M6512 8692l40-9l15 4l-40 7zM6552 8683l41-12l14 6l-40 10z"/>
<path fill="#b0e111" d="M6593 8671l40-14l14 7l-40 13z"/>
<path fill="#bee212" d="M6633 8657l42-18l13 10l-41 15z"/>
<path fill="#cce414" d="M6675 8639l41-19l14 12l-42 17z"/>
<path fill="#dae515" d="M6716 8620l42-20l13 14l-41 18z"/>
<path fill="#e8e616" d="M6758 8600l42-20l13 17l-42 17z"/>
<path fill="#f6e818" d="M6800 8580l42-16l12 20l-41 13zM6842 8564l42-8l12 22l-42 6z"/>
<path fill="#ffac10" d="M4956 8077l36 12l21 21l-36-12zM4992 8089l35 13l21 20l-35-12zM5027 8102l36 13l21 18l-36-11z"/>
<path fill="#ffb610" d="M5063 8115l36 15l21 14l-36-11zM5099 8130l37 17l20 11l-36-14z"/>
<path fill="#ffc010" d="M5136 8147l36 22l20 6l-36-17zM5172 8169l37 24l19 2l-36-20z"/>
<path fill="#fec711" d="M5209 8193l37 27l19-1l-37-24z"/>
<path fill="#fdce13" d="M5246 8220l37 31l19-5l-37-27z"/>
<path fill="#fbd414" d="M5283 8251l37 32l18-8l-36-29z"/>
<path fill="#fadb15" d="M5320 8283l37 33l18-10l-37-31z"/>
<path fill="#f9e217" d="M5357 8316l37 35l18-13l-37-32z"/>
<path fill="#f6e818" d="M5394 8351l37 34l18-15l-37-32z"/>
<path fill="#e8e616" d="M5431 8385l37 34l18-16l-37-33z"/>
<path fill="#dae515" d="M5468 8419l37 33l18-17l-37-32z"/>
<path fill="#cce414" d="M5505 8452l37 32l18-19l-37-30z"/>
<path fill="#bee212" d="M5542 8484l38 29l17-19l-37-29z"/>
<path fill="#b0e111" d="M5580 8513l37 27l17-19l-37-27z"/>
<path fill="#a3e010" d="M5617 8540l37 24l17-19l-37-24zM5654 8564l37 22l17-19l-37-22z"/>
<path fill="#96df10" d="M5691 8586l37 20l18-19l-38-20zM5728 8606l38 17l17-19l-37-17z"/>
<path fill="#89df10" d="M5766 8623l37 14l17-18l-37-15zM5803 8637l37 12l17-17l-37-13zM5840 8649l38 11l17-17l-38-11zM5878 8660l37 8l17-16l-37-9zM5915 8668l38 8l17-16l-38-8zM5953 8676l38 6l17-15l-38-7zM5991 8682l38 5l16-14l-37-6zM6029 8687l38 5l17-14l-39-5zM6067 8692l38 4l17-13l-38-5zM6105 8696l39 3l16-11l-38-5zM6144 8699l38 4l16-11l-38-4zM6182 8703l39 2l16-9l-39-4zM6221 8705l39 2l16-8l-39-3zM6260 8707l39 2l16-8l-39-2zM6299 8709l39 0l16-6l-39-2z"/>
<path fill="#96df10" d="M6338 8709l40-2l15-4l-39 0zM6378 8707l39-3l15-2l-39 1zM6417 8704l40-5l15-1l-40 4z"/>
<path fill="#a3e010" d="M6457 8699l40-8l15 1l-40 6zM6497 8691l40-10l15 2l-40 9z"/>
<path fill="#b0e111" d="M6537 8681l41-14l15 4l-41 12z"/>
<path fill="#bee212" d="M6578 8667l41-16l14 6l-40 14z"/>
<path fill="#cce414" d="M6619 8651l41-19l15 7l-42 18z"/>
<path fill="#dae515" d="M6660 8632l42-22l14 10l-41 19z"/>
<path fill="#e8e616" d="M6702 8610l42-22l14 12l-42 20z"/>
<path fill="#f6e818" d="M6744 8588l42-21l14 13l-42 20z"/>
<path fill="#f9e217" d="M6786 8567l43-19l13 16l-42 16zM6829 8548l42-11l13 19l-42 8z"/>
<path fill="#ffa310" d="M4935 8061l36 12l21 16l-36-12zM4971 8073l36 13l20 16l-35-13zM5007 8086l36 15l20 14l-36-13z"/>
<path fill="#ffac10" d="M5043 8101l36 18l20 11l-36-15zM5079 8119l37 22l20 6l-37-17z"/>
<path fill="#ffb610" d="M5116 8141l36 25l20 3l-36-22z"/>
<path fill="#ffc010" d="M5152 8166l37 28l20-1l-37-24zM5189 8194l37 31l20-5l-37-27z"/>
<path fill="#fec711" d="M5226 8225l37 33l20-7l-37-31z"/>
<path fill="#fdce13" d="M5263 8258l38 35l19-10l-37-32z"/>
<path fill="#fadb15" d="M5301 8293l37 36l19-13l-37-33z"/>
<path fill="#f9e217" d="M5338 8329l37 37l19-15l-37-35z"/>
<path fill="#f6e818" d="M5375 8366l38 36l18-17l-37-34z"/>
<path fill="#e8e616" d="M5413 8402l37 35l18-18l-37-34z"/>
<path fill="#dae515" d="M5450 8437l37 33l18-18l-37-33z"/>
<path fill="#cce414" d="M5487 8470l38 32l17-18l-37-32z"/>
<path fill="#bee212" d="M5525 8502l37 29l18-18l-38-29z"/>
<path fill="#b0e111" d="M5562 8531l37 27l18-18l-37-27z"/>
<path fill="#a3e010" d="M5599 8558l37 25l18-19l-37-24zM5636 8583l38 21l17-18l-37-22z"/>
<path fill="#96df10" d="M5674 8604l37 19l17-17l-37-20zM5711 8623l37 17l18-17l-38-17z"/>
<path fill="#89df10" d="M5748 8640l38 14l17-17l-37-14zM5786 8654l37 12l17-17l-37-12zM5823 8666l38 10l17-16l-38-11zM5861 8676l37 8l17-16l-37-8z"/>
<path fill="#7cde11" d="M5898 8684l38 7l17-15l-38-8zM5936 8691l38 6l17-15l-38-6z"/>
<path fill="#89df10" d="M5974 8697l38 4l17-14l-38-5zM6012 8701l39 4l16-13l-38-5zM6051 8705l38 4l16-13l-38-4zM6089 8709l38 2l17-12l-39-3zM6127 8711l39 3l16-11l-38-4zM6166 8714l39 1l16-10l-39-2zM6205 8715l39 1l16-9l-39-2zM6244 8716l39 0l16-7l-39-2z"/>
<path fill="#96df10" d="M6283 8716l40-1l15-6l-39 0zM6323 8715l39-3l16-5l-40 2zM6362 8712l40-5l15-3l-39 3z"/>
<path fill="#a3e010" d="M6402 8707l40-6l15-2l-40 5zM6442 8701l40-10l15 0l-40 8z"/>
<path fill="#b0e111" d="M6482 8691l41-12l14 2l-40 10z"/>
<path fill="#bee212" d="M6523 8679l41-15l14 3l-41 14z"/>
<path fill="#cce414" d="M6564 8664l41-18l14 5l-41 16z"/>
<path fill="#dae515" d="M6605 8646l41-21l14 7l-41 19z"/>
<path fill="#e8e616" d="M6646 8625l42-22l14 7l-42 22z"/>
<path fill="#f6e818" d="M6688 8603l42-24l14 9l-42 22z"/>
<path fill="#f9e217" d="M6730 8579l43-23l13 11l-42 21z"/>
<path fill="#fadb15" d="M6773 8556l42-20l14 12l-43 19z"/>
<path fill="#fbd414" d="M6815 8536l43-13l13 14l-42 11z"/>
<path fill="#ff9910" d="M4914 8049l36 11l21 13l-36-12zM4950 8060l36 14l21 12l-36-13zM4986 8074l36 18l21 9l-36-15z"/>
<path fill="#ffa310" d="M5022 8092l37 21l20 6l-36-18zM5059 8113l36 25l21 3l-37-22z"/>
<path fill="#ffac10" d="M5095 8138l38 29l19-1l-36-25z"/>
<path fill="#ffb610" d="M5133 8167l37 31l19-4l-37-28z"/>
<path fill="#ffc010" d="M5170 8198l37 34l19-7l-37-31z"/>
<path fill="#fec711" d="M5207 8232l37 37l19-11l-37-33z"/>
<path fill="#fdce13" d="M5244 8269l38 37l19-13l-38-35z"/>
<path fill="#fadb15" d="M5282 8306l37 38l19-15l-37-36z"/>
<path fill="#f9e217" d="M5319 8344l38 38l18-16l-37-37z"/>
<path fill="#f6e818" d="M5357 8382l37 37l19-17l-38-36z"/>
<path fill="#e8e616" d="M5394 8419l38 35l18-17l-37-35z"/>
<path fill="#dae515" d="M5432 8454l37 34l18-18l-37-33z"/>
<path fill="#cce414" d="M5469 8488l38 32l18-18l-38-32z"/>
<path fill="#bee212" d="M5507 8520l37 30l18-19l-37-29z"/>
<path fill="#b0e111" d="M5544 8550l37 26l18-18l-37-27z"/>
<path fill="#a3e010" d="M5581 8576l38 24l17-17l-37-25z"/>
<path fill="#96df10" d="M5619 8600l37 22l18-18l-38-21zM5656 8622l37 18l18-17l-37-19z"/>
<path fill="#89df10" d="M5693 8640l38 16l17-16l-37-17zM5731 8656l37 14l18-16l-38-14zM5768 8670l38 12l17-16l-37-12zM5806 8682l38 9l17-15l-38-10z"/>
<path fill="#7cde11" d="M5844 8691l37 8l17-15l-37-8zM5881 8699l38 6l17-14l-38-7zM5919 8705l38 6l17-14l-38-6z"/>
<path fill="#89df10" d="M5957 8711l39 4l16-14l-38-4zM5996 8715l38 3l17-13l-39-4zM6034 8718l38 3l17-12l-38-4zM6072 8721l39 2l16-12l-38-2zM6111 8723l39 2l16-11l-39-3zM6150 8725l39 0l16-10l-39-1zM6189 8725l39 0l16-9l-39-1z"/>
<path fill="#96df10" d="M6228 8725l39-1l16-8l-39 0zM6267 8724l40-2l16-7l-40 1zM6307 8722l39-4l16-6l-39 3z"/>
<path fill="#a3e010" d="M6346 8718l40-6l16-5l-40 5zM6386 8712l41-9l15-2l-40 6z"/>
<path fill="#b0e111" d="M6427 8703l40-11l15-1l-40 10z"/>
<path fill="#bee212" d="M6467 8692l41-13l15 0l-41 12zM6508 8679l41-17l15 2l-41 15z"/>
<path fill="#cce414" d="M6549 8662l41-19l15 3l-41 18z"/>
<path fill="#dae515" d="M6590 8643l42-22l14 4l-41 21z"/>
<path fill="#e8e616" d="M6632 8621l42-24l14 6l-42 22z"/>
<path fill="#f6e818" d="M6674 8597l42-24l14 6l-42 24z"/>
<path fill="#fadb15" d="M6716 8573l43-24l14 7l-43 23z"/>
<path fill="#fbd414" d="M6759 8549l42-21l14 8l-42 20zM6801 8528l43-13l14 8l-43 13z"/>
<path fill="#ff8f10" d="M4893 8042l36 11l21 7l-36-11zM4929 8053l36 15l21 6l-36-14z"/>
<path fill="#ff9910" d="M4965 8068l36 19l21 5l-36-18zM5001 8087l37 24l21 2l-37-21z"/>
<path fill="#ffa310" d="M5038 8111l37 28l20-1l-36-25z"/>
<path fill="#ffac10" d="M5075 8139l38 32l20-4l-38-29z"/>
<path fill="#ffb610" d="M5113 8171l37 35l20-8l-37-31z"/>
<path fill="#ffc010" d="M5150 8206l38 37l19-11l-37-34z"/>
<path fill="#fec711" d="M5188 8243l37 38l19-12l-37-37z"/>
<path fill="#fdce13" d="M5225 8281l38 40l19-15l-38-37z"/>
<path fill="#fadb15" d="M5263 8321l38 39l18-16l-37-38z"/>
<path fill="#f9e217" d="M5301 8360l37 39l19-17l-38-38z"/>
<path fill="#f6e818" d="M5338 8399l38 38l18-18l-37-37z"/>
<path fill="#e8e616" d="M5376 8437l37 36l19-19l-38-35z"/>
<path fill="#cce414" d="M5413 8473l38 34l18-19l-37-34z"/>
<path fill="#bee212" d="M5451 8507l37 32l19-19l-38-32z"/>
<path fill="#b0e111" d="M5488 8539l38 29l18-18l-37-30zM5526 8568l37 26l18-18l-37-26z"/>
<path fill="#a3e010" d="M5563 8594l38 24l18-18l-38-24z"/>
<path fill="#96df10" d="M5601 8618l37 21l18-17l-37-22zM5638 8639l38 18l17-17l-37-18z"/>
<path fill="#89df10" d="M5676 8657l37 15l18-16l-38-16zM5713 8672l38 14l17-16l-37-14zM5751 8686l38 11l17-15l-38-12zM5789 8697l37 9l18-15l-38-9z"/>
<path fill="#7cde11" d="M5826 8706l38 8l17-15l-37-8zM5864 8714l38 6l17-15l-38-6zM5902 8720l38 5l17-14l-38-6z"/>
<path fill="#89df10" d="M5940 8725l39 4l17-14l-39-4zM5979 8729l38 3l17-14l-38-3zM6017 8732l39 2l16-13l-38-3zM6056 8734l39 1l16-12l-39-2zM6095 8735l38 1l17-11l-39-2zM6133 8736l40 0l16-11l-39 0z"/>
<path fill="#96df10" d="M6173 8736l39-1l16-10l-39 0zM6212 8735l39-2l16-9l-39 1zM6251 8733l40-4l16-7l-40 2z"/>
<path fill="#a3e010" d="M6291 8729l40-5l15-6l-39 4zM6331 8724l40-7l15-5l-40 6z"/>
<path fill="#b0e111" d="M6371 8717l40-10l16-4l-41 9zM6411 8707l41-12l15-3l-40 11z"/>
<path fill="#bee212" d="M6452 8695l41-15l15-1l-41 13z"/>
<path fill="#cce414" d="M6493 8680l41-18l15 0l-41 17z"/>
<path fill="#dae515" d="M6534 8662l41-21l15 2l-41 19z"/>
<path fill="#e8e616" d="M6575 8641l42-22l15 2l-42 22z"/>
<path fill="#f6e818" d="M6617 8619l42-25l15 3l-42 24z"/>
<path fill="#f9e217" d="M6659 8594l43-24l14 3l-42 24z"/>
<path fill="#fadb15" d="M6702 8570l43-24l14 3l-43 24z"/>
<path fill="#fbd414" d="M6745 8546l42-21l14 3l-42 21z"/>
<path fill="#fdce13" d="M6787 8525l43-13l14 3l-43 13z"/>
<path fill="#ff8410" d="M4871 8040l37 10l21 3l-36-11z"/>
<path fill="#ff8f10" d="M4908 8050l36 16l21 2l-36-15zM4944 8066l37 22l20-1l-36-19z"/>
<path fill="#ff9910" d="M4981 8088l37 26l20-3l-37-24z"/>
<path fill="#ffa310" d="M5018 8114l37 31l20-6l-37-28z"/>
<path fill="#ffac10" d="M5055 8145l38 34l20-8l-38-32z"/>
<path fill="#ffb610" d="M5093 8179l38 38l19-11l-37-35z"/>
<path fill="#ffc010" d="M5131 8217l37 39l20-13l-38-37z"/>
<path fill="#fec711" d="M5168 8256l38 40l19-15l-37-38z"/>
<path fill="#fdce13" d="M5206 8296l38 41l19-16l-38-40z"/>
<path fill="#fadb15" d="M5244 8337l38 41l19-18l-38-39z"/>
<path fill="#f9e217" d="M5282 8378l37 39l19-18l-37-39z"/>
<path fill="#f6e818" d="M5319 8417l38 39l19-19l-38-38z"/>
<path fill="#dae515" d="M5357 8456l38 36l18-19l-37-36z"/>
<path fill="#cce414" d="M5395 8492l37 34l19-19l-38-34z"/>
<path fill="#bee212" d="M5432 8526l38 31l18-18l-37-32z"/>
<path fill="#b0e111" d="M5470 8557l38 29l18-18l-38-29z"/>
<path fill="#a3e010" d="M5508 8586l37 26l18-18l-37-26zM5545 8612l38 23l18-17l-38-24z"/>
<path fill="#96df10" d="M5583 8635l37 20l18-16l-37-21zM5620 8655l38 18l18-16l-38-18z"/>
<path fill="#89df10" d="M5658 8673l38 15l17-16l-37-15zM5696 8688l37 13l18-15l-38-14zM5733 8701l38 11l18-15l-38-11z"/>
<path fill="#7cde11" d="M5771 8712l38 8l17-14l-37-9zM5809 8720l38 8l17-14l-38-8zM5847 8728l38 6l17-14l-38-6zM5885 8734l38 4l17-13l-38-5z"/>
<path fill="#89df10" d="M5923 8738l39 4l17-13l-39-4zM5962 8742l38 3l17-13l-38-3zM6000 8745l39 2l17-13l-39-2zM6039 8747l39 1l17-13l-39-1zM6078 8748l39 0l16-12l-38-1zM6117 8748l39 0l17-12l-40 0z"/>
<path fill="#96df10" d="M6156 8748l39-2l17-11l-39 1zM6195 8746l40-4l16-9l-39 2zM6235 8742l40-4l16-9l-40 4z"/>
<path fill="#a3e010" d="M6275 8738l40-7l16-7l-40 5zM6315 8731l40-8l16-6l-40 7z"/>
<path fill="#b0e111" d="M6355 8723l40-11l16-5l-40 10z"/>
<path fill="#bee212" d="M6395 8712l41-14l16-3l-41 12zM6436 8698l41-16l16-2l-41 15z"/>
<path fill="#cce414" d="M6477 8682l42-19l15-1l-41 18z"/>
<path fill="#dae515" d="M6519 8663l41-21l15-1l-41 21z"/>
<path fill="#e8e616" d="M6560 8642l42-23l15 0l-42 22z"/>
<path fill="#f9e217" d="M6602 8619l43-25l14 0l-42 25z"/>
<path fill="#fadb15" d="M6645 8594l42-24l15 0l-43 24z"/>
<path fill="#fbd414" d="M6687 8570l43-24l15 0l-43 24z"/>
<path fill="#fdce13" d="M6730 8546l43-19l14-2l-42 21z"/>
<path fill="#fec711" d="M6773 8527l43-12l14-3l-43 13z"/>
<path fill="#ff8410" d="M4851 8043l36 10l21-3l-37-10zM4887 8053l36 17l21-4l-36-16z"/>
<path fill="#ff8f10" d="M4923 8070l37 23l21-5l-37-22zM4960 8093l38 29l20-8l-37-26z"/>
<path fill="#ff9910" d="M4998 8122l37 33l20-10l-37-31z"/>
<path fill="#ffa310" d="M5035 8155l38 37l20-13l-38-34z"/>
<path fill="#ffb610" d="M5073 8192l38 39l20-14l-38-38z"/>
<path fill="#ffc010" d="M5111 8231l38 41l19-16l-37-39z"/>
<path fill="#fec711" d="M5149 8272l38 42l19-18l-38-40z"/>
<path fill="#fbd414" d="M5187 8314l38 42l19-19l-38-41z"/>
<path fill="#fadb15" d="M5225 8356l38 41l19-19l-38-41z"/>
<path fill="#f9e217" d="M5263 8397l38 40l18-20l-37-39z"/>
<path fill="#e8e616" d="M5301 8437l37 38l19-19l-38-39z"/>
<path fill="#dae515" d="M5338 8475l38 36l19-19l-38-36z"/>
<path fill="#cce414" d="M5376 8511l38 34l18-19l-37-34z"/>
<path fill="#bee212" d="M5414 8545l38 31l18-19l-38-31z"/>
<path fill="#b0e111" d="M5452 8576l37 28l19-18l-38-29z"/>
<path fill="#a3e010" d="M5489 8604l38 25l18-17l-37-26zM5527 8629l38 22l18-16l-38-23z"/>
<path fill="#96df10" d="M5565 8651l37 20l18-16l-37-20z"/>
<path fill="#89df10" d="M5602 8671l38 17l18-15l-38-18zM5640 8688l38 15l18-15l-38-15zM5678 8703l38 12l17-14l-37-13zM5716 8715l37 11l18-14l-38-11z"/>
<path fill="#7cde11" d="M5753 8726l38 9l18-15l-38-8zM5791 8735l39 7l17-14l-38-8zM5830 8742l38 6l17-14l-38-6zM5868 8748l38 4l17-14l-38-4z"/>
<path fill="#89df10" d="M5906 8752l39 4l17-14l-39-4zM5945 8756l38 3l17-14l-38-3zM5983 8759l39 1l17-13l-39-2zM6022 8760l39 1l17-13l-39-1zM6061 8761l39 0l17-13l-39 0z"/>
<path fill="#96df10" d="M6100 8761l40-2l16-11l-39 0zM6140 8759l39-2l16-11l-39 2zM6179 8757l40-4l16-11l-40 4z"/>
<path fill="#a3e010" d="M6219 8753l40-6l16-9l-40 4zM6259 8747l40-8l16-8l-40 7z"/>
<path fill="#b0e111" d="M6299 8739l40-10l16-6l-40 8zM6339 8729l41-12l15-5l-40 11z"/>
<path fill="#bee212" d="M6380 8717l41-14l15-5l-41 14z"/>
<path fill="#cce414" d="M6421 8703l41-17l15-4l-41 16z"/>
<path fill="#dae515" d="M6462 8686l41-20l16-3l-42 19z"/>
<path fill="#e8e616" d="M6503 8666l42-22l15-2l-41 21z"/>
<path fill="#f6e818" d="M6545 8644l42-23l15-2l-42 23z"/>
<path fill="#f9e217" d="M6587 8621l43-24l15-3l-43 25z"/>
<path fill="#fadb15" d="M6630 8597l42-24l15-3l-42 24z"/>
<path fill="#fbd414" d="M6672 8573l43-22l15-5l-43 24z"/>
<path fill="#fdce13" d="M6715 8551l43-18l15-6l-43 19z"/>
<path fill="#fec711" d="M6758 8533l43-9l15-9l-43 12z"/>
<path fill="#ff8410" d="M4830 8052l36 9l21-8l-36-10zM4866 8061l37 18l20-9l-36-17z"/>
<path fill="#ff8f10" d="M4903 8079l37 24l20-10l-37-23zM4940 8103l38 31l20-12l-38-29z"/>
<path fill="#ff9910" d="M4978 8134l37 35l20-14l-37-33z"/>
<path fill="#ffac10" d="M5015 8169l38 39l20-16l-38-37z"/>
<path fill="#ffb610" d="M5053 8208l38 41l20-18l-38-39z"/>
<path fill="#ffc010" d="M5091 8249l38 42l20-19l-38-41z"/>
<path fill="#fdce13" d="M5129 8291l39 43l19-20l-38-42z"/>
<path fill="#fbd414" d="M5168 8334l38 42l19-20l-38-42z"/>
<path fill="#fadb15" d="M5206 8376l38 42l19-21l-38-41z"/>
<path fill="#f6e818" d="M5244 8418l38 40l19-21l-38-40z"/>
<path fill="#e8e616" d="M5282 8458l38 38l18-21l-37-38z"/>
<path fill="#dae515" d="M5320 8496l38 35l18-20l-38-36z"/>
<path fill="#cce414" d="M5358 8531l37 33l19-19l-38-34z"/>
<path fill="#bee212" d="M5395 8564l38 30l19-18l-38-31z"/>
<path fill="#b0e111" d="M5433 8594l38 28l18-18l-37-28z"/>
<path fill="#a3e010" d="M5471 8622l38 24l18-17l-38-25z"/>
<path fill="#96df10" d="M5509 8646l37 22l19-17l-38-22zM5546 8668l38 19l18-16l-37-20z"/>
<path fill="#89df10" d="M5584 8687l38 17l18-16l-38-17zM5622 8704l38 14l18-15l-38-15zM5660 8718l38 12l18-15l-38-12zM5698 8730l38 10l17-14l-37-11z"/>
<path fill="#7cde11" d="M5736 8740l38 9l17-14l-38-9zM5774 8749l38 7l18-14l-39-7zM5812 8756l38 6l18-14l-38-6zM5850 8762l39 4l17-14l-38-4z"/>
<path fill="#89df10" d="M5889 8766l38 4l18-14l-39-4zM5927 8770l39 2l17-13l-38-3zM5966 8772l39 2l17-14l-39-1zM6005 8774l39 0l17-13l-39-1zM6044 8774l39-1l17-12l-39 0z"/>
<path fill="#96df10" d="M6083 8773l40-1l17-13l-40 2zM6123 8772l39-4l17-11l-39 2zM6162 8768l40-5l17-10l-40 4z"/>
<path fill="#a3e010" d="M6202 8763l40-6l17-10l-40 6zM6242 8757l41-9l16-9l-40 8z"/>
<path fill="#b0e111" d="M6283 8748l40-11l16-8l-40 10z"/>
<path fill="#bee212" d="M6323 8737l41-13l16-7l-41 12zM6364 8724l41-16l16-5l-41 14z"/>
<path fill="#cce414" d="M6405 8708l41-17l16-5l-41 17z"/>
<path fill="#dae515" d="M6446 8691l42-21l15-4l-41 20z"/>
<path fill="#e8e616" d="M6488 8670l42-22l15-4l-42 22z"/>
<path fill="#f6e818" d="M6530 8648l42-23l15-4l-42 23z"/>
<path fill="#f9e217" d="M6572 8625l43-23l15-5l-43 24z"/>
<path fill="#fadb15" d="M6615 8602l42-23l15-6l-42 24z"/>
<path fill="#fdce13" d="M6657 8579l43-20l15-8l-43 22zM6700 8559l43-15l15-11l-43 18z"/>
<path fill="#fec711" d="M6743 8544l43-7l15-13l-43 9z"/>
<path fill="#ff8410" d="M4809 8066l36 9l21-14l-36-9zM4845 8075l37 18l21-14l-37-18z"/>
<path fill="#ff8f10" d="M4882 8093l38 25l20-15l-37-24zM4920 8118l37 33l21-17l-38-31z"/>
<path fill="#ff9910" d="M4957 8151l38 36l20-18l-37-35z"/>
<path fill="#ffac10" d="M4995 8187l39 40l19-19l-38-39z"/>
<path fill="#ffb610" d="M5034 8227l38 43l19-21l-38-41z"/>
<path fill="#ffc010" d="M5072 8270l38 43l19-22l-38-42z"/>
<path fill="#fdce13" d="M5110 8313l38 43l20-22l-39-43z"/>
<path fill="#fbd414" d="M5148 8356l39 43l19-23l-38-42z"/>
<path fill="#f9e217" d="M5187 8399l38 41l19-22l-38-42z"/>
<path fill="#f6e818" d="M5225 8440l38 40l19-22l-38-40z"/>
<path fill="#e8e616" d="M5263 8480l38 37l19-21l-38-38z"/>
<path fill="#dae515" d="M5301 8517l38 35l19-21l-38-35z"/>
<path fill="#bee212" d="M5339 8552l38 32l18-20l-37-33zM5377 8584l38 29l18-19l-38-30z"/>
<path fill="#b0e111" d="M5415 8613l37 26l19-17l-38-28z"/>
<path fill="#a3e010" d="M5452 8639l38 24l19-17l-38-24z"/>
<path fill="#96df10" d="M5490 8663l38 21l18-16l-37-22zM5528 8684l38 19l18-16l-38-19z"/>
<path fill="#89df10" d="M5566 8703l38 16l18-15l-38-17zM5604 8719l38 14l18-15l-38-14zM5642 8733l38 11l18-14l-38-12zM5680 8744l38 11l18-15l-38-10z"/>
<path fill="#7cde11" d="M5718 8755l38 8l18-14l-38-9zM5756 8763l38 7l18-14l-38-7zM5794 8770l39 6l17-14l-38-6zM5833 8776l38 5l18-15l-39-4z"/>
<path fill="#89df10" d="M5871 8781l39 3l17-14l-38-4zM5910 8784l39 2l17-14l-39-2zM5949 8786l39 2l17-14l-39-2zM5988 8788l39 0l17-14l-39 0zM6027 8788l40-1l16-14l-39 1z"/>
<path fill="#96df10" d="M6067 8787l39-3l17-12l-40 1zM6106 8784l40-4l16-12l-39 4zM6146 8780l40-6l16-11l-40 5z"/>
<path fill="#a3e010" d="M6186 8774l40-7l16-10l-40 6z"/>
<path fill="#b0e111" d="M6226 8767l40-10l17-9l-41 9zM6266 8757l41-11l16-9l-40 11z"/>
<path fill="#bee212" d="M6307 8746l41-14l16-8l-41 13z"/>
<path fill="#cce414" d="M6348 8732l41-17l16-7l-41 16z"/>
<path fill="#dae515" d="M6389 8715l41-18l16-6l-41 17z"/>
<path fill="#e8e616" d="M6430 8697l42-20l16-7l-42 21z"/>
<path fill="#f6e818" d="M6472 8677l42-22l16-7l-42 22z"/>
<path fill="#f9e217" d="M6514 8655l43-23l15-7l-42 23z"/>
<path fill="#fadb15" d="M6557 8632l42-22l16-8l-43 23z"/>
<path fill="#fbd414" d="M6599 8610l43-21l15-10l-42 23z"/>
<path fill="#fdce13" d="M6642 8589l43-18l15-12l-43 20z"/>
<path fill="#fec711" d="M6685 8571l43-12l15-15l-43 15zM6728 8559l43-4l15-18l-43 7z"/>
<path fill="#ff8410" d="M4789 8085l36 9l20-19l-36-9zM4825 8094l37 18l20-19l-37-18z"/>
<path fill="#ff8f10" d="M4862 8112l37 26l21-20l-38-25z"/>
<path fill="#ff9910" d="M4899 8138l38 34l20-21l-37-33z"/>
<path fill="#ffa310" d="M4937 8172l39 38l19-23l-38-36z"/>
<path fill="#ffac10" d="M4976 8210l38 41l20-24l-39-40z"/>
<path fill="#ffb610" d="M5014 8251l38 43l20-24l-38-43z"/>
<path fill="#fec711" d="M5052 8294l39 43l19-24l-38-43z"/>
<path fill="#fdce13" d="M5091 8337l38 44l19-25l-38-43z"/>
<path fill="#fadb15" d="M5129 8381l38 42l20-24l-39-43z"/>
<path fill="#f9e217" d="M5167 8423l39 41l19-24l-38-41z"/>
<path fill="#f6e818" d="M5206 8464l38 39l19-23l-38-40z"/>
<path fill="#dae515" d="M5244 8503l38 36l19-22l-38-37z"/>
<path fill="#cce414" d="M5282 8539l38 34l19-21l-38-35z"/>
<path fill="#bee212" d="M5320 8573l38 31l19-20l-38-32z"/>
<path fill="#b0e111" d="M5358 8604l38 28l19-19l-38-29z"/>
<path fill="#a3e010" d="M5396 8632l38 25l18-18l-37-26zM5434 8657l38 23l18-17l-38-24z"/>
<path fill="#96df10" d="M5472 8680l38 20l18-16l-38-21zM5510 8700l37 18l19-15l-38-19z"/>
<path fill="#89df10" d="M5547 8718l38 16l19-15l-38-16zM5585 8734l38 13l19-14l-38-14zM5623 8747l39 12l18-15l-38-11zM5662 8759l38 10l18-14l-38-11z"/>
<path fill="#7cde11" d="M5700 8769l38 8l18-14l-38-8zM5738 8777l39 7l17-14l-38-7zM5777 8784l38 6l18-14l-39-6zM5815 8790l39 5l17-14l-38-5z"/>
<path fill="#89df10" d="M5854 8795l39 3l17-14l-39-3zM5893 8798l39 3l17-15l-39-2zM5932 8801l39 1l17-14l-39-2zM5971 8802l39-1l17-13l-39 0zM6010 8801l39-1l18-13l-40 1z"/>
<path fill="#96df10" d="M6049 8800l40-3l17-13l-39 3zM6089 8797l40-5l17-12l-40 4z"/>
<path fill="#a3e010" d="M6129 8792l40-6l17-12l-40 6zM6169 8786l40-9l17-10l-40 7z"/>
<path fill="#b0e111" d="M6209 8777l41-10l16-10l-40 10zM6250 8767l41-13l16-8l-41 11z"/>
<path fill="#bee212" d="M6291 8754l41-14l16-8l-41 14z"/>
<path fill="#cce414" d="M6332 8740l41-17l16-8l-41 17z"/>
<path fill="#dae515" d="M6373 8723l41-19l16-7l-41 18z"/>
<path fill="#e8e616" d="M6414 8704l42-20l16-7l-42 20z"/>
<path fill="#f6e818" d="M6456 8684l42-21l16-8l-42 22z"/>
<path fill="#f9e217" d="M6498 8663l43-22l16-9l-43 23z"/>
<path fill="#fadb15" d="M6541 8641l43-20l15-11l-42 22z"/>
<path fill="#fbd414" d="M6584 8621l43-19l15-13l-43 21z"/>
<path fill="#fdce13" d="M6627 8602l43-15l15-16l-43 18z"/>
<path fill="#fec711" d="M6670 8587l43-9l15-19l-43 12zM6713 8578l43 0l15-23l-43 4z"/>
<path fill="#ff8410" d="M4768 8110l37 8l20-24l-36-9zM4805 8118l37 18l20-24l-37-18z"/>
<path fill="#ff8f10" d="M4842 8136l37 27l20-25l-37-26z"/>
<path fill="#ff9910" d="M4879 8163l38 34l20-25l-38-34z"/>
<path fill="#ffa310" d="M4917 8197l39 39l20-26l-39-38z"/>
<path fill="#ffb610" d="M4956 8236l38 41l20-26l-38-41z"/>
<path fill="#ffc010" d="M4994 8277l39 44l19-27l-38-43z"/>
<path fill="#fec711" d="M5033 8321l38 43l20-27l-39-43z"/>
<path fill="#fbd414" d="M5071 8364l39 43l19-26l-38-44z"/>
<path fill="#fadb15" d="M5110 8407l38 42l19-26l-38-42z"/>
<path fill="#f6e818" d="M5148 8449l38 40l20-25l-39-41z"/>
<path fill="#e8e616" d="M5186 8489l39 38l19-24l-38-39z"/>
<path fill="#dae515" d="M5225 8527l38 35l19-23l-38-36z"/>
<path fill="#cce414" d="M5263 8562l38 32l19-21l-38-34z"/>
<path fill="#bee212" d="M5301 8594l38 30l19-20l-38-31z"/>
<path fill="#b0e111" d="M5339 8624l38 27l19-19l-38-28z"/>
<path fill="#a3e010" d="M5377 8651l38 24l19-18l-38-25zM5415 8675l38 22l19-17l-38-23z"/>
<path fill="#96df10" d="M5453 8697l38 19l19-16l-38-20zM5491 8716l38 18l18-16l-37-18z"/>
<path fill="#89df10" d="M5529 8734l38 15l18-15l-38-16zM5567 8749l38 13l18-15l-38-13zM5605 8762l38 11l19-14l-39-12zM5643 8773l39 10l18-14l-38-10z"/>
<path fill="#7cde11" d="M5682 8783l38 9l18-15l-38-8zM5720 8792l39 7l18-15l-39-7zM5759 8799l38 6l18-15l-38-6zM5797 8805l39 4l18-14l-39-5z"/>
<path fill="#89df10" d="M5836 8809l39 4l18-15l-39-3zM5875 8813l39 2l18-14l-39-3zM5914 8815l39 1l18-14l-39-1zM5953 8816l40-1l17-14l-39 1zM5993 8815l39-2l17-13l-39 1z"/>
<path fill="#96df10" d="M6032 8813l40-3l17-13l-40 3zM6072 8810l40-6l17-12l-40 5z"/>
<path fill="#a3e010" d="M6112 8804l40-7l17-11l-40 6zM6152 8797l41-9l16-11l-40 9z"/>
<path fill="#b0e111" d="M6193 8788l40-11l17-10l-41 10z"/>
<path fill="#bee212" d="M6233 8777l41-13l17-10l-41 13zM6274 8764l41-15l17-9l-41 14z"/>
<path fill="#cce414" d="M6315 8749l42-17l16-9l-41 17z"/>
<path fill="#dae515" d="M6357 8732l41-19l16-9l-41 19z"/>
<path fill="#e8e616" d="M6398 8713l42-20l16-9l-42 20z"/>
<path fill="#f6e818" d="M6440 8693l43-20l15-10l-42 21z"/>
<path fill="#f9e217" d="M6483 8673l42-20l16-12l-43 22z"/>
<path fill="#fadb15" d="M6525 8653l43-19l16-13l-43 20z"/>
<path fill="#fbd414" d="M6568 8634l43-16l16-16l-43 19z"/>
<path fill="#fdce13" d="M6611 8618l43-11l16-20l-43 15zM6654 8607l43-6l16-23l-43 9z"/>
<path fill="#fec711" d="M6697 8601l43 3l16-26l-43 0z"/>
<path fill="#ff8f10" d="M4748 8139l37 8l20-29l-37-8zM4785 8147l37 18l20-29l-37-18z"/>
<path fill="#ff9910" d="M4822 8165l37 27l20-29l-37-27z"/>
<path fill="#ffa310" d="M4859 8192l39 35l19-30l-38-34z"/>
<path fill="#ffac10" d="M4898 8227l38 39l20-30l-39-39z"/>
<path fill="#ffb610" d="M4936 8266l39 41l19-30l-38-41z"/>
<path fill="#ffc010" d="M4975 8307l38 43l20-29l-39-44z"/>
<path fill="#fdce13" d="M5013 8350l39 44l19-30l-38-43z"/>
<path fill="#fbd414" d="M5052 8394l38 42l20-29l-39-43z"/>
<path fill="#f9e217" d="M5090 8436l39 41l19-28l-38-42z"/>
<path fill="#f6e818" d="M5129 8477l38 38l19-26l-38-40z"/>
<path fill="#e8e616" d="M5167 8515l38 37l20-25l-39-38z"/>
<path fill="#dae515" d="M5205 8552l39 33l19-23l-38-35z"/>
<path fill="#cce414" d="M5244 8585l38 31l19-22l-38-32z"/>
<path fill="#bee212" d="M5282 8616l38 29l19-21l-38-30z"/>
<path fill="#b0e111" d="M5320 8645l38 25l19-19l-38-27z"/>
<path fill="#a3e010" d="M5358 8670l38 23l19-18l-38-24zM5396 8693l38 21l19-17l-38-22z"/>
<path fill="#96df10" d="M5434 8714l38 19l19-17l-38-19zM5472 8733l38 16l19-15l-38-18z"/>
<path fill="#89df10" d="M5510 8749l38 15l19-15l-38-15zM5548 8764l39 12l18-14l-38-13zM5587 8776l38 12l18-15l-38-11zM5625 8788l38 10l19-15l-39-10z"/>
<path fill="#7cde11" d="M5663 8798l39 8l18-14l-38-9zM5702 8806l39 7l18-14l-39-7zM5741 8813l38 6l18-14l-38-6zM5779 8819l39 5l18-15l-39-4z"/>
<path fill="#89df10" d="M5818 8824l39 3l18-14l-39-4zM5857 8827l39 2l18-14l-39-2zM5896 8829l40 1l17-14l-39-1zM5936 8830l39-1l18-14l-40 1zM5975 8829l40-2l17-14l-39 2z"/>
<path fill="#96df10" d="M6015 8827l40-5l17-12l-40 3zM6055 8822l40-6l17-12l-40 6z"/>
<path fill="#a3e010" d="M6095 8816l40-8l17-11l-40 7zM6135 8808l41-9l17-11l-41 9z"/>
<path fill="#b0e111" d="M6176 8799l40-12l17-10l-40 11z"/>
<path fill="#bee212" d="M6216 8787l41-14l17-9l-41 13z"/>
<path fill="#cce414" d="M6257 8773l42-15l16-9l-41 15zM6299 8758l41-17l17-9l-42 17z"/>
<path fill="#dae515" d="M6340 8741l42-18l16-10l-41 19z"/>
<path fill="#e8e616" d="M6382 8723l42-19l16-11l-42 20z"/>
<path fill="#f6e818" d="M6424 8704l42-19l17-12l-43 20z"/>
<path fill="#f9e217" d="M6466 8685l43-18l16-14l-42 20z"/>
<path fill="#fadb15" d="M6509 8667l43-16l16-17l-43 19z"/>
<path fill="#fbd414" d="M6552 8651l43-13l16-20l-43 16z"/>
<path fill="#fdce13" d="M6595 8638l43-8l16-23l-43 11zM6638 8630l43-2l16-27l-43 6zM6681 8628l43 5l16-29l-43-3z"/>
<path fill="#ff8f10" d="M4728 8174l37 7l20-34l-37-8z"/>
<path fill="#ff9910" d="M4765 8181l37 17l20-33l-37-18zM4802 8198l38 28l19-34l-37-27z"/>
<path fill="#ffa310" d="M4840 8226l38 34l20-33l-39-35z"/>
<path fill="#ffb610" d="M4878 8260l38 39l20-33l-38-39z"/>
<path fill="#ffc010" d="M4916 8299l39 41l20-33l-39-41z"/>
<path fill="#fec711" d="M4955 8340l39 43l19-33l-38-43z"/>
<path fill="#fbd414" d="M4994 8383l38 42l20-31l-39-44z"/>
<path fill="#fadb15" d="M5032 8425l39 41l19-30l-38-42z"/>
<path fill="#f9e217" d="M5071 8466l38 40l20-29l-39-41z"/>
<path fill="#e8e616" d="M5109 8506l39 37l19-28l-38-38z"/>
<path fill="#dae515" d="M5148 8543l38 34l19-25l-38-37z"/>
<path fill="#cce414" d="M5186 8577l38 32l20-24l-39-33z"/>
<path fill="#bee212" d="M5224 8609l39 30l19-23l-38-31z"/>
<path fill="#b0e111" d="M5263 8639l38 26l19-20l-38-29zM5301 8665l38 25l19-20l-38-25z"/>
<path fill="#a3e010" d="M5339 8690l38 21l19-18l-38-23z"/>
<path fill="#96df10" d="M5377 8711l38 20l19-17l-38-21zM5415 8731l38 18l19-16l-38-19z"/>
<path fill="#89df10" d="M5453 8749l38 15l19-15l-38-16zM5491 8764l39 15l18-15l-38-15zM5530 8779l38 12l19-15l-39-12zM5568 8791l39 11l18-14l-38-12zM5607 8802l38 10l18-14l-38-10z"/>
<path fill="#7cde11" d="M5645 8812l39 8l18-14l-39-8zM5684 8820l38 8l19-15l-39-7zM5722 8828l39 6l18-15l-38-6zM5761 8834l39 4l18-14l-39-5z"/>
<path fill="#89df10" d="M5800 8838l39 4l18-15l-39-3zM5839 8842l40 1l17-14l-39-2zM5879 8843l39 1l18-14l-40-1zM5918 8844l40-2l17-13l-39 1z"/>
<path fill="#96df10" d="M5958 8842l40-3l17-12l-40 2zM5998 8839l40-4l17-13l-40 5zM6038 8835l40-7l17-12l-40 6z"/>
<path fill="#a3e010" d="M6078 8828l40-9l17-11l-40 8z"/>
<path fill="#b0e111" d="M6118 8819l41-10l17-10l-41 9zM6159 8809l41-12l16-10l-40 12z"/>
<path fill="#bee212" d="M6200 8797l41-14l16-10l-41 14z"/>
<path fill="#cce414" d="M6241 8783l41-15l17-10l-42 15z"/>
<path fill="#dae515" d="M6282 8768l42-17l16-10l-41 17zM6324 8751l42-17l16-11l-42 18z"/>
<path fill="#e8e616" d="M6366 8734l42-17l16-13l-42 19z"/>
<path fill="#f6e818" d="M6408 8717l42-17l16-15l-42 19z"/>
<path fill="#f9e217" d="M6450 8700l43-16l16-17l-43 18z"/>
<path fill="#fadb15" d="M6493 8684l43-13l16-20l-43 16z"/>
<path fill="#fbd414" d="M6536 8671l43-10l16-23l-43 13zM6579 8661l43-5l16-26l-43 8z"/>
<path fill="#fdce13" d="M6622 8656l43 1l16-29l-43 2zM6665 8657l43 7l16-31l-43-5z"/>
<path fill="#ff9910" d="M4708 8213l37 5l20-37l-37-7z"/>
<path fill="#ffa310" d="M4745 8218l37 17l20-37l-37-17zM4782 8235l38 28l20-37l-38-28z"/>
<path fill="#ffac10" d="M4820 8263l38 34l20-37l-38-34z"/>
<path fill="#ffb610" d="M4858 8297l39 38l19-36l-38-39z"/>
<path fill="#fec711" d="M4897 8335l38 41l20-36l-39-41z"/>
<path fill="#fdce13" d="M4935 8376l39 42l20-35l-39-43z"/>
<path fill="#fbd414" d="M4974 8418l39 41l19-34l-38-42z"/>
<path fill="#f9e217" d="M5013 8459l38 39l20-32l-39-41z"/>
<path fill="#f6e818" d="M5051 8498l39 38l19-30l-38-40z"/>
<path fill="#e8e616" d="M5090 8536l38 35l20-28l-39-37z"/>
<path fill="#dae515" d="M5128 8571l39 33l19-27l-38-34z"/>
<path fill="#cce414" d="M5167 8604l38 30l19-25l-38-32z"/>
<path fill="#bee212" d="M5205 8634l38 28l20-23l-39-30z"/>
<path fill="#b0e111" d="M5243 8662l38 25l20-22l-38-26z"/>
<path fill="#a3e010" d="M5281 8687l39 22l19-19l-38-25zM5320 8709l38 21l19-19l-38-21z"/>
<path fill="#96df10" d="M5358 8730l38 18l19-17l-38-20zM5396 8748l38 17l19-16l-38-18z"/>
<path fill="#89df10" d="M5434 8765l39 15l18-16l-38-15zM5473 8780l38 13l19-14l-39-15zM5511 8793l38 13l19-15l-38-12zM5549 8806l39 10l19-14l-39-11zM5588 8816l39 10l18-14l-38-10z"/>
<path fill="#7cde11" d="M5627 8826l38 9l19-15l-39-8zM5665 8835l39 7l18-14l-38-8zM5704 8842l39 6l18-14l-39-6zM5743 8848l39 4l18-14l-39-4z"/>
<path fill="#89df10" d="M5782 8852l39 4l18-14l-39-4zM5821 8856l40 1l18-14l-40-1zM5861 8857l39 0l18-13l-39-1zM5900 8857l40-2l18-13l-40 2z"/>
<path fill="#96df10" d="M5940 8855l40-3l18-13l-40 3zM5980 8852l40-6l18-11l-40 4z"/>
<path fill="#a3e010" d="M6020 8846l40-7l18-11l-40 7zM6060 8839l41-9l17-11l-40 9z"/>
<path fill="#b0e111" d="M6101 8830l41-11l17-10l-41 10zM6142 8819l41-12l17-10l-41 12z"/>
<path fill="#bee212" d="M6183 8807l41-14l17-10l-41 14z"/>
<path fill="#cce414" d="M6224 8793l41-15l17-10l-41 15z"/>
<path fill="#dae515" d="M6265 8778l42-16l17-11l-42 17z"/>
<path fill="#e8e616" d="M6307 8762l42-16l17-12l-42 17zM6349 8746l42-15l17-14l-42 17z"/>
<path fill="#f6e818" d="M6391 8731l43-15l16-16l-42 17z"/>
<path fill="#f9e217" d="M6434 8716l42-12l17-20l-43 16z"/>
<path fill="#fadb15" d="M6476 8704l43-10l17-23l-43 13zM6519 8694l43-7l17-26l-43 10z"/>
<path fill="#fbd414" d="M6562 8687l43-2l17-29l-43 5zM6605 8685l43 4l17-32l-43-1zM6648 8689l43 9l17-34l-43-7z"/>
<path fill="#ffa310" d="M4689 8255l36 5l20-42l-37-5z"/>
<path fill="#ffac10" d="M4725 8260l37 16l20-41l-37-17zM4762 8276l38 27l20-40l-38-28z"/>
<path fill="#ffb610" d="M4800 8303l39 34l19-40l-38-34z"/>
<path fill="#ffc010" d="M4839 8337l38 37l20-39l-39-38z"/>
<path fill="#fdce13" d="M4877 8374l39 40l19-38l-38-41z"/>
<path fill="#fbd414" d="M4916 8414l39 40l19-36l-39-42z"/>
<path fill="#fadb15" d="M4955 8454l38 40l20-35l-39-41z"/>
<path fill="#f9e217" d="M4993 8494l39 38l19-34l-38-39z"/>
<path fill="#e8e616" d="M5032 8532l38 36l20-32l-39-38z"/>
<path fill="#dae515" d="M5070 8568l39 33l19-30l-38-35z"/>
<path fill="#cce414" d="M5109 8601l38 30l20-27l-39-33z"/>
<path fill="#bee212" d="M5147 8631l38 28l20-25l-38-30z"/>
<path fill="#b0e111" d="M5185 8659l39 26l19-23l-38-28zM5224 8685l38 23l19-21l-38-25z"/>
<path fill="#a3e010" d="M5262 8708l38 21l20-20l-39-22zM5300 8729l38 19l20-18l-38-21z"/>
<path fill="#96df10" d="M5338 8748l39 17l19-17l-38-18zM5377 8765l38 16l19-16l-38-17z"/>
<path fill="#89df10" d="M5415 8781l38 14l20-15l-39-15zM5453 8795l39 13l19-15l-38-13zM5492 8808l38 12l19-14l-38-13zM5530 8820l39 11l19-15l-39-10zM5569 8831l39 9l19-14l-39-10z"/>
<path fill="#7cde11" d="M5608 8840l39 9l18-14l-38-9zM5647 8849l39 7l18-14l-39-7zM5686 8856l39 6l18-14l-39-6z"/>
<path fill="#89df10" d="M5725 8862l39 4l18-14l-39-4zM5764 8866l39 3l18-13l-39-4zM5803 8869l40 2l18-14l-40-1zM5843 8871l39-1l18-13l-39 0zM5882 8870l40-2l18-13l-40 2z"/>
<path fill="#96df10" d="M5922 8868l40-4l18-12l-40 3zM5962 8864l41-6l17-12l-40 6z"/>
<path fill="#a3e010" d="M6003 8858l40-8l17-11l-40 7zM6043 8850l41-10l17-10l-41 9z"/>
<path fill="#b0e111" d="M6084 8840l40-11l18-10l-41 11z"/>
<path fill="#bee212" d="M6124 8829l42-13l17-9l-41 12zM6166 8816l41-13l17-10l-41 14z"/>
<path fill="#cce414" d="M6207 8803l41-15l17-10l-41 15z"/>
<path fill="#dae515" d="M6248 8788l42-14l17-12l-42 16z"/>
<path fill="#e8e616" d="M6290 8774l42-14l17-14l-42 16zM6332 8760l43-13l16-16l-42 15z"/>
<path fill="#f6e818" d="M6375 8747l42-12l17-19l-43 15z"/>
<path fill="#f9e217" d="M6417 8735l43-9l16-22l-42 12z"/>
<path fill="#fadb15" d="M6460 8726l43-7l16-25l-43 10zM6503 8719l43-3l16-29l-43 7zM6546 8716l43 2l16-33l-43 2zM6589 8718l43 6l16-35l-43-4zM6632 8724l43 9l16-35l-43-9z"/>
<path fill="#ffb610" d="M4669 8301l37 4l19-45l-36-5zM4706 8305l37 16l19-45l-37-16zM4743 8321l38 25l19-43l-38-27z"/>
<path fill="#ffc010" d="M4781 8346l38 33l20-42l-39-34z"/>
<path fill="#fec711" d="M4819 8379l39 37l19-42l-38-37z"/>
<path fill="#fbd414" d="M4858 8416l38 39l20-41l-39-40z"/>
<path fill="#fadb15" d="M4896 8455l39 38l20-39l-39-40z"/>
<path fill="#f9e217" d="M4935 8493l39 38l19-37l-38-40z"/>
<path fill="#f6e818" d="M4974 8531l38 36l20-35l-39-38z"/>
<path fill="#e8e616" d="M5012 8567l39 33l19-32l-38-36z"/>
<path fill="#dae515" d="M5051 8600l38 31l20-30l-39-33z"/>
<path fill="#cce414" d="M5089 8631l39 28l19-28l-38-30z"/>
<path fill="#bee212" d="M5128 8659l38 26l19-26l-38-28z"/>
<path fill="#b0e111" d="M5166 8685l38 23l20-23l-39-26z"/>
<path fill="#a3e010" d="M5204 8708l38 21l20-21l-38-23zM5242 8729l39 20l19-20l-38-21z"/>
<path fill="#96df10" d="M5281 8749l38 17l19-18l-38-19zM5319 8766l38 16l20-17l-39-17zM5357 8782l39 15l19-16l-38-16z"/>
<path fill="#89df10" d="M5396 8797l38 13l19-15l-38-14zM5434 8810l39 13l19-15l-39-13zM5473 8823l38 11l19-14l-38-12zM5511 8834l39 11l19-14l-39-11zM5550 8845l39 9l19-14l-39-9zM5589 8854l39 8l19-13l-39-9z"/>
<path fill="#7cde11" d="M5628 8862l39 8l19-14l-39-7zM5667 8870l39 5l19-13l-39-6z"/>
<path fill="#89df10" d="M5706 8875l40 5l18-14l-39-4zM5746 8880l39 3l18-14l-39-3zM5785 8883l40 0l18-12l-40-2zM5825 8883l39 0l18-13l-39 1zM5864 8883l40-3l18-12l-40 2z"/>
<path fill="#96df10" d="M5904 8880l41-5l17-11l-40 4zM5945 8875l40-7l18-10l-41 6z"/>
<path fill="#a3e010" d="M5985 8868l40-8l18-10l-40 8zM6025 8860l41-10l18-10l-41 10z"/>
<path fill="#b0e111" d="M6066 8850l41-12l17-9l-40 11z"/>
<path fill="#bee212" d="M6107 8838l41-12l18-10l-42 13z"/>
<path fill="#cce414" d="M6148 8826l42-13l17-10l-41 13zM6190 8813l41-13l17-12l-41 15z"/>
<path fill="#dae515" d="M6231 8800l42-13l17-13l-42 14z"/>
<path fill="#e8e616" d="M6273 8787l43-12l16-15l-42 14zM6316 8775l42-11l17-17l-43 13z"/>
<path fill="#f6e818" d="M6358 8764l42-8l17-21l-42 12z"/>
<path fill="#f9e217" d="M6400 8756l43-6l17-24l-43 9zM6443 8750l43-2l17-29l-43 7zM6486 8748l43 1l17-33l-43 3z"/>
<path fill="#fadb15" d="M6529 8749l43 4l17-35l-43-2zM6572 8753l43 8l17-37l-43-6zM6615 8761l43 10l17-38l-43-9z"/>
<path fill="#ffc010" d="M4650 8351l36 2l20-48l-37-4zM4686 8353l37 15l20-47l-37-16z"/>
<path fill="#fec711" d="M4723 8368l38 25l20-47l-38-25zM4761 8393l38 31l20-45l-38-33z"/>
<path fill="#fbd414" d="M4799 8424l39 36l20-44l-39-37z"/>
<path fill="#fadb15" d="M4838 8460l39 37l19-42l-38-39z"/>
<path fill="#f9e217" d="M4877 8497l38 36l20-40l-39-38z"/>
<path fill="#f6e818" d="M4915 8533l39 36l20-38l-39-38z"/>
<path fill="#e8e616" d="M4954 8569l39 33l19-35l-38-36z"/>
<path fill="#dae515" d="M4993 8602l38 31l20-33l-39-33z"/>
<path fill="#cce414" d="M5031 8633l39 29l19-31l-38-31z"/>
<path fill="#bee212" d="M5070 8662l38 25l20-28l-39-28z"/>
<path fill="#b0e111" d="M5108 8687l38 24l20-26l-38-26zM5146 8711l38 21l20-24l-38-23z"/>
<path fill="#a3e010" d="M5184 8732l39 19l19-22l-38-21zM5223 8751l38 17l20-19l-39-20z"/>
<path fill="#96df10" d="M5261 8768l38 16l20-18l-38-17zM5299 8784l39 15l19-17l-38-16zM5338 8799l38 13l20-15l-39-15z"/>
<path fill="#89df10" d="M5376 8812l39 13l19-15l-38-13zM5415 8825l39 12l19-14l-39-13zM5454 8837l38 11l19-14l-38-11zM5492 8848l39 10l19-13l-39-11zM5531 8858l39 10l19-14l-39-9zM5570 8868l39 8l19-14l-39-8zM5609 8876l39 7l19-13l-39-8zM5648 8883l40 5l18-13l-39-5zM5688 8888l39 4l19-12l-40-5zM5727 8892l40 3l18-12l-39-3zM5767 8895l39 0l19-12l-40 0zM5806 8895l40-1l18-11l-39 0z"/>
<path fill="#96df10" d="M5846 8894l40-3l18-11l-40 3zM5886 8891l41-6l18-10l-41 5zM5927 8885l40-7l18-10l-40 7z"/>
<path fill="#a3e010" d="M5967 8878l41-9l17-9l-40 8z"/>
<path fill="#b0e111" d="M6008 8869l40-10l18-9l-41 10zM6048 8859l42-11l17-10l-41 12z"/>
<path fill="#bee212" d="M6090 8848l41-12l17-10l-41 12z"/>
<path fill="#cce414" d="M6131 8836l41-12l18-11l-42 13zM6172 8824l42-12l17-12l-41 13z"/>
<path fill="#dae515" d="M6214 8812l42-11l17-14l-42 13z"/>
<path fill="#e8e616" d="M6256 8801l42-10l18-16l-43 12zM6298 8791l43-7l17-20l-42 11z"/>
<path fill="#f6e818" d="M6341 8784l42-4l17-24l-42 8zM6383 8780l43-2l17-28l-43 6z"/>
<path fill="#f9e217" d="M6426 8778l43 1l17-31l-43 2zM6469 8779l43 5l17-35l-43-1zM6512 8784l43 7l17-38l-43-4zM6555 8791l43 10l17-40l-43-8zM6598 8801l43 9l17-39l-43-10z"/>
<path fill="#fec711" d="M4630 8402l37 2l19-51l-36-2zM4667 8404l37 13l19-49l-37-15z"/>
<path fill="#fdce13" d="M4704 8417l38 24l19-48l-38-25z"/>
<path fill="#fbd414" d="M4742 8441l38 31l19-48l-38-31z"/>
<path fill="#fadb15" d="M4780 8472l39 33l19-45l-39-36z"/>
<path fill="#f9e217" d="M4819 8505l38 35l20-43l-39-37z"/>
<path fill="#f6e818" d="M4857 8540l39 35l19-42l-38-36z"/>
<path fill="#e8e616" d="M4896 8575l38 33l20-39l-39-36z"/>
<path fill="#dae515" d="M4934 8608l39 30l20-36l-39-33z"/>
<path fill="#cce414" d="M4973 8638l38 29l20-34l-38-31z"/>
<path fill="#bee212" d="M5011 8667l39 25l20-30l-39-29z"/>
<path fill="#b0e111" d="M5050 8692l38 24l20-29l-38-25zM5088 8716l38 20l20-25l-38-24z"/>
<path fill="#a3e010" d="M5126 8736l39 19l19-23l-38-21zM5165 8755l38 17l20-21l-39-19z"/>
<path fill="#96df10" d="M5203 8772l38 16l20-20l-38-17zM5241 8788l39 14l19-18l-38-16zM5280 8802l38 13l20-16l-39-15zM5318 8815l39 13l19-16l-38-13z"/>
<path fill="#89df10" d="M5357 8828l38 12l20-15l-39-13zM5395 8840l39 11l20-14l-39-12zM5434 8851l39 11l19-14l-38-11zM5473 8862l39 10l19-14l-39-10zM5512 8872l39 9l19-13l-39-10zM5551 8881l39 7l19-12l-39-8zM5590 8888l39 7l19-12l-39-7zM5629 8895l40 6l19-13l-40-5zM5669 8901l39 3l19-12l-39-4zM5708 8904l40 2l19-11l-40-3zM5748 8906l40 1l18-12l-39 0zM5788 8907l40-2l18-11l-40 1z"/>
<path fill="#96df10" d="M5828 8905l40-4l18-10l-40 3zM5868 8901l40-6l19-10l-41 6z"/>
<path fill="#a3e010" d="M5908 8895l41-7l18-10l-40 7zM5949 8888l41-9l18-10l-41 9z"/>
<path fill="#b0e111" d="M5990 8879l41-11l17-9l-40 10z"/>
<path fill="#bee212" d="M6031 8868l41-11l18-9l-42 11zM6072 8857l41-11l18-10l-41 12z"/>
<path fill="#cce414" d="M6113 8846l42-11l17-11l-41 12z"/>
<path fill="#dae515" d="M6155 8835l42-10l17-13l-42 12zM6197 8825l42-8l17-16l-42 11z"/>
<path fill="#e8e616" d="M6239 8817l42-7l17-19l-42 10zM6281 8810l43-4l17-22l-43 7z"/>
<path fill="#f6e818" d="M6324 8806l42 0l17-26l-42 4zM6366 8806l43 2l17-30l-43 2zM6409 8808l43 6l17-35l-43-1zM6452 8814l43 8l17-38l-43-5zM6495 8822l43 11l17-42l-43-7zM6538 8833l43 10l17-42l-43-10zM6581 8843l43 8l17-41l-43-9z"/>
<path fill="#fbd414" d="M4611 8455l36 2l20-53l-37-2zM4647 8457l37 12l20-52l-37-13zM4684 8469l38 23l20-51l-38-24z"/>
<path fill="#fadb15" d="M4722 8492l39 29l19-49l-38-31z"/>
<path fill="#f9e217" d="M4761 8521l38 31l20-47l-39-33z"/>
<path fill="#f6e818" d="M4799 8552l39 33l19-45l-38-35z"/>
<path fill="#e8e616" d="M4838 8585l38 32l20-42l-39-35z"/>
<path fill="#dae515" d="M4876 8617l39 30l19-39l-38-33z"/>
<path fill="#cce414" d="M4915 8647l38 28l20-37l-39-30z"/>
<path fill="#bee212" d="M4953 8675l39 25l19-33l-38-29zM4992 8700l38 23l20-31l-39-25z"/>
<path fill="#b0e111" d="M5030 8723l38 21l20-28l-38-24z"/>
<path fill="#a3e010" d="M5068 8744l38 18l20-26l-38-20zM5106 8762l39 16l20-23l-39-19zM5145 8778l38 15l20-21l-38-17z"/>
<path fill="#96df10" d="M5183 8793l38 14l20-19l-38-16zM5221 8807l39 13l20-18l-39-14zM5260 8820l38 12l20-17l-38-13z"/>
<path fill="#89df10" d="M5298 8832l39 11l20-15l-39-13zM5337 8843l39 11l19-14l-38-12zM5376 8854l39 11l19-14l-39-11zM5415 8865l38 10l20-13l-39-11zM5453 8875l40 9l19-12l-39-10zM5493 8884l39 9l19-12l-39-9zM5532 8893l39 7l19-12l-39-7zM5571 8900l39 7l19-12l-39-7zM5610 8907l40 5l19-11l-40-6zM5650 8912l40 3l18-11l-39-3zM5690 8915l39 2l19-11l-40-2zM5729 8917l40 0l19-10l-40-1z"/>
<path fill="#96df10" d="M5769 8917l40-3l19-9l-40 2zM5809 8914l41-4l18-9l-40 4zM5850 8910l40-6l18-9l-40 6z"/>
<path fill="#a3e010" d="M5890 8904l41-7l18-9l-41 7zM5931 8897l41-9l18-9l-41 9z"/>
<path fill="#b0e111" d="M5972 8888l41-10l18-10l-41 11z"/>
<path fill="#bee212" d="M6013 8878l41-11l18-10l-41 11zM6054 8867l42-10l17-11l-41 11z"/>
<path fill="#cce414" d="M6096 8857l41-9l18-13l-42 11z"/>
<path fill="#dae515" d="M6137 8848l42-8l18-15l-42 10zM6179 8840l43-6l17-17l-42 8z"/>
<path fill="#e8e616" d="M6222 8834l42-3l17-21l-42 7zM6264 8831l42 0l18-25l-43 4zM6306 8831l43 4l17-29l-42 0zM6349 8835l43 7l17-34l-43-2zM6392 8842l43 10l17-38l-43-6zM6435 8852l42 12l18-42l-43-8zM6477 8864l43 13l18-44l-43-11zM6520 8877l44 11l17-45l-43-10zM6564 8888l43 8l17-45l-43-8z"/>
<path fill="#fadb15" d="M4592 8509l36 2l19-54l-36-2zM4628 8511l37 12l19-54l-37-12z"/>
<path fill="#f9e217" d="M4665 8523l38 21l19-52l-38-23zM4703 8544l38 27l20-50l-39-29z"/>
<path fill="#f6e818" d="M4741 8571l39 29l19-48l-38-31z"/>
<path fill="#e8e616" d="M4780 8600l38 30l20-45l-39-33z"/>
<path fill="#dae515" d="M4818 8630l38 29l20-42l-38-32z"/>
<path fill="#cce414" d="M4856 8659l39 28l20-40l-39-30z"/>
<path fill="#bee212" d="M4895 8687l38 24l20-36l-38-28z"/>
<path fill="#b0e111" d="M4933 8711l39 23l20-34l-39-25zM4972 8734l38 20l20-31l-38-23z"/>
<path fill="#a3e010" d="M5010 8754l38 18l20-28l-38-21zM5048 8772l38 15l20-25l-38-18zM5086 8787l39 14l20-23l-39-16z"/>
<path fill="#96df10" d="M5125 8801l38 13l20-21l-38-15zM5163 8814l38 12l20-19l-38-14zM5201 8826l39 11l20-17l-39-13zM5240 8837l38 11l20-16l-38-12z"/>
<path fill="#89df10" d="M5278 8848l39 10l20-15l-39-11zM5317 8858l39 10l20-14l-39-11zM5356 8868l39 10l20-13l-39-11zM5395 8878l39 9l19-12l-38-10zM5434 8887l39 9l20-12l-40-9zM5473 8896l39 8l20-11l-39-9zM5512 8904l40 7l19-11l-39-7zM5552 8911l39 6l19-10l-39-7zM5591 8917l40 5l19-10l-40-5zM5631 8922l40 3l19-10l-40-3zM5671 8925l40 1l18-9l-39-2zM5711 8926l40 0l18-9l-40 0z"/>
<path fill="#96df10" d="M5751 8926l40-3l18-9l-40 3zM5791 8923l40-4l19-9l-41 4z"/>
<path fill="#a3e010" d="M5831 8919l41-6l18-9l-40 6zM5872 8913l41-8l18-8l-41 7z"/>
<path fill="#b0e111" d="M5913 8905l41-8l18-9l-41 9zM5954 8897l41-10l18-9l-41 10z"/>
<path fill="#bee212" d="M5995 8887l41-9l18-11l-41 11z"/>
<path fill="#cce414" d="M6036 8878l42-8l18-13l-42 10zM6078 8870l42-8l17-14l-41 9z"/>
<path fill="#dae515" d="M6120 8862l42-5l17-17l-42 8zM6162 8857l42-3l18-20l-43 6zM6204 8854l42 1l18-24l-42 3z"/>
<path fill="#e8e616" d="M6246 8855l43 4l17-28l-42 0zM6289 8859l43 8l17-32l-43-4zM6332 8867l42 11l18-36l-43-7zM6374 8878l43 15l18-41l-43-10zM6417 8893l43 15l17-44l-42-12z"/>
<path fill="#dae515" d="M6460 8908l43 16l17-47l-43-13zM6503 8924l43 12l18-48l-44-11zM6546 8936l44 7l17-47l-43-8z"/>
<path fill="#f6e818" d="M4572 8564l37 2l19-55l-36-2zM4609 8566l37 12l19-55l-37-12zM4646 8578l38 20l19-54l-38-21z"/>
<path fill="#e8e616" d="M4684 8598l38 24l19-51l-38-27z"/>
<path fill="#dae515" d="M4722 8622l38 27l20-49l-39-29z"/>
<path fill="#cce414" d="M4760 8649l38 27l20-46l-38-30zM4798 8676l39 26l19-43l-38-29z"/>
<path fill="#bee212" d="M4837 8702l38 24l20-39l-39-28z"/>
<path fill="#b0e111" d="M4875 8726l38 21l20-36l-38-24zM4913 8747l38 20l21-33l-39-23z"/>
<path fill="#a3e010" d="M4951 8767l39 17l20-30l-38-20zM4990 8784l38 15l20-27l-38-18z"/>
<path fill="#96df10" d="M5028 8799l38 13l20-25l-38-15zM5066 8812l38 12l21-23l-39-14zM5104 8824l39 10l20-20l-38-13zM5143 8834l38 10l20-18l-38-12zM5181 8844l39 10l20-17l-39-11zM5220 8854l38 9l20-15l-38-11z"/>
<path fill="#89df10" d="M5258 8863l39 9l20-14l-39-10zM5297 8872l39 10l20-14l-39-10zM5336 8882l39 8l20-12l-39-10zM5375 8890l39 9l20-12l-39-9zM5414 8899l39 8l20-11l-39-9zM5453 8907l40 8l19-11l-39-8zM5493 8915l39 6l20-10l-40-7zM5532 8921l40 6l19-10l-39-6zM5572 8927l40 4l19-9l-40-5zM5612 8931l39 3l20-9l-40-3zM5651 8934l40 1l20-9l-40-1z"/>
<path fill="#96df10" d="M5691 8935l41-1l19-8l-40 0zM5732 8934l40-3l19-8l-40 3zM5772 8931l40-4l19-8l-40 4z"/>
<path fill="#a3e010" d="M5812 8927l41-6l19-8l-41 6zM5853 8921l41-7l19-9l-41 8z"/>
<path fill="#b0e111" d="M5894 8914l41-8l19-9l-41 8z"/>
<path fill="#bee212" d="M5935 8906l42-8l18-11l-41 10zM5977 8898l41-8l18-12l-41 9z"/>
<path fill="#cce414" d="M6018 8890l42-6l18-14l-42 8zM6060 8884l42-5l18-17l-42 8z"/>
<path fill="#dae515" d="M6102 8879l42-2l18-20l-42 5zM6144 8877l42 0l18-23l-42 3zM6186 8877l43 5l17-27l-42-1zM6229 8882l42 8l18-31l-43-4zM6271 8890l43 12l18-35l-43-8zM6314 8902l43 16l17-40l-42-11zM6357 8918l42 18l18-43l-43-15zM6399 8936l43 20l18-48l-43-15z"/>
<path fill="#cce414" d="M6442 8956l43 18l18-50l-43-16zM6485 8974l44 14l17-52l-43-12zM6529 8988l43 7l18-52l-44-7z"/>
<path fill="#e8e616" d="M4553 8619l36 4l20-57l-37-2zM4589 8623l37 11l20-56l-37-12z"/>
<path fill="#dae515" d="M4626 8634l38 18l20-54l-38-20zM4664 8652l38 23l20-53l-38-24z"/>
<path fill="#cce414" d="M4702 8675l38 23l20-49l-38-27z"/>
<path fill="#bee212" d="M4740 8698l39 24l19-46l-38-27zM4779 8722l38 22l20-42l-39-26z"/>
<path fill="#b0e111" d="M4817 8744l38 21l20-39l-38-24z"/>
<path fill="#a3e010" d="M4855 8765l38 18l20-36l-38-21zM4893 8783l38 16l20-32l-38-20zM4931 8799l38 14l21-29l-39-17z"/>
<path fill="#96df10" d="M4969 8813l38 12l21-26l-38-15zM5007 8825l39 11l20-24l-38-13zM5046 8836l38 9l20-21l-38-12zM5084 8845l38 9l21-20l-39-10zM5122 8854l39 8l20-18l-38-10zM5161 8862l38 8l21-16l-39-10z"/>
<path fill="#89df10" d="M5199 8870l39 8l20-15l-38-9zM5238 8878l39 8l20-14l-39-9zM5277 8886l39 8l20-12l-39-10zM5316 8894l39 8l20-12l-39-8zM5355 8902l39 8l20-11l-39-9zM5394 8910l39 7l20-10l-39-8zM5433 8917l40 7l20-9l-40-8zM5473 8924l39 6l20-9l-39-6zM5512 8930l40 5l20-8l-40-6zM5552 8935l40 4l20-8l-40-4z"/>
<path fill="#96df10" d="M5592 8939l40 2l19-7l-39-3zM5632 8941l40 1l19-7l-40-1zM5672 8942l41-1l19-7l-41 1zM5713 8941l40-3l19-7l-40 3z"/>
<path fill="#a3e010" d="M5753 8938l41-4l18-7l-40 4zM5794 8934l40-5l19-8l-41 6z"/>
<path fill="#b0e111" d="M5834 8929l42-6l18-9l-41 7zM5876 8923l41-7l18-10l-41 8z"/>
<path fill="#bee212" d="M5917 8916l41-6l19-12l-42 8zM5958 8910l42-5l18-15l-41 8z"/>
<path fill="#cce414" d="M6000 8905l42-4l18-17l-42 6zM6042 8901l42-2l18-20l-42 5zM6084 8899l42 1l18-23l-42 2z"/>
<path fill="#dae515" d="M6126 8900l42 4l18-27l-42 0zM6168 8904l43 8l18-30l-43-5zM6211 8912l43 13l17-35l-42-8zM6254 8925l42 16l18-39l-43-12z"/>
<path fill="#cce414" d="M6296 8941l43 20l18-43l-43-16zM6339 8961l43 23l17-48l-42-18z"/>
<path fill="#bee212" d="M6382 8984l43 23l17-51l-43-20zM6425 9007l43 21l17-54l-43-18zM6468 9028l43 16l18-56l-44-14z"/>
<path fill="#b0e111" d="M6511 9044l43 8l18-57l-43-7z"/>
<path fill="#cce414" d="M4533 8674l37 5l19-56l-36-4zM4570 8679l37 12l19-57l-37-11zM4607 8691l38 17l19-56l-38-18z"/>
<path fill="#bee212" d="M4645 8708l38 20l19-53l-38-23zM4683 8728l38 20l19-50l-38-23z"/>
<path fill="#b0e111" d="M4721 8748l38 19l20-45l-39-24z"/>
<path fill="#a3e010" d="M4759 8767l38 19l20-42l-38-22zM4797 8786l38 16l20-37l-38-21zM4835 8802l38 15l20-34l-38-18z"/>
<path fill="#96df10" d="M4873 8817l38 12l20-30l-38-16zM4911 8829l38 11l20-27l-38-14zM4949 8840l38 10l20-25l-38-12zM4987 8850l38 8l21-22l-39-11zM5025 8858l38 8l21-21l-38-9zM5063 8866l39 7l20-19l-38-9zM5102 8873l38 6l21-17l-39-8z"/>
<path fill="#89df10" d="M5140 8879l39 7l20-16l-38-8zM5179 8886l38 7l21-15l-39-8zM5217 8893l39 7l21-14l-39-8zM5256 8900l39 7l21-13l-39-8zM5295 8907l40 6l20-11l-39-8zM5335 8913l39 7l20-10l-39-8zM5374 8920l39 7l20-10l-39-7zM5413 8927l40 6l20-9l-40-7zM5453 8933l40 5l19-8l-39-6z"/>
<path fill="#96df10" d="M5493 8938l39 4l20-7l-40-5zM5532 8942l40 3l20-6l-40-4zM5572 8945l41 2l19-6l-40-2zM5613 8947l40 1l19-6l-40-1zM5653 8948l40-1l20-6l-41 1z"/>
<path fill="#a3e010" d="M5693 8947l41-2l19-7l-40 3zM5734 8945l41-3l19-8l-41 4zM5775 8942l41-5l18-8l-40 5z"/>
<path fill="#b0e111" d="M5816 8937l41-4l19-10l-42 6zM5857 8933l41-5l19-12l-41 7z"/>
<path fill="#bee212" d="M5898 8928l42-4l18-14l-41 6zM5940 8924l42-3l18-16l-42 5z"/>
<path fill="#cce414" d="M5982 8921l41-1l19-19l-42 4zM6023 8920l43 1l18-22l-42 2zM6066 8921l42 5l18-26l-42-1zM6108 8926l42 8l18-30l-42-4zM6150 8934l43 13l18-35l-43-8zM6193 8947l43 16l18-38l-43-13zM6236 8963l42 21l18-43l-42-16z"/>
<path fill="#bee212" d="M6278 8984l43 24l18-47l-43-20zM6321 9008l43 27l18-51l-43-23z"/>
<path fill="#b0e111" d="M6364 9035l43 26l18-54l-43-23zM6407 9061l43 25l18-58l-43-21z"/>
<path fill="#a3e010" d="M6450 9086l43 19l18-61l-43-16zM6493 9105l43 10l18-63l-43-8z"/>
<path fill="#b0e111" d="M4514 8728l37 8l19-57l-37-5zM4551 8736l37 13l19-58l-37-12zM4588 8749l37 15l20-56l-38-17zM4625 8764l38 17l20-53l-38-20z"/>
<path fill="#a3e010" d="M4663 8781l38 16l20-49l-38-20zM4701 8797l38 15l20-45l-38-19z"/>
<path fill="#96df10" d="M4739 8812l37 14l21-40l-38-19zM4776 8826l38 13l21-37l-38-16zM4814 8839l38 11l21-33l-38-15zM4852 8850l38 9l21-30l-38-12z"/>
<path fill="#89df10" d="M4890 8859l38 8l21-27l-38-11zM4928 8867l38 6l21-23l-38-10zM4966 8873l38 6l21-21l-38-8zM5004 8879l38 6l21-19l-38-8zM5042 8885l39 5l21-17l-39-7zM5081 8890l38 6l21-17l-38-6zM5119 8896l39 5l21-15l-39-7z"/>
<path fill="#96df10" d="M5158 8901l39 5l20-13l-38-7zM5197 8906l39 6l20-12l-39-7zM5236 8912l39 6l20-11l-39-7zM5275 8918l39 6l21-11l-40-6zM5314 8924l39 6l21-10l-39-7zM5353 8930l40 5l20-8l-39-7zM5393 8935l40 5l20-7l-40-6zM5433 8940l40 5l20-7l-40-5zM5473 8945l39 3l20-6l-39-4zM5512 8948l41 3l19-6l-40-3zM5553 8951l40 1l20-5l-41-2zM5593 8952l40 1l20-5l-40-1z"/>
<path fill="#a3e010" d="M5633 8953l41-1l19-5l-40 1zM5674 8952l41-1l19-6l-41 2zM5715 8951l40-2l20-7l-41 3z"/>
<path fill="#b0e111" d="M5755 8949l42-3l19-9l-41 5zM5797 8946l41-2l19-11l-41 4z"/>
<path fill="#bee212" d="M5838 8944l41-2l19-14l-41 5zM5879 8942l42-2l19-16l-42 4zM5921 8940l42 1l19-20l-42 3z"/>
<path fill="#cce414" d="M5963 8941l42 2l18-23l-41 1zM6005 8943l42 5l19-27l-43-1zM6047 8948l43 9l18-31l-42-5zM6090 8957l42 12l18-35l-42-8zM6132 8969l43 17l18-39l-43-13z"/>
<path fill="#bee212" d="M6175 8986l42 20l19-43l-43-16zM6217 9006l43 25l18-47l-42-21z"/>
<path fill="#b0e111" d="M6260 9031l43 28l18-51l-43-24zM6303 9059l43 30l18-54l-43-27z"/>
<path fill="#a3e010" d="M6346 9089l43 31l18-59l-43-26z"/>
<path fill="#96df10" d="M6389 9120l43 28l18-62l-43-25zM6432 9148l43 23l18-66l-43-19z"/>
<path fill="#89df10" d="M6475 9171l43 14l18-70l-43-10z"/>
<path fill="#a3e010" d="M4494 8781l37 12l20-57l-37-8zM4531 8793l37 13l20-57l-37-13z"/>
<path fill="#96df10" d="M4568 8806l38 14l19-56l-37-15zM4606 8820l37 14l20-53l-38-17zM4643 8834l38 12l20-49l-38-16zM4681 8846l37 11l21-45l-38-15z"/>
<path fill="#89df10" d="M4718 8857l38 9l20-40l-37-14zM4756 8866l38 8l20-35l-38-13zM4794 8874l37 7l21-31l-38-11zM4831 8881l38 5l21-27l-38-9zM4869 8886l38 5l21-24l-38-8zM4907 8891l38 4l21-22l-38-6zM4945 8895l38 4l21-20l-38-6zM4983 8899l38 4l21-18l-38-6zM5021 8903l39 4l21-17l-39-5zM5060 8907l38 4l21-15l-38-6zM5098 8911l39 4l21-14l-39-5z"/>
<path fill="#96df10" d="M5137 8915l39 4l21-13l-39-5zM5176 8919l39 5l21-12l-39-6zM5215 8924l39 5l21-11l-39-6zM5254 8929l39 4l21-9l-39-6zM5293 8933l40 5l20-8l-39-6zM5333 8938l40 4l20-7l-40-5zM5373 8942l39 4l21-6l-40-5zM5412 8946l40 4l21-5l-40-5zM5452 8950l40 3l20-5l-39-3zM5492 8953l41 2l20-4l-41-3z"/>
<path fill="#a3e010" d="M5533 8955l40 2l20-5l-40-1zM5573 8957l40 0l20-4l-40-1zM5613 8957l41 1l20-6l-41 1zM5654 8958l41-1l20-6l-41 1z"/>
<path fill="#b0e111" d="M5695 8957l41 0l19-8l-40 2zM5736 8957l41-1l20-10l-42 3zM5777 8956l42 0l19-12l-41 2z"/>
<path fill="#bee212" d="M5819 8956l41 1l19-15l-41 2zM5860 8957l42 2l19-19l-42 2zM5902 8959l42 4l19-22l-42-1zM5944 8963l43 7l18-27l-42-2zM5987 8970l42 9l18-31l-42-5zM6029 8979l42 13l19-35l-43-9zM6071 8992l43 17l18-40l-42-12zM6114 9009l43 20l18-43l-43-17z"/>
<path fill="#b0e111" d="M6157 9029l42 25l18-48l-42-20zM6199 9054l43 28l18-51l-43-25z"/>
<path fill="#a3e010" d="M6242 9082l43 32l18-55l-43-28z"/>
<path fill="#96df10" d="M6285 9114l43 33l18-58l-43-30z"/>
<path fill="#89df10" d="M6328 9147l42 35l19-62l-43-31zM6370 9182l43 33l19-67l-43-28z"/>
<path fill="#7cde11" d="M6413 9215l43 28l19-72l-43-23z"/>
<path fill="#6fdd11" d="M6456 9243l44 21l18-79l-43-14z"/>
<path fill="#89df10" d="M4474 8834l38 16l19-57l-37-12zM4512 8850l37 14l19-58l-37-13zM4549 8864l37 13l20-57l-38-14zM4586 8877l38 9l19-52l-37-14z"/>
<path fill="#7cde11" d="M4624 8886l37 8l20-48l-38-12zM4661 8894l37 6l20-43l-37-11zM4698 8900l37 4l21-38l-38-9zM4735 8904l38 3l21-33l-38-8zM4773 8907l37 3l21-29l-37-7z"/>
<path fill="#89df10" d="M4810 8910l38 2l21-26l-38-5zM4848 8912l38 2l21-23l-38-5zM4886 8914l38 2l21-21l-38-4zM4924 8916l38 2l21-19l-38-4zM4962 8918l38 2l21-17l-38-4zM5000 8920l38 2l22-15l-39-4zM5038 8922l39 3l21-14l-38-4z"/>
<path fill="#96df10" d="M5077 8925l39 3l21-13l-39-4zM5116 8928l39 3l21-12l-39-4zM5155 8931l39 4l21-11l-39-5zM5194 8935l39 3l21-9l-39-5zM5233 8938l40 4l20-9l-39-4zM5273 8942l39 4l21-8l-40-5zM5312 8946l40 3l21-7l-40-4zM5352 8949l40 3l20-6l-39-4z"/>
<path fill="#a3e010" d="M5392 8952l40 3l20-5l-40-4zM5432 8955l40 2l20-4l-40-3zM5472 8957l40 2l21-4l-41-2zM5512 8959l41 1l20-3l-40-2zM5553 8960l41 1l19-4l-40 0z"/>
<path fill="#b0e111" d="M5594 8961l40 2l20-5l-41-1zM5634 8963l41 1l20-7l-41 1zM5675 8964l42 1l19-8l-41 0zM5717 8965l41 2l19-11l-41 1z"/>
<path fill="#bee212" d="M5758 8967l42 4l19-15l-42 0zM5800 8971l41 4l19-18l-41-1zM5841 8975l42 6l19-22l-42-2zM5883 8981l43 9l18-27l-42-4zM5926 8990l42 11l19-31l-43-7zM5968 9001l42 14l19-36l-42-9zM6010 9015l43 17l18-40l-42-13z"/>
<path fill="#b0e111" d="M6053 9032l42 21l19-44l-43-17zM6095 9053l43 24l19-48l-43-20z"/>
<path fill="#a3e010" d="M6138 9077l43 29l18-52l-42-25zM6181 9106l43 32l18-56l-43-28z"/>
<path fill="#96df10" d="M6224 9138l42 34l19-58l-43-32z"/>
<path fill="#89df10" d="M6266 9172l43 38l19-63l-43-33z"/>
<path fill="#7cde11" d="M6309 9210l43 38l18-66l-42-35z"/>
<path fill="#6fdd11" d="M6352 9248l43 38l18-71l-43-33z"/>
<path fill="#61d815" d="M6395 9286l43 36l18-79l-43-28z"/>
<path fill="#51c921" d="M6438 9322l43 29l19-87l-44-21z"/>
<path fill="#7cde11" d="M4454 8886l38 20l20-56l-38-16z"/>
<path fill="#6fdd11" d="M4492 8906l37 16l20-58l-37-14zM4529 8922l38 10l19-55l-37-13zM4567 8932l37 6l20-52l-38-9zM4604 8938l37 3l20-47l-37-8zM4641 8941l37 0l20-41l-37-6zM4678 8941l37 0l20-37l-37-4z"/>
<path fill="#7cde11" d="M4715 8941l37-2l21-32l-38-3zM4752 8939l37-1l21-28l-37-3zM4789 8938l38-2l21-24l-38-2zM4827 8936l37-1l22-21l-38-2z"/>
<path fill="#89df10" d="M4864 8935l38-1l22-18l-38-2zM4902 8934l38 0l22-16l-38-2zM4940 8934l39 1l21-15l-38-2zM4979 8935l38 1l21-14l-38-2zM5017 8936l39 2l21-13l-39-3z"/>
<path fill="#96df10" d="M5056 8938l39 2l21-12l-39-3zM5095 8940l39 2l21-11l-39-3zM5134 8942l39 3l21-10l-39-4zM5173 8945l39 2l21-9l-39-3zM5212 8947l40 3l21-8l-40-4zM5252 8950l39 2l21-6l-39-4z"/>
<path fill="#a3e010" d="M5291 8952l40 3l21-6l-40-3zM5331 8955l40 2l21-5l-40-3zM5371 8957l40 1l21-3l-40-3zM5411 8958l40 2l21-3l-40-2zM5451 8960l41 2l20-3l-40-2z"/>
<path fill="#b0e111" d="M5492 8962l41 2l20-4l-41-1zM5533 8964l40 2l21-5l-41-1zM5573 8966l41 2l20-5l-40-2zM5614 8968l42 3l19-7l-41-1zM5656 8971l41 4l20-10l-42-1zM5697 8975l42 5l19-13l-41-2z"/>
<path fill="#bee212" d="M5739 8980l41 7l20-16l-42-4zM5780 8987l42 9l19-21l-41-4zM5822 8996l42 11l19-26l-42-6zM5864 9007l43 13l19-30l-43-9z"/>
<path fill="#b0e111" d="M5907 9020l42 16l19-35l-42-11zM5949 9036l43 18l18-39l-42-14zM5992 9054l42 22l19-44l-43-17z"/>
<path fill="#a3e010" d="M6034 9076l43 26l18-49l-42-21zM6077 9102l43 28l18-53l-43-24z"/>
<path fill="#96df10" d="M6120 9130l42 32l19-56l-43-29z"/>
<path fill="#89df10" d="M6162 9162l43 35l19-59l-43-32z"/>
<path fill="#7cde11" d="M6205 9197l43 38l18-63l-42-34z"/>
<path fill="#6fdd11" d="M6248 9235l43 41l18-66l-43-38z"/>
<path fill="#61d815" d="M6291 9276l42 43l19-71l-43-38z"/>
<path fill="#51c921" d="M6333 9319l43 45l19-78l-43-38z"/>
<path fill="#42b92c" d="M6376 9364l43 45l19-87l-43-36z"/>
<path fill="#32aa38" d="M6419 9409l43 39l19-97l-43-29z"/>
<path fill="#61d815" d="M4434 8938l38 24l20-56l-38-20zM4472 8962l38 17l19-57l-37-16zM4510 8979l37 8l20-55l-38-10zM4547 8987l37 2l20-51l-37-6zM4584 8989l36-2l21-46l-37-3zM4620 8987l37-5l21-41l-37 0zM4657 8982l37-6l21-35l-37 0z"/>
<path fill="#6fdd11" d="M4694 8976l37-6l21-31l-37 2zM4731 8970l37-6l21-26l-37 1z"/>
<path fill="#7cde11" d="M4768 8964l37-5l22-23l-38 2zM4805 8959l38-4l21-20l-37 1zM4843 8955l37-3l22-18l-38 1z"/>
<path fill="#89df10" d="M4880 8952l39-2l21-16l-38 0zM4919 8950l38-1l22-14l-39-1zM4957 8949l38 0l22-13l-38-1z"/>
<path fill="#96df10" d="M4995 8949l39 1l22-12l-39-2zM5034 8950l39 1l22-11l-39-2zM5073 8951l39 1l22-10l-39-2zM5112 8952l39 2l22-9l-39-3zM5151 8954l40 2l21-9l-39-2z"/>
<path fill="#a3e010" d="M5191 8956l39 1l22-7l-40-3zM5230 8957l40 1l21-6l-39-2zM5270 8958l40 2l21-5l-40-3zM5310 8960l40 1l21-4l-40-2zM5350 8961l40 1l21-4l-40-1z"/>
<path fill="#b0e111" d="M5390 8962l41 1l20-3l-40-2zM5431 8963l40 2l21-3l-41-2zM5471 8965l41 2l21-3l-41-2zM5512 8967l41 3l20-4l-40-2zM5553 8970l41 4l20-6l-41-2zM5594 8974l42 6l20-9l-42-3z"/>
<path fill="#bee212" d="M5636 8980l41 7l20-12l-41-4zM5677 8987l42 8l20-15l-42-5zM5719 8995l42 11l19-19l-41-7zM5761 9006l42 13l19-23l-42-9z"/>
<path fill="#b0e111" d="M5803 9019l42 16l19-28l-42-11zM5845 9035l43 18l19-33l-43-13zM5888 9053l42 21l19-38l-42-16z"/>
<path fill="#a3e010" d="M5930 9074l43 24l19-44l-43-18zM5973 9098l42 27l19-49l-42-22z"/>
<path fill="#96df10" d="M6015 9125l43 29l19-52l-43-26z"/>
<path fill="#89df10" d="M6058 9154l43 33l19-57l-43-28zM6101 9187l43 36l18-61l-42-32z"/>
<path fill="#7cde11" d="M6144 9223l43 38l18-64l-43-35z"/>
<path fill="#6fdd11" d="M6187 9261l42 42l19-68l-43-38z"/>
<path fill="#51c921" d="M6229 9303l43 44l19-71l-43-41z"/>
<path fill="#42b92c" d="M6272 9347l43 48l18-76l-42-43z"/>
<path fill="#32aa38" d="M6315 9395l42 52l19-83l-43-45z"/>
<path fill="#229157" d="M6357 9447l43 55l19-93l-43-45z"/>
<path fill="#1e8569" d="M6400 9502l42 52l20-106l-43-39z"/>
<path fill="#51c921" d="M4414 8992l38 27l20-57l-38-24z"/>
<path fill="#42b92c" d="M4452 9019l38 17l20-57l-38-17zM4490 9036l37 5l20-54l-37-8zM4527 9041l36-2l21-50l-37-2z"/>
<path fill="#51c921" d="M4563 9039l37-8l20-44l-36 2zM4600 9031l36-10l21-39l-37 5z"/>
<path fill="#61d815" d="M4636 9021l36-11l22-34l-37 6zM4672 9010l37-11l22-29l-37 6z"/>
<path fill="#6fdd11" d="M4709 8999l37-10l22-25l-37 6zM4746 8989l37-9l22-21l-37 5z"/>
<path fill="#7cde11" d="M4783 8980l38-7l22-18l-38 4zM4821 8973l38-5l21-16l-37 3z"/>
<path fill="#89df10" d="M4859 8968l38-3l22-15l-39 2zM4897 8965l38-3l22-13l-38 1zM4935 8962l38-1l22-12l-38 0z"/>
<path fill="#96df10" d="M4973 8961l39 0l22-11l-39-1zM5012 8961l39 0l22-10l-39-1zM5051 8961l39 1l22-10l-39-1zM5090 8962l40 0l21-8l-39-2z"/>
<path fill="#a3e010" d="M5130 8962l39 1l22-7l-40-2zM5169 8963l40 1l21-7l-39-1zM5209 8964l40 0l21-6l-40-1zM5249 8964l40 0l21-4l-40-2z"/>
<path fill="#b0e111" d="M5289 8964l40 1l21-4l-40-1zM5329 8965l40 1l21-4l-40-1zM5369 8966l41 1l21-4l-41-1zM5410 8967l41 2l20-4l-40-2zM5451 8969l40 3l21-5l-41-2z"/>
<path fill="#bee212" d="M5491 8972l42 4l20-6l-41-3zM5533 8976l41 6l20-8l-41-4zM5574 8982l42 8l20-10l-42-6zM5616 8990l41 10l20-13l-41-7zM5657 9000l42 12l20-17l-42-8zM5699 9012l42 15l20-21l-42-11z"/>
<path fill="#b0e111" d="M5741 9027l43 18l19-26l-42-13zM5784 9045l42 21l19-31l-42-16zM5826 9066l42 23l20-36l-43-18z"/>
<path fill="#a3e010" d="M5868 9089l43 26l19-41l-42-21z"/>
<path fill="#96df10" d="M5911 9115l43 29l19-46l-43-24zM5954 9144l43 32l18-51l-42-27z"/>
<path fill="#89df10" d="M5997 9176l42 34l19-56l-43-29z"/>
<path fill="#7cde11" d="M6039 9210l43 37l19-60l-43-33z"/>
<path fill="#6fdd11" d="M6082 9247l43 39l19-63l-43-36z"/>
<path fill="#61d815" d="M6125 9286l43 43l19-68l-43-38z"/>
<path fill="#51c921" d="M6168 9329l43 45l18-71l-42-42z"/>
<path fill="#32aa38" d="M6211 9374l42 49l19-76l-43-44z"/>
<path fill="#279c46" d="M6253 9423l43 54l19-82l-43-48z"/>
<path fill="#1e8569" d="M6296 9477l43 59l18-89l-42-52z"/>
<path fill="#1a7a7a" d="M6339 9536l42 67l19-101l-43-55z"/>
<path fill="#185ba0" d="M6381 9603l42 64l19-113l-42-52z"/>
<path fill="#32aa38" d="M4394 9047l39 28l19-56l-38-27zM4433 9075l37 16l20-55l-38-17zM4470 9091l37 2l20-52l-37-5zM4507 9093l36-7l20-47l-36 2zM4543 9086l36-12l21-43l-37 8z"/>
<path fill="#42b92c" d="M4579 9074l36-16l21-37l-36 10z"/>
<path fill="#51c921" d="M4615 9058l36-15l21-33l-36 11z"/>
<path fill="#61d815" d="M4651 9043l36-16l22-28l-37 11zM4687 9027l37-14l22-24l-37 10z"/>
<path fill="#6fdd11" d="M4724 9013l37-12l22-21l-37 9z"/>
<path fill="#7cde11" d="M4761 9001l38-9l22-19l-38 7zM4799 8992l37-8l23-16l-38 5z"/>
<path fill="#89df10" d="M4836 8984l38-5l23-14l-38 3zM4874 8979l39-4l22-13l-38 3z"/>
<path fill="#96df10" d="M4913 8975l38-2l22-12l-38 1zM4951 8973l39-2l22-10l-39 0zM4990 8971l39-1l22-9l-39 0zM5029 8970l39 0l22-8l-39-1z"/>
<path fill="#a3e010" d="M5068 8970l40 0l22-8l-40 0zM5108 8970l39 0l22-7l-39-1zM5147 8970l40-1l22-5l-40-1zM5187 8969l40 0l22-5l-40 0z"/>
<path fill="#b0e111" d="M5227 8969l40 0l22-5l-40 0zM5267 8969l40 0l22-4l-40-1zM5307 8969l41 1l21-4l-40-1zM5348 8970l41 1l21-4l-41-1z"/>
<path fill="#bee212" d="M5389 8971l41 3l21-5l-41-2zM5430 8974l41 4l20-6l-40-3zM5471 8978l41 6l21-8l-42-4zM5512 8984l42 8l20-10l-41-6zM5554 8992l41 10l21-12l-42-8zM5595 9002l42 13l20-15l-41-10zM5637 9015l42 16l20-19l-42-12z"/>
<path fill="#b0e111" d="M5679 9031l43 19l19-23l-42-15zM5722 9050l42 23l20-28l-43-18zM5764 9073l43 25l19-32l-42-21z"/>
<path fill="#a3e010" d="M5807 9098l42 28l19-37l-42-23z"/>
<path fill="#96df10" d="M5849 9126l43 31l19-42l-43-26zM5892 9157l43 34l19-47l-43-29z"/>
<path fill="#89df10" d="M5935 9191l43 37l19-52l-43-32z"/>
<path fill="#7cde11" d="M5978 9228l42 39l19-57l-42-34z"/>
<path fill="#6fdd11" d="M6020 9267l43 41l19-61l-43-37z"/>
<path fill="#51c921" d="M6063 9308l43 45l19-67l-43-39z"/>
<path fill="#42b92c" d="M6106 9353l43 47l19-71l-43-43z"/>
<path fill="#32aa38" d="M6149 9400l43 50l19-76l-43-45z"/>
<path fill="#229157" d="M6192 9450l43 55l18-82l-42-49z"/>
<path fill="#1e8569" d="M6235 9505l42 60l19-88l-43-54z"/>
<path fill="#196b8d" d="M6277 9565l43 68l19-97l-43-59z"/>
<path fill="#174cb3" d="M6320 9633l42 77l19-107l-42-67z"/>
<path fill="#1426de" d="M6362 9710l41 77l20-120l-42-64z"/>
<path fill="#279c46" d="M4374 9107l39 24l20-56l-39-28z"/>
<path fill="#229157" d="M4413 9131l37 13l20-53l-37-16zM4450 9144l36-2l21-49l-37-2z"/>
<path fill="#279c46" d="M4486 9142l36-11l21-45l-36 7zM4522 9131l36-17l21-40l-36 12z"/>
<path fill="#32aa38" d="M4558 9114l36-19l21-37l-36 16z"/>
<path fill="#42b92c" d="M4594 9095l35-20l22-32l-36 15z"/>
<path fill="#51c921" d="M4629 9075l37-19l21-29l-36 16z"/>
<path fill="#61d815" d="M4666 9056l36-17l22-26l-37 14z"/>
<path fill="#6fdd11" d="M4702 9039l37-15l22-23l-37 12z"/>
<path fill="#7cde11" d="M4739 9024l37-13l23-19l-38 9zM4776 9011l38-10l22-17l-37 8z"/>
<path fill="#89df10" d="M4814 9001l38-7l22-15l-38 5zM4852 8994l38-6l23-13l-39 4z"/>
<path fill="#96df10" d="M4890 8988l39-4l22-11l-38 2zM4929 8984l39-3l22-10l-39 2zM4968 8981l39-2l22-9l-39 1z"/>
<path fill="#a3e010" d="M5007 8979l39-1l22-8l-39 0zM5046 8978l40-1l22-7l-40 0zM5086 8977l39-1l22-6l-39 0z"/>
<path fill="#b0e111" d="M5125 8976l40-1l22-6l-40 1zM5165 8975l40 0l22-6l-40 0zM5205 8975l41-1l21-5l-40 0zM5246 8974l40 1l21-6l-40 0z"/>
<path fill="#bee212" d="M5286 8975l41 1l21-6l-41-1zM5327 8976l40 2l22-7l-41-1zM5367 8978l42 3l21-7l-41-3zM5409 8981l41 6l21-9l-41-4zM5450 8987l41 7l21-10l-41-6zM5491 8994l42 10l21-12l-42-8zM5533 9004l42 13l20-15l-41-10zM5575 9017l42 16l20-18l-42-13zM5617 9033l42 19l20-21l-42-16z"/>
<path fill="#b0e111" d="M5659 9052l43 22l20-24l-43-19zM5702 9074l42 26l20-27l-42-23z"/>
<path fill="#a3e010" d="M5744 9100l43 30l20-32l-43-25z"/>
<path fill="#96df10" d="M5787 9130l43 32l19-36l-42-28zM5830 9162l43 36l19-41l-43-31z"/>
<path fill="#89df10" d="M5873 9198l43 39l19-46l-43-34z"/>
<path fill="#7cde11" d="M5916 9237l43 42l19-51l-43-37z"/>
<path fill="#61d815" d="M5959 9279l43 44l18-56l-42-39z"/>
<path fill="#51c921" d="M6002 9323l42 47l19-62l-43-41z"/>
<path fill="#42b92c" d="M6044 9370l43 50l19-67l-43-45z"/>
<path fill="#279c46" d="M6087 9420l43 53l19-73l-43-47z"/>
<path fill="#229157" d="M6130 9473l43 56l19-79l-43-50z"/>
<path fill="#1a7a7a" d="M6173 9529l43 62l19-86l-43-55z"/>
<path fill="#185ba0" d="M6216 9591l42 68l19-94l-42-60z"/>
<path fill="#163cc6" d="M6258 9659l42 77l20-103l-43-68z"/>
<path fill="#1426de" d="M6300 9736l42 87l20-113l-42-77z"/>
<path fill="#121dd5" d="M6342 9823l42 86l19-122l-41-77z"/>
<path fill="#1e8569" d="M4355 9172l38 17l20-58l-39-24zM4393 9189l36 5l21-50l-37-13zM4429 9194l36-7l21-45l-36 2z"/>
<path fill="#229157" d="M4465 9187l36-15l21-41l-36 11zM4501 9172l35-20l22-38l-36 17z"/>
<path fill="#279c46" d="M4536 9152l36-22l22-35l-36 19z"/>
<path fill="#42b92c" d="M4572 9130l36-23l21-32l-35 20z"/>
<path fill="#51c921" d="M4608 9107l36-21l22-30l-37 19z"/>
<path fill="#61d815" d="M4644 9086l36-20l22-27l-36 17z"/>
<path fill="#6fdd11" d="M4680 9066l37-18l22-24l-37 15zM4717 9048l37-15l22-22l-37 13z"/>
<path fill="#7cde11" d="M4754 9033l38-12l22-20l-38 10z"/>
<path fill="#89df10" d="M4792 9021l38-11l22-16l-38 7zM4830 9010l38-8l22-14l-38 6z"/>
<path fill="#96df10" d="M4868 9002l39-6l22-12l-39 4zM4907 8996l38-5l23-10l-39 3z"/>
<path fill="#a3e010" d="M4945 8991l40-3l22-9l-39 2zM4985 8988l39-3l22-7l-39 1zM5024 8985l39-2l23-6l-40 1z"/>
<path fill="#b0e111" d="M5063 8983l40-2l22-5l-39 1zM5103 8981l40 0l22-6l-40 1zM5143 8981l40-1l22-5l-40 0z"/>
<path fill="#bee212" d="M5183 8980l41 1l22-7l-41 1zM5224 8981l40 1l22-7l-40-1zM5264 8982l41 2l22-8l-41-1zM5305 8984l41 3l21-9l-40-2zM5346 8987l41 5l22-11l-42-3zM5387 8992l42 7l21-12l-41-6zM5429 8999l42 9l20-14l-41-7zM5471 9008l41 12l21-16l-42-10zM5512 9020l43 15l20-18l-42-13zM5555 9035l42 17l20-19l-42-16zM5597 9052l42 22l20-22l-42-19z"/>
<path fill="#b0e111" d="M5639 9074l43 24l20-24l-43-22z"/>
<path fill="#a3e010" d="M5682 9098l43 29l19-27l-42-26zM5725 9127l42 32l20-29l-43-30z"/>
<path fill="#96df10" d="M5767 9159l43 36l20-33l-43-32z"/>
<path fill="#89df10" d="M5810 9195l43 40l20-37l-43-36z"/>
<path fill="#7cde11" d="M5853 9235l43 43l20-41l-43-39z"/>
<path fill="#6fdd11" d="M5896 9278l44 47l19-46l-43-42z"/>
<path fill="#51c921" d="M5940 9325l43 50l19-52l-43-44z"/>
<path fill="#42b92c" d="M5983 9375l43 54l18-59l-42-47z"/>
<path fill="#279c46" d="M6026 9429l42 57l19-66l-43-50z"/>
<path fill="#229157" d="M6068 9486l43 61l19-74l-43-53z"/>
<path fill="#1a7a7a" d="M6111 9547l43 66l19-84l-43-56z"/>
<path fill="#185ba0" d="M6154 9613l43 71l19-93l-43-62z"/>
<path fill="#142dda" d="M6197 9684l42 78l19-103l-42-68z"/>
<path fill="#1323db" d="M6239 9762l42 87l19-113l-42-77z"/>
<path fill="#121ad2" d="M6281 9849l42 91l19-117l-42-87z"/>
<path fill="#1011c9" d="M6323 9940l41 90l20-121l-42-86z"/>
<path fill="#196b8d" d="M4336 9245l37 2l20-58l-38-17zM4373 9247l36-7l20-46l-36-5z"/>
<path fill="#1a7a7a" d="M4409 9240l35-13l21-40l-36 7z"/>
<path fill="#1e8569" d="M4444 9227l35-19l22-36l-36 15z"/>
<path fill="#229157" d="M4479 9208l36-21l21-35l-35 20z"/>
<path fill="#279c46" d="M4515 9187l35-23l22-34l-36 22z"/>
<path fill="#32aa38" d="M4550 9164l36-23l22-34l-36 23z"/>
<path fill="#42b92c" d="M4586 9141l36-23l22-32l-36 21z"/>
<path fill="#51c921" d="M4622 9118l36-21l22-31l-36 20z"/>
<path fill="#61d815" d="M4658 9097l37-19l22-30l-37 18z"/>
<path fill="#6fdd11" d="M4695 9078l37-18l22-27l-37 15z"/>
<path fill="#7cde11" d="M4732 9060l38-16l22-23l-38 12z"/>
<path fill="#89df10" d="M4770 9044l37-13l23-21l-38 11zM4807 9031l39-12l22-17l-38 8z"/>
<path fill="#96df10" d="M4846 9019l38-9l23-14l-39 6zM4884 9010l39-8l22-11l-38 5z"/>
<path fill="#a3e010" d="M4923 9002l39-6l23-8l-40 3zM4962 8996l39-4l23-7l-39 3z"/>
<path fill="#b0e111" d="M5001 8992l40-3l22-6l-39 2zM5041 8989l40-2l22-6l-40 2zM5081 8987l40-1l22-5l-40 0z"/>
<path fill="#bee212" d="M5121 8986l40 1l22-7l-40 1zM5161 8987l41 2l22-8l-41-1zM5202 8989l41 2l21-9l-40-1zM5243 8991l41 4l21-11l-41-2zM5284 8995l41 6l21-14l-41-3zM5325 9001l41 7l21-16l-41-5z"/>
<path fill="#cce414" d="M5366 9008l42 8l21-17l-42-7z"/>
<path fill="#bee212" d="M5408 9016l42 11l21-19l-42-9zM5450 9027l42 13l20-20l-41-12zM5492 9040l42 16l21-21l-43-15zM5534 9056l42 18l21-22l-42-17z"/>
<path fill="#b0e111" d="M5576 9074l43 22l20-22l-42-22zM5619 9096l43 25l20-23l-43-24z"/>
<path fill="#a3e010" d="M5662 9121l43 29l20-23l-43-29z"/>
<path fill="#96df10" d="M5705 9150l43 33l19-24l-42-32z"/>
<path fill="#89df10" d="M5748 9183l43 37l19-25l-43-36z"/>
<path fill="#7cde11" d="M5791 9220l43 42l19-27l-43-40z"/>
<path fill="#6fdd11" d="M5834 9262l43 47l19-31l-43-43z"/>
<path fill="#61d815" d="M5877 9309l43 53l20-37l-44-47z"/>
<path fill="#42b92c" d="M5920 9362l43 57l20-44l-43-50z"/>
<path fill="#32aa38" d="M5963 9419l44 62l19-52l-43-54z"/>
<path fill="#229157" d="M6007 9481l43 68l18-63l-42-57z"/>
<path fill="#1a7a7a" d="M6050 9549l42 73l19-75l-43-61z"/>
<path fill="#174cb3" d="M6092 9622l43 77l19-86l-43-66z"/>
<path fill="#142dda" d="M6135 9699l43 83l19-98l-43-71z"/>
<path fill="#1323db" d="M6178 9782l42 89l19-109l-42-78z"/>
<path fill="#121ad2" d="M6220 9871l42 91l19-113l-42-87z"/>
<path fill="#1011c9" d="M6262 9962l41 95l20-117l-42-91z"/>
<path fill="#0f0fb6" d="M6303 10057l42 81l19-108l-41-90z"/>
<path fill="#174cb3" d="M4318 9318l34-18l21-53l-37-2z"/>
<path fill="#185ba0" d="M4352 9300l35-21l22-39l-36 7z"/>
<path fill="#196b8d" d="M4387 9279l35-21l22-31l-35 13z"/>
<path fill="#1a7a7a" d="M4422 9258l35-21l22-29l-35 19z"/>
<path fill="#1e8569" d="M4457 9237l36-21l22-29l-36 21z"/>
<path fill="#229157" d="M4493 9216l35-21l22-31l-35 23z"/>
<path fill="#279c46" d="M4528 9195l36-22l22-32l-36 23z"/>
<path fill="#32aa38" d="M4564 9173l36-21l22-34l-36 23z"/>
<path fill="#42b92c" d="M4600 9152l36-22l22-33l-36 21z"/>
<path fill="#61d815" d="M4636 9130l37-20l22-32l-37 19z"/>
<path fill="#6fdd11" d="M4673 9110l37-20l22-30l-37 18zM4710 9090l37-19l23-27l-38 16z"/>
<path fill="#7cde11" d="M4747 9071l38-17l22-23l-37 13z"/>
<path fill="#89df10" d="M4785 9054l38-15l23-20l-39 12z"/>
<path fill="#96df10" d="M4823 9039l38-13l23-16l-38 9zM4861 9026l39-11l23-13l-39 8z"/>
<path fill="#a3e010" d="M4900 9015l39-9l23-10l-39 6z"/>
<path fill="#b0e111" d="M4939 9006l40-6l22-8l-39 4zM4979 9000l39-4l23-7l-40 3zM5018 8996l40-2l23-7l-40 2z"/>
<path fill="#bee212" d="M5058 8994l40 0l23-8l-40 1zM5098 8994l41 2l22-9l-40-1zM5139 8996l41 4l22-11l-41-2zM5180 9000l41 5l22-14l-41-2zM5221 9005l41 6l22-16l-41-4zM5262 9011l41 8l22-18l-41-6zM5303 9019l42 9l21-20l-41-7zM5345 9028l42 10l21-22l-42-8zM5387 9038l42 12l21-23l-42-11zM5429 9050l42 13l21-23l-42-13zM5471 9063l42 15l21-22l-42-16zM5513 9078l43 18l20-22l-42-18z"/>
<path fill="#b0e111" d="M5556 9096l43 20l20-20l-43-22zM5599 9116l42 23l21-18l-43-25z"/>
<path fill="#a3e010" d="M5641 9139l43 28l21-17l-43-29z"/>
<path fill="#96df10" d="M5684 9167l44 32l20-16l-43-33z"/>
<path fill="#89df10" d="M5728 9199l43 37l20-16l-43-37z"/>
<path fill="#7cde11" d="M5771 9236l43 43l20-17l-43-42z"/>
<path fill="#6fdd11" d="M5814 9279l44 50l19-20l-43-47z"/>
<path fill="#51c921" d="M5858 9329l43 57l19-24l-43-53z"/>
<path fill="#42b92c" d="M5901 9386l43 64l19-31l-43-57z"/>
<path fill="#279c46" d="M5944 9450l44 71l19-40l-44-62z"/>
<path fill="#1e8569" d="M5988 9521l43 80l19-52l-43-68z"/>
<path fill="#185ba0" d="M6031 9601l43 85l18-64l-42-73z"/>
<path fill="#142dda" d="M6074 9686l42 92l19-79l-43-77z"/>
<path fill="#1323db" d="M6116 9778l43 95l19-91l-43-83z"/>
<path fill="#121ad2" d="M6159 9873l42 98l19-100l-42-89z"/>
<path fill="#1010c4" d="M6201 9971l42 96l19-105l-42-91z"/>
<path fill="#0f0faf" d="M6243 10067l41 89l19-99l-41-95z"/>
<path fill="#0e0ea2" d="M6284 10156l43 54l18-72l-42-81z"/>
</g>
<rect x="681.0" y="754.0" width="60.0" height="84.0" fill="#fff"/>
<rect x="685.1" y="759.6" width="24.7" height="7.4" fill="#0c0c80" stroke="#222" stroke-width="0.9"/>
<text x="715.1" y="767.2" font-size="10.3" font-family="Liberation Sans" fill="#222">20</text>
<rect x="685.1" y="773.0" width="24.7" height="7.4" fill="#1111ee" stroke="#222" stroke-width="0.9"/>
<text x="715.1" y="780.6" font-size="10.3" font-family="Liberation Sans" fill="#222">30</text>
<rect x="685.1" y="786.4" width="24.7" height="7.4" fill="#1a7a7a" stroke="#222" stroke-width="0.9"/>
<text x="715.1" y="794.0" font-size="10.3" font-family="Liberation Sans" fill="#222">40</text>
<rect x="685.1" y="799.8" width="24.7" height="7.4" fill="#66dd11" stroke="#222" stroke-width="0.9"/>
<text x="715.1" y="807.4" font-size="10.3" font-family="Liberation Sans" fill="#222">50</text>
<rect x="685.1" y="813.2" width="24.7" height="7.4" fill="#ffdd00" stroke="#222" stroke-width="0.9"/>
<text x="715.1" y="820.8" font-size="10.3" font-family="Liberation Sans" fill="#222">60</text>
<rect x="685.1" y="826.6" width="24.7" height="7.4" fill="#ff7711" stroke="#222" stroke-width="0.9"/>
<text x="715.1" y="834.2" font-size="10.3" font-family="Liberation Sans" fill="#222">70</text>
<path d="M436.6 988.6L632.4 1035.0" stroke="#444" stroke-width="0.8" fill="none"/>
<path d="M632.4 1035.0L704.8 944.3" stroke="#444" stroke-width="0.8" fill="none"/>
<path d="M436.6 988.6L421.4 810.6" stroke="#444" stroke-width="0.8" fill="none"/>
<path d="M460.7 994.3L458.4 996.2" stroke="#333" stroke-width="0.8" fill="none"/>
<text transform="translate(447.0 1003.5) rotate(5.3)" text-anchor="middle" y="3.9" font-size="11.0" font-family="Liberation Sans" font-weight="bold">160</text>
<path d="M485.4 1000.2L483.2 1002.1" stroke="#333" stroke-width="0.8" fill="none"/>
<text transform="translate(472.0 1009.7) rotate(5.3)" text-anchor="middle" y="3.9" font-size="11.0" font-family="Liberation Sans" font-weight="bold">140</text>
<path d="M510.7 1006.2L508.5 1008.2" stroke="#333" stroke-width="0.8" fill="none"/>
<text transform="translate(497.5 1016.0) rotate(5.3)" text-anchor="middle" y="3.9" font-size="11.0" font-family="Liberation Sans" font-weight="bold">120</text>
<path d="M536.6 1012.3L534.5 1014.4" stroke="#333" stroke-width="0.8" fill="none"/>
<text transform="translate(523.7 1022.5) rotate(5.3)" text-anchor="middle" y="3.9" font-size="11.0" font-family="Liberation Sans" font-weight="bold">100</text>
<path d="M563.1 1018.6L561.1 1020.8" stroke="#333" stroke-width="0.8" fill="none"/>
<text transform="translate(550.6 1029.1) rotate(5.3)" text-anchor="middle" y="3.9" font-size="11.0" font-family="Liberation Sans" font-weight="bold">80</text>
<path d="M590.3 1025.1L588.3 1027.3" stroke="#333" stroke-width="0.8" fill="none"/>
<text transform="translate(578.2 1035.9) rotate(5.3)" text-anchor="middle" y="3.9" font-size="11.0" font-family="Liberation Sans" font-weight="bold">60</text>
<path d="M618.2 1031.7L616.3 1034.0" stroke="#333" stroke-width="0.8" fill="none"/>
<text transform="translate(606.4 1042.8) rotate(5.3)" text-anchor="middle" y="3.9" font-size="11.0" font-family="Liberation Sans" font-weight="bold">40</text>
<path d="M636.5 1029.9L639.4 1030.6" stroke="#333" stroke-width="0.8" fill="none"/>
<text x="642.3" y="1036.1" font-size="10.8" font-family="Liberation Sans" font-weight="bold">100</text>
<path d="M646.3 1017.5L649.3 1018.2" stroke="#333" stroke-width="0.8" fill="none"/>
<text x="652.2" y="1023.7" font-size="10.8" font-family="Liberation Sans" font-weight="bold">150</text>
<path d="M655.8 1005.7L658.7 1006.4" stroke="#333" stroke-width="0.8" fill="none"/>
<text x="661.6" y="1011.8" font-size="10.8" font-family="Liberation Sans" font-weight="bold">200</text>
<path d="M664.8 994.4L667.7 995.0" stroke="#333" stroke-width="0.8" fill="none"/>
<text x="670.7" y="1000.4" font-size="10.8" font-family="Liberation Sans" font-weight="bold">250</text>
<path d="M673.5 983.5L676.4 984.1" stroke="#333" stroke-width="0.8" fill="none"/>
<text x="679.3" y="989.6" font-size="10.8" font-family="Liberation Sans" font-weight="bold">300</text>
<path d="M681.8 973.1L684.7 973.7" stroke="#333" stroke-width="0.8" fill="none"/>
<text x="687.7" y="979.1" font-size="10.8" font-family="Liberation Sans" font-weight="bold">350</text>
<path d="M689.8 963.1L692.7 963.7" stroke="#333" stroke-width="0.8" fill="none"/>
<text x="695.6" y="969.1" font-size="10.8" font-family="Liberation Sans" font-weight="bold">400</text>
<path d="M697.4 953.5L700.4 954.1" stroke="#333" stroke-width="0.8" fill="none"/>
<text x="703.3" y="959.5" font-size="10.8" font-family="Liberation Sans" font-weight="bold">450</text>
<path d="M704.8 944.3L707.7 944.8" stroke="#333" stroke-width="0.8" fill="none"/>
<text x="710.7" y="950.2" font-size="10.8" font-family="Liberation Sans" font-weight="bold">500</text>
<path d="M436.6 988.6L434.2 990.4" stroke="#333" stroke-width="0.8" fill="none"/>
<text x="431.1" y="995.9" text-anchor="end" font-size="10.3" font-family="Liberation Sans" font-weight="bold">20</text>
<path d="M433.8 955.5L431.4 957.3" stroke="#333" stroke-width="0.8" fill="none"/>
<text x="428.3" y="962.8" text-anchor="end" font-size="10.3" font-family="Liberation Sans" font-weight="bold">30</text>
<path d="M430.9 921.2L428.4 922.9" stroke="#333" stroke-width="0.8" fill="none"/>
<text x="425.4" y="928.5" text-anchor="end" font-size="10.3" font-family="Liberation Sans" font-weight="bold">40</text>
<path d="M427.8 885.7L425.3 887.3" stroke="#333" stroke-width="0.8" fill="none"/>
<text x="422.3" y="893.0" text-anchor="end" font-size="10.3" font-family="Liberation Sans" font-weight="bold">50</text>
<path d="M424.7 848.8L422.1 850.3" stroke="#333" stroke-width="0.8" fill="none"/>
<text x="419.2" y="856.1" text-anchor="end" font-size="10.3" font-family="Liberation Sans" font-weight="bold">60</text>
<path d="M421.4 810.6L418.8 811.9" stroke="#333" stroke-width="0.8" fill="none"/>
<text x="415.9" y="817.9" text-anchor="end" font-size="10.3" font-family="Liberation Sans" font-weight="bold">70</text>
<text transform="translate(514.0 1042.5) rotate(14.5) skewX(-9.0)" text-anchor="middle" font-size="11.6" font-family="Liberation Sans" font-weight="bold">Activation time (min)</text>
<text transform="translate(705.0 1006.6) rotate(-51.7)" text-anchor="middle" font-size="11.5" font-family="Liberation Sans" font-weight="bold">Activation temperature (<tspan dy="-4.3" font-size="8.6">o</tspan><tspan dy="4.3">C)</tspan></text>
<text transform="translate(401.0 888.0) rotate(-92.5)" text-anchor="middle" font-size="11.6" font-family="Liberation Sans" font-weight="bold">Response (R%)</text>
<text transform="translate(403 1058) scale(.88 1)" font-size="23.5" font-family="Liberation Sans" font-weight="bold">f)</text>
</svg>
</body></html>
